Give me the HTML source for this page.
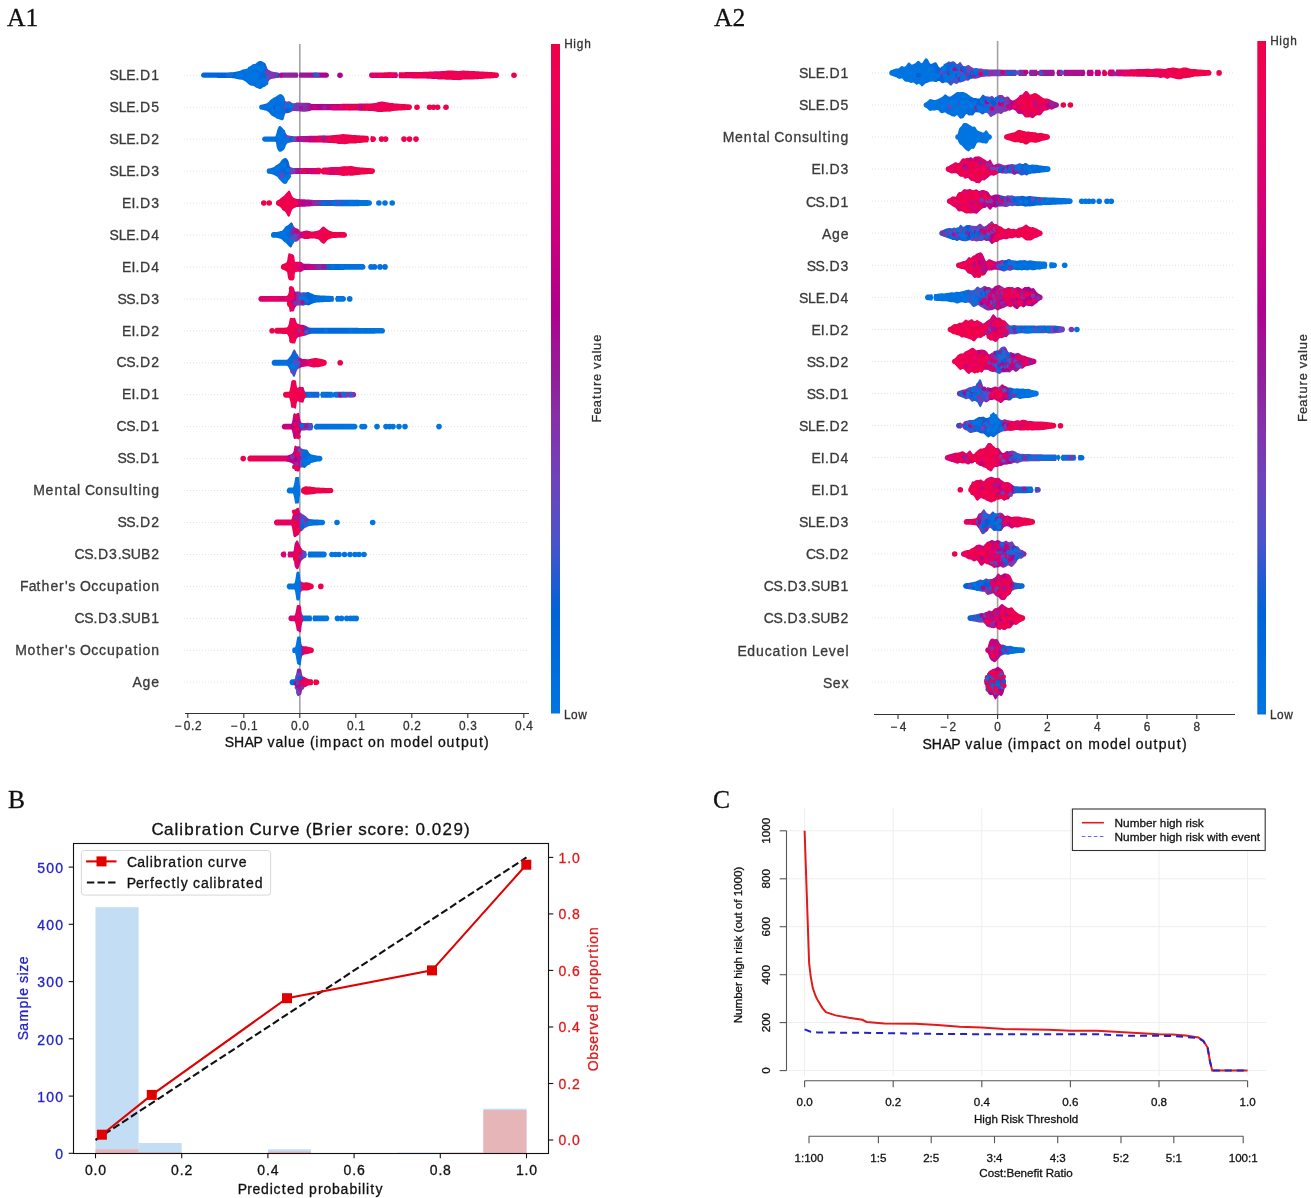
<!DOCTYPE html><html><head><meta charset="utf-8"><style>html,body{margin:0;padding:0;background:#fff;overflow:hidden}</style></head><body><svg width="1311" height="1198" viewBox="0 0 1311 1198" style="display:block;will-change:transform">
<rect width="1311" height="1198" fill="#fff"/>
<text x="7.0" y="26.0" font-size="25.50" text-anchor="start" fill="#111" font-family="Liberation Serif" stroke="#111" stroke-width="0.30">A1</text>
<text x="714.0" y="26.0" font-size="25.50" text-anchor="start" fill="#111" font-family="Liberation Serif" stroke="#111" stroke-width="0.30">A2</text>
<text x="8.0" y="808.0" font-size="25.50" text-anchor="start" fill="#111" font-family="Liberation Serif" stroke="#111" stroke-width="0.30">B</text>
<text x="713.0" y="808.0" font-size="25.50" text-anchor="start" fill="#111" font-family="Liberation Serif" stroke="#111" stroke-width="0.30">C</text>
<line x1="184.0" y1="75.2" x2="528.0" y2="75.2" stroke="#e2e2e2" stroke-width="1" stroke-dasharray="1 2"/>
<line x1="184.0" y1="107.2" x2="528.0" y2="107.2" stroke="#e2e2e2" stroke-width="1" stroke-dasharray="1 2"/>
<line x1="184.0" y1="139.1" x2="528.0" y2="139.1" stroke="#e2e2e2" stroke-width="1" stroke-dasharray="1 2"/>
<line x1="184.0" y1="171.1" x2="528.0" y2="171.1" stroke="#e2e2e2" stroke-width="1" stroke-dasharray="1 2"/>
<line x1="184.0" y1="203.0" x2="528.0" y2="203.0" stroke="#e2e2e2" stroke-width="1" stroke-dasharray="1 2"/>
<line x1="184.0" y1="234.9" x2="528.0" y2="234.9" stroke="#e2e2e2" stroke-width="1" stroke-dasharray="1 2"/>
<line x1="184.0" y1="266.9" x2="528.0" y2="266.9" stroke="#e2e2e2" stroke-width="1" stroke-dasharray="1 2"/>
<line x1="184.0" y1="298.9" x2="528.0" y2="298.9" stroke="#e2e2e2" stroke-width="1" stroke-dasharray="1 2"/>
<line x1="184.0" y1="330.8" x2="528.0" y2="330.8" stroke="#e2e2e2" stroke-width="1" stroke-dasharray="1 2"/>
<line x1="184.0" y1="362.8" x2="528.0" y2="362.8" stroke="#e2e2e2" stroke-width="1" stroke-dasharray="1 2"/>
<line x1="184.0" y1="394.7" x2="528.0" y2="394.7" stroke="#e2e2e2" stroke-width="1" stroke-dasharray="1 2"/>
<line x1="184.0" y1="426.6" x2="528.0" y2="426.6" stroke="#e2e2e2" stroke-width="1" stroke-dasharray="1 2"/>
<line x1="184.0" y1="458.6" x2="528.0" y2="458.6" stroke="#e2e2e2" stroke-width="1" stroke-dasharray="1 2"/>
<line x1="184.0" y1="490.5" x2="528.0" y2="490.5" stroke="#e2e2e2" stroke-width="1" stroke-dasharray="1 2"/>
<line x1="184.0" y1="522.5" x2="528.0" y2="522.5" stroke="#e2e2e2" stroke-width="1" stroke-dasharray="1 2"/>
<line x1="184.0" y1="554.5" x2="528.0" y2="554.5" stroke="#e2e2e2" stroke-width="1" stroke-dasharray="1 2"/>
<line x1="184.0" y1="586.4" x2="528.0" y2="586.4" stroke="#e2e2e2" stroke-width="1" stroke-dasharray="1 2"/>
<line x1="184.0" y1="618.4" x2="528.0" y2="618.4" stroke="#e2e2e2" stroke-width="1" stroke-dasharray="1 2"/>
<line x1="184.0" y1="650.3" x2="528.0" y2="650.3" stroke="#e2e2e2" stroke-width="1" stroke-dasharray="1 2"/>
<line x1="184.0" y1="682.2" x2="528.0" y2="682.2" stroke="#e2e2e2" stroke-width="1" stroke-dasharray="1 2"/>
<line x1="299.8" y1="44.0" x2="299.8" y2="713.5" stroke="#a3a3a3" stroke-width="1.6"/>
<linearGradient id="g1" gradientUnits="userSpaceOnUse" x1="201.0" y1="0" x2="329.0" y2="0"><stop offset="0.0000" stop-color="#0069dc"/><stop offset="0.2266" stop-color="#0063d8"/><stop offset="0.3047" stop-color="#006fdf"/><stop offset="0.3695" stop-color="#006fdf"/><stop offset="0.4156" stop-color="#006fdf"/><stop offset="0.4414" stop-color="#006cde"/><stop offset="0.5000" stop-color="#0069dc"/><stop offset="0.5195" stop-color="#5c4cc4"/><stop offset="0.5523" stop-color="#7c38b2"/><stop offset="0.6305" stop-color="#882da7"/><stop offset="0.7734" stop-color="#981a99"/><stop offset="1.0000" stop-color="#af008f"/></linearGradient>
<mask id="m1" maskUnits="userSpaceOnUse" x="188.6" y="60.2" width="152.8" height="30"><rect x="188.6" y="60.2" width="152.8" height="30" fill="#fff"/><path d="M278.1,70.2H281.0L279.7,75.2L281.0,80.2H278.1L279.4,75.2Z" fill="#000"/><path d="M297.0,70.2H300.0L298.7,75.2L300.0,80.2H297.0L298.3,75.2Z" fill="#000"/></mask>
<path d="M203.6,72.6 204.3,72.6 205.0,72.6 205.7,72.6 206.4,72.6 207.1,72.6 207.8,72.6 208.5,72.6 209.2,72.6 209.9,72.6 210.6,72.6 211.3,72.6 212.0,72.6 212.7,72.6 213.4,72.6 214.1,72.6 214.8,72.6 215.5,72.6 216.2,72.6 216.9,72.6 217.6,72.5 218.3,72.5 219.0,72.5 219.7,72.5 220.4,72.5 221.1,72.5 221.8,72.5 222.5,72.5 223.2,72.5 223.9,72.5 224.7,72.5 225.4,72.5 226.1,72.5 226.8,72.5 227.5,72.4 228.2,72.4 228.9,72.4 229.6,72.4 230.3,72.4 231.0,72.4 231.7,72.3 232.4,72.2 233.1,72.2 233.8,72.1 234.5,71.9 235.2,71.8 235.9,71.7 236.6,71.6 237.3,71.4 238.0,71.3 238.7,71.1 239.4,71.0 240.1,70.7 240.8,70.4 241.5,70.1 242.2,69.7 242.9,69.4 243.6,69.3 244.3,69.3 245.0,69.3 245.7,69.3 246.4,69.3 247.1,69.2 247.8,69.1 248.5,68.7 249.2,68.2 249.9,67.5 250.6,66.7 251.3,65.8 252.0,64.9 252.7,64.3 253.4,64.1 254.1,64.2 254.8,64.2 255.5,63.9 256.2,63.3 256.9,62.5 257.6,61.9 258.3,61.4 259.0,61.2 259.7,61.0 260.4,61.0 261.1,61.0 261.8,61.3 262.5,61.7 263.2,62.1 263.9,62.4 264.6,62.8 265.4,63.4 266.1,65.0 266.8,67.1 267.5,68.7 268.2,69.4 268.9,69.9 269.6,70.3 270.3,70.8 271.0,71.1 271.7,71.4 272.4,71.6 273.1,71.7 273.8,71.9 274.5,72.0 275.2,72.1 275.9,72.2 276.6,72.3 277.3,72.4 278.0,72.4 278.7,72.5 279.4,72.5 280.1,72.6 280.8,72.6 281.5,72.6 282.2,72.6 282.9,72.6 283.6,72.6 284.3,72.6 285.0,72.6 285.7,72.6 286.4,72.6 287.1,72.6 287.8,72.6 288.5,72.6 289.2,72.6 289.9,72.6 290.6,72.6 291.3,72.6 292.0,72.6 292.7,72.6 293.4,72.6 294.1,72.6 294.8,72.6 295.5,72.6 296.2,72.6 296.9,72.6 297.6,72.6 298.3,72.6 299.0,72.6 299.7,72.6 300.4,72.6 301.1,72.6 301.8,72.6 302.5,72.6 303.2,72.6 303.9,72.6 304.6,72.6 305.3,72.6 306.1,72.6 306.8,72.6 307.5,72.6 308.2,72.6 308.9,72.6 309.6,72.6 310.3,72.6 311.0,72.6 311.7,72.6 312.4,72.6 313.1,72.6 313.8,72.6 314.5,72.6 315.2,72.6 315.9,72.6 316.6,72.6 317.3,72.6 318.0,72.6 318.7,72.6 319.4,72.6 320.1,72.6 320.8,72.6 321.5,72.6 322.2,72.6 322.9,72.6 323.6,72.6 324.3,72.6 325.0,72.6 325.7,72.6 326.4,72.6 326.4,72.6 327.4,72.8 328.2,73.4 328.8,74.2 329.0,75.2 328.8,76.2 328.2,77.0 327.4,77.6 326.4,77.8 326.4,77.8 325.7,77.8 325.0,77.8 324.3,77.8 323.6,77.8 322.9,77.8 322.2,77.8 321.5,77.8 320.8,77.8 320.1,77.8 319.4,77.8 318.7,77.8 318.0,77.8 317.3,77.8 316.6,77.8 315.9,77.8 315.2,77.8 314.5,77.8 313.8,77.8 313.1,77.8 312.4,77.8 311.7,77.8 311.0,77.8 310.3,77.8 309.6,77.8 308.9,77.8 308.2,77.8 307.5,77.8 306.8,77.8 306.1,77.8 305.3,77.8 304.6,77.8 303.9,77.8 303.2,77.8 302.5,77.8 301.8,77.8 301.1,77.8 300.4,77.8 299.7,77.8 299.0,77.8 298.3,77.8 297.6,77.8 296.9,77.8 296.2,77.8 295.5,77.8 294.8,77.8 294.1,77.8 293.4,77.8 292.7,77.8 292.0,77.8 291.3,77.8 290.6,77.8 289.9,77.8 289.2,77.8 288.5,77.8 287.8,77.8 287.1,77.8 286.4,77.8 285.7,77.8 285.0,77.8 284.3,77.8 283.6,77.8 282.9,77.8 282.2,77.8 281.5,77.8 280.8,77.8 280.1,77.8 279.4,77.9 278.7,77.9 278.0,78.0 277.3,78.0 276.6,78.1 275.9,78.2 275.2,78.3 274.5,78.4 273.8,78.5 273.1,78.7 272.4,78.8 271.7,78.9 271.0,79.1 270.3,79.5 269.6,80.1 268.9,81.0 268.2,82.0 267.5,82.9 266.8,84.0 266.1,85.4 265.4,86.5 264.6,86.7 263.9,86.9 263.2,87.3 262.5,87.8 261.8,88.3 261.1,88.7 260.4,88.9 259.7,89.0 259.0,88.8 258.3,88.5 257.6,88.2 256.9,87.9 256.2,87.6 255.5,87.2 254.8,86.7 254.1,86.2 253.4,85.9 252.7,85.7 252.0,85.7 251.3,85.7 250.6,85.6 249.9,85.3 249.2,84.8 248.5,84.2 247.8,83.6 247.1,82.9 246.4,82.3 245.7,81.8 245.0,81.3 244.3,80.8 243.6,80.4 242.9,80.1 242.2,79.8 241.5,79.7 240.8,79.7 240.1,79.6 239.4,79.6 238.7,79.4 238.0,79.2 237.3,79.1 236.6,78.9 235.9,78.7 235.2,78.6 234.5,78.5 233.8,78.3 233.1,78.2 232.4,78.2 231.7,78.1 231.0,78.0 230.3,78.0 229.6,78.0 228.9,78.0 228.2,78.0 227.5,78.0 226.8,77.9 226.1,77.9 225.4,77.9 224.7,77.9 223.9,77.9 223.2,77.9 222.5,77.9 221.8,77.9 221.1,77.9 220.4,77.9 219.7,77.9 219.0,77.9 218.3,77.9 217.6,77.9 216.9,77.8 216.2,77.8 215.5,77.8 214.8,77.8 214.1,77.8 213.4,77.8 212.7,77.8 212.0,77.8 211.3,77.8 210.6,77.8 209.9,77.8 209.2,77.8 208.5,77.8 207.8,77.8 207.1,77.8 206.4,77.8 205.7,77.8 205.0,77.8 204.3,77.8 203.6,77.8 203.6,77.8 202.6,77.6 201.8,77.0 201.2,76.2 201.0,75.2 201.2,74.2 201.8,73.4 202.6,72.8 203.6,72.6Z" fill="url(#g1)" mask="url(#m1)"/>
<circle cx="228.2" cy="75.1" r="2.4" fill="#0075e1"/><circle cx="230.3" cy="75.0" r="2.4" fill="#733fb8"/><circle cx="231.0" cy="74.8" r="2.4" fill="#0075e1"/><circle cx="238.0" cy="75.9" r="2.4" fill="#0075e1"/><circle cx="242.2" cy="75.3" r="2.4" fill="#0075e1"/><circle cx="247.1" cy="70.9" r="2.4" fill="#0075e1"/><circle cx="247.8" cy="78.5" r="2.4" fill="#0075e1"/><circle cx="249.9" cy="68.8" r="2.4" fill="#0075e1"/><circle cx="250.6" cy="75.7" r="2.4" fill="#0075e1"/><circle cx="252.0" cy="68.0" r="2.4" fill="#0075e1"/><circle cx="252.7" cy="79.5" r="2.4" fill="#0075e1"/><circle cx="253.4" cy="74.8" r="2.4" fill="#0075e1"/><circle cx="254.1" cy="78.0" r="2.4" fill="#0075e1"/><circle cx="254.8" cy="80.1" r="2.4" fill="#0075e1"/><circle cx="255.5" cy="66.1" r="2.4" fill="#0075e1"/><circle cx="256.2" cy="78.9" r="2.4" fill="#0075e1"/><circle cx="256.9" cy="74.5" r="2.4" fill="#0075e1"/><circle cx="257.6" cy="85.4" r="2.4" fill="#0075e1"/><circle cx="258.3" cy="82.0" r="2.4" fill="#0075e1"/><circle cx="259.0" cy="69.0" r="2.4" fill="#0075e1"/><circle cx="259.7" cy="67.6" r="2.4" fill="#0075e1"/><circle cx="260.4" cy="81.9" r="2.4" fill="#0075e1"/><circle cx="261.1" cy="69.6" r="2.4" fill="#0075e1"/><circle cx="261.8" cy="65.0" r="2.4" fill="#0075e1"/><circle cx="262.5" cy="67.9" r="2.4" fill="#0075e1"/><circle cx="263.9" cy="80.1" r="2.4" fill="#0075e1"/><circle cx="265.4" cy="82.6" r="2.4" fill="#0075e1"/><circle cx="266.1" cy="83.1" r="2.4" fill="#0075e1"/><circle cx="266.8" cy="72.4" r="2.4" fill="#743eb8"/><circle cx="278.7" cy="75.3" r="2.4" fill="#0068db"/><circle cx="280.8" cy="75.4" r="2.4" fill="#c50082"/><circle cx="315.2" cy="75.0" r="2.4" fill="#195cd3"/><circle cx="317.3" cy="75.2" r="2.4" fill="#3358d0"/>
<linearGradient id="g2" gradientUnits="userSpaceOnUse" x1="369.0" y1="0" x2="499.0" y2="0"><stop offset="0.0000" stop-color="#db006f"/><stop offset="0.3923" stop-color="#e30066"/><stop offset="0.5846" stop-color="#e9005c"/><stop offset="0.6846" stop-color="#ef0053"/><stop offset="0.8538" stop-color="#ef0053"/><stop offset="1.0000" stop-color="#ef0048"/></linearGradient>
<mask id="m2" maskUnits="userSpaceOnUse" x="356.6" y="60.2" width="154.8" height="30"><rect x="356.6" y="60.2" width="154.8" height="30" fill="#fff"/><path d="M396.7,70.2H399.6L398.3,75.2L399.6,80.2H396.7L398.0,75.2Z" fill="#000"/></mask>
<path d="M371.6,72.4 372.3,72.4 373.0,72.4 373.7,72.4 374.4,72.4 375.1,72.4 375.8,72.4 376.5,72.4 377.2,72.4 377.9,72.4 378.6,72.4 379.3,72.4 380.0,72.4 380.7,72.4 381.4,72.4 382.1,72.4 382.8,72.4 383.5,72.4 384.2,72.4 384.9,72.4 385.6,72.4 386.3,72.3 387.0,72.3 387.7,72.3 388.4,72.3 389.1,72.3 389.8,72.3 390.5,72.3 391.2,72.3 391.9,72.3 392.6,72.3 393.3,72.3 394.0,72.3 394.7,72.3 395.4,72.3 396.1,72.3 396.8,72.3 397.5,72.2 398.2,72.2 398.9,72.2 399.6,72.2 400.3,72.2 401.0,72.2 401.7,72.2 402.4,72.2 403.2,72.2 403.9,72.2 404.6,72.2 405.3,72.1 406.0,72.1 406.7,72.1 407.4,72.1 408.1,72.1 408.8,72.1 409.5,72.1 410.2,72.1 410.9,72.1 411.6,72.1 412.3,72.0 413.0,72.0 413.7,72.0 414.4,72.0 415.1,72.0 415.8,72.0 416.5,72.0 417.2,72.0 417.9,72.0 418.6,71.9 419.3,71.9 420.0,71.9 420.7,71.9 421.4,71.9 422.1,71.9 422.8,71.9 423.5,71.8 424.2,71.8 424.9,71.8 425.6,71.8 426.3,71.8 427.0,71.7 427.7,71.7 428.4,71.7 429.1,71.6 429.8,71.6 430.5,71.6 431.2,71.5 431.9,71.5 432.6,71.4 433.3,71.4 434.0,71.3 434.7,71.3 435.4,71.3 436.1,71.3 436.8,71.3 437.5,71.3 438.2,71.3 438.9,71.3 439.6,71.2 440.3,71.2 441.0,71.1 441.7,71.0 442.4,71.0 443.1,70.9 443.8,70.9 444.5,70.9 445.2,70.9 445.9,70.8 446.6,70.7 447.3,70.6 448.0,70.5 448.7,70.5 449.4,70.4 450.1,70.5 450.8,70.5 451.5,70.5 452.2,70.5 452.9,70.5 453.6,70.6 454.3,70.7 455.0,70.7 455.7,70.7 456.4,70.8 457.1,70.9 457.8,71.0 458.5,71.1 459.2,71.0 459.9,70.9 460.6,70.8 461.3,70.7 462.0,70.7 462.7,70.6 463.4,70.6 464.1,70.6 464.8,70.7 465.6,70.7 466.3,70.7 467.0,70.7 467.7,70.7 468.4,70.8 469.1,71.0 469.8,71.0 470.5,71.1 471.2,71.1 471.9,71.0 472.6,71.0 473.3,71.0 474.0,71.0 474.7,71.1 475.4,71.2 476.1,71.2 476.8,71.3 477.5,71.3 478.2,71.3 478.9,71.3 479.6,71.4 480.3,71.4 481.0,71.5 481.7,71.5 482.4,71.6 483.1,71.6 483.8,71.6 484.5,71.7 485.2,71.7 485.9,71.8 486.6,71.8 487.3,71.8 488.0,71.9 488.7,71.9 489.4,72.0 490.1,72.0 490.8,72.0 491.5,72.1 492.2,72.1 492.9,72.2 493.6,72.2 494.3,72.3 495.0,72.3 495.7,72.4 496.4,72.4 496.4,72.4 497.4,72.6 498.2,73.2 498.8,74.1 499.0,75.2 498.8,76.3 498.2,77.2 497.4,77.8 496.4,78.0 496.4,78.0 495.7,78.0 495.0,78.1 494.3,78.1 493.6,78.2 492.9,78.2 492.2,78.3 491.5,78.3 490.8,78.4 490.1,78.4 489.4,78.4 488.7,78.5 488.0,78.5 487.3,78.6 486.6,78.6 485.9,78.6 485.2,78.7 484.5,78.7 483.8,78.8 483.1,78.8 482.4,78.9 481.7,78.9 481.0,78.9 480.3,79.0 479.6,79.1 478.9,79.1 478.2,79.2 477.5,79.2 476.8,79.2 476.1,79.2 475.4,79.2 474.7,79.3 474.0,79.4 473.3,79.4 472.6,79.5 471.9,79.5 471.2,79.6 470.5,79.6 469.8,79.6 469.1,79.6 468.4,79.6 467.7,79.5 467.0,79.5 466.3,79.5 465.6,79.5 464.8,79.5 464.1,79.6 463.4,79.6 462.7,79.7 462.0,79.7 461.3,79.8 460.6,79.9 459.9,80.0 459.2,80.2 458.5,80.2 457.8,80.1 457.1,80.0 456.4,79.9 455.7,79.9 455.0,80.0 454.3,80.0 453.6,80.0 452.9,79.9 452.2,79.9 451.5,79.8 450.8,79.7 450.1,79.7 449.4,79.7 448.7,79.7 448.0,79.7 447.3,79.7 446.6,79.7 445.9,79.7 445.2,79.5 444.5,79.4 443.8,79.4 443.1,79.3 442.4,79.4 441.7,79.4 441.0,79.5 440.3,79.5 439.6,79.5 438.9,79.4 438.2,79.4 437.5,79.2 436.8,79.1 436.1,79.1 435.4,79.0 434.7,79.0 434.0,79.0 433.3,78.9 432.6,78.9 431.9,78.9 431.2,78.8 430.5,78.8 429.8,78.8 429.1,78.7 428.4,78.7 427.7,78.7 427.0,78.7 426.3,78.6 425.6,78.6 424.9,78.6 424.2,78.6 423.5,78.6 422.8,78.5 422.1,78.5 421.4,78.5 420.7,78.5 420.0,78.5 419.3,78.5 418.6,78.5 417.9,78.4 417.2,78.4 416.5,78.4 415.8,78.4 415.1,78.4 414.4,78.4 413.7,78.4 413.0,78.4 412.3,78.4 411.6,78.3 410.9,78.3 410.2,78.3 409.5,78.3 408.8,78.3 408.1,78.3 407.4,78.3 406.7,78.3 406.0,78.3 405.3,78.3 404.6,78.2 403.9,78.2 403.2,78.2 402.4,78.2 401.7,78.2 401.0,78.2 400.3,78.2 399.6,78.2 398.9,78.2 398.2,78.2 397.5,78.2 396.8,78.1 396.1,78.1 395.4,78.1 394.7,78.1 394.0,78.1 393.3,78.1 392.6,78.1 391.9,78.1 391.2,78.1 390.5,78.1 389.8,78.1 389.1,78.1 388.4,78.1 387.7,78.1 387.0,78.1 386.3,78.1 385.6,78.0 384.9,78.0 384.2,78.0 383.5,78.0 382.8,78.0 382.1,78.0 381.4,78.0 380.7,78.0 380.0,78.0 379.3,78.0 378.6,78.0 377.9,78.0 377.2,78.0 376.5,78.0 375.8,78.0 375.1,78.0 374.4,78.0 373.7,78.0 373.0,78.0 372.3,78.0 371.6,78.0 371.6,78.0 370.6,77.8 369.8,77.2 369.2,76.3 369.0,75.2 369.2,74.1 369.8,73.2 370.6,72.6 371.6,72.4Z" fill="url(#g2)" mask="url(#m2)"/>
<circle cx="381.4" cy="75.5" r="2.4" fill="#ef0048"/><circle cx="384.9" cy="74.8" r="2.4" fill="#ef0048"/><circle cx="389.8" cy="74.7" r="2.4" fill="#ef0052"/><circle cx="402.4" cy="75.4" r="2.4" fill="#ef0048"/><circle cx="407.4" cy="75.2" r="2.4" fill="#ef0048"/><circle cx="408.1" cy="75.6" r="2.4" fill="#ef0048"/><circle cx="415.8" cy="75.8" r="2.4" fill="#ef0048"/><circle cx="416.5" cy="75.8" r="2.4" fill="#ef0048"/><circle cx="420.7" cy="74.9" r="2.4" fill="#ef0048"/><circle cx="429.8" cy="74.6" r="2.4" fill="#ef0048"/><circle cx="445.2" cy="76.7" r="2.4" fill="#ef0048"/><circle cx="448.7" cy="73.4" r="2.4" fill="#ef0048"/>
<circle cx="340.0" cy="75.2" r="2.8" fill="#af008f"/>
<circle cx="514.0" cy="75.2" r="2.8" fill="#ef0048"/>
<text x="109.6 118.7 126.3 135.6 140.1 151.2" y="79.9" font-size="14.00" fill="#3a3a3a" font-family="Liberation Sans" stroke="#3a3a3a" stroke-width="0.30">SLE.D1</text>
<linearGradient id="g3" gradientUnits="userSpaceOnUse" x1="259.2" y1="0" x2="412.0" y2="0"><stop offset="0.0000" stop-color="#006fdf"/><stop offset="0.0183" stop-color="#006fdf"/><stop offset="0.0543" stop-color="#006fdf"/><stop offset="0.0818" stop-color="#006fdf"/><stop offset="0.1034" stop-color="#006fdf"/><stop offset="0.1361" stop-color="#006fdf"/><stop offset="0.1584" stop-color="#006cde"/><stop offset="0.1721" stop-color="#5c4cc4"/><stop offset="0.1963" stop-color="#6e43bc"/><stop offset="0.2238" stop-color="#7c38b2"/><stop offset="0.2539" stop-color="#7c38b2"/><stop offset="0.2866" stop-color="#8134ae"/><stop offset="0.3259" stop-color="#911e9b"/><stop offset="0.3455" stop-color="#af008f"/><stop offset="0.5288" stop-color="#c80080"/><stop offset="0.7251" stop-color="#e30066"/><stop offset="0.8102" stop-color="#ef0053"/><stop offset="0.8887" stop-color="#ef0053"/><stop offset="1.0000" stop-color="#ef0048"/></linearGradient>
<path d="M260.6,104.8 261.3,104.7 262.0,104.5 262.7,104.4 263.4,104.3 264.1,104.1 264.8,103.9 265.5,103.7 266.2,103.5 266.9,103.2 267.6,102.8 268.3,102.2 269.0,101.5 269.7,100.8 270.4,100.1 271.1,99.5 271.8,99.0 272.5,98.5 273.2,98.1 273.9,97.6 274.6,97.2 275.3,96.9 276.0,96.5 276.7,96.1 277.4,95.8 278.1,95.4 278.8,95.0 279.6,94.5 280.3,94.2 281.0,94.1 281.7,94.4 282.4,94.9 283.1,95.5 283.8,96.5 284.5,98.8 285.2,100.8 285.9,101.3 286.6,101.4 287.3,101.4 288.0,101.4 288.7,101.2 289.4,101.3 290.1,101.5 290.8,102.0 291.5,102.5 292.2,103.0 292.9,103.3 293.6,103.3 294.3,103.3 295.0,103.1 295.7,102.9 296.4,102.6 297.1,102.4 297.8,102.4 298.5,102.5 299.2,102.6 299.9,102.7 300.6,102.8 301.3,102.8 302.0,102.8 302.7,102.8 303.4,102.8 304.1,102.8 304.8,102.8 305.5,102.8 306.2,102.7 306.9,102.7 307.6,102.7 308.3,102.8 309.0,102.9 309.7,103.1 310.4,103.5 311.1,103.8 311.8,104.1 312.5,104.1 313.2,104.1 313.9,104.1 314.6,104.1 315.3,104.1 316.0,104.1 316.8,104.1 317.5,104.1 318.2,104.0 318.9,104.0 319.6,104.0 320.3,104.0 321.0,104.0 321.7,104.0 322.4,104.0 323.1,104.0 323.8,104.0 324.5,104.0 325.2,104.0 325.9,104.0 326.6,104.0 327.3,104.0 328.0,104.0 328.7,104.0 329.4,104.0 330.1,104.0 330.8,104.0 331.5,104.0 332.2,103.9 332.9,103.9 333.6,103.9 334.3,103.9 335.0,103.9 335.7,103.9 336.4,103.9 337.1,103.9 337.8,103.9 338.5,103.9 339.2,103.9 339.9,103.9 340.6,103.9 341.3,103.9 342.0,103.8 342.7,103.8 343.4,103.8 344.1,103.8 344.8,103.8 345.5,103.8 346.2,103.8 346.9,103.8 347.6,103.8 348.3,103.8 349.0,103.8 349.7,103.8 350.4,103.8 351.1,103.8 351.8,103.7 352.5,103.7 353.2,103.7 354.0,103.7 354.7,103.7 355.4,103.7 356.1,103.7 356.8,103.7 357.5,103.7 358.2,103.7 358.9,103.6 359.6,103.6 360.3,103.6 361.0,103.6 361.7,103.6 362.4,103.6 363.1,103.6 363.8,103.6 364.5,103.6 365.2,103.5 365.9,103.5 366.6,103.5 367.3,103.5 368.0,103.5 368.7,103.5 369.4,103.5 370.1,103.5 370.8,103.4 371.5,103.4 372.2,103.3 372.9,103.2 373.6,103.2 374.3,103.1 375.0,103.0 375.7,102.9 376.4,102.7 377.1,102.5 377.8,102.2 378.5,102.0 379.2,101.8 379.9,101.8 380.6,101.7 381.3,101.6 382.0,101.6 382.7,101.6 383.4,101.7 384.1,101.8 384.8,102.0 385.5,102.1 386.2,102.2 386.9,102.3 387.6,102.4 388.3,102.6 389.0,102.8 389.7,102.9 390.4,103.0 391.2,103.0 391.9,103.0 392.6,103.1 393.3,103.2 394.0,103.3 394.7,103.4 395.4,103.4 396.1,103.5 396.8,103.5 397.5,103.6 398.2,103.7 398.9,103.7 399.6,103.8 400.3,103.8 401.0,103.9 401.7,103.9 402.4,104.0 403.1,104.0 403.8,104.1 404.5,104.1 405.2,104.1 405.9,104.2 406.6,104.2 407.3,104.3 408.0,104.3 408.7,104.3 409.4,104.4 409.4,104.4 410.4,104.6 411.2,105.2 411.8,106.1 412.0,107.2 411.8,108.2 411.2,109.1 410.4,109.7 409.4,110.0 409.4,110.0 408.7,110.0 408.0,110.0 407.3,110.0 406.6,110.1 405.9,110.1 405.2,110.2 404.5,110.2 403.8,110.2 403.1,110.3 402.4,110.3 401.7,110.4 401.0,110.4 400.3,110.5 399.6,110.5 398.9,110.6 398.2,110.6 397.5,110.7 396.8,110.8 396.1,110.8 395.4,110.8 394.7,110.8 394.0,110.9 393.3,110.9 392.6,111.0 391.9,111.2 391.2,111.4 390.4,111.6 389.7,111.7 389.0,111.7 388.3,111.7 387.6,111.6 386.9,111.7 386.2,111.8 385.5,111.8 384.8,111.8 384.1,111.8 383.4,111.8 382.7,111.9 382.0,111.9 381.3,111.9 380.6,111.9 379.9,111.9 379.2,111.9 378.5,111.9 377.8,111.9 377.1,111.8 376.4,111.7 375.7,111.6 375.0,111.4 374.3,111.3 373.6,111.2 372.9,111.1 372.2,111.0 371.5,111.0 370.8,110.9 370.1,110.9 369.4,110.9 368.7,110.9 368.0,110.9 367.3,110.8 366.6,110.8 365.9,110.8 365.2,110.8 364.5,110.8 363.8,110.7 363.1,110.7 362.4,110.7 361.7,110.7 361.0,110.7 360.3,110.7 359.6,110.7 358.9,110.7 358.2,110.6 357.5,110.6 356.8,110.6 356.1,110.6 355.4,110.6 354.7,110.6 354.0,110.6 353.2,110.6 352.5,110.6 351.8,110.6 351.1,110.5 350.4,110.5 349.7,110.5 349.0,110.5 348.3,110.5 347.6,110.5 346.9,110.5 346.2,110.5 345.5,110.5 344.8,110.5 344.1,110.5 343.4,110.5 342.7,110.5 342.0,110.5 341.3,110.4 340.6,110.4 339.9,110.4 339.2,110.4 338.5,110.4 337.8,110.4 337.1,110.4 336.4,110.4 335.7,110.4 335.0,110.4 334.3,110.4 333.6,110.4 332.9,110.4 332.2,110.4 331.5,110.3 330.8,110.3 330.1,110.3 329.4,110.3 328.7,110.3 328.0,110.3 327.3,110.3 326.6,110.3 325.9,110.3 325.2,110.3 324.5,110.3 323.8,110.3 323.1,110.3 322.4,110.3 321.7,110.3 321.0,110.3 320.3,110.3 319.6,110.3 318.9,110.3 318.2,110.3 317.5,110.2 316.8,110.2 316.0,110.2 315.3,110.2 314.6,110.2 313.9,110.2 313.2,110.2 312.5,110.2 311.8,110.2 311.1,110.5 310.4,110.8 309.7,111.1 309.0,111.2 308.3,111.3 307.6,111.4 306.9,111.5 306.2,111.6 305.5,111.7 304.8,111.8 304.1,111.8 303.4,111.8 302.7,111.7 302.0,111.7 301.3,111.6 300.6,111.5 299.9,111.4 299.2,111.3 298.5,111.3 297.8,111.3 297.1,111.3 296.4,111.2 295.7,111.1 295.0,111.0 294.3,110.9 293.6,110.9 292.9,110.9 292.2,111.2 291.5,111.7 290.8,112.1 290.1,112.5 289.4,112.8 288.7,113.0 288.0,113.1 287.3,113.2 286.6,113.2 285.9,113.3 285.2,113.7 284.5,116.1 283.8,118.7 283.1,119.9 282.4,120.3 281.7,120.3 281.0,120.0 280.3,119.7 279.6,119.5 278.8,119.2 278.1,118.9 277.4,118.6 276.7,118.4 276.0,118.0 275.3,117.6 274.6,117.2 273.9,116.8 273.2,116.4 272.5,116.1 271.8,115.7 271.1,115.1 270.4,114.3 269.7,113.4 269.0,112.6 268.3,111.9 267.6,111.4 266.9,111.1 266.2,110.8 265.5,110.6 264.8,110.4 264.1,110.2 263.4,110.0 262.7,109.9 262.0,109.8 261.3,109.6 260.6,109.6 260.6,109.6 260.1,109.4 259.6,108.8 259.3,108.1 259.2,107.2 259.3,106.2 259.6,105.5 260.1,104.9 260.6,104.8Z" fill="url(#g3)"/>
<circle cx="269.7" cy="105.2" r="2.4" fill="#0075e1"/><circle cx="273.2" cy="101.4" r="2.4" fill="#0075e1"/><circle cx="273.9" cy="109.0" r="2.4" fill="#0075e1"/><circle cx="275.3" cy="107.5" r="2.4" fill="#0061d7"/><circle cx="277.4" cy="108.5" r="2.4" fill="#0075e1"/><circle cx="278.1" cy="116.4" r="2.4" fill="#0075e1"/><circle cx="279.6" cy="97.0" r="2.4" fill="#0075e1"/><circle cx="280.3" cy="97.3" r="2.4" fill="#0075e1"/><circle cx="281.0" cy="116.9" r="2.4" fill="#0075e1"/><circle cx="282.4" cy="99.3" r="2.4" fill="#0075e1"/><circle cx="287.3" cy="110.7" r="2.4" fill="#0062d7"/><circle cx="288.0" cy="105.4" r="2.4" fill="#0075e1"/><circle cx="290.1" cy="108.9" r="2.4" fill="#006dde"/><circle cx="291.5" cy="105.7" r="2.4" fill="#0075e1"/><circle cx="301.3" cy="108.0" r="2.4" fill="#991999"/><circle cx="314.6" cy="107.4" r="2.4" fill="#d20078"/><circle cx="324.5" cy="107.7" r="2.4" fill="#8e24a0"/><circle cx="330.8" cy="106.8" r="2.4" fill="#a11296"/><circle cx="333.6" cy="107.7" r="2.4" fill="#de006c"/><circle cx="334.3" cy="107.7" r="2.4" fill="#e10069"/><circle cx="341.3" cy="106.4" r="2.4" fill="#ef0052"/><circle cx="346.9" cy="107.6" r="2.4" fill="#ef0048"/><circle cx="347.6" cy="107.7" r="2.4" fill="#ef0048"/><circle cx="349.7" cy="108.0" r="2.4" fill="#ef0048"/><circle cx="355.4" cy="107.2" r="2.4" fill="#ef0048"/><circle cx="361.7" cy="108.0" r="2.4" fill="#a40f95"/><circle cx="364.5" cy="108.3" r="2.4" fill="#ef004d"/><circle cx="367.3" cy="106.1" r="2.4" fill="#ef0049"/><circle cx="368.0" cy="107.4" r="2.4" fill="#ef0048"/><circle cx="371.5" cy="106.1" r="2.4" fill="#ef0048"/>
<circle cx="417.0" cy="107.2" r="2.8" fill="#ef0048"/>
<circle cx="429.6" cy="107.2" r="2.8" fill="#ef0048"/>
<circle cx="433.5" cy="107.2" r="2.8" fill="#ef0048"/>
<circle cx="437.6" cy="107.2" r="2.8" fill="#ef0048"/>
<circle cx="446.0" cy="107.2" r="2.8" fill="#ef0048"/>
<text x="109.6 118.7 126.3 135.6 140.1 151.2" y="111.9" font-size="14.00" fill="#3a3a3a" font-family="Liberation Sans" stroke="#3a3a3a" stroke-width="0.30">SLE.D5</text>
<linearGradient id="g4" gradientUnits="userSpaceOnUse" x1="262.1" y1="0" x2="376.0" y2="0"><stop offset="0.0000" stop-color="#006fdf"/><stop offset="0.1212" stop-color="#006fdf"/><stop offset="0.1282" stop-color="#006fdf"/><stop offset="0.1572" stop-color="#006fdf"/><stop offset="0.1940" stop-color="#006cde"/><stop offset="0.2239" stop-color="#5c4cc4"/><stop offset="0.2888" stop-color="#882da7"/><stop offset="0.4205" stop-color="#c80080"/><stop offset="0.5961" stop-color="#e9005c"/><stop offset="0.7103" stop-color="#ef0053"/><stop offset="0.8595" stop-color="#ef0048"/><stop offset="1.0000" stop-color="#ef0048"/></linearGradient>
<mask id="m4" maskUnits="userSpaceOnUse" x="249.7" y="124.1" width="138.7" height="30"><rect x="249.7" y="124.1" width="138.7" height="30" fill="#fff"/><path d="M367.8,134.1H371.5L370.2,139.1L371.5,144.1H367.8L369.1,139.1Z" fill="#000"/></mask>
<path d="M264.7,136.5 265.4,136.5 266.1,136.5 266.8,136.5 267.5,136.5 268.2,136.5 268.9,136.5 269.6,136.5 270.3,136.5 271.0,136.5 271.7,136.4 272.4,136.4 273.1,136.4 273.8,136.4 274.5,136.4 275.2,136.3 275.9,136.3 276.6,132.4 277.3,130.0 278.0,128.1 278.7,126.7 279.4,126.0 280.1,126.0 280.8,126.3 281.5,126.9 282.2,127.7 282.9,128.6 283.6,129.5 284.3,130.2 285.0,131.4 285.7,132.9 286.4,134.1 287.1,135.0 287.8,135.3 288.5,135.4 289.2,135.5 289.9,135.7 290.6,135.8 291.3,135.9 292.1,136.0 292.8,136.1 293.5,136.2 294.2,136.2 294.9,136.2 295.6,136.2 296.3,136.2 297.0,136.2 297.7,136.2 298.4,136.2 299.1,136.2 299.8,136.1 300.5,136.1 301.2,136.1 301.9,136.1 302.6,136.1 303.3,136.0 304.0,136.0 304.7,136.0 305.4,136.0 306.1,135.9 306.8,135.9 307.5,135.9 308.2,135.9 308.9,135.8 309.6,135.8 310.3,135.8 311.0,135.8 311.7,135.8 312.4,135.8 313.1,135.7 313.8,135.7 314.5,135.7 315.2,135.7 315.9,135.7 316.6,135.7 317.3,135.7 318.0,135.7 318.7,135.6 319.4,135.6 320.1,135.6 320.8,135.6 321.5,135.6 322.2,135.6 322.9,135.5 323.6,135.5 324.3,135.5 325.0,135.5 325.7,135.5 326.4,135.5 327.1,135.4 327.8,135.4 328.5,135.4 329.2,135.4 329.9,135.4 330.6,135.3 331.3,135.3 332.0,135.2 332.7,135.2 333.4,135.1 334.1,135.1 334.8,135.0 335.5,134.9 336.2,134.8 336.9,134.8 337.6,134.7 338.3,134.7 339.0,134.6 339.7,134.5 340.4,134.4 341.1,134.3 341.8,134.2 342.5,134.1 343.2,134.1 343.9,134.1 344.6,134.2 345.3,134.3 346.0,134.3 346.8,134.3 347.5,134.4 348.2,134.4 348.9,134.5 349.6,134.6 350.3,134.8 351.0,134.8 351.7,134.8 352.4,134.9 353.1,134.9 353.8,135.0 354.5,135.0 355.2,135.1 355.9,135.1 356.6,135.2 357.3,135.2 358.0,135.2 358.7,135.3 359.4,135.3 360.1,135.4 360.8,135.4 361.5,135.5 362.2,135.5 362.9,135.5 363.6,135.6 364.3,135.6 365.0,135.7 365.7,135.7 366.4,135.8 367.1,135.8 367.8,135.9 368.5,135.9 369.2,136.0 369.9,136.0 370.6,136.1 371.3,136.1 372.0,136.2 372.7,136.2 373.4,136.3 373.4,136.3 374.4,136.5 375.2,137.1 375.8,138.0 376.0,139.1 375.8,140.2 375.2,141.1 374.4,141.7 373.4,141.9 373.4,141.9 372.7,142.0 372.0,142.0 371.3,142.1 370.6,142.1 369.9,142.2 369.2,142.2 368.5,142.3 367.8,142.3 367.1,142.4 366.4,142.4 365.7,142.5 365.0,142.5 364.3,142.6 363.6,142.6 362.9,142.7 362.2,142.8 361.5,142.8 360.8,142.9 360.1,143.0 359.4,143.0 358.7,143.0 358.0,143.1 357.3,143.1 356.6,143.3 355.9,143.4 355.2,143.5 354.5,143.6 353.8,143.6 353.1,143.6 352.4,143.6 351.7,143.6 351.0,143.6 350.3,143.6 349.6,143.6 348.9,143.7 348.2,143.7 347.5,143.8 346.8,143.9 346.0,144.0 345.3,144.2 344.6,144.3 343.9,144.2 343.2,144.1 342.5,144.0 341.8,143.9 341.1,143.9 340.4,143.9 339.7,144.0 339.0,144.0 338.3,143.9 337.6,143.7 336.9,143.6 336.2,143.4 335.5,143.3 334.8,143.3 334.1,143.2 333.4,143.2 332.7,143.1 332.0,143.1 331.3,143.0 330.6,143.0 329.9,143.0 329.2,143.0 328.5,142.9 327.8,142.9 327.1,142.8 326.4,142.8 325.7,142.7 325.0,142.7 324.3,142.7 323.6,142.7 322.9,142.7 322.2,142.6 321.5,142.6 320.8,142.6 320.1,142.6 319.4,142.6 318.7,142.6 318.0,142.5 317.3,142.5 316.6,142.5 315.9,142.5 315.2,142.5 314.5,142.5 313.8,142.5 313.1,142.5 312.4,142.4 311.7,142.4 311.0,142.4 310.3,142.4 309.6,142.4 308.9,142.4 308.2,142.3 307.5,142.3 306.8,142.3 306.1,142.3 305.4,142.2 304.7,142.2 304.0,142.2 303.3,142.2 302.6,142.1 301.9,142.1 301.2,142.1 300.5,142.1 299.8,142.1 299.1,142.0 298.4,142.0 297.7,142.0 297.0,142.0 296.3,142.0 295.6,142.0 294.9,142.0 294.2,142.0 293.5,142.0 292.8,142.1 292.1,142.2 291.3,142.3 290.6,142.4 289.9,142.5 289.2,142.7 288.5,142.9 287.8,143.0 287.1,143.4 286.4,144.5 285.7,146.1 285.0,148.0 284.3,149.2 283.6,149.9 282.9,150.4 282.2,151.0 281.5,151.4 280.8,151.7 280.1,151.8 279.4,151.7 278.7,151.2 278.0,150.3 277.3,148.9 276.6,146.8 275.9,141.9 275.2,141.9 274.5,141.8 273.8,141.8 273.1,141.8 272.4,141.8 271.7,141.8 271.0,141.7 270.3,141.7 269.6,141.7 268.9,141.7 268.2,141.7 267.5,141.7 266.8,141.7 266.1,141.7 265.4,141.7 264.7,141.7 264.7,141.7 263.7,141.5 262.9,140.9 262.3,140.1 262.1,139.1 262.3,138.1 262.9,137.3 263.7,136.7 264.7,136.5Z" fill="url(#g4)" mask="url(#m4)"/>
<circle cx="278.0" cy="136.0" r="2.4" fill="#0075e1"/><circle cx="280.8" cy="137.8" r="2.4" fill="#0075e1"/><circle cx="281.5" cy="145.8" r="2.4" fill="#0075e1"/><circle cx="282.2" cy="145.9" r="2.4" fill="#0075e1"/><circle cx="282.9" cy="132.0" r="2.4" fill="#0075e1"/><circle cx="285.0" cy="141.7" r="2.4" fill="#0075e1"/><circle cx="287.1" cy="140.9" r="2.4" fill="#0075e1"/><circle cx="291.3" cy="139.4" r="2.4" fill="#0066da"/><circle cx="294.2" cy="139.3" r="2.4" fill="#4853cb"/><circle cx="298.4" cy="138.9" r="2.4" fill="#c00086"/><circle cx="318.7" cy="138.6" r="2.4" fill="#ef0048"/><circle cx="323.6" cy="138.0" r="2.4" fill="#951c9a"/><circle cx="330.6" cy="140.3" r="2.4" fill="#ef0048"/><circle cx="334.8" cy="140.1" r="2.4" fill="#ef0048"/>
<circle cx="381.5" cy="139.1" r="2.8" fill="#ef0048"/>
<circle cx="385.6" cy="139.1" r="2.8" fill="#ef0048"/>
<circle cx="404.0" cy="139.1" r="2.8" fill="#ef0048"/>
<circle cx="409.5" cy="139.1" r="2.8" fill="#ef0048"/>
<circle cx="416.0" cy="139.1" r="2.8" fill="#ef0048"/>
<text x="109.6 118.7 126.3 135.6 140.1 151.2" y="143.8" font-size="14.00" fill="#3a3a3a" font-family="Liberation Sans" stroke="#3a3a3a" stroke-width="0.30">SLE.D2</text>
<linearGradient id="g5" gradientUnits="userSpaceOnUse" x1="266.7" y1="0" x2="375.0" y2="0"><stop offset="0.0000" stop-color="#006fdf"/><stop offset="0.0305" stop-color="#006fdf"/><stop offset="0.0766" stop-color="#006fdf"/><stop offset="0.1228" stop-color="#006fdf"/><stop offset="0.1690" stop-color="#0069dc"/><stop offset="0.2004" stop-color="#0063d8"/><stop offset="0.2151" stop-color="#6e43bc"/><stop offset="0.2539" stop-color="#882da7"/><stop offset="0.3075" stop-color="#bc0088"/><stop offset="0.4922" stop-color="#e30066"/><stop offset="0.7415" stop-color="#ef0053"/><stop offset="0.9077" stop-color="#ef0048"/><stop offset="1.0000" stop-color="#ef0048"/></linearGradient>
<mask id="m5" maskUnits="userSpaceOnUse" x="253.4" y="156.1" width="134.0" height="30"><rect x="253.4" y="156.1" width="134.0" height="30" fill="#fff"/><path d="M319.5,166.1H322.8L321.5,171.1L322.8,176.1H319.5L320.8,171.1Z" fill="#000"/></mask>
<path d="M268.4,168.5 269.1,168.4 269.8,168.3 270.5,168.2 271.2,168.0 271.9,167.8 272.6,167.6 273.3,167.3 274.0,166.9 274.7,166.5 275.4,166.1 276.1,165.7 276.8,165.1 277.5,164.5 278.2,164.0 278.9,163.5 279.6,162.9 280.3,162.1 281.0,161.0 281.7,159.9 282.4,159.2 283.1,158.8 283.8,158.5 284.5,158.3 285.2,158.0 285.9,158.0 286.6,158.4 287.3,159.2 288.0,160.3 288.7,161.8 289.4,164.9 290.1,166.7 290.8,167.1 291.6,167.5 292.3,167.8 293.0,167.9 293.7,168.0 294.4,168.1 295.1,168.1 295.8,168.1 296.5,168.1 297.2,168.1 297.9,168.1 298.6,168.1 299.3,168.1 300.0,168.1 300.7,168.1 301.4,168.1 302.1,168.1 302.8,168.0 303.5,168.0 304.2,168.0 304.9,168.0 305.6,168.0 306.3,168.0 307.0,168.0 307.7,168.0 308.4,168.0 309.1,168.0 309.8,168.0 310.5,168.0 311.2,167.9 311.9,167.9 312.6,167.9 313.3,167.9 314.0,167.9 314.8,167.9 315.5,167.9 316.2,167.9 316.9,167.8 317.6,167.8 318.3,167.8 319.0,167.8 319.7,167.8 320.4,167.8 321.1,167.7 321.8,167.7 322.5,167.7 323.2,167.7 323.9,167.6 324.6,167.6 325.3,167.5 326.0,167.5 326.7,167.5 327.4,167.4 328.1,167.4 328.8,167.3 329.5,167.2 330.2,167.2 330.9,167.1 331.6,167.0 332.3,167.0 333.0,166.9 333.7,166.9 334.4,166.9 335.1,166.9 335.8,166.9 336.5,166.9 337.2,166.9 338.0,166.9 338.7,166.9 339.4,166.9 340.1,166.8 340.8,166.8 341.5,166.6 342.2,166.5 342.9,166.3 343.6,166.2 344.3,166.1 345.0,166.2 345.7,166.2 346.4,166.2 347.1,166.2 347.8,166.2 348.5,166.2 349.2,166.1 349.9,166.0 350.6,166.0 351.3,166.0 352.0,166.1 352.7,166.3 353.4,166.4 354.1,166.5 354.8,166.7 355.5,166.9 356.2,167.0 356.9,167.1 357.6,167.2 358.3,167.2 359.0,167.3 359.7,167.3 360.4,167.4 361.2,167.5 361.9,167.5 362.6,167.6 363.3,167.6 364.0,167.7 364.7,167.7 365.4,167.8 366.1,167.8 366.8,167.9 367.5,167.9 368.2,168.0 368.9,168.0 369.6,168.1 370.3,168.1 371.0,168.2 371.7,168.2 372.4,168.2 372.4,168.2 373.4,168.5 374.2,169.1 374.8,170.0 375.0,171.1 374.8,172.1 374.2,173.0 373.4,173.6 372.4,173.9 372.4,173.9 371.7,173.9 371.0,173.9 370.3,174.0 369.6,174.0 368.9,174.1 368.2,174.1 367.5,174.2 366.8,174.2 366.1,174.3 365.4,174.3 364.7,174.4 364.0,174.4 363.3,174.5 362.6,174.5 361.9,174.6 361.2,174.6 360.4,174.7 359.7,174.8 359.0,174.9 358.3,175.0 357.6,175.1 356.9,175.1 356.2,175.2 355.5,175.2 354.8,175.3 354.1,175.4 353.4,175.6 352.7,175.7 352.0,175.8 351.3,175.8 350.6,175.8 349.9,175.7 349.2,175.6 348.5,175.6 347.8,175.7 347.1,175.7 346.4,175.7 345.7,175.8 345.0,175.8 344.3,175.9 343.6,175.9 342.9,175.9 342.2,175.8 341.5,175.7 340.8,175.5 340.1,175.4 339.4,175.3 338.7,175.2 338.0,175.1 337.2,175.0 336.5,175.0 335.8,175.0 335.1,175.0 334.4,174.9 333.7,174.9 333.0,174.9 332.3,174.9 331.6,174.9 330.9,174.9 330.2,174.9 329.5,174.9 328.8,174.8 328.1,174.7 327.4,174.7 326.7,174.7 326.0,174.6 325.3,174.6 324.6,174.5 323.9,174.5 323.2,174.4 322.5,174.4 321.8,174.4 321.1,174.4 320.4,174.3 319.7,174.3 319.0,174.3 318.3,174.3 317.6,174.3 316.9,174.3 316.2,174.2 315.5,174.2 314.8,174.2 314.0,174.2 313.3,174.2 312.6,174.2 311.9,174.2 311.2,174.2 310.5,174.1 309.8,174.1 309.1,174.1 308.4,174.1 307.7,174.1 307.0,174.1 306.3,174.1 305.6,174.1 304.9,174.1 304.2,174.1 303.5,174.1 302.8,174.1 302.1,174.0 301.4,174.0 300.7,174.0 300.0,174.0 299.3,174.0 298.6,174.0 297.9,174.0 297.2,174.0 296.5,174.0 295.8,174.0 295.1,174.0 294.4,174.0 293.7,174.1 293.0,174.2 292.3,174.3 291.6,174.6 290.8,174.8 290.1,175.1 289.4,176.3 288.7,179.1 288.0,180.7 287.3,181.6 286.6,182.4 285.9,182.9 285.2,183.3 284.5,183.4 283.8,183.5 283.1,183.3 282.4,182.8 281.7,182.0 281.0,181.2 280.3,180.4 279.6,179.7 278.9,178.9 278.2,177.9 277.5,177.1 276.8,176.6 276.1,176.2 275.4,175.8 274.7,175.4 274.0,175.1 273.3,174.7 272.6,174.5 271.9,174.3 271.2,174.1 270.5,173.9 269.8,173.8 269.1,173.7 268.4,173.7 268.4,173.7 267.7,173.5 267.2,172.9 266.8,172.0 266.7,171.1 266.8,170.1 267.2,169.2 267.7,168.6 268.4,168.5Z" fill="url(#g5)" mask="url(#m5)"/>
<circle cx="276.8" cy="168.8" r="2.4" fill="#0075e1"/><circle cx="277.5" cy="167.1" r="2.4" fill="#0075e1"/><circle cx="280.3" cy="175.3" r="2.4" fill="#0075e1"/><circle cx="281.7" cy="175.0" r="2.4" fill="#7140ba"/><circle cx="282.4" cy="177.8" r="2.4" fill="#6c44bd"/><circle cx="283.1" cy="179.3" r="2.4" fill="#0075e1"/><circle cx="283.8" cy="165.9" r="2.4" fill="#0075e1"/><circle cx="284.5" cy="164.7" r="2.4" fill="#0075e1"/><circle cx="285.2" cy="181.6" r="2.4" fill="#0075e1"/><circle cx="285.9" cy="178.6" r="2.4" fill="#0075e1"/><circle cx="286.6" cy="177.4" r="2.4" fill="#0075e1"/><circle cx="287.3" cy="178.2" r="2.4" fill="#0075e1"/><circle cx="288.0" cy="170.3" r="2.4" fill="#0075e1"/><circle cx="288.7" cy="176.2" r="2.4" fill="#0075e1"/><circle cx="293.0" cy="170.5" r="2.4" fill="#6349c1"/><circle cx="302.1" cy="170.7" r="2.4" fill="#7240b9"/><circle cx="302.8" cy="171.1" r="2.4" fill="#ea005b"/><circle cx="304.2" cy="171.6" r="2.4" fill="#ef0048"/><circle cx="319.7" cy="170.3" r="2.4" fill="#ef0048"/><circle cx="321.8" cy="171.4" r="2.4" fill="#ef0048"/><circle cx="332.3" cy="171.4" r="2.4" fill="#cc007d"/><circle cx="343.6" cy="172.2" r="2.4" fill="#ef0048"/>
<text x="109.6 118.7 126.3 135.6 140.1 151.2" y="175.8" font-size="14.00" fill="#3a3a3a" font-family="Liberation Sans" stroke="#3a3a3a" stroke-width="0.30">SLE.D3</text>
<linearGradient id="g6" gradientUnits="userSpaceOnUse" x1="275.9" y1="0" x2="372.0" y2="0"><stop offset="0.0000" stop-color="#ef0048"/><stop offset="0.0427" stop-color="#ef0048"/><stop offset="0.0947" stop-color="#ef0053"/><stop offset="0.1384" stop-color="#ef0053"/><stop offset="0.1821" stop-color="#e9005c"/><stop offset="0.2164" stop-color="#d20078"/><stop offset="0.2820" stop-color="#bc0088"/><stop offset="0.3236" stop-color="#a11296"/><stop offset="0.4069" stop-color="#882da7"/><stop offset="0.5109" stop-color="#225bd3"/><stop offset="0.7711" stop-color="#006fdf"/><stop offset="1.0000" stop-color="#0075e1"/></linearGradient>
<path d="M277.9,200.2 278.7,199.8 279.4,199.4 280.1,198.8 280.8,198.1 281.5,197.4 282.2,196.9 282.9,196.4 283.6,196.0 284.3,195.4 285.0,194.6 285.7,193.8 286.4,192.9 287.1,192.2 287.8,191.4 288.5,190.8 289.2,190.5 289.9,191.0 290.6,192.4 291.3,194.1 292.0,195.9 292.7,197.0 293.4,197.6 294.1,197.9 294.8,198.2 295.5,198.5 296.2,198.8 296.9,198.9 297.6,198.9 298.4,199.0 299.1,199.1 299.8,199.1 300.5,199.2 301.2,199.2 301.9,199.2 302.6,199.3 303.3,199.3 304.0,199.3 304.7,199.3 305.4,199.4 306.1,199.4 306.8,199.4 307.5,199.5 308.2,199.5 308.9,199.6 309.6,199.6 310.3,199.7 311.0,199.7 311.7,199.8 312.4,199.8 313.1,199.9 313.8,199.9 314.5,199.9 315.2,199.9 315.9,199.9 316.6,199.9 317.3,199.9 318.0,199.9 318.8,199.9 319.5,199.9 320.2,199.9 320.9,199.9 321.6,199.9 322.3,199.9 323.0,199.9 323.7,199.9 324.4,199.9 325.1,199.9 325.8,199.9 326.5,199.9 327.2,199.9 327.9,199.9 328.6,199.9 329.3,199.9 330.0,199.9 330.7,199.9 331.4,199.9 332.1,199.9 332.8,199.9 333.5,199.9 334.2,199.9 334.9,199.8 335.6,199.8 336.3,199.8 337.0,199.8 337.7,199.8 338.4,199.8 339.2,199.8 339.9,199.8 340.6,199.8 341.3,199.8 342.0,199.8 342.7,199.8 343.4,199.8 344.1,199.7 344.8,199.7 345.5,199.7 346.2,199.7 346.9,199.7 347.6,199.7 348.3,199.7 349.0,199.7 349.7,199.7 350.4,199.7 351.1,199.7 351.8,199.7 352.5,199.7 353.2,199.7 353.9,199.7 354.6,199.8 355.3,199.8 356.0,199.8 356.7,199.8 357.4,199.8 358.1,199.8 358.8,199.8 359.6,199.9 360.3,199.9 361.0,199.9 361.7,199.9 362.4,199.9 363.1,200.0 363.8,200.0 364.5,200.0 365.2,200.0 365.9,200.1 366.6,200.1 367.3,200.1 368.0,200.1 368.7,200.2 369.4,200.2 369.4,200.2 370.4,200.4 371.2,201.0 371.8,201.9 372.0,203.0 371.8,204.1 371.2,205.0 370.4,205.6 369.4,205.8 369.4,205.8 368.7,205.8 368.0,205.9 367.3,205.9 366.6,205.9 365.9,205.9 365.2,206.0 364.5,206.0 363.8,206.0 363.1,206.0 362.4,206.1 361.7,206.1 361.0,206.1 360.3,206.1 359.6,206.1 358.8,206.2 358.1,206.2 357.4,206.2 356.7,206.2 356.0,206.2 355.3,206.2 354.6,206.2 353.9,206.3 353.2,206.3 352.5,206.3 351.8,206.3 351.1,206.3 350.4,206.3 349.7,206.3 349.0,206.3 348.3,206.3 347.6,206.3 346.9,206.3 346.2,206.3 345.5,206.3 344.8,206.3 344.1,206.3 343.4,206.2 342.7,206.2 342.0,206.2 341.3,206.2 340.6,206.2 339.9,206.2 339.2,206.2 338.4,206.2 337.7,206.2 337.0,206.2 336.3,206.2 335.6,206.2 334.9,206.2 334.2,206.1 333.5,206.1 332.8,206.1 332.1,206.1 331.4,206.1 330.7,206.1 330.0,206.1 329.3,206.1 328.6,206.1 327.9,206.1 327.2,206.1 326.5,206.1 325.8,206.1 325.1,206.1 324.4,206.1 323.7,206.1 323.0,206.1 322.3,206.1 321.6,206.1 320.9,206.1 320.2,206.1 319.5,206.1 318.8,206.1 318.0,206.1 317.3,206.1 316.6,206.1 315.9,206.1 315.2,206.1 314.5,206.1 313.8,206.1 313.1,206.1 312.4,206.2 311.7,206.2 311.0,206.3 310.3,206.3 309.6,206.4 308.9,206.4 308.2,206.5 307.5,206.5 306.8,206.6 306.1,206.6 305.4,206.7 304.7,206.7 304.0,206.7 303.3,206.7 302.6,206.7 301.9,206.7 301.2,206.8 300.5,206.8 299.8,206.9 299.1,206.9 298.4,206.9 297.6,207.0 296.9,207.0 296.2,207.1 295.5,207.4 294.8,207.8 294.1,208.2 293.4,208.5 292.7,209.0 292.0,210.0 291.3,211.8 290.6,213.8 289.9,215.7 289.2,216.8 288.5,216.8 287.8,216.2 287.1,215.1 286.4,213.7 285.7,212.5 285.0,211.7 284.3,211.1 283.6,210.5 282.9,210.0 282.2,209.2 281.5,208.4 280.8,207.7 280.1,207.1 279.4,206.6 278.7,206.2 277.9,205.8 277.9,205.8 277.2,205.6 276.5,205.0 276.1,204.1 275.9,203.0 276.1,201.9 276.5,201.0 277.2,200.4 277.9,200.2Z" fill="url(#g6)"/>
<circle cx="284.3" cy="208.4" r="2.4" fill="#ef0048"/><circle cx="286.4" cy="207.3" r="2.4" fill="#ef0048"/><circle cx="287.1" cy="201.0" r="2.4" fill="#ef0048"/><circle cx="288.5" cy="204.7" r="2.4" fill="#ef0048"/><circle cx="290.6" cy="198.3" r="2.4" fill="#ef0048"/><circle cx="291.3" cy="204.8" r="2.4" fill="#ef0048"/><circle cx="294.8" cy="205.0" r="2.4" fill="#ef0048"/><circle cx="295.5" cy="202.0" r="2.4" fill="#ef0048"/><circle cx="309.6" cy="203.4" r="2.4" fill="#c00086"/><circle cx="323.7" cy="203.6" r="2.4" fill="#006fdf"/><circle cx="335.6" cy="203.2" r="2.4" fill="#0075e1"/><circle cx="338.4" cy="203.0" r="2.4" fill="#4753cc"/><circle cx="351.8" cy="203.6" r="2.4" fill="#0075e1"/><circle cx="363.1" cy="202.6" r="2.4" fill="#0075e1"/>
<circle cx="263.8" cy="203.0" r="2.8" fill="#ef0048"/>
<circle cx="269.2" cy="203.0" r="2.8" fill="#ef0048"/>
<circle cx="378.9" cy="203.0" r="2.8" fill="#0075e1"/>
<circle cx="385.0" cy="203.0" r="2.8" fill="#0075e1"/>
<circle cx="392.2" cy="203.0" r="2.8" fill="#0075e1"/>
<text x="122.1 131.4 135.6 140.1 151.2" y="207.7" font-size="14.00" fill="#3a3a3a" font-family="Liberation Sans" stroke="#3a3a3a" stroke-width="0.30">EI.D3</text>
<linearGradient id="g7" gradientUnits="userSpaceOnUse" x1="270.9" y1="0" x2="347.0" y2="0"><stop offset="0.0000" stop-color="#006fdf"/><stop offset="0.0539" stop-color="#006fdf"/><stop offset="0.1419" stop-color="#006fdf"/><stop offset="0.1971" stop-color="#006fdf"/><stop offset="0.2628" stop-color="#0069dc"/><stop offset="0.3062" stop-color="#5c4cc4"/><stop offset="0.3509" stop-color="#8134ae"/><stop offset="0.3942" stop-color="#c80080"/><stop offset="0.4612" stop-color="#db006f"/><stop offset="0.5401" stop-color="#e30066"/><stop offset="0.6189" stop-color="#e9005c"/><stop offset="0.6912" stop-color="#ef0053"/><stop offset="0.7674" stop-color="#ef0048"/><stop offset="0.8292" stop-color="#ef0048"/><stop offset="1.0000" stop-color="#ef0048"/></linearGradient>
<path d="M272.9,232.1 273.7,232.1 274.4,232.1 275.1,232.1 275.8,232.1 276.5,232.1 277.2,232.0 277.9,231.8 278.6,231.6 279.3,231.4 280.0,231.3 280.7,231.1 281.4,230.9 282.1,230.7 282.8,230.1 283.5,229.3 284.2,228.2 284.9,227.2 285.6,226.5 286.3,226.1 287.0,225.7 287.7,225.3 288.4,224.8 289.1,224.2 289.8,223.6 290.5,222.8 291.2,222.2 291.9,222.4 292.6,223.4 293.3,224.9 294.0,226.4 294.7,227.3 295.4,227.9 296.1,228.2 296.8,228.3 297.5,228.5 298.2,229.1 298.9,229.8 299.6,230.7 300.3,231.4 301.0,231.7 301.7,231.6 302.4,231.4 303.1,231.3 303.8,231.1 304.5,230.9 305.2,230.8 305.9,230.6 306.6,230.6 307.3,230.6 308.0,230.8 308.7,230.9 309.4,231.1 310.1,231.2 310.8,231.4 311.5,231.5 312.2,231.5 312.9,231.5 313.6,231.4 314.3,231.3 315.0,231.2 315.7,231.1 316.4,230.9 317.1,230.8 317.8,230.6 318.5,230.4 319.2,230.0 319.9,229.4 320.6,228.7 321.3,228.0 322.0,227.2 322.7,226.7 323.4,226.5 324.1,226.7 324.8,227.2 325.5,227.9 326.2,228.5 326.9,229.0 327.6,229.6 328.3,230.1 329.0,230.5 329.7,230.8 330.4,231.1 331.1,231.3 331.8,231.6 332.5,231.7 333.2,231.9 333.9,232.0 334.6,232.0 335.3,232.0 336.0,232.0 336.7,232.0 337.4,232.1 338.1,232.1 338.8,232.1 339.5,232.1 340.2,232.1 340.9,232.1 341.6,232.1 342.3,232.1 343.0,232.1 343.7,232.1 344.4,232.1 344.4,232.1 345.4,232.4 346.2,233.0 346.8,233.9 347.0,234.9 346.8,236.0 346.2,236.9 345.4,237.5 344.4,237.8 344.4,237.8 343.7,237.8 343.0,237.8 342.3,237.8 341.6,237.8 340.9,237.8 340.2,237.8 339.5,237.8 338.8,237.8 338.1,237.8 337.4,237.8 336.7,237.9 336.0,237.9 335.3,237.9 334.6,237.9 333.9,237.9 333.2,238.0 332.5,238.2 331.8,238.3 331.1,238.6 330.4,238.8 329.7,239.0 329.0,239.2 328.3,239.6 327.6,240.1 326.9,240.7 326.2,241.5 325.5,242.4 324.8,243.3 324.1,243.8 323.4,243.8 322.7,243.5 322.0,243.1 321.3,242.5 320.6,241.8 319.9,241.0 319.2,240.1 318.5,239.5 317.8,239.3 317.1,239.1 316.4,238.9 315.7,238.8 315.0,238.6 314.3,238.5 313.6,238.5 312.9,238.4 312.2,238.4 311.5,238.4 310.8,238.5 310.1,238.6 309.4,238.8 308.7,238.9 308.0,239.0 307.3,239.0 306.6,239.0 305.9,239.0 305.2,239.0 304.5,239.0 303.8,238.8 303.1,238.6 302.4,238.5 301.7,238.3 301.0,238.2 300.3,238.5 299.6,239.1 298.9,239.9 298.2,240.8 297.5,241.3 296.8,241.6 296.1,241.7 295.4,241.8 294.7,241.8 294.0,242.1 293.3,243.1 292.6,244.8 291.9,246.5 291.2,247.6 290.5,247.6 289.8,247.1 289.1,246.5 288.4,245.8 287.7,245.0 287.0,244.2 286.3,243.4 285.6,242.7 284.9,242.2 284.2,241.9 283.5,241.3 282.8,240.4 282.1,239.7 281.4,239.2 280.7,238.9 280.0,238.6 279.3,238.5 278.6,238.3 277.9,238.1 277.2,237.9 276.5,237.8 275.8,237.8 275.1,237.8 274.4,237.8 273.7,237.8 272.9,237.8 272.9,237.8 272.2,237.5 271.5,236.9 271.1,236.0 270.9,234.9 271.1,233.9 271.5,233.0 272.2,232.4 272.9,232.1Z" fill="url(#g7)"/>
<circle cx="283.5" cy="234.2" r="2.4" fill="#0075e1"/><circle cx="286.3" cy="237.9" r="2.4" fill="#0075e1"/><circle cx="291.2" cy="239.4" r="2.4" fill="#534fc8"/><circle cx="291.9" cy="241.8" r="2.4" fill="#0075e1"/><circle cx="292.6" cy="232.6" r="2.4" fill="#90219e"/><circle cx="294.0" cy="230.0" r="2.4" fill="#90209d"/><circle cx="296.8" cy="231.5" r="2.4" fill="#cd007c"/><circle cx="305.9" cy="236.6" r="2.4" fill="#ef0048"/><circle cx="311.5" cy="234.3" r="2.4" fill="#ef0048"/><circle cx="312.2" cy="235.7" r="2.4" fill="#ef0048"/><circle cx="312.9" cy="235.8" r="2.4" fill="#ef004d"/><circle cx="319.9" cy="235.5" r="2.4" fill="#ef0048"/><circle cx="324.1" cy="237.3" r="2.4" fill="#ef0048"/>
<text x="109.6 118.7 126.3 135.6 140.1 151.2" y="239.6" font-size="14.00" fill="#3a3a3a" font-family="Liberation Sans" stroke="#3a3a3a" stroke-width="0.30">SLE.D4</text>
<linearGradient id="g8" gradientUnits="userSpaceOnUse" x1="280.9" y1="0" x2="365.5" y2="0"><stop offset="0.0000" stop-color="#ef0048"/><stop offset="0.0485" stop-color="#ef0048"/><stop offset="0.0721" stop-color="#ef0048"/><stop offset="0.0887" stop-color="#ef0053"/><stop offset="0.1277" stop-color="#ef0053"/><stop offset="0.1548" stop-color="#ef0053"/><stop offset="0.1678" stop-color="#e9005c"/><stop offset="0.2270" stop-color="#db006f"/><stop offset="0.2766" stop-color="#af008f"/><stop offset="0.4539" stop-color="#882da7"/><stop offset="0.5804" stop-color="#0069dc"/><stop offset="1.0000" stop-color="#0075e1"/></linearGradient>
<path d="M282.9,264.1 283.7,263.8 284.4,263.5 285.1,263.2 285.8,262.8 286.5,262.2 287.2,260.8 287.9,255.7 288.6,253.3 289.3,253.2 290.0,253.4 290.7,253.7 291.4,253.9 292.1,254.1 292.8,254.4 293.5,254.9 294.2,255.9 294.9,261.3 295.6,261.9 296.3,261.8 297.0,261.7 297.7,261.7 298.4,261.8 299.1,261.8 299.8,261.8 300.5,261.8 301.2,262.0 301.9,262.3 302.6,262.9 303.3,263.4 304.0,263.7 304.7,263.7 305.4,263.7 306.1,263.8 306.8,263.8 307.5,263.8 308.2,263.8 308.9,263.8 309.6,263.8 310.3,263.8 311.0,263.9 311.7,263.9 312.4,263.9 313.1,263.9 313.8,263.9 314.5,263.9 315.2,263.9 315.9,263.9 316.6,263.9 317.3,263.9 318.0,263.9 318.7,263.9 319.4,263.9 320.1,263.9 320.8,263.9 321.5,263.9 322.2,263.9 322.9,263.9 323.6,263.9 324.3,263.9 325.0,263.9 325.7,263.9 326.4,263.9 327.1,263.9 327.8,263.9 328.5,263.9 329.2,263.9 329.9,263.9 330.6,263.9 331.3,263.9 332.0,263.9 332.7,263.9 333.4,263.9 334.1,263.9 334.8,263.9 335.5,263.9 336.2,263.9 337.0,263.9 337.7,263.9 338.4,263.9 339.1,263.9 339.8,263.9 340.5,263.9 341.2,263.9 341.9,263.9 342.6,263.9 343.3,263.9 344.0,263.9 344.7,264.0 345.4,264.0 346.1,264.0 346.8,264.0 347.5,264.0 348.2,264.0 348.9,264.0 349.6,264.0 350.3,264.0 351.0,264.0 351.7,264.0 352.4,264.0 353.1,264.0 353.8,264.0 354.5,264.0 355.2,264.0 355.9,264.0 356.6,264.0 357.3,264.0 358.0,264.1 358.7,264.1 359.4,264.1 360.1,264.1 360.8,264.1 361.5,264.1 362.2,264.1 362.9,264.1 362.9,264.1 363.9,264.3 364.7,264.9 365.3,265.8 365.5,266.9 365.3,268.0 364.7,268.9 363.9,269.5 362.9,269.7 362.9,269.7 362.2,269.7 361.5,269.7 360.8,269.7 360.1,269.7 359.4,269.7 358.7,269.7 358.0,269.7 357.3,269.8 356.6,269.8 355.9,269.8 355.2,269.8 354.5,269.8 353.8,269.8 353.1,269.8 352.4,269.8 351.7,269.8 351.0,269.8 350.3,269.8 349.6,269.8 348.9,269.8 348.2,269.8 347.5,269.8 346.8,269.8 346.1,269.8 345.4,269.8 344.7,269.8 344.0,269.9 343.3,269.9 342.6,269.9 341.9,269.9 341.2,269.9 340.5,269.9 339.8,269.9 339.1,269.9 338.4,269.9 337.7,269.9 337.0,269.9 336.2,269.9 335.5,269.9 334.8,269.9 334.1,269.9 333.4,269.9 332.7,269.9 332.0,269.9 331.3,269.9 330.6,269.9 329.9,269.9 329.2,269.9 328.5,269.9 327.8,269.9 327.1,269.9 326.4,269.9 325.7,269.9 325.0,269.9 324.3,269.9 323.6,269.9 322.9,269.9 322.2,269.9 321.5,269.9 320.8,269.9 320.1,269.9 319.4,269.9 318.7,269.9 318.0,269.9 317.3,269.9 316.6,269.9 315.9,269.9 315.2,269.9 314.5,269.9 313.8,269.9 313.1,269.9 312.4,269.9 311.7,269.9 311.0,269.9 310.3,270.0 309.6,270.0 308.9,270.0 308.2,270.0 307.5,270.0 306.8,270.0 306.1,270.0 305.4,270.1 304.7,270.1 304.0,270.1 303.3,270.4 302.6,270.9 301.9,271.4 301.2,271.8 300.5,272.0 299.8,271.9 299.1,271.8 298.4,271.8 297.7,271.8 297.0,271.8 296.3,272.0 295.6,272.1 294.9,273.1 294.2,279.0 293.5,280.1 292.8,280.4 292.1,280.6 291.4,280.5 290.7,280.4 290.0,280.2 289.3,279.9 288.6,279.6 287.9,277.2 287.2,272.6 286.5,271.6 285.8,271.1 285.1,270.7 284.4,270.3 283.7,270.0 282.9,269.7 282.9,269.7 282.2,269.5 281.5,268.9 281.1,268.0 280.9,266.9 281.1,265.8 281.5,264.9 282.2,264.3 282.9,264.1Z" fill="url(#g8)"/>
<circle cx="290.0" cy="265.9" r="2.4" fill="#ef0048"/><circle cx="292.1" cy="277.2" r="2.4" fill="#ef0048"/><circle cx="292.8" cy="270.1" r="2.4" fill="#ef0048"/><circle cx="307.5" cy="266.8" r="2.4" fill="#cd007c"/><circle cx="311.7" cy="267.5" r="2.4" fill="#d60075"/><circle cx="323.6" cy="266.8" r="2.4" fill="#be0087"/><circle cx="324.3" cy="267.0" r="2.4" fill="#981999"/><circle cx="332.7" cy="266.6" r="2.4" fill="#0075e1"/><circle cx="341.9" cy="266.7" r="2.4" fill="#0075e1"/>
<circle cx="371.0" cy="266.9" r="2.8" fill="#006fdf"/>
<circle cx="374.5" cy="266.9" r="2.8" fill="#006fdf"/>
<circle cx="380.0" cy="266.9" r="2.8" fill="#006fdf"/>
<circle cx="385.0" cy="266.9" r="2.8" fill="#006fdf"/>
<text x="122.1 131.4 135.6 140.1 151.2" y="271.6" font-size="14.00" fill="#3a3a3a" font-family="Liberation Sans" stroke="#3a3a3a" stroke-width="0.30">EI.D4</text>
<linearGradient id="g9" gradientUnits="userSpaceOnUse" x1="258.3" y1="0" x2="346.0" y2="0"><stop offset="0.0000" stop-color="#db006f"/><stop offset="0.3238" stop-color="#e30066"/><stop offset="0.3444" stop-color="#e30066"/><stop offset="0.3592" stop-color="#e30066"/><stop offset="0.4025" stop-color="#db006f"/><stop offset="0.4185" stop-color="#af008f"/><stop offset="0.4379" stop-color="#882da7"/><stop offset="0.4960" stop-color="#5c4cc4"/><stop offset="0.5621" stop-color="#0063d8"/><stop offset="0.6579" stop-color="#006fdf"/><stop offset="1.0000" stop-color="#0075e1"/></linearGradient>
<mask id="m9" maskUnits="userSpaceOnUse" x="245.9" y="283.9" width="112.5" height="30"><rect x="245.9" y="283.9" width="112.5" height="30" fill="#fff"/><path d="M332.8,293.9H336.6L335.3,298.9L336.6,303.9H332.8L334.1,298.9Z" fill="#000"/></mask>
<path d="M260.9,296.1 261.6,296.0 262.3,296.0 263.0,296.0 263.7,296.0 264.4,296.0 265.1,296.0 265.8,296.0 266.5,296.0 267.2,296.0 268.0,296.0 268.7,296.0 269.4,296.0 270.1,296.0 270.8,296.0 271.5,296.0 272.2,296.0 272.9,296.0 273.6,296.0 274.3,296.0 275.0,296.0 275.7,296.0 276.4,296.0 277.1,296.0 277.8,296.0 278.5,296.0 279.2,296.0 279.9,296.0 280.6,296.0 281.3,295.9 282.1,295.9 282.8,295.9 283.5,295.9 284.2,295.9 284.9,295.9 285.6,295.9 286.3,295.9 287.0,295.8 287.7,295.1 288.4,294.0 289.1,290.3 289.8,286.3 290.5,286.3 291.2,286.4 291.9,286.7 292.6,287.1 293.3,287.5 294.0,288.4 294.7,290.9 295.5,291.7 296.2,291.8 296.9,291.5 297.6,291.3 298.3,291.4 299.0,291.6 299.7,292.0 300.4,292.3 301.1,292.4 301.8,292.4 302.5,292.3 303.2,292.2 303.9,292.2 304.6,292.3 305.3,292.4 306.0,292.3 306.7,292.2 307.4,292.0 308.1,292.1 308.8,292.3 309.6,292.6 310.3,292.9 311.0,293.2 311.7,293.4 312.4,293.7 313.1,294.1 313.8,294.4 314.5,294.7 315.2,294.9 315.9,295.0 316.6,295.1 317.3,295.2 318.0,295.2 318.7,295.3 319.4,295.3 320.1,295.4 320.8,295.4 321.5,295.4 322.2,295.5 323.0,295.5 323.7,295.6 324.4,295.6 325.1,295.6 325.8,295.7 326.5,295.7 327.2,295.7 327.9,295.8 328.6,295.8 329.3,295.8 330.0,295.8 330.7,295.9 331.4,295.9 332.1,295.9 332.8,295.9 333.5,295.9 334.2,295.9 334.9,296.0 335.6,296.0 336.3,296.0 337.1,296.0 337.8,296.0 338.5,296.0 339.2,296.0 339.9,296.0 340.6,296.0 341.3,296.0 342.0,296.0 342.7,296.0 343.4,296.1 343.4,296.1 344.4,296.3 345.2,296.9 345.8,297.8 346.0,298.9 345.8,299.9 345.2,300.8 344.4,301.4 343.4,301.7 343.4,301.7 342.7,301.7 342.0,301.7 341.3,301.7 340.6,301.7 339.9,301.7 339.2,301.7 338.5,301.7 337.8,301.7 337.1,301.7 336.3,301.7 335.6,301.7 334.9,301.7 334.2,301.8 333.5,301.8 332.8,301.8 332.1,301.8 331.4,301.8 330.7,301.8 330.0,301.9 329.3,301.9 328.6,301.9 327.9,301.9 327.2,302.0 326.5,302.0 325.8,302.0 325.1,302.1 324.4,302.1 323.7,302.1 323.0,302.2 322.2,302.2 321.5,302.3 320.8,302.3 320.1,302.3 319.4,302.4 318.7,302.4 318.0,302.5 317.3,302.6 316.6,302.6 315.9,302.7 315.2,302.8 314.5,302.9 313.8,303.1 313.1,303.4 312.4,303.7 311.7,303.9 311.0,304.3 310.3,304.7 309.6,305.0 308.8,305.3 308.1,305.4 307.4,305.3 306.7,305.1 306.0,305.0 305.3,305.0 304.6,305.2 303.9,305.5 303.2,305.7 302.5,305.7 301.8,305.5 301.1,305.4 300.4,305.4 299.7,305.4 299.0,305.5 298.3,305.5 297.6,305.6 296.9,305.8 296.2,306.2 295.5,307.2 294.7,308.5 294.0,311.0 293.3,311.6 292.6,311.4 291.9,311.4 291.2,311.6 290.5,311.8 289.8,312.0 289.1,308.2 288.4,303.9 287.7,302.6 287.0,301.9 286.3,301.8 285.6,301.8 284.9,301.8 284.2,301.8 283.5,301.8 282.8,301.8 282.1,301.8 281.3,301.8 280.6,301.7 279.9,301.7 279.2,301.7 278.5,301.7 277.8,301.7 277.1,301.7 276.4,301.7 275.7,301.7 275.0,301.7 274.3,301.7 273.6,301.7 272.9,301.7 272.2,301.7 271.5,301.7 270.8,301.7 270.1,301.7 269.4,301.7 268.7,301.7 268.0,301.7 267.2,301.7 266.5,301.7 265.8,301.7 265.1,301.7 264.4,301.7 263.7,301.7 263.0,301.7 262.3,301.7 261.6,301.7 260.9,301.7 260.9,301.7 259.9,301.4 259.1,300.8 258.5,299.9 258.3,298.9 258.5,297.8 259.1,296.9 259.9,296.3 260.9,296.1Z" fill="url(#g9)" mask="url(#m9)"/>
<circle cx="289.1" cy="303.8" r="2.4" fill="#ef0048"/><circle cx="289.8" cy="304.9" r="2.4" fill="#ef0048"/><circle cx="290.5" cy="295.4" r="2.4" fill="#ef004e"/><circle cx="291.2" cy="288.7" r="2.4" fill="#ef0049"/><circle cx="291.9" cy="289.6" r="2.4" fill="#ef004c"/><circle cx="292.6" cy="296.7" r="2.4" fill="#ef0048"/><circle cx="293.3" cy="301.7" r="2.4" fill="#a50e94"/><circle cx="295.5" cy="303.3" r="2.4" fill="#8332ac"/><circle cx="301.1" cy="297.6" r="2.4" fill="#0075e1"/><circle cx="302.5" cy="302.5" r="2.4" fill="#a40f95"/><circle cx="305.3" cy="299.0" r="2.4" fill="#0075e1"/><circle cx="306.7" cy="300.8" r="2.4" fill="#0075e1"/><circle cx="326.5" cy="298.9" r="2.4" fill="#0075e1"/><circle cx="337.8" cy="298.7" r="2.4" fill="#0075e1"/>
<circle cx="349.7" cy="298.9" r="2.8" fill="#0075e1"/>
<text x="117.4 126.2 135.6 140.1 151.2" y="303.6" font-size="14.00" fill="#3a3a3a" font-family="Liberation Sans" stroke="#3a3a3a" stroke-width="0.30">SS.D3</text>
<linearGradient id="g10" gradientUnits="userSpaceOnUse" x1="274.2" y1="0" x2="385.0" y2="0"><stop offset="0.0000" stop-color="#ef0048"/><stop offset="0.1128" stop-color="#ef0048"/><stop offset="0.1291" stop-color="#ef0048"/><stop offset="0.1444" stop-color="#ef0053"/><stop offset="0.1868" stop-color="#ef0053"/><stop offset="0.2013" stop-color="#e30066"/><stop offset="0.2112" stop-color="#db006f"/><stop offset="0.2491" stop-color="#af008f"/><stop offset="0.3394" stop-color="#0069dc"/><stop offset="0.5939" stop-color="#0069dc"/><stop offset="1.0000" stop-color="#0075e1"/></linearGradient>
<path d="M276.8,327.8 277.5,327.8 278.2,327.8 278.9,327.8 279.6,327.8 280.3,327.8 281.0,327.8 281.7,327.8 282.4,327.7 283.1,327.7 283.8,327.7 284.5,327.7 285.2,327.6 286.0,327.6 286.7,327.5 287.4,327.0 288.1,325.7 288.8,323.9 289.5,320.1 290.2,317.8 290.9,317.9 291.6,318.0 292.3,318.0 293.0,318.0 293.7,317.9 294.4,317.8 295.1,317.8 295.8,320.0 296.5,322.2 297.2,323.2 297.9,323.7 298.6,324.1 299.3,324.4 300.0,324.6 300.7,324.7 301.4,324.7 302.1,324.7 302.8,324.8 303.6,325.0 304.3,325.2 305.0,325.5 305.7,325.8 306.4,326.1 307.1,326.5 307.8,326.9 308.5,327.2 309.2,327.4 309.9,327.6 310.6,327.7 311.3,327.8 312.0,327.8 312.7,327.8 313.4,327.8 314.1,327.8 314.8,327.8 315.5,327.8 316.2,327.8 316.9,327.8 317.6,327.8 318.3,327.8 319.0,327.8 319.7,327.8 320.4,327.8 321.2,327.8 321.9,327.8 322.6,327.8 323.3,327.8 324.0,327.8 324.7,327.8 325.4,327.8 326.1,327.8 326.8,327.8 327.5,327.8 328.2,327.8 328.9,327.8 329.6,327.8 330.3,327.8 331.0,327.8 331.7,327.8 332.4,327.8 333.1,327.8 333.8,327.8 334.5,327.8 335.2,327.8 335.9,327.8 336.6,327.8 337.3,327.8 338.0,327.8 338.8,327.8 339.5,327.8 340.2,327.8 340.9,327.8 341.6,327.8 342.3,327.8 343.0,327.8 343.7,327.8 344.4,327.8 345.1,327.8 345.8,327.8 346.5,327.8 347.2,327.8 347.9,327.8 348.6,327.8 349.3,327.8 350.0,327.8 350.7,327.8 351.4,327.8 352.1,327.8 352.8,327.8 353.5,327.8 354.2,327.8 354.9,327.8 355.6,327.8 356.4,327.8 357.1,327.8 357.8,327.8 358.5,327.9 359.2,327.9 359.9,327.9 360.6,327.9 361.3,327.9 362.0,327.9 362.7,327.9 363.4,327.9 364.1,327.9 364.8,327.9 365.5,327.9 366.2,327.9 366.9,327.9 367.6,327.9 368.3,327.9 369.0,327.9 369.7,327.9 370.4,327.9 371.1,327.9 371.8,327.9 372.5,327.9 373.2,327.9 374.0,327.9 374.7,327.9 375.4,328.0 376.1,328.0 376.8,328.0 377.5,328.0 378.2,328.0 378.9,328.0 379.6,328.0 380.3,328.0 381.0,328.0 381.7,328.0 382.4,328.0 382.4,328.0 383.4,328.2 384.2,328.8 384.8,329.7 385.0,330.8 384.8,331.9 384.2,332.8 383.4,333.4 382.4,333.6 382.4,333.6 381.7,333.6 381.0,333.6 380.3,333.6 379.6,333.6 378.9,333.6 378.2,333.6 377.5,333.6 376.8,333.6 376.1,333.6 375.4,333.6 374.7,333.7 374.0,333.7 373.2,333.7 372.5,333.7 371.8,333.7 371.1,333.7 370.4,333.7 369.7,333.7 369.0,333.7 368.3,333.7 367.6,333.7 366.9,333.7 366.2,333.7 365.5,333.7 364.8,333.7 364.1,333.7 363.4,333.7 362.7,333.7 362.0,333.7 361.3,333.7 360.6,333.7 359.9,333.7 359.2,333.7 358.5,333.7 357.8,333.8 357.1,333.8 356.4,333.8 355.6,333.8 354.9,333.8 354.2,333.8 353.5,333.8 352.8,333.8 352.1,333.8 351.4,333.8 350.7,333.8 350.0,333.8 349.3,333.8 348.6,333.8 347.9,333.8 347.2,333.8 346.5,333.8 345.8,333.8 345.1,333.8 344.4,333.8 343.7,333.8 343.0,333.8 342.3,333.8 341.6,333.8 340.9,333.8 340.2,333.8 339.5,333.8 338.8,333.8 338.0,333.8 337.3,333.8 336.6,333.8 335.9,333.8 335.2,333.8 334.5,333.8 333.8,333.8 333.1,333.8 332.4,333.8 331.7,333.8 331.0,333.8 330.3,333.8 329.6,333.8 328.9,333.8 328.2,333.8 327.5,333.8 326.8,333.8 326.1,333.8 325.4,333.8 324.7,333.8 324.0,333.8 323.3,333.8 322.6,333.8 321.9,333.8 321.2,333.8 320.4,333.8 319.7,333.8 319.0,333.8 318.3,333.8 317.6,333.8 316.9,333.8 316.2,333.8 315.5,333.8 314.8,333.8 314.1,333.8 313.4,333.8 312.7,333.8 312.0,333.8 311.3,333.8 310.6,333.9 309.9,334.0 309.2,334.2 308.5,334.4 307.8,334.7 307.1,334.9 306.4,335.3 305.7,335.5 305.0,335.7 304.3,335.8 303.6,335.9 302.8,336.1 302.1,336.3 301.4,336.5 300.7,336.6 300.0,336.7 299.3,336.9 298.6,337.1 297.9,337.5 297.2,338.1 296.5,339.1 295.8,341.3 295.1,343.5 294.4,343.5 293.7,343.5 293.0,343.5 292.3,343.5 291.6,343.3 290.9,343.0 290.2,342.8 289.5,340.5 288.8,337.0 288.1,335.7 287.4,334.6 286.7,334.1 286.0,334.0 285.2,334.0 284.5,333.9 283.8,333.9 283.1,333.9 282.4,333.9 281.7,333.8 281.0,333.8 280.3,333.8 279.6,333.8 278.9,333.8 278.2,333.8 277.5,333.8 276.8,333.8 276.8,333.8 275.8,333.6 275.0,332.9 274.4,331.9 274.2,330.8 274.4,329.7 275.0,328.7 275.8,328.0 276.8,327.8Z" fill="url(#g10)"/>
<circle cx="291.6" cy="340.7" r="2.4" fill="#ef0048"/><circle cx="293.0" cy="331.0" r="2.4" fill="#ef0048"/><circle cx="297.9" cy="326.9" r="2.4" fill="#ef0048"/><circle cx="300.0" cy="330.1" r="2.4" fill="#7e37b0"/><circle cx="301.4" cy="328.6" r="2.4" fill="#ef004f"/><circle cx="302.1" cy="333.8" r="2.4" fill="#ee0053"/><circle cx="306.4" cy="332.1" r="2.4" fill="#4056ce"/><circle cx="326.1" cy="330.3" r="2.4" fill="#0075e1"/><circle cx="350.7" cy="330.4" r="2.4" fill="#0075e1"/><circle cx="362.0" cy="330.5" r="2.4" fill="#0075e1"/>
<circle cx="272.1" cy="330.8" r="2.8" fill="#ef0048"/>
<text x="122.1 131.4 135.6 140.1 151.2" y="335.5" font-size="14.00" fill="#3a3a3a" font-family="Liberation Sans" stroke="#3a3a3a" stroke-width="0.30">EI.D2</text>
<linearGradient id="g11" gradientUnits="userSpaceOnUse" x1="271.7" y1="0" x2="326.8" y2="0"><stop offset="0.0000" stop-color="#006fdf"/><stop offset="0.2722" stop-color="#006fdf"/><stop offset="0.3485" stop-color="#0069dc"/><stop offset="0.4083" stop-color="#225bd3"/><stop offset="0.4701" stop-color="#7c38b2"/><stop offset="0.5154" stop-color="#bc0088"/><stop offset="0.6588" stop-color="#e30066"/><stop offset="0.7731" stop-color="#ef0053"/><stop offset="1.0000" stop-color="#ef0048"/></linearGradient>
<path d="M274.3,359.8 275.0,359.8 275.7,359.8 276.4,359.8 277.1,359.8 277.8,359.8 278.5,359.8 279.2,359.8 279.9,359.8 280.6,359.8 281.3,359.8 282.0,359.8 282.7,359.8 283.4,359.8 284.1,359.8 284.8,359.8 285.5,359.8 286.2,359.8 287.0,359.7 287.7,359.3 288.4,358.5 289.1,357.5 289.8,356.7 290.5,355.8 291.2,354.7 291.9,353.2 292.6,351.6 293.3,350.2 294.0,349.4 294.7,349.5 295.4,350.5 296.1,351.9 296.8,353.5 297.5,354.8 298.2,355.9 298.9,356.9 299.6,357.5 300.3,358.0 301.0,358.3 301.7,358.6 302.4,358.9 303.1,359.0 303.8,359.0 304.5,359.1 305.2,359.1 305.9,359.1 306.6,359.2 307.3,359.2 308.0,359.2 308.7,359.2 309.4,359.1 310.1,358.9 310.8,358.8 311.5,358.6 312.3,358.5 313.0,358.3 313.7,358.2 314.4,358.1 315.1,358.0 315.8,358.0 316.5,358.0 317.2,358.2 317.9,358.3 318.6,358.5 319.3,358.6 320.0,358.7 320.7,358.8 321.4,358.9 322.1,359.1 322.8,359.3 323.5,359.5 324.2,359.8 324.2,359.8 325.2,360.0 326.0,360.6 326.6,361.6 326.8,362.8 326.6,363.9 326.0,364.9 325.2,365.5 324.2,365.7 324.2,365.7 323.5,366.0 322.8,366.2 322.1,366.4 321.4,366.5 320.7,366.7 320.0,366.9 319.3,367.1 318.6,367.2 317.9,367.3 317.2,367.3 316.5,367.3 315.8,367.3 315.1,367.3 314.4,367.4 313.7,367.4 313.0,367.4 312.3,367.3 311.5,367.1 310.8,366.9 310.1,366.7 309.4,366.5 308.7,366.4 308.0,366.3 307.3,366.3 306.6,366.4 305.9,366.5 305.2,366.6 304.5,366.7 303.8,366.8 303.1,366.9 302.4,367.0 301.7,367.2 301.0,367.4 300.3,367.7 299.6,368.0 298.9,368.4 298.2,369.0 297.5,369.5 296.8,370.8 296.1,372.7 295.4,374.8 294.7,376.5 294.0,377.1 293.3,376.5 292.6,375.3 291.9,373.7 291.2,372.2 290.5,371.1 289.8,369.9 289.1,368.6 288.4,367.3 287.7,366.2 287.0,365.8 286.2,365.7 285.5,365.7 284.8,365.7 284.1,365.7 283.4,365.7 282.7,365.7 282.0,365.7 281.3,365.7 280.6,365.7 279.9,365.7 279.2,365.7 278.5,365.7 277.8,365.7 277.1,365.7 276.4,365.7 275.7,365.7 275.0,365.7 274.3,365.7 274.3,365.7 273.3,365.5 272.5,364.9 271.9,363.9 271.7,362.8 271.9,361.6 272.5,360.6 273.3,360.0 274.3,359.8Z" fill="url(#g11)"/>
<circle cx="291.2" cy="366.5" r="2.4" fill="#0075e1"/><circle cx="292.6" cy="371.5" r="2.4" fill="#7240b9"/><circle cx="293.3" cy="365.3" r="2.4" fill="#0075e1"/><circle cx="294.0" cy="360.3" r="2.4" fill="#006edf"/><circle cx="294.7" cy="368.0" r="2.4" fill="#0075e1"/><circle cx="295.4" cy="362.0" r="2.4" fill="#743fb8"/><circle cx="296.1" cy="356.4" r="2.4" fill="#006cdd"/><circle cx="297.5" cy="364.8" r="2.4" fill="#0075e1"/><circle cx="298.2" cy="362.8" r="2.4" fill="#4554cc"/>
<circle cx="340.2" cy="362.8" r="2.8" fill="#ef0048"/>
<text x="116.5 126.2 135.6 140.1 151.2" y="367.4" font-size="14.00" fill="#3a3a3a" font-family="Liberation Sans" stroke="#3a3a3a" stroke-width="0.30">CS.D2</text>
<linearGradient id="g12" gradientUnits="userSpaceOnUse" x1="283.0" y1="0" x2="356.2" y2="0"><stop offset="0.0000" stop-color="#ef0048"/><stop offset="0.0820" stop-color="#ef0048"/><stop offset="0.0997" stop-color="#ef0048"/><stop offset="0.1161" stop-color="#ef0053"/><stop offset="0.1735" stop-color="#ef0053"/><stop offset="0.1954" stop-color="#ef0053"/><stop offset="0.2295" stop-color="#e9005c"/><stop offset="0.2760" stop-color="#e30066"/><stop offset="0.3019" stop-color="#225bd3"/><stop offset="0.6694" stop-color="#006fdf"/><stop offset="0.8060" stop-color="#5c4cc4"/><stop offset="1.0000" stop-color="#882da7"/></linearGradient>
<mask id="m12" maskUnits="userSpaceOnUse" x="270.6" y="379.7" width="98.0" height="30"><rect x="270.6" y="379.7" width="98.0" height="30" fill="#fff"/><path d="M318.5,389.7H321.6L320.3,394.7L321.6,399.7H318.5L319.8,394.7Z" fill="#000"/><path d="M331.8,389.7H335.6L334.3,394.7L335.6,399.7H331.8L333.1,394.7Z" fill="#000"/></mask>
<path d="M285.6,391.7 286.3,391.7 287.0,391.7 287.7,391.7 288.4,391.7 289.1,391.7 289.8,389.8 290.5,386.6 291.2,381.8 291.9,380.6 292.6,380.2 293.3,380.1 294.0,380.1 294.7,380.2 295.4,380.3 296.1,381.6 296.8,386.2 297.5,388.1 298.2,387.7 298.9,387.1 299.6,386.7 300.3,386.8 301.0,386.9 301.7,386.9 302.4,386.9 303.1,386.7 303.8,387.9 304.5,390.6 305.2,391.7 305.9,391.7 306.6,391.7 307.3,391.7 308.0,391.7 308.7,391.7 309.4,391.7 310.1,391.7 310.8,391.7 311.5,391.7 312.2,391.7 312.9,391.7 313.6,391.7 314.3,391.7 315.0,391.7 315.7,391.7 316.4,391.7 317.1,391.7 317.8,391.7 318.5,391.7 319.2,391.7 320.0,391.7 320.7,391.7 321.4,391.7 322.1,391.7 322.8,391.7 323.5,391.7 324.2,391.7 324.9,391.7 325.6,391.7 326.3,391.7 327.0,391.7 327.7,391.7 328.4,391.7 329.1,391.7 329.8,391.7 330.5,391.7 331.2,391.7 331.9,391.7 332.6,391.7 333.3,391.7 334.0,391.7 334.7,391.7 335.4,391.7 336.1,391.7 336.8,391.7 337.5,391.7 338.2,391.7 338.9,391.7 339.6,391.7 340.3,391.7 341.0,391.7 341.7,391.7 342.4,391.7 343.1,391.7 343.8,391.7 344.5,391.7 345.2,391.7 345.9,391.7 346.6,391.7 347.3,391.8 348.0,391.8 348.7,391.8 349.4,391.8 350.1,391.8 350.8,391.8 351.5,391.8 352.2,391.9 352.9,391.9 353.6,391.9 353.6,391.9 354.6,392.1 355.4,392.7 356.0,393.6 356.2,394.7 356.0,395.8 355.4,396.7 354.6,397.3 353.6,397.5 353.6,397.5 352.9,397.5 352.2,397.5 351.5,397.6 350.8,397.6 350.1,397.6 349.4,397.6 348.7,397.6 348.0,397.6 347.3,397.6 346.6,397.7 345.9,397.7 345.2,397.7 344.5,397.7 343.8,397.7 343.1,397.7 342.4,397.7 341.7,397.7 341.0,397.7 340.3,397.7 339.6,397.7 338.9,397.7 338.2,397.7 337.5,397.7 336.8,397.7 336.1,397.7 335.4,397.7 334.7,397.7 334.0,397.7 333.3,397.7 332.6,397.7 331.9,397.7 331.2,397.7 330.5,397.7 329.8,397.7 329.1,397.7 328.4,397.7 327.7,397.7 327.0,397.7 326.3,397.7 325.6,397.7 324.9,397.7 324.2,397.7 323.5,397.7 322.8,397.7 322.1,397.7 321.4,397.7 320.7,397.7 320.0,397.7 319.2,397.7 318.5,397.7 317.8,397.7 317.1,397.7 316.4,397.7 315.7,397.7 315.0,397.7 314.3,397.7 313.6,397.7 312.9,397.7 312.2,397.7 311.5,397.7 310.8,397.7 310.1,397.7 309.4,397.7 308.7,397.7 308.0,397.7 307.3,397.7 306.6,397.7 305.9,397.7 305.2,397.7 304.5,398.8 303.8,401.4 303.1,402.8 302.4,402.8 301.7,402.6 301.0,402.4 300.3,402.2 299.6,402.2 298.9,401.8 298.2,401.3 297.5,401.0 296.8,403.0 296.1,407.8 295.4,408.9 294.7,408.5 294.0,408.0 293.3,407.7 292.6,407.7 291.9,407.9 291.2,407.2 290.5,402.6 289.8,399.6 289.1,397.7 288.4,397.7 287.7,397.7 287.0,397.7 286.3,397.7 285.6,397.7 285.6,397.7 284.6,397.5 283.8,396.8 283.2,395.8 283.0,394.7 283.2,393.6 283.8,392.6 284.6,391.9 285.6,391.7Z" fill="url(#g12)" mask="url(#m12)"/>
<circle cx="294.7" cy="396.0" r="2.4" fill="#ef0048"/><circle cx="297.5" cy="395.7" r="2.4" fill="#ef0048"/><circle cx="298.9" cy="392.6" r="2.4" fill="#ef0048"/><circle cx="302.4" cy="394.0" r="2.4" fill="#ef0048"/><circle cx="303.8" cy="396.2" r="2.4" fill="#ef004e"/><circle cx="309.4" cy="395.0" r="2.4" fill="#0073e0"/><circle cx="322.8" cy="394.6" r="2.4" fill="#0075e1"/><circle cx="331.2" cy="394.6" r="2.4" fill="#0075e1"/><circle cx="333.3" cy="395.2" r="2.4" fill="#0075e1"/><circle cx="334.7" cy="394.6" r="2.4" fill="#0075e1"/><circle cx="335.4" cy="394.3" r="2.4" fill="#0074e1"/><circle cx="336.1" cy="394.3" r="2.4" fill="#0074e1"/><circle cx="340.3" cy="395.0" r="2.4" fill="#ba008a"/><circle cx="343.1" cy="394.2" r="2.4" fill="#0071e0"/><circle cx="350.8" cy="395.0" r="2.4" fill="#3758cf"/>
<text x="122.1 131.4 135.6 140.1 151.2" y="399.4" font-size="14.00" fill="#3a3a3a" font-family="Liberation Sans" stroke="#3a3a3a" stroke-width="0.30">EI.D1</text>
<linearGradient id="g13" gradientUnits="userSpaceOnUse" x1="281.7" y1="0" x2="357.5" y2="0"><stop offset="0.0000" stop-color="#c80080"/><stop offset="0.1293" stop-color="#c80080"/><stop offset="0.1464" stop-color="#c80080"/><stop offset="0.1623" stop-color="#c80080"/><stop offset="0.2256" stop-color="#c80080"/><stop offset="0.2454" stop-color="#a11296"/><stop offset="0.2652" stop-color="#882da7"/><stop offset="0.3734" stop-color="#5c4cc4"/><stop offset="0.4393" stop-color="#006fdf"/><stop offset="1.0000" stop-color="#0075e1"/></linearGradient>
<mask id="m13" maskUnits="userSpaceOnUse" x="269.3" y="411.6" width="100.6" height="30"><rect x="269.3" y="411.6" width="100.6" height="30" fill="#fff"/><path d="M312.0,421.6H316.0L314.7,426.6L316.0,431.6H312.0L313.3,426.6Z" fill="#000"/></mask>
<path d="M284.3,423.8 285.0,423.8 285.7,423.8 286.4,423.8 287.1,423.8 287.8,423.8 288.5,423.8 289.2,423.8 289.9,423.8 290.7,423.8 291.4,423.8 292.1,422.2 292.8,417.8 293.5,414.1 294.2,413.0 294.9,413.5 295.6,413.8 296.3,413.7 297.0,413.4 297.7,413.0 298.4,412.7 299.1,413.1 299.8,417.4 300.5,420.7 301.2,422.4 301.9,422.9 302.7,422.9 303.4,422.9 304.1,422.9 304.8,422.9 305.5,422.9 306.2,422.9 306.9,422.8 307.6,422.8 308.3,422.8 309.0,422.9 309.7,422.9 310.4,422.9 311.1,423.0 311.8,423.1 312.5,423.3 313.2,423.4 314.0,423.6 314.7,423.6 315.4,423.7 316.1,423.7 316.8,423.7 317.5,423.7 318.2,423.7 318.9,423.7 319.6,423.7 320.3,423.7 321.0,423.7 321.7,423.7 322.4,423.7 323.1,423.7 323.8,423.7 324.5,423.8 325.2,423.8 326.0,423.8 326.7,423.8 327.4,423.8 328.1,423.8 328.8,423.8 329.5,423.8 330.2,423.8 330.9,423.8 331.6,423.8 332.3,423.8 333.0,423.8 333.7,423.8 334.4,423.8 335.1,423.8 335.8,423.8 336.5,423.8 337.2,423.8 338.0,423.8 338.7,423.8 339.4,423.8 340.1,423.8 340.8,423.8 341.5,423.8 342.2,423.8 342.9,423.8 343.6,423.8 344.3,423.8 345.0,423.8 345.7,423.8 346.4,423.8 347.1,423.8 347.8,423.8 348.5,423.8 349.3,423.8 350.0,423.8 350.7,423.8 351.4,423.8 352.1,423.8 352.8,423.8 353.5,423.8 354.2,423.8 354.9,423.8 354.9,423.8 355.9,424.1 356.7,424.7 357.3,425.6 357.5,426.6 357.3,427.7 356.7,428.6 355.9,429.2 354.9,429.4 354.9,429.4 354.2,429.5 353.5,429.5 352.8,429.5 352.1,429.5 351.4,429.5 350.7,429.5 350.0,429.5 349.3,429.5 348.5,429.5 347.8,429.5 347.1,429.5 346.4,429.5 345.7,429.5 345.0,429.5 344.3,429.5 343.6,429.5 342.9,429.5 342.2,429.5 341.5,429.5 340.8,429.5 340.1,429.5 339.4,429.5 338.7,429.5 338.0,429.5 337.2,429.5 336.5,429.5 335.8,429.5 335.1,429.5 334.4,429.5 333.7,429.5 333.0,429.5 332.3,429.5 331.6,429.5 330.9,429.5 330.2,429.5 329.5,429.5 328.8,429.5 328.1,429.5 327.4,429.5 326.7,429.5 326.0,429.5 325.2,429.5 324.5,429.5 323.8,429.6 323.1,429.6 322.4,429.6 321.7,429.6 321.0,429.6 320.3,429.6 319.6,429.6 318.9,429.6 318.2,429.6 317.5,429.6 316.8,429.6 316.1,429.6 315.4,429.6 314.7,429.7 314.0,429.7 313.2,429.9 312.5,430.0 311.8,430.2 311.1,430.3 310.4,430.4 309.7,430.4 309.0,430.4 308.3,430.4 307.6,430.3 306.9,430.3 306.2,430.3 305.5,430.3 304.8,430.4 304.1,430.4 303.4,430.4 302.7,430.4 301.9,430.4 301.2,430.9 300.5,432.4 299.8,435.1 299.1,439.0 298.4,439.4 297.7,439.0 297.0,438.7 296.3,438.6 295.6,438.7 294.9,438.9 294.2,439.1 293.5,437.8 292.8,434.1 292.1,430.9 291.4,429.4 290.7,429.4 289.9,429.4 289.2,429.4 288.5,429.4 287.8,429.4 287.1,429.4 286.4,429.4 285.7,429.4 285.0,429.4 284.3,429.4 284.3,429.4 283.3,429.2 282.5,428.6 281.9,427.7 281.7,426.6 281.9,425.6 282.5,424.7 283.3,424.1 284.3,423.8Z" fill="url(#g13)" mask="url(#m13)"/>
<circle cx="294.9" cy="422.7" r="2.4" fill="#aa0692"/><circle cx="295.6" cy="416.3" r="2.4" fill="#ef0048"/><circle cx="296.3" cy="424.0" r="2.4" fill="#ef0048"/><circle cx="297.0" cy="429.0" r="2.4" fill="#ef004d"/><circle cx="298.4" cy="436.6" r="2.4" fill="#ef0052"/><circle cx="299.1" cy="423.5" r="2.4" fill="#961b9a"/><circle cx="301.9" cy="426.0" r="2.4" fill="#006dde"/><circle cx="306.2" cy="426.2" r="2.4" fill="#951c9a"/><circle cx="316.1" cy="427.1" r="2.4" fill="#0075e1"/>
<circle cx="362.0" cy="426.6" r="2.8" fill="#0075e1"/>
<circle cx="364.5" cy="426.6" r="2.8" fill="#0075e1"/>
<circle cx="377.0" cy="426.6" r="2.8" fill="#0075e1"/>
<circle cx="386.0" cy="426.6" r="2.8" fill="#0075e1"/>
<circle cx="389.5" cy="426.6" r="2.8" fill="#0075e1"/>
<circle cx="393.0" cy="426.6" r="2.8" fill="#0075e1"/>
<circle cx="399.0" cy="426.6" r="2.8" fill="#0075e1"/>
<circle cx="405.0" cy="426.6" r="2.8" fill="#0075e1"/>
<circle cx="439.0" cy="426.6" r="2.8" fill="#0075e1"/>
<text x="116.5 126.2 135.6 140.1 151.2" y="431.3" font-size="14.00" fill="#3a3a3a" font-family="Liberation Sans" stroke="#3a3a3a" stroke-width="0.30">CS.D1</text>
<linearGradient id="g14" gradientUnits="userSpaceOnUse" x1="247.3" y1="0" x2="322.4" y2="0"><stop offset="0.0000" stop-color="#ef0048"/><stop offset="0.5020" stop-color="#e30066"/><stop offset="0.5859" stop-color="#af008f"/><stop offset="0.6152" stop-color="#c80080"/><stop offset="0.6325" stop-color="#d20078"/><stop offset="0.6964" stop-color="#c80080"/><stop offset="0.7071" stop-color="#5c4cc4"/><stop offset="0.7550" stop-color="#0069dc"/><stop offset="0.8535" stop-color="#006fdf"/><stop offset="1.0000" stop-color="#0075e1"/></linearGradient>
<path d="M249.9,455.6 250.6,455.6 251.3,455.6 252.0,455.6 252.7,455.6 253.4,455.6 254.1,455.6 254.8,455.6 255.5,455.6 256.3,455.6 257.0,455.6 257.7,455.6 258.4,455.6 259.1,455.6 259.8,455.6 260.5,455.6 261.2,455.6 261.9,455.6 262.6,455.6 263.3,455.6 264.0,455.6 264.7,455.6 265.4,455.6 266.1,455.6 266.8,455.6 267.6,455.6 268.3,455.6 269.0,455.6 269.7,455.6 270.4,455.6 271.1,455.6 271.8,455.6 272.5,455.6 273.2,455.6 273.9,455.6 274.6,455.6 275.3,455.6 276.0,455.6 276.7,455.6 277.4,455.6 278.1,455.6 278.8,455.6 279.6,455.6 280.3,455.6 281.0,455.6 281.7,455.6 282.4,455.6 283.1,455.6 283.8,455.6 284.5,455.6 285.2,455.6 285.9,455.6 286.6,455.5 287.3,455.4 288.0,455.3 288.7,455.1 289.4,454.8 290.1,454.6 290.9,454.2 291.6,453.9 292.3,453.4 293.0,452.5 293.7,451.1 294.4,446.5 295.1,445.4 295.8,445.8 296.5,446.2 297.2,446.5 297.9,446.6 298.6,446.4 299.3,446.1 300.0,447.8 300.7,449.1 301.4,448.8 302.1,448.8 302.9,449.0 303.6,449.2 304.3,449.3 305.0,449.4 305.7,449.4 306.4,449.5 307.1,449.7 307.8,450.4 308.5,451.5 309.2,452.7 309.9,453.6 310.6,454.1 311.3,454.4 312.0,454.6 312.7,454.7 313.4,454.9 314.2,455.0 314.9,455.2 315.6,455.3 316.3,455.5 317.0,455.6 317.7,455.7 318.4,455.7 319.1,455.8 319.8,455.8 319.8,455.8 320.8,456.0 321.6,456.6 322.2,457.5 322.4,458.6 322.2,459.7 321.6,460.6 320.8,461.2 319.8,461.4 319.8,461.4 319.1,461.4 318.4,461.5 317.7,461.5 317.0,461.6 316.3,461.7 315.6,461.9 314.9,462.0 314.2,462.2 313.4,462.4 312.7,462.5 312.0,462.6 311.3,462.8 310.6,463.0 309.9,463.3 309.2,463.7 308.5,464.2 307.8,464.8 307.1,465.5 306.4,466.5 305.7,467.3 305.0,467.8 304.3,467.9 303.6,467.7 302.9,467.6 302.1,467.5 301.4,467.4 300.7,467.3 300.0,469.0 299.3,471.3 298.6,471.5 297.9,471.5 297.2,471.4 296.5,471.2 295.8,471.1 295.1,471.1 294.4,469.7 293.7,465.1 293.0,464.1 292.3,463.5 291.6,463.0 290.9,462.8 290.1,462.5 289.4,462.3 288.7,462.1 288.0,461.9 287.3,461.8 286.6,461.7 285.9,461.6 285.2,461.6 284.5,461.6 283.8,461.6 283.1,461.6 282.4,461.6 281.7,461.6 281.0,461.6 280.3,461.6 279.6,461.6 278.8,461.6 278.1,461.6 277.4,461.6 276.7,461.6 276.0,461.6 275.3,461.6 274.6,461.6 273.9,461.6 273.2,461.6 272.5,461.6 271.8,461.6 271.1,461.6 270.4,461.6 269.7,461.6 269.0,461.6 268.3,461.6 267.6,461.6 266.8,461.6 266.1,461.6 265.4,461.6 264.7,461.6 264.0,461.6 263.3,461.6 262.6,461.6 261.9,461.6 261.2,461.6 260.5,461.6 259.8,461.6 259.1,461.6 258.4,461.6 257.7,461.6 257.0,461.6 256.3,461.6 255.5,461.6 254.8,461.6 254.1,461.6 253.4,461.6 252.7,461.6 252.0,461.6 251.3,461.6 250.6,461.6 249.9,461.6 249.9,461.6 248.9,461.4 248.1,460.7 247.5,459.7 247.3,458.6 247.5,457.5 248.1,456.5 248.9,455.8 249.9,455.6Z" fill="url(#g14)"/>
<circle cx="292.3" cy="457.2" r="2.4" fill="#7d38b1"/><circle cx="294.4" cy="466.9" r="2.4" fill="#ef0048"/><circle cx="295.8" cy="459.6" r="2.4" fill="#b0008f"/><circle cx="296.5" cy="464.4" r="2.4" fill="#882ca7"/><circle cx="297.2" cy="468.3" r="2.4" fill="#ef0048"/><circle cx="297.9" cy="454.7" r="2.4" fill="#ee0054"/><circle cx="298.6" cy="448.9" r="2.4" fill="#911f9d"/><circle cx="299.3" cy="458.0" r="2.4" fill="#951b9a"/><circle cx="300.0" cy="450.5" r="2.4" fill="#7140b9"/><circle cx="305.0" cy="461.3" r="2.4" fill="#0075e1"/><circle cx="305.7" cy="463.9" r="2.4" fill="#0075e1"/><circle cx="307.8" cy="462.5" r="2.4" fill="#0075e1"/><circle cx="308.5" cy="462.5" r="2.4" fill="#0075e1"/><circle cx="309.2" cy="461.2" r="2.4" fill="#0075e1"/><circle cx="309.9" cy="458.1" r="2.4" fill="#0075e1"/><circle cx="311.3" cy="460.6" r="2.4" fill="#0075e1"/><circle cx="313.4" cy="459.1" r="2.4" fill="#0075e1"/>
<circle cx="243.2" cy="458.6" r="2.8" fill="#ef0048"/>
<text x="117.4 126.2 135.6 140.1 151.2" y="463.3" font-size="14.00" fill="#3a3a3a" font-family="Liberation Sans" stroke="#3a3a3a" stroke-width="0.30">SS.D1</text>
<linearGradient id="g15" gradientUnits="userSpaceOnUse" x1="286.7" y1="0" x2="300.3" y2="0"><stop offset="0.0000" stop-color="#0075e1"/><stop offset="0.4632" stop-color="#0075e1"/><stop offset="0.5662" stop-color="#0075e1"/><stop offset="0.6471" stop-color="#0075e1"/><stop offset="0.9044" stop-color="#0075e1"/><stop offset="1.0000" stop-color="#0075e1"/></linearGradient>
<path d="M289.3,487.6 290.0,487.6 290.8,487.6 291.5,487.6 292.3,487.6 293.0,487.6 293.7,485.6 294.5,481.9 295.2,477.6 296.0,476.9 296.7,477.0 297.4,477.0 298.2,476.9 298.9,476.8 299.6,484.0 299.6,484.4 299.9,484.9 300.1,486.2 300.3,488.2 300.3,490.5 300.3,492.9 300.1,494.9 299.9,496.2 299.6,496.7 299.6,496.0 298.9,503.2 298.2,503.6 297.4,503.6 296.7,503.5 296.0,503.8 295.2,503.6 294.5,499.7 293.7,495.7 293.0,493.5 292.3,493.5 291.5,493.5 290.8,493.5 290.0,493.5 289.3,493.5 289.3,493.5 288.3,493.3 287.5,492.7 286.9,491.7 286.7,490.5 286.9,489.4 287.5,488.4 288.3,487.8 289.3,487.6Z" fill="url(#g15)"/>

<linearGradient id="g16" gradientUnits="userSpaceOnUse" x1="300.9" y1="0" x2="333.4" y2="0"><stop offset="0.0000" stop-color="#ef0048"/><stop offset="0.1385" stop-color="#ef0048"/><stop offset="0.5200" stop-color="#ef0048"/><stop offset="1.0000" stop-color="#ef0048"/></linearGradient>
<path d="M303.1,487.3 303.9,486.9 304.6,486.5 305.3,486.2 306.0,486.3 306.7,486.3 307.4,486.4 308.1,486.5 308.8,486.5 309.5,486.6 310.2,486.6 310.9,486.7 311.7,486.8 312.4,486.9 313.1,487.0 313.8,487.1 314.5,487.2 315.2,487.3 315.9,487.4 316.6,487.5 317.3,487.5 318.0,487.6 318.7,487.6 319.5,487.6 320.2,487.7 320.9,487.7 321.6,487.7 322.3,487.8 323.0,487.8 323.7,487.8 324.4,487.8 325.1,487.9 325.8,487.9 326.5,487.9 327.3,487.9 328.0,487.9 328.7,487.9 329.4,487.9 330.1,487.9 330.8,487.9 330.8,487.9 331.8,488.1 332.6,488.7 333.2,489.6 333.4,490.5 333.2,491.5 332.6,492.4 331.8,493.0 330.8,493.1 330.8,493.1 330.1,493.2 329.4,493.2 328.7,493.2 328.0,493.2 327.3,493.2 326.5,493.2 325.8,493.2 325.1,493.2 324.4,493.3 323.7,493.3 323.0,493.3 322.3,493.3 321.6,493.4 320.9,493.4 320.2,493.4 319.5,493.5 318.7,493.5 318.0,493.5 317.3,493.6 316.6,493.6 315.9,493.7 315.2,493.8 314.5,493.9 313.8,494.0 313.1,494.1 312.4,494.2 311.7,494.3 310.9,494.4 310.2,494.4 309.5,494.5 308.8,494.6 308.1,494.7 307.4,494.8 306.7,494.8 306.0,494.8 305.3,494.7 304.6,494.4 303.9,494.2 303.1,493.8 303.1,493.8 302.3,493.6 301.6,492.9 301.1,491.8 300.9,490.5 301.1,489.3 301.6,488.2 302.3,487.5 303.1,487.3Z" fill="url(#g16)"/>

<text x="33.3 45.6 54.4 63.5 68.6 77.1 80.9 84.9 95.3 104.0 112.5 120.1 128.9 133.2 138.2 142.3 151.2" y="495.2" font-size="14.00" fill="#3a3a3a" font-family="Liberation Sans" stroke="#3a3a3a" stroke-width="0.30">Mental Consulting</text>
<linearGradient id="g17" gradientUnits="userSpaceOnUse" x1="273.9" y1="0" x2="325.1" y2="0"><stop offset="0.0000" stop-color="#e9005c"/><stop offset="0.3398" stop-color="#e9005c"/><stop offset="0.3633" stop-color="#e9005c"/><stop offset="0.3887" stop-color="#e30066"/><stop offset="0.4844" stop-color="#db006f"/><stop offset="0.5098" stop-color="#882da7"/><stop offset="0.5879" stop-color="#4654cc"/><stop offset="0.6973" stop-color="#006fdf"/><stop offset="1.0000" stop-color="#0075e1"/></linearGradient>
<path d="M276.5,519.5 277.2,519.5 277.9,519.5 278.6,519.5 279.3,519.5 280.0,519.5 280.7,519.5 281.5,519.5 282.2,519.5 282.9,519.5 283.6,519.5 284.3,519.5 285.0,519.5 285.7,519.5 286.4,519.5 287.1,519.5 287.8,519.5 288.5,519.5 289.2,519.5 289.9,519.5 290.7,519.5 291.4,519.5 292.1,517.3 292.8,514.4 293.5,510.6 294.2,510.1 294.9,509.8 295.6,509.3 296.3,508.6 297.0,508.1 297.7,507.8 298.4,507.6 299.1,508.8 299.9,512.2 300.6,512.8 301.3,513.2 302.0,513.7 302.7,514.2 303.4,514.6 304.1,515.0 304.8,515.4 305.5,515.9 306.2,516.5 306.9,517.2 307.6,518.0 308.3,518.6 309.1,518.9 309.8,519.0 310.5,519.1 311.2,519.2 311.9,519.2 312.6,519.3 313.3,519.4 314.0,519.4 314.7,519.5 315.4,519.5 316.1,519.5 316.8,519.6 317.5,519.6 318.3,519.6 319.0,519.7 319.7,519.7 320.4,519.7 321.1,519.7 321.8,519.7 322.5,519.7 322.5,519.7 323.5,519.9 324.3,520.5 324.9,521.4 325.1,522.5 324.9,523.6 324.3,524.5 323.5,525.1 322.5,525.3 322.5,525.3 321.8,525.3 321.1,525.3 320.4,525.3 319.7,525.3 319.0,525.3 318.3,525.4 317.5,525.4 316.8,525.4 316.1,525.5 315.4,525.5 314.7,525.5 314.0,525.6 313.3,525.6 312.6,525.7 311.9,525.8 311.2,525.8 310.5,525.9 309.8,526.0 309.1,526.1 308.3,526.4 307.6,526.8 306.9,527.1 306.2,527.4 305.5,527.7 304.8,528.1 304.1,528.7 303.4,529.5 302.7,530.3 302.0,530.9 301.3,531.2 300.6,531.2 299.9,531.2 299.1,534.2 298.4,535.3 297.7,535.5 297.0,536.0 296.3,536.6 295.6,536.9 294.9,537.0 294.2,537.0 293.5,536.2 292.8,532.0 292.1,528.1 291.4,525.5 290.7,525.5 289.9,525.5 289.2,525.5 288.5,525.5 287.8,525.5 287.1,525.5 286.4,525.5 285.7,525.5 285.0,525.5 284.3,525.5 283.6,525.5 282.9,525.5 282.2,525.5 281.5,525.5 280.7,525.5 280.0,525.5 279.3,525.5 278.6,525.5 277.9,525.5 277.2,525.5 276.5,525.5 276.5,525.5 275.5,525.3 274.7,524.6 274.1,523.6 273.9,522.5 274.1,521.4 274.7,520.4 275.5,519.7 276.5,519.5Z" fill="url(#g17)"/>
<circle cx="294.2" cy="511.8" r="2.4" fill="#ef0048"/><circle cx="294.9" cy="523.2" r="2.4" fill="#ef004b"/><circle cx="295.6" cy="531.2" r="2.4" fill="#ef0048"/><circle cx="296.3" cy="517.7" r="2.4" fill="#90219e"/><circle cx="297.7" cy="527.6" r="2.4" fill="#ef0048"/><circle cx="298.4" cy="530.8" r="2.4" fill="#ef0048"/><circle cx="302.0" cy="526.4" r="2.4" fill="#0069dc"/><circle cx="303.4" cy="521.0" r="2.4" fill="#0075e1"/><circle cx="306.2" cy="520.3" r="2.4" fill="#862fa9"/><circle cx="309.1" cy="523.5" r="2.4" fill="#0075e1"/>
<circle cx="337.0" cy="522.5" r="2.8" fill="#0075e1"/>
<circle cx="372.7" cy="522.5" r="2.8" fill="#0075e1"/>
<text x="117.4 126.2 135.6 140.1 151.2" y="527.2" font-size="14.00" fill="#3a3a3a" font-family="Liberation Sans" stroke="#3a3a3a" stroke-width="0.30">SS.D2</text>
<linearGradient id="g18" gradientUnits="userSpaceOnUse" x1="280.7" y1="0" x2="326.8" y2="0"><stop offset="0.0000" stop-color="#db006f"/><stop offset="0.2755" stop-color="#db006f"/><stop offset="0.3037" stop-color="#db006f"/><stop offset="0.3688" stop-color="#db006f"/><stop offset="0.4187" stop-color="#c80080"/><stop offset="0.4924" stop-color="#6e43bc"/><stop offset="0.5640" stop-color="#006fdf"/><stop offset="1.0000" stop-color="#0075e1"/></linearGradient>
<mask id="m18" maskUnits="userSpaceOnUse" x="268.3" y="539.5" width="70.9" height="30"><rect x="268.3" y="539.5" width="70.9" height="30" fill="#fff"/><path d="M285.0,549.5H288.8L287.5,554.5L288.8,559.5H285.0L286.3,554.5Z" fill="#000"/><path d="M305.6,549.5H308.9L307.6,554.5L308.9,559.5H305.6L306.9,554.5Z" fill="#000"/></mask>
<path d="M283.3,551.5 284.0,551.5 284.7,551.5 285.4,551.5 286.1,551.5 286.8,551.5 287.5,551.5 288.2,551.5 288.9,551.5 289.6,551.5 290.4,551.5 291.1,551.5 291.8,551.5 292.5,551.5 293.2,551.5 293.9,549.4 294.6,544.0 295.3,542.4 296.0,541.1 296.7,540.4 297.4,540.4 298.1,541.0 298.8,542.7 299.5,544.6 300.2,546.1 300.9,547.4 301.6,548.6 302.3,549.4 303.0,550.0 303.8,550.3 304.5,550.7 305.2,551.0 305.9,551.3 306.6,551.5 307.3,551.5 308.0,551.5 308.7,551.5 309.4,551.5 310.1,551.5 310.8,551.5 311.5,551.5 312.2,551.5 312.9,551.5 313.6,551.5 314.3,551.5 315.0,551.5 315.7,551.5 316.4,551.5 317.1,551.5 317.9,551.5 318.6,551.5 319.3,551.5 320.0,551.5 320.7,551.5 321.4,551.5 322.1,551.5 322.8,551.5 323.5,551.5 324.2,551.5 324.2,551.5 325.2,551.7 326.0,552.3 326.6,553.3 326.8,554.5 326.6,555.6 326.0,556.6 325.2,557.2 324.2,557.4 324.2,557.4 323.5,557.4 322.8,557.4 322.1,557.4 321.4,557.4 320.7,557.4 320.0,557.4 319.3,557.4 318.6,557.4 317.9,557.4 317.1,557.4 316.4,557.4 315.7,557.4 315.0,557.4 314.3,557.4 313.6,557.4 312.9,557.4 312.2,557.4 311.5,557.4 310.8,557.4 310.1,557.4 309.4,557.4 308.7,557.4 308.0,557.4 307.3,557.4 306.6,557.4 305.9,557.6 305.2,557.9 304.5,558.3 303.8,558.8 303.0,559.3 302.3,559.9 301.6,560.6 300.9,561.8 300.2,563.4 299.5,565.4 298.8,567.7 298.1,569.2 297.4,569.4 296.7,569.0 296.0,568.4 295.3,567.5 294.6,566.1 293.9,560.0 293.2,557.4 292.5,557.4 291.8,557.4 291.1,557.4 290.4,557.4 289.6,557.4 288.9,557.4 288.2,557.4 287.5,557.4 286.8,557.4 286.1,557.4 285.4,557.4 284.7,557.4 284.0,557.4 283.3,557.4 283.3,557.4 282.3,557.2 281.5,556.6 280.9,555.6 280.7,554.5 280.9,553.3 281.5,552.3 282.3,551.7 283.3,551.5Z" fill="url(#g18)" mask="url(#m18)"/>
<circle cx="295.3" cy="559.0" r="2.4" fill="#ef0048"/><circle cx="296.0" cy="556.7" r="2.4" fill="#ef0048"/><circle cx="296.7" cy="558.4" r="2.4" fill="#ef0048"/><circle cx="297.4" cy="553.7" r="2.4" fill="#ef0048"/><circle cx="299.5" cy="550.2" r="2.4" fill="#ef0048"/><circle cx="300.2" cy="556.9" r="2.4" fill="#8a2aa5"/>
<circle cx="332.0" cy="554.5" r="2.8" fill="#0075e1"/>
<circle cx="335.5" cy="554.5" r="2.8" fill="#0075e1"/>
<circle cx="339.0" cy="554.5" r="2.8" fill="#0075e1"/>
<circle cx="344.5" cy="554.5" r="2.8" fill="#0075e1"/>
<circle cx="350.0" cy="554.5" r="2.8" fill="#0075e1"/>
<circle cx="355.0" cy="554.5" r="2.8" fill="#0075e1"/>
<circle cx="359.0" cy="554.5" r="2.8" fill="#0075e1"/>
<circle cx="364.0" cy="554.5" r="2.8" fill="#0075e1"/>
<text x="74.4 84.2 93.5 98.1 109.1 117.7 121.6 130.8 141.1 151.2" y="559.2" font-size="14.00" fill="#3a3a3a" font-family="Liberation Sans" stroke="#3a3a3a" stroke-width="0.30">CS.D3.SUB2</text>
<linearGradient id="g19" gradientUnits="userSpaceOnUse" x1="286.7" y1="0" x2="313.8" y2="0"><stop offset="0.0000" stop-color="#0075e1"/><stop offset="0.2841" stop-color="#0075e1"/><stop offset="0.3284" stop-color="#0075e1"/><stop offset="0.3653" stop-color="#0075e1"/><stop offset="0.4723" stop-color="#0075e1"/><stop offset="0.5166" stop-color="#7c38b2"/><stop offset="0.6015" stop-color="#e9005c"/><stop offset="0.7159" stop-color="#ef0048"/><stop offset="1.0000" stop-color="#ef0048"/></linearGradient>
<path d="M289.3,583.4 290.0,583.4 290.7,583.4 291.4,583.4 292.1,583.4 292.8,583.4 293.5,583.4 294.2,583.4 295.0,581.6 295.7,577.3 296.4,572.7 297.1,571.7 297.8,571.4 298.5,571.4 299.2,571.9 299.9,574.3 300.6,580.7 301.3,581.6 302.0,582.0 302.7,582.3 303.4,582.4 304.1,582.4 304.8,582.4 305.5,582.3 306.3,582.2 307.0,582.3 307.7,582.4 308.4,582.6 309.1,582.8 309.8,583.1 310.5,583.3 311.2,583.6 311.2,583.6 312.2,583.8 313.0,584.4 313.6,585.3 313.8,586.4 313.6,587.5 313.0,588.4 312.2,589.0 311.2,589.2 311.2,589.2 310.5,589.5 309.8,589.7 309.1,590.0 308.4,590.2 307.7,590.4 307.0,590.5 306.3,590.5 305.5,590.5 304.8,590.5 304.1,590.5 303.4,590.5 302.7,590.6 302.0,590.9 301.3,591.5 300.6,592.6 299.9,598.9 299.2,600.6 298.5,600.4 297.8,600.4 297.1,600.5 296.4,599.8 295.7,595.2 295.0,591.0 294.2,589.4 293.5,589.4 292.8,589.4 292.1,589.4 291.4,589.4 290.7,589.4 290.0,589.4 289.3,589.4 289.3,589.4 288.3,589.2 287.5,588.5 286.9,587.5 286.7,586.4 286.9,585.3 287.5,584.3 288.3,583.6 289.3,583.4Z" fill="url(#g19)"/>

<circle cx="320.8" cy="586.4" r="2.8" fill="#ef0048"/>
<text x="20.0 28.7 36.4 41.6 50.4 59.1 64.9 68.3 75.8 80.0 91.3 99.0 106.9 115.8 124.5 133.5 138.6 142.5 151.2" y="591.1" font-size="14.00" fill="#3a3a3a" font-family="Liberation Sans" stroke="#3a3a3a" stroke-width="0.30">Father&#39;s Occupation</text>
<linearGradient id="g20" gradientUnits="userSpaceOnUse" x1="288.4" y1="0" x2="329.3" y2="0"><stop offset="0.0000" stop-color="#db006f"/><stop offset="0.1540" stop-color="#db006f"/><stop offset="0.1834" stop-color="#e30066"/><stop offset="0.2103" stop-color="#e30066"/><stop offset="0.3007" stop-color="#e30066"/><stop offset="0.3276" stop-color="#7c38b2"/><stop offset="0.3570" stop-color="#006fdf"/><stop offset="1.0000" stop-color="#0075e1"/></linearGradient>
<mask id="m20" maskUnits="userSpaceOnUse" x="276.0" y="603.4" width="65.7" height="30"><rect x="276.0" y="603.4" width="65.7" height="30" fill="#fff"/><path d="M310.9,613.4H313.7L312.4,618.4L313.7,623.4H310.9L312.2,618.4Z" fill="#000"/></mask>
<path d="M291.0,615.4 291.7,615.4 292.4,615.4 293.1,615.4 293.9,615.4 294.6,615.4 295.3,613.6 296.0,610.2 296.7,605.9 297.4,605.0 298.1,604.9 298.9,604.9 299.6,605.1 300.3,605.4 301.0,606.8 301.7,612.8 302.4,614.6 303.1,615.4 303.9,615.4 304.6,615.4 305.3,615.4 306.0,615.4 306.7,615.4 307.4,615.4 308.1,615.4 308.9,615.4 309.6,615.4 310.3,615.4 311.0,615.4 311.7,615.4 312.4,615.4 313.1,615.4 313.8,615.4 314.6,615.4 315.3,615.4 316.0,615.4 316.7,615.4 317.4,615.4 318.1,615.4 318.8,615.4 319.6,615.4 320.3,615.4 321.0,615.4 321.7,615.4 322.4,615.4 323.1,615.4 323.8,615.4 324.6,615.4 325.3,615.4 326.0,615.4 326.7,615.4 326.7,615.4 327.7,615.6 328.5,616.2 329.1,617.2 329.3,618.4 329.1,619.5 328.5,620.5 327.7,621.1 326.7,621.3 326.7,621.3 326.0,621.3 325.3,621.3 324.6,621.3 323.8,621.3 323.1,621.3 322.4,621.3 321.7,621.3 321.0,621.3 320.3,621.3 319.6,621.3 318.8,621.3 318.1,621.3 317.4,621.3 316.7,621.3 316.0,621.3 315.3,621.3 314.6,621.3 313.8,621.3 313.1,621.3 312.4,621.3 311.7,621.3 311.0,621.3 310.3,621.3 309.6,621.3 308.9,621.3 308.1,621.3 307.4,621.3 306.7,621.3 306.0,621.3 305.3,621.3 304.6,621.3 303.9,621.3 303.1,621.3 302.4,622.4 301.7,625.7 301.0,631.8 300.3,632.7 299.6,632.3 298.9,631.7 298.1,631.2 297.4,630.9 296.7,630.3 296.0,626.2 295.3,623.0 294.6,621.3 293.9,621.3 293.1,621.3 292.4,621.3 291.7,621.3 291.0,621.3 291.0,621.3 290.0,621.1 289.2,620.5 288.6,619.5 288.4,618.4 288.6,617.2 289.2,616.2 290.0,615.6 291.0,615.4Z" fill="url(#g20)" mask="url(#m20)"/>
<circle cx="298.9" cy="623.2" r="2.4" fill="#ef0048"/><circle cx="301.0" cy="619.7" r="2.4" fill="#e9005d"/>
<circle cx="337.5" cy="618.4" r="2.8" fill="#0075e1"/>
<circle cx="341.5" cy="618.4" r="2.8" fill="#0075e1"/>
<circle cx="346.8" cy="618.4" r="2.8" fill="#0075e1"/>
<circle cx="350.5" cy="618.4" r="2.8" fill="#0075e1"/>
<circle cx="353.5" cy="618.4" r="2.8" fill="#0075e1"/>
<circle cx="356.2" cy="618.4" r="2.8" fill="#0075e1"/>
<text x="74.4 84.2 93.5 98.1 109.1 117.7 121.6 130.8 141.1 151.2" y="623.1" font-size="14.00" fill="#3a3a3a" font-family="Liberation Sans" stroke="#3a3a3a" stroke-width="0.30">CS.D3.SUB1</text>
<linearGradient id="g21" gradientUnits="userSpaceOnUse" x1="292.2" y1="0" x2="313.9" y2="0"><stop offset="0.0000" stop-color="#0075e1"/><stop offset="0.1382" stop-color="#0075e1"/><stop offset="0.1889" stop-color="#0075e1"/><stop offset="0.2396" stop-color="#0075e1"/><stop offset="0.3917" stop-color="#006fdf"/><stop offset="0.4424" stop-color="#911e9b"/><stop offset="0.5438" stop-color="#db006f"/><stop offset="0.6820" stop-color="#ef0053"/><stop offset="1.0000" stop-color="#ef0048"/></linearGradient>
<path d="M293.7,647.5 294.4,647.5 295.1,647.3 295.8,645.0 296.5,640.9 297.2,636.9 297.9,636.5 298.6,636.4 299.3,636.5 300.0,636.7 300.7,637.2 301.4,643.8 302.1,645.8 302.9,646.1 303.6,646.2 304.3,646.2 305.0,646.2 305.7,646.2 306.4,646.3 307.1,646.5 307.8,646.7 308.5,646.9 309.2,647.0 309.9,647.2 310.6,647.3 311.3,647.5 311.3,647.5 312.3,647.7 313.1,648.3 313.7,649.2 313.9,650.3 313.7,651.4 313.1,652.3 312.3,652.9 311.3,653.1 311.3,653.1 310.6,653.3 309.9,653.4 309.2,653.6 308.5,653.7 307.8,653.9 307.1,654.0 306.4,654.2 305.7,654.3 305.0,654.4 304.3,654.6 303.6,654.9 302.9,655.3 302.1,655.9 301.4,659.4 300.7,665.4 300.0,665.2 299.3,664.9 298.6,664.7 297.9,664.5 297.2,664.1 296.5,660.3 295.8,656.0 295.1,653.3 294.4,653.1 293.7,653.1 293.7,653.1 293.1,652.9 292.6,652.3 292.3,651.4 292.2,650.3 292.3,649.2 292.6,648.3 293.1,647.7 293.7,647.5Z" fill="url(#g21)"/>

<text x="15.2 27.4 36.4 41.6 50.4 59.1 64.9 68.3 75.8 80.0 91.3 99.0 106.9 115.8 124.5 133.5 138.6 142.5 151.2" y="655.0" font-size="14.00" fill="#3a3a3a" font-family="Liberation Sans" stroke="#3a3a3a" stroke-width="0.30">Mother&#39;s Occupation</text>
<linearGradient id="g22" gradientUnits="userSpaceOnUse" x1="289.6" y1="0" x2="319.3" y2="0"><stop offset="0.0000" stop-color="#006fdf"/><stop offset="0.1650" stop-color="#0069dc"/><stop offset="0.2121" stop-color="#5c4cc4"/><stop offset="0.2660" stop-color="#911e9b"/><stop offset="0.3805" stop-color="#911e9b"/><stop offset="0.4377" stop-color="#c80080"/><stop offset="0.5185" stop-color="#e9005c"/><stop offset="0.6869" stop-color="#ef0048"/><stop offset="1.0000" stop-color="#ef0048"/></linearGradient>
<mask id="m22" maskUnits="userSpaceOnUse" x="277.1" y="667.2" width="54.6" height="30"><rect x="277.1" y="667.2" width="54.6" height="30" fill="#fff"/><path d="M312.0,677.2H314.6L313.3,682.2L314.6,687.2H312.0L313.3,682.2Z" fill="#000"/></mask>
<path d="M292.1,679.3 292.8,679.3 293.5,679.3 294.2,679.3 294.9,678.8 295.6,676.4 296.3,673.6 297.0,669.8 297.7,668.5 298.4,668.5 299.1,668.6 299.8,668.8 300.5,669.0 301.2,669.8 301.9,673.7 302.6,676.2 303.3,676.5 304.0,676.7 304.7,677.0 305.4,677.5 306.1,677.9 306.8,678.3 307.5,678.6 308.2,678.9 309.0,679.1 309.7,679.2 310.4,679.3 311.1,679.3 311.8,679.3 312.5,679.4 313.2,679.4 313.9,679.4 314.6,679.4 315.3,679.4 316.0,679.4 316.7,679.5 316.7,679.5 317.7,679.7 318.5,680.3 319.1,681.2 319.3,682.2 319.1,683.3 318.5,684.2 317.7,684.8 316.7,685.0 316.7,685.0 316.0,685.1 315.3,685.1 314.6,685.1 313.9,685.1 313.2,685.1 312.5,685.1 311.8,685.2 311.1,685.2 310.4,685.2 309.7,685.3 309.0,685.4 308.2,685.6 307.5,685.9 306.8,686.3 306.1,686.7 305.4,687.0 304.7,687.3 304.0,687.6 303.3,687.9 302.6,688.4 301.9,691.0 301.2,694.6 300.5,695.1 299.8,695.3 299.1,695.6 298.4,696.0 297.7,696.3 297.0,695.0 296.3,691.2 295.6,688.0 294.9,685.7 294.2,685.2 293.5,685.2 292.8,685.2 292.1,685.2 292.1,685.2 291.1,685.0 290.3,684.4 289.8,683.4 289.6,682.2 289.8,681.1 290.3,680.1 291.1,679.5 292.1,679.3Z" fill="url(#g22)" mask="url(#m22)"/>
<circle cx="296.3" cy="683.6" r="2.4" fill="#b7008b"/><circle cx="297.0" cy="687.5" r="2.4" fill="#5d4bc4"/><circle cx="297.7" cy="685.6" r="2.4" fill="#b8008b"/><circle cx="297.7" cy="676.8" r="2.4" fill="#3e56ce"/><circle cx="298.4" cy="692.5" r="2.4" fill="#6747bf"/><circle cx="298.4" cy="683.7" r="2.4" fill="#584dc6"/><circle cx="299.1" cy="684.0" r="2.4" fill="#2a5ad1"/><circle cx="299.1" cy="675.2" r="2.4" fill="#5e4bc4"/><circle cx="299.8" cy="686.9" r="2.4" fill="#d20078"/><circle cx="299.8" cy="678.2" r="2.4" fill="#0062d8"/><circle cx="300.5" cy="685.1" r="2.4" fill="#c20084"/><circle cx="300.5" cy="682.5" r="2.4" fill="#6846bf"/><circle cx="301.2" cy="682.2" r="2.4" fill="#ca007e"/><circle cx="301.9" cy="687.6" r="2.4" fill="#862ea8"/><circle cx="302.6" cy="683.2" r="2.4" fill="#ef0048"/>
<text x="132.5 142.6 151.3" y="687.0" font-size="14.00" fill="#3a3a3a" font-family="Liberation Sans" stroke="#3a3a3a" stroke-width="0.30">Age</text>
<line x1="185.0" y1="713.5" x2="529.0" y2="713.5" stroke="#333" stroke-width="1.2"/>
<line x1="187.8" y1="713.5" x2="187.8" y2="718.0" stroke="#333" stroke-width="1.1"/>
<text x="174.9 183.8 191.1 195.1" y="730.3" font-size="11.85" fill="#333" font-family="Liberation Sans" stroke="#333" stroke-width="0.30">−0.2</text>
<line x1="243.8" y1="713.5" x2="243.8" y2="718.0" stroke="#333" stroke-width="1.1"/>
<text x="230.9 239.8 247.1 251.1" y="730.3" font-size="11.85" fill="#333" font-family="Liberation Sans" stroke="#333" stroke-width="0.30">−0.1</text>
<line x1="299.8" y1="713.5" x2="299.8" y2="718.0" stroke="#333" stroke-width="1.1"/>
<text x="290.9 298.2 302.2" y="730.3" font-size="11.85" fill="#333" font-family="Liberation Sans" stroke="#333" stroke-width="0.30">0.0</text>
<line x1="355.8" y1="713.5" x2="355.8" y2="718.0" stroke="#333" stroke-width="1.1"/>
<text x="346.9 354.2 358.2" y="730.3" font-size="11.85" fill="#333" font-family="Liberation Sans" stroke="#333" stroke-width="0.30">0.1</text>
<line x1="411.8" y1="713.5" x2="411.8" y2="718.0" stroke="#333" stroke-width="1.1"/>
<text x="402.9 410.2 414.2" y="730.3" font-size="11.85" fill="#333" font-family="Liberation Sans" stroke="#333" stroke-width="0.30">0.2</text>
<line x1="467.8" y1="713.5" x2="467.8" y2="718.0" stroke="#333" stroke-width="1.1"/>
<text x="458.9 466.2 470.2" y="730.3" font-size="11.85" fill="#333" font-family="Liberation Sans" stroke="#333" stroke-width="0.30">0.3</text>
<line x1="523.8" y1="713.5" x2="523.8" y2="718.0" stroke="#333" stroke-width="1.1"/>
<text x="514.9 522.2 526.2" y="730.3" font-size="11.85" fill="#333" font-family="Liberation Sans" stroke="#333" stroke-width="0.30">0.4</text>
<text x="224.7 234.0 244.4 253.4 262.6 267.4 275.4 284.0 288.1 296.8 305.3 309.9 315.3 319.8 333.0 341.7 350.3 358.4 363.4 367.9 376.7 385.3 390.4 403.5 412.2 420.9 429.5 433.3 437.9 446.6 455.7 461.0 469.8 479.0 484.1" y="747.3" font-size="14.00" fill="#111" font-family="Liberation Sans" stroke="#111" stroke-width="0.30">SHAP value (impact on model output)</text>
<linearGradient id="cb23" x1="0" y1="0" x2="0" y2="1"><stop offset="0.000" stop-color="#ef0048"/><stop offset="0.050" stop-color="#ef0053"/><stop offset="0.100" stop-color="#e9005c"/><stop offset="0.150" stop-color="#e30066"/><stop offset="0.200" stop-color="#db006f"/><stop offset="0.250" stop-color="#d20078"/><stop offset="0.300" stop-color="#c80080"/><stop offset="0.350" stop-color="#bc0088"/><stop offset="0.400" stop-color="#af008f"/><stop offset="0.450" stop-color="#a11296"/><stop offset="0.500" stop-color="#911e9b"/><stop offset="0.550" stop-color="#882da7"/><stop offset="0.600" stop-color="#7c38b2"/><stop offset="0.650" stop-color="#6e43bc"/><stop offset="0.700" stop-color="#5c4cc4"/><stop offset="0.750" stop-color="#4654cc"/><stop offset="0.800" stop-color="#225bd3"/><stop offset="0.850" stop-color="#0063d8"/><stop offset="0.900" stop-color="#0069dc"/><stop offset="0.950" stop-color="#006fdf"/><stop offset="1.000" stop-color="#0075e1"/></linearGradient>
<rect x="551.0" y="44.0" width="9.0" height="669.5" fill="url(#cb23)"/>
<text x="564.2 573.2 576.7 584.2" y="48.0" font-size="11.85" fill="#333" font-family="Liberation Sans" stroke="#333" stroke-width="0.30">High</text>
<text x="564.0 570.9 578.2" y="719.0" font-size="11.85" fill="#333" font-family="Liberation Sans" stroke="#333" stroke-width="0.30">Low</text>
<text x="556.3 564.4 571.6 579.9 584.7 592.9 598.0 605.6 610.0 617.4 625.3 629.0 637.1" y="378.3" font-size="12.90" fill="#333" font-family="Liberation Sans" transform="rotate(-90 600.6 378.3)" stroke="#333" stroke-width="0.30">Feature value</text>
<line x1="872.0" y1="72.9" x2="1235.0" y2="72.9" stroke="#e2e2e2" stroke-width="1" stroke-dasharray="1 2"/>
<line x1="872.0" y1="105.0" x2="1235.0" y2="105.0" stroke="#e2e2e2" stroke-width="1" stroke-dasharray="1 2"/>
<line x1="872.0" y1="137.0" x2="1235.0" y2="137.0" stroke="#e2e2e2" stroke-width="1" stroke-dasharray="1 2"/>
<line x1="872.0" y1="169.1" x2="1235.0" y2="169.1" stroke="#e2e2e2" stroke-width="1" stroke-dasharray="1 2"/>
<line x1="872.0" y1="201.2" x2="1235.0" y2="201.2" stroke="#e2e2e2" stroke-width="1" stroke-dasharray="1 2"/>
<line x1="872.0" y1="233.2" x2="1235.0" y2="233.2" stroke="#e2e2e2" stroke-width="1" stroke-dasharray="1 2"/>
<line x1="872.0" y1="265.3" x2="1235.0" y2="265.3" stroke="#e2e2e2" stroke-width="1" stroke-dasharray="1 2"/>
<line x1="872.0" y1="297.4" x2="1235.0" y2="297.4" stroke="#e2e2e2" stroke-width="1" stroke-dasharray="1 2"/>
<line x1="872.0" y1="329.5" x2="1235.0" y2="329.5" stroke="#e2e2e2" stroke-width="1" stroke-dasharray="1 2"/>
<line x1="872.0" y1="361.5" x2="1235.0" y2="361.5" stroke="#e2e2e2" stroke-width="1" stroke-dasharray="1 2"/>
<line x1="872.0" y1="393.6" x2="1235.0" y2="393.6" stroke="#e2e2e2" stroke-width="1" stroke-dasharray="1 2"/>
<line x1="872.0" y1="425.7" x2="1235.0" y2="425.7" stroke="#e2e2e2" stroke-width="1" stroke-dasharray="1 2"/>
<line x1="872.0" y1="457.7" x2="1235.0" y2="457.7" stroke="#e2e2e2" stroke-width="1" stroke-dasharray="1 2"/>
<line x1="872.0" y1="489.8" x2="1235.0" y2="489.8" stroke="#e2e2e2" stroke-width="1" stroke-dasharray="1 2"/>
<line x1="872.0" y1="521.9" x2="1235.0" y2="521.9" stroke="#e2e2e2" stroke-width="1" stroke-dasharray="1 2"/>
<line x1="872.0" y1="554.0" x2="1235.0" y2="554.0" stroke="#e2e2e2" stroke-width="1" stroke-dasharray="1 2"/>
<line x1="872.0" y1="586.0" x2="1235.0" y2="586.0" stroke="#e2e2e2" stroke-width="1" stroke-dasharray="1 2"/>
<line x1="872.0" y1="618.1" x2="1235.0" y2="618.1" stroke="#e2e2e2" stroke-width="1" stroke-dasharray="1 2"/>
<line x1="872.0" y1="650.2" x2="1235.0" y2="650.2" stroke="#e2e2e2" stroke-width="1" stroke-dasharray="1 2"/>
<line x1="872.0" y1="682.2" x2="1235.0" y2="682.2" stroke="#e2e2e2" stroke-width="1" stroke-dasharray="1 2"/>
<line x1="997.6" y1="41.0" x2="997.6" y2="714.5" stroke="#a3a3a3" stroke-width="1.6"/>
<linearGradient id="g24" gradientUnits="userSpaceOnUse" x1="889.2" y1="0" x2="1211.5" y2="0"><stop offset="0.0000" stop-color="#0075e1"/><stop offset="0.0304" stop-color="#0075e1"/><stop offset="0.0732" stop-color="#0073e1"/><stop offset="0.1049" stop-color="#0072e0"/><stop offset="0.1371" stop-color="#006cde"/><stop offset="0.1545" stop-color="#0063d8"/><stop offset="0.1868" stop-color="#3358d0"/><stop offset="0.2153" stop-color="#544fc7"/><stop offset="0.2436" stop-color="#6746bf"/><stop offset="0.3003" stop-color="#8134ae"/><stop offset="0.3360" stop-color="#7c38b2"/><stop offset="0.4679" stop-color="#911e9b"/><stop offset="0.6540" stop-color="#c80080"/><stop offset="0.7316" stop-color="#d70073"/><stop offset="0.8092" stop-color="#e40064"/><stop offset="0.8557" stop-color="#ed0057"/><stop offset="0.9038" stop-color="#ef004d"/><stop offset="0.9488" stop-color="#ef0048"/><stop offset="1.0000" stop-color="#ef0048"/></linearGradient>
<mask id="m24" maskUnits="userSpaceOnUse" x="876.8" y="57.9" width="347.1" height="30"><rect x="876.8" y="57.9" width="347.1" height="30" fill="#fff"/><path d="M1015.7,67.9H1019.1L1017.8,72.9L1019.1,77.9H1015.7L1017.0,72.9Z" fill="#000"/><path d="M1026.0,67.9H1030.1L1028.8,72.9L1030.1,77.9H1026.0L1027.3,72.9Z" fill="#000"/><path d="M1036.5,67.9H1040.0L1038.7,72.9L1040.0,77.9H1036.5L1037.8,72.9Z" fill="#000"/><path d="M1053.7,67.9H1057.8L1056.5,72.9L1057.8,77.9H1053.7L1055.0,72.9Z" fill="#000"/><path d="M1061.6,67.9H1064.3L1063.0,72.9L1064.3,77.9H1061.6L1062.9,72.9Z" fill="#000"/><path d="M1084.0,67.9H1087.9L1086.6,72.9L1087.9,77.9H1084.0L1085.3,72.9Z" fill="#000"/><path d="M1092.5,67.9H1095.8L1094.5,72.9L1095.8,77.9H1092.5L1093.8,72.9Z" fill="#000"/><path d="M1099.8,67.9H1103.2L1101.9,72.9L1103.2,77.9H1099.8L1101.1,72.9Z" fill="#000"/><path d="M1105.0,67.9H1109.0L1107.7,72.9L1109.0,77.9H1105.0L1106.3,72.9Z" fill="#000"/><path d="M1113.8,67.9H1116.7L1115.4,72.9L1116.7,77.9H1113.8L1115.1,72.9Z" fill="#000"/></mask>
<path d="M891.8,70.1 892.5,69.8 893.2,69.5 893.9,69.2 894.6,69.0 895.3,68.7 896.0,68.5 896.7,68.4 897.4,68.4 898.1,68.5 898.8,68.3 899.5,67.8 900.2,67.0 900.9,66.4 901.6,66.0 902.3,66.1 903.0,66.4 903.7,66.7 904.4,66.7 905.1,66.5 905.8,65.9 906.5,65.1 907.2,64.1 907.9,63.1 908.6,62.5 909.3,62.5 910.0,63.1 910.7,63.9 911.4,64.4 912.1,64.6 912.8,64.4 913.5,64.0 914.2,63.7 914.9,63.5 915.6,63.0 916.3,62.3 917.0,61.6 917.7,61.0 918.4,60.8 919.1,61.1 919.8,61.7 920.5,62.4 921.2,63.0 921.9,63.2 922.6,62.6 923.3,61.6 924.0,60.3 924.7,59.2 925.4,58.6 926.1,58.3 926.8,58.4 927.5,59.0 928.2,60.0 928.9,61.4 929.6,62.8 930.3,63.7 931.0,63.9 931.7,63.7 932.4,63.4 933.1,63.1 933.8,62.8 934.5,62.5 935.2,62.2 935.9,62.2 936.6,62.9 937.3,64.1 938.0,65.6 938.7,66.7 939.4,67.4 940.1,67.7 940.8,67.8 941.5,67.6 942.2,67.1 942.9,66.3 943.6,65.5 944.3,64.6 945.0,64.0 945.7,63.6 946.4,63.1 947.1,62.6 947.8,62.0 948.5,61.6 949.2,61.6 949.9,61.7 950.6,61.9 951.3,61.8 952.0,61.5 952.7,61.3 953.4,61.3 954.1,61.6 954.8,62.1 955.5,62.8 956.2,63.5 956.9,64.1 957.6,64.0 958.3,63.5 959.0,62.7 959.7,62.1 960.4,62.0 961.1,62.7 961.8,63.9 962.5,65.1 963.2,66.0 963.9,66.5 964.6,66.5 965.3,66.3 966.0,66.0 966.7,65.6 967.4,65.2 968.1,65.0 968.8,65.1 969.5,65.5 970.2,66.1 970.9,66.7 971.6,67.1 972.3,67.6 973.0,68.0 973.7,68.3 974.4,68.4 975.1,68.4 975.8,68.2 976.5,68.2 977.2,68.3 977.9,68.4 978.6,68.5 979.3,68.5 980.0,68.5 980.7,68.5 981.4,68.6 982.1,68.8 982.8,69.0 983.5,69.2 984.2,69.2 984.9,69.3 985.6,69.3 986.3,69.3 987.0,69.3 987.7,69.3 988.4,69.4 989.1,69.4 989.8,69.4 990.5,69.4 991.2,69.5 991.9,69.5 992.6,69.5 993.3,69.5 994.0,69.6 994.7,69.6 995.4,69.6 996.1,69.6 996.8,69.6 997.5,69.6 998.2,69.6 998.9,69.6 999.6,69.6 1000.3,69.6 1001.0,69.6 1001.7,69.7 1002.4,69.7 1003.1,69.7 1003.8,69.7 1004.5,69.7 1005.2,69.7 1005.9,69.7 1006.6,69.7 1007.3,69.7 1008.0,69.7 1008.7,69.7 1009.4,69.7 1010.1,69.7 1010.8,69.7 1011.5,69.7 1012.2,69.7 1012.9,69.7 1013.6,69.7 1014.3,69.7 1015.0,69.7 1015.7,69.7 1016.4,69.8 1017.1,69.8 1017.8,69.8 1018.5,69.8 1019.2,69.8 1019.9,69.8 1020.6,69.8 1021.3,69.8 1022.0,69.8 1022.7,69.8 1023.4,69.8 1024.1,69.8 1024.8,69.8 1025.5,69.8 1026.2,69.8 1026.9,69.8 1027.6,69.8 1028.3,69.8 1029.0,69.8 1029.7,69.8 1030.4,69.8 1031.1,69.8 1031.8,69.8 1032.5,69.8 1033.2,69.8 1033.9,69.8 1034.6,69.8 1035.3,69.8 1036.0,69.8 1036.7,69.8 1037.4,69.8 1038.1,69.8 1038.8,69.8 1039.5,69.8 1040.2,69.8 1040.9,69.8 1041.6,69.8 1042.3,69.8 1043.0,69.8 1043.7,69.8 1044.4,69.8 1045.1,69.8 1045.8,69.8 1046.5,69.8 1047.2,69.8 1047.9,69.8 1048.6,69.8 1049.3,69.8 1050.0,69.8 1050.7,69.8 1051.4,69.8 1052.1,69.8 1052.8,69.8 1053.5,69.8 1054.2,69.8 1054.9,69.8 1055.6,69.8 1056.3,69.8 1057.0,69.8 1057.7,69.8 1058.4,69.8 1059.1,69.8 1059.8,69.8 1060.5,69.8 1061.2,69.8 1061.9,69.8 1062.6,69.8 1063.3,69.8 1064.0,69.8 1064.7,69.8 1065.4,69.8 1066.1,69.8 1066.8,69.8 1067.5,69.8 1068.2,69.8 1068.9,69.8 1069.6,69.8 1070.3,69.8 1071.0,69.8 1071.7,69.8 1072.4,69.8 1073.1,69.8 1073.8,69.8 1074.5,69.8 1075.2,69.8 1075.9,69.8 1076.6,69.8 1077.3,69.8 1078.0,69.8 1078.7,69.8 1079.4,69.8 1080.1,69.8 1080.8,69.8 1081.5,69.8 1082.2,69.8 1082.9,69.8 1083.6,69.8 1084.3,69.8 1085.0,69.8 1085.7,69.8 1086.4,69.8 1087.1,69.8 1087.8,69.7 1088.5,69.7 1089.2,69.7 1089.9,69.7 1090.6,69.7 1091.3,69.7 1092.0,69.7 1092.7,69.7 1093.4,69.7 1094.1,69.7 1094.8,69.7 1095.5,69.7 1096.2,69.7 1096.9,69.7 1097.6,69.7 1098.3,69.7 1099.0,69.7 1099.7,69.7 1100.4,69.7 1101.1,69.7 1101.8,69.7 1102.5,69.7 1103.2,69.7 1103.9,69.7 1104.6,69.7 1105.3,69.7 1106.0,69.7 1106.7,69.7 1107.4,69.7 1108.1,69.7 1108.8,69.7 1109.5,69.6 1110.2,69.6 1110.9,69.6 1111.6,69.6 1112.3,69.6 1113.0,69.6 1113.7,69.6 1114.4,69.6 1115.1,69.6 1115.8,69.6 1116.5,69.6 1117.2,69.5 1117.9,69.5 1118.6,69.5 1119.3,69.5 1120.0,69.5 1120.7,69.5 1121.4,69.5 1122.1,69.5 1122.8,69.5 1123.5,69.4 1124.2,69.4 1124.9,69.4 1125.6,69.4 1126.3,69.4 1127.0,69.4 1127.7,69.4 1128.4,69.4 1129.1,69.4 1129.8,69.3 1130.5,69.3 1131.2,69.3 1131.9,69.3 1132.6,69.3 1133.3,69.3 1134.0,69.3 1134.7,69.3 1135.4,69.2 1136.1,69.2 1136.8,69.1 1137.5,69.1 1138.2,69.1 1138.9,69.1 1139.6,69.1 1140.3,69.1 1141.0,69.1 1141.7,69.1 1142.4,69.1 1143.1,69.0 1143.8,69.0 1144.5,68.9 1145.2,68.8 1145.9,68.8 1146.6,68.7 1147.3,68.7 1148.0,68.7 1148.7,68.8 1149.4,68.8 1150.1,69.0 1150.8,69.1 1151.5,69.2 1152.2,69.1 1152.9,68.9 1153.6,68.8 1154.3,68.7 1155.0,68.6 1155.7,68.5 1156.4,68.4 1157.1,68.4 1157.8,68.5 1158.5,68.5 1159.2,68.6 1159.9,68.6 1160.6,68.6 1161.3,68.7 1162.0,68.7 1162.7,68.8 1163.4,69.0 1164.1,69.1 1164.8,69.1 1165.5,69.0 1166.2,68.7 1166.9,68.4 1167.6,68.2 1168.3,68.0 1169.0,68.0 1169.7,68.1 1170.4,68.0 1171.1,67.8 1171.8,67.6 1172.5,67.5 1173.2,67.5 1173.9,67.6 1174.6,67.7 1175.3,67.8 1176.0,68.0 1176.7,68.1 1177.4,68.2 1178.1,68.2 1178.8,68.3 1179.5,68.5 1180.2,68.5 1180.9,68.3 1181.6,68.1 1182.3,67.8 1183.0,67.6 1183.7,67.6 1184.4,67.5 1185.1,67.5 1185.8,67.5 1186.5,67.5 1187.2,67.7 1187.9,67.9 1188.6,68.3 1189.3,68.6 1190.0,68.7 1190.7,68.8 1191.4,68.9 1192.1,69.0 1192.8,69.0 1193.5,69.1 1194.2,69.1 1194.9,69.1 1195.6,69.1 1196.3,69.2 1197.0,69.3 1197.7,69.4 1198.4,69.4 1199.1,69.5 1199.8,69.5 1200.5,69.6 1201.2,69.6 1201.9,69.7 1202.6,69.7 1203.3,69.8 1204.0,69.8 1204.7,69.9 1205.4,69.9 1206.1,70.0 1206.8,70.0 1207.5,70.0 1208.2,70.1 1208.9,70.1 1208.9,70.1 1209.9,70.3 1210.7,70.9 1211.3,71.8 1211.5,72.9 1211.3,74.0 1210.7,74.9 1209.9,75.5 1208.9,75.7 1208.9,75.7 1208.2,75.7 1207.5,75.8 1206.8,75.8 1206.1,75.8 1205.4,75.9 1204.7,75.9 1204.0,76.0 1203.3,76.0 1202.6,76.1 1201.9,76.1 1201.2,76.2 1200.5,76.2 1199.8,76.3 1199.1,76.3 1198.4,76.4 1197.7,76.4 1197.0,76.5 1196.3,76.5 1195.6,76.5 1194.9,76.6 1194.2,76.7 1193.5,76.7 1192.8,76.9 1192.1,77.0 1191.4,77.3 1190.7,77.5 1190.0,77.7 1189.3,77.8 1188.6,77.8 1187.9,77.8 1187.2,77.9 1186.5,78.1 1185.8,78.3 1185.1,78.3 1184.4,78.2 1183.7,78.2 1183.0,78.4 1182.3,78.7 1181.6,79.0 1180.9,79.2 1180.2,79.2 1179.5,79.2 1178.8,79.3 1178.1,79.3 1177.4,79.2 1176.7,79.1 1176.0,79.0 1175.3,78.8 1174.6,78.6 1173.9,78.4 1173.2,78.2 1172.5,78.0 1171.8,77.8 1171.1,77.7 1170.4,77.6 1169.7,77.8 1169.0,78.2 1168.3,78.5 1167.6,78.8 1166.9,78.7 1166.2,78.4 1165.5,78.0 1164.8,77.7 1164.1,77.5 1163.4,77.5 1162.7,77.6 1162.0,77.8 1161.3,78.0 1160.6,78.0 1159.9,77.9 1159.2,77.7 1158.5,77.4 1157.8,77.3 1157.1,77.2 1156.4,77.3 1155.7,77.3 1155.0,77.3 1154.3,77.2 1153.6,77.1 1152.9,77.0 1152.2,76.9 1151.5,76.9 1150.8,76.9 1150.1,76.9 1149.4,77.0 1148.7,77.0 1148.0,77.0 1147.3,77.0 1146.6,76.9 1145.9,76.8 1145.2,76.8 1144.5,76.7 1143.8,76.7 1143.1,76.7 1142.4,76.7 1141.7,76.7 1141.0,76.7 1140.3,76.7 1139.6,76.7 1138.9,76.7 1138.2,76.7 1137.5,76.7 1136.8,76.7 1136.1,76.6 1135.4,76.6 1134.7,76.5 1134.0,76.5 1133.3,76.5 1132.6,76.5 1131.9,76.5 1131.2,76.5 1130.5,76.5 1129.8,76.5 1129.1,76.4 1128.4,76.4 1127.7,76.4 1127.0,76.4 1126.3,76.4 1125.6,76.4 1124.9,76.4 1124.2,76.4 1123.5,76.4 1122.8,76.3 1122.1,76.3 1121.4,76.3 1120.7,76.3 1120.0,76.3 1119.3,76.3 1118.6,76.3 1117.9,76.3 1117.2,76.3 1116.5,76.2 1115.8,76.2 1115.1,76.2 1114.4,76.2 1113.7,76.2 1113.0,76.2 1112.3,76.2 1111.6,76.2 1110.9,76.2 1110.2,76.2 1109.5,76.2 1108.8,76.1 1108.1,76.1 1107.4,76.1 1106.7,76.1 1106.0,76.1 1105.3,76.1 1104.6,76.1 1103.9,76.1 1103.2,76.1 1102.5,76.1 1101.8,76.1 1101.1,76.1 1100.4,76.1 1099.7,76.1 1099.0,76.1 1098.3,76.1 1097.6,76.1 1096.9,76.1 1096.2,76.1 1095.5,76.1 1094.8,76.1 1094.1,76.1 1093.4,76.1 1092.7,76.1 1092.0,76.1 1091.3,76.1 1090.6,76.1 1089.9,76.1 1089.2,76.1 1088.5,76.1 1087.8,76.1 1087.1,76.0 1086.4,76.0 1085.7,76.0 1085.0,76.0 1084.3,76.0 1083.6,76.0 1082.9,76.0 1082.2,76.0 1081.5,76.0 1080.8,76.0 1080.1,76.0 1079.4,76.0 1078.7,76.0 1078.0,76.0 1077.3,76.0 1076.6,76.0 1075.9,76.0 1075.2,76.0 1074.5,76.0 1073.8,76.0 1073.1,76.0 1072.4,76.0 1071.7,76.0 1071.0,76.0 1070.3,76.0 1069.6,76.0 1068.9,76.0 1068.2,76.0 1067.5,76.0 1066.8,76.0 1066.1,76.0 1065.4,76.0 1064.7,76.0 1064.0,76.0 1063.3,76.0 1062.6,76.0 1061.9,76.0 1061.2,76.0 1060.5,76.0 1059.8,76.0 1059.1,76.0 1058.4,76.0 1057.7,76.0 1057.0,76.0 1056.3,76.0 1055.6,76.0 1054.9,76.0 1054.2,76.0 1053.5,76.0 1052.8,76.0 1052.1,76.0 1051.4,76.0 1050.7,76.0 1050.0,76.0 1049.3,76.0 1048.6,76.0 1047.9,76.0 1047.2,76.0 1046.5,76.0 1045.8,76.0 1045.1,76.0 1044.4,76.0 1043.7,76.0 1043.0,76.0 1042.3,76.0 1041.6,76.0 1040.9,76.0 1040.2,76.0 1039.5,76.0 1038.8,76.0 1038.1,76.0 1037.4,76.0 1036.7,76.0 1036.0,76.0 1035.3,76.0 1034.6,76.0 1033.9,76.0 1033.2,76.0 1032.5,76.0 1031.8,76.0 1031.1,76.0 1030.4,76.0 1029.7,76.0 1029.0,76.0 1028.3,76.0 1027.6,76.0 1026.9,76.0 1026.2,76.0 1025.5,76.0 1024.8,76.0 1024.1,76.0 1023.4,76.0 1022.7,76.0 1022.0,76.0 1021.3,76.0 1020.6,76.0 1019.9,76.0 1019.2,76.0 1018.5,76.0 1017.8,76.0 1017.1,76.0 1016.4,76.0 1015.7,76.1 1015.0,76.1 1014.3,76.1 1013.6,76.1 1012.9,76.1 1012.2,76.1 1011.5,76.1 1010.8,76.1 1010.1,76.1 1009.4,76.1 1008.7,76.1 1008.0,76.1 1007.3,76.1 1006.6,76.1 1005.9,76.1 1005.2,76.1 1004.5,76.1 1003.8,76.1 1003.1,76.1 1002.4,76.1 1001.7,76.1 1001.0,76.2 1000.3,76.2 999.6,76.2 998.9,76.2 998.2,76.2 997.5,76.2 996.8,76.2 996.1,76.2 995.4,76.2 994.7,76.2 994.0,76.2 993.3,76.3 992.6,76.3 991.9,76.3 991.2,76.3 990.5,76.4 989.8,76.4 989.1,76.4 988.4,76.5 987.7,76.5 987.0,76.5 986.3,76.6 985.6,76.6 984.9,76.7 984.2,76.8 983.5,76.8 982.8,76.9 982.1,77.0 981.4,77.1 980.7,77.3 980.0,77.5 979.3,77.8 978.6,78.0 977.9,78.2 977.2,78.4 976.5,78.6 975.8,78.7 975.1,78.8 974.4,78.8 973.7,78.7 973.0,78.6 972.3,78.4 971.6,78.4 970.9,78.6 970.2,79.0 969.5,79.7 968.8,80.4 968.1,80.8 967.4,80.7 966.7,80.5 966.0,80.5 965.3,80.7 964.6,81.1 963.9,81.5 963.2,81.7 962.5,81.9 961.8,82.1 961.1,82.4 960.4,82.6 959.7,82.6 959.0,82.6 958.3,83.0 957.6,83.5 956.9,83.9 956.2,84.0 955.5,83.8 954.8,83.4 954.1,83.1 953.4,83.3 952.7,84.0 952.0,84.9 951.3,85.5 950.6,85.6 949.9,85.2 949.2,84.5 948.5,83.8 947.8,83.1 947.1,82.6 946.4,82.3 945.7,82.2 945.0,82.3 944.3,82.7 943.6,83.0 942.9,83.2 942.2,83.2 941.5,82.9 940.8,82.3 940.1,81.6 939.4,81.1 938.7,80.9 938.0,81.1 937.3,81.5 936.6,82.0 935.9,82.1 935.2,81.9 934.5,81.7 933.8,81.6 933.1,81.5 932.4,81.5 931.7,81.4 931.0,81.4 930.3,81.5 929.6,81.8 928.9,82.2 928.2,82.5 927.5,82.7 926.8,82.9 926.1,83.2 925.4,83.6 924.7,84.2 924.0,84.9 923.3,85.6 922.6,86.2 921.9,86.4 921.2,86.0 920.5,85.1 919.8,84.2 919.1,83.7 918.4,83.8 917.7,84.3 917.0,84.7 916.3,84.8 915.6,84.3 914.9,83.6 914.2,82.9 913.5,82.5 912.8,82.5 912.1,82.8 911.4,83.0 910.7,82.9 910.0,82.6 909.3,82.2 908.6,81.9 907.9,81.8 907.2,81.8 906.5,81.8 905.8,81.7 905.1,81.6 904.4,81.1 903.7,80.3 903.0,79.4 902.3,78.6 901.6,78.4 900.9,78.5 900.2,78.8 899.5,78.9 898.8,78.8 898.1,78.4 897.4,77.9 896.7,77.5 896.0,77.2 895.3,77.0 894.6,76.8 893.9,76.6 893.2,76.3 892.5,76.0 891.8,75.7 891.8,75.7 890.8,75.5 890.0,74.9 889.4,74.0 889.2,72.9 889.4,71.8 890.0,70.9 890.8,70.3 891.8,70.1Z" fill="url(#g24)" mask="url(#m24)"/>
<circle cx="905.8" cy="69.2" r="2.4" fill="#0075e1"/><circle cx="907.9" cy="73.4" r="2.4" fill="#0075e1"/><circle cx="913.5" cy="71.6" r="2.4" fill="#0075e1"/><circle cx="918.4" cy="75.2" r="2.4" fill="#025ed4"/><circle cx="919.1" cy="70.0" r="2.4" fill="#0075e1"/><circle cx="920.5" cy="82.1" r="2.4" fill="#0075e1"/><circle cx="922.6" cy="80.4" r="2.4" fill="#0075e1"/><circle cx="924.7" cy="64.3" r="2.4" fill="#0075e1"/><circle cx="926.1" cy="74.3" r="2.4" fill="#0075e1"/><circle cx="928.9" cy="71.5" r="2.4" fill="#0075e1"/><circle cx="929.6" cy="69.1" r="2.4" fill="#0075e1"/><circle cx="930.3" cy="79.1" r="2.4" fill="#0075e1"/><circle cx="932.4" cy="69.2" r="2.4" fill="#0075e1"/><circle cx="933.8" cy="74.7" r="2.4" fill="#0075e1"/><circle cx="934.5" cy="79.0" r="2.4" fill="#0075e1"/><circle cx="938.0" cy="75.7" r="2.4" fill="#0075e1"/><circle cx="941.5" cy="72.5" r="2.4" fill="#6448c1"/><circle cx="942.9" cy="68.7" r="2.4" fill="#006edf"/><circle cx="943.6" cy="69.6" r="2.4" fill="#0075e1"/><circle cx="945.0" cy="75.8" r="2.4" fill="#0075e1"/><circle cx="945.7" cy="66.0" r="2.4" fill="#0075e1"/><circle cx="946.4" cy="80.2" r="2.4" fill="#0075e1"/><circle cx="947.1" cy="77.4" r="2.4" fill="#0075e1"/><circle cx="947.8" cy="66.9" r="2.4" fill="#0069dc"/><circle cx="948.5" cy="72.2" r="2.4" fill="#0075e1"/><circle cx="949.2" cy="72.8" r="2.4" fill="#9f1496"/><circle cx="949.9" cy="67.5" r="2.4" fill="#0068db"/><circle cx="950.6" cy="72.5" r="2.4" fill="#006bdd"/><circle cx="951.3" cy="77.6" r="2.4" fill="#0075e1"/><circle cx="952.0" cy="68.7" r="2.4" fill="#0075e1"/><circle cx="952.7" cy="75.7" r="2.4" fill="#0075e1"/><circle cx="953.4" cy="65.8" r="2.4" fill="#006cdd"/><circle cx="954.1" cy="68.9" r="2.4" fill="#0075e1"/><circle cx="954.8" cy="69.6" r="2.4" fill="#b8008b"/><circle cx="955.5" cy="72.5" r="2.4" fill="#0075e1"/><circle cx="956.2" cy="69.2" r="2.4" fill="#a21195"/><circle cx="956.9" cy="73.2" r="2.4" fill="#0074e1"/><circle cx="957.6" cy="75.4" r="2.4" fill="#0061d7"/><circle cx="958.3" cy="67.6" r="2.4" fill="#0070df"/><circle cx="959.0" cy="75.4" r="2.4" fill="#0074e1"/><circle cx="959.7" cy="79.7" r="2.4" fill="#006bdd"/><circle cx="960.4" cy="78.8" r="2.4" fill="#c00086"/><circle cx="961.8" cy="78.8" r="2.4" fill="#0075e1"/><circle cx="962.5" cy="69.4" r="2.4" fill="#b6008c"/><circle cx="963.2" cy="68.3" r="2.4" fill="#0066da"/><circle cx="963.9" cy="77.3" r="2.4" fill="#0075e1"/><circle cx="965.3" cy="72.4" r="2.4" fill="#0068db"/><circle cx="967.4" cy="74.9" r="2.4" fill="#8331ab"/><circle cx="969.5" cy="77.1" r="2.4" fill="#0064d9"/><circle cx="971.6" cy="76.0" r="2.4" fill="#0060d6"/><circle cx="972.3" cy="73.1" r="2.4" fill="#0061d6"/><circle cx="973.0" cy="73.8" r="2.4" fill="#0070df"/><circle cx="973.7" cy="75.2" r="2.4" fill="#911e9c"/><circle cx="974.4" cy="73.2" r="2.4" fill="#1b5cd3"/><circle cx="975.8" cy="70.3" r="2.4" fill="#0075e1"/><circle cx="976.5" cy="73.7" r="2.4" fill="#0068db"/><circle cx="980.7" cy="74.1" r="2.4" fill="#d60074"/><circle cx="985.6" cy="73.0" r="2.4" fill="#0069dc"/><circle cx="999.6" cy="72.7" r="2.4" fill="#534fc8"/><circle cx="1002.4" cy="72.5" r="2.4" fill="#c9007f"/><circle cx="1008.7" cy="73.1" r="2.4" fill="#0069dc"/><circle cx="1012.9" cy="73.4" r="2.4" fill="#215bd3"/><circle cx="1017.1" cy="72.6" r="2.4" fill="#4c52ca"/><circle cx="1026.2" cy="72.2" r="2.4" fill="#bf0087"/><circle cx="1038.8" cy="73.1" r="2.4" fill="#de006c"/><circle cx="1040.9" cy="73.2" r="2.4" fill="#3159d0"/><circle cx="1059.1" cy="72.9" r="2.4" fill="#bf0086"/><circle cx="1061.9" cy="72.7" r="2.4" fill="#5050c9"/><circle cx="1080.1" cy="73.0" r="2.4" fill="#961b9a"/><circle cx="1105.3" cy="73.5" r="2.4" fill="#ef0048"/><circle cx="1115.1" cy="73.8" r="2.4" fill="#8e24a0"/><circle cx="1124.9" cy="72.6" r="2.4" fill="#ed0056"/><circle cx="1131.2" cy="73.7" r="2.4" fill="#ef0048"/><circle cx="1134.0" cy="74.1" r="2.4" fill="#ef0048"/><circle cx="1136.8" cy="73.2" r="2.4" fill="#ef0048"/><circle cx="1141.0" cy="71.8" r="2.4" fill="#ef0048"/><circle cx="1147.3" cy="73.2" r="2.4" fill="#ef004a"/><circle cx="1148.0" cy="73.4" r="2.4" fill="#ef0048"/><circle cx="1150.8" cy="71.5" r="2.4" fill="#ef0048"/><circle cx="1180.2" cy="72.2" r="2.4" fill="#ef0048"/><circle cx="1182.3" cy="74.1" r="2.4" fill="#ef0048"/><circle cx="1186.5" cy="75.2" r="2.4" fill="#ef0048"/>
<circle cx="1219.1" cy="72.9" r="2.8" fill="#ef0048"/>
<text x="799.0 808.1 815.7 825.0 829.5 840.6" y="78.2" font-size="14.00" fill="#3a3a3a" font-family="Liberation Sans" stroke="#3a3a3a" stroke-width="0.30">SLE.D1</text>
<linearGradient id="g25" gradientUnits="userSpaceOnUse" x1="923.6" y1="0" x2="1059.0" y2="0"><stop offset="0.0000" stop-color="#0075e1"/><stop offset="0.0473" stop-color="#0075e1"/><stop offset="0.1211" stop-color="#0073e1"/><stop offset="0.1802" stop-color="#006fdf"/><stop offset="0.2710" stop-color="#006fdf"/><stop offset="0.3575" stop-color="#0069dc"/><stop offset="0.4165" stop-color="#0063d8"/><stop offset="0.4793" stop-color="#5c4cc4"/><stop offset="0.5643" stop-color="#7c38b2"/><stop offset="0.6233" stop-color="#8332ab"/><stop offset="0.6529" stop-color="#af008f"/><stop offset="0.7120" stop-color="#e30066"/><stop offset="0.7925" stop-color="#e9005c"/><stop offset="0.8966" stop-color="#db006f"/><stop offset="1.0000" stop-color="#911e9b"/></linearGradient>
<path d="M926.2,102.2 926.9,101.6 927.6,101.1 928.3,100.4 929.0,99.6 929.7,99.2 930.4,99.1 931.1,99.2 931.8,99.4 932.5,99.6 933.2,99.8 933.9,99.9 934.6,99.9 935.3,99.9 936.0,99.7 936.7,99.5 937.4,99.2 938.1,98.9 938.8,98.6 939.5,98.3 940.2,98.0 940.9,97.6 941.6,97.2 942.3,96.8 943.0,96.2 943.7,95.5 944.4,94.7 945.1,94.3 945.8,94.4 946.5,94.9 947.2,95.5 947.9,96.1 948.6,96.5 949.3,96.6 950.0,96.6 950.7,96.4 951.4,96.0 952.1,95.5 952.8,95.0 953.5,94.4 954.2,93.9 954.9,93.4 955.6,93.0 956.3,92.5 957.0,92.1 957.7,91.9 958.4,92.0 959.1,92.1 959.8,92.2 960.5,92.1 961.2,92.1 961.9,92.1 962.6,92.1 963.3,92.1 964.0,92.3 964.7,92.6 965.4,93.0 966.1,93.3 966.8,93.6 967.5,94.0 968.2,94.5 968.9,95.1 969.6,95.7 970.3,96.2 971.0,96.5 971.7,96.9 972.4,97.3 973.1,97.7 973.8,98.0 974.5,98.0 975.2,98.0 975.9,98.1 976.6,98.3 977.3,98.5 978.0,98.6 978.7,98.6 979.4,98.4 980.1,97.9 980.8,97.0 981.5,96.0 982.2,95.1 982.9,94.7 983.6,94.8 984.3,95.3 985.0,95.9 985.7,96.2 986.4,96.3 987.1,96.3 987.8,96.4 988.5,96.6 989.2,96.8 989.9,96.8 990.6,96.4 991.3,96.0 992.0,95.8 992.7,96.2 993.4,96.8 994.1,97.6 994.8,98.1 995.5,98.3 996.2,97.8 996.9,96.9 997.6,95.9 998.3,95.2 999.0,95.0 999.7,95.0 1000.4,95.0 1001.1,94.9 1001.8,94.9 1002.5,95.1 1003.2,95.7 1003.9,96.5 1004.6,97.1 1005.3,97.2 1006.0,96.9 1006.7,96.5 1007.4,96.4 1008.1,96.5 1008.8,97.1 1009.5,98.1 1010.2,99.1 1010.9,99.8 1011.6,100.3 1012.3,100.4 1013.0,100.4 1013.7,100.3 1014.4,100.2 1015.1,99.9 1015.8,99.3 1016.5,98.7 1017.2,98.1 1017.9,97.5 1018.6,96.7 1019.3,95.8 1020.0,95.1 1020.7,94.8 1021.4,94.7 1022.1,94.5 1022.8,93.9 1023.5,93.1 1024.2,92.2 1024.9,91.4 1025.6,91.0 1026.3,90.9 1027.0,91.2 1027.7,91.6 1028.4,92.5 1029.1,93.5 1029.8,94.4 1030.5,94.6 1031.2,94.4 1031.9,94.1 1032.6,93.9 1033.3,93.9 1034.0,94.0 1034.7,93.9 1035.4,93.7 1036.1,93.6 1036.8,93.7 1037.5,94.0 1038.2,94.5 1038.9,95.0 1039.6,95.5 1040.3,96.0 1041.0,96.4 1041.7,96.9 1042.4,97.4 1043.1,97.9 1043.8,98.3 1044.5,98.4 1045.2,98.4 1045.9,98.4 1046.6,98.5 1047.3,98.6 1048.0,98.7 1048.7,98.9 1049.4,99.3 1050.1,99.6 1050.8,100.0 1051.5,100.3 1052.2,100.6 1052.9,100.9 1053.6,101.2 1054.3,101.4 1055.0,101.7 1055.7,101.9 1056.4,102.2 1056.4,102.2 1057.4,102.4 1058.2,103.0 1058.8,103.9 1059.0,105.0 1058.8,106.0 1058.2,106.9 1057.4,107.6 1056.4,107.8 1056.4,107.8 1055.7,108.0 1055.0,108.3 1054.3,108.6 1053.6,108.9 1052.9,109.3 1052.2,109.6 1051.5,109.7 1050.8,109.6 1050.1,109.3 1049.4,109.2 1048.7,109.4 1048.0,109.9 1047.3,110.2 1046.6,110.3 1045.9,110.4 1045.2,110.6 1044.5,110.9 1043.8,111.3 1043.1,112.0 1042.4,113.0 1041.7,113.9 1041.0,114.7 1040.3,115.3 1039.6,115.5 1038.9,115.5 1038.2,115.3 1037.5,115.0 1036.8,114.9 1036.1,115.2 1035.4,115.9 1034.7,116.7 1034.0,117.5 1033.3,118.0 1032.6,118.2 1031.9,118.1 1031.2,117.8 1030.5,117.4 1029.8,117.2 1029.1,117.3 1028.4,117.4 1027.7,117.4 1027.0,117.5 1026.3,117.5 1025.6,117.4 1024.9,117.1 1024.2,116.4 1023.5,115.5 1022.8,114.7 1022.1,114.1 1021.4,113.8 1020.7,113.7 1020.0,113.8 1019.3,114.0 1018.6,114.0 1017.9,113.6 1017.2,112.9 1016.5,112.0 1015.8,111.1 1015.1,110.5 1014.4,110.1 1013.7,109.8 1013.0,109.6 1012.3,109.6 1011.6,109.8 1010.9,110.2 1010.2,110.6 1009.5,110.7 1008.8,110.6 1008.1,110.7 1007.4,111.0 1006.7,111.5 1006.0,111.8 1005.3,111.8 1004.6,111.8 1003.9,111.9 1003.2,112.5 1002.5,113.1 1001.8,113.7 1001.1,113.9 1000.4,113.9 999.7,113.6 999.0,113.4 998.3,113.3 997.6,113.3 996.9,113.5 996.2,113.9 995.5,114.5 994.8,115.1 994.1,115.4 993.4,115.6 992.7,116.0 992.0,116.4 991.3,116.9 990.6,117.0 989.9,116.5 989.2,115.5 988.5,114.5 987.8,113.5 987.1,112.9 986.4,112.5 985.7,112.5 985.0,112.8 984.3,113.4 983.6,114.1 982.9,114.6 982.2,114.6 981.5,114.1 980.8,113.4 980.1,112.9 979.4,112.6 978.7,112.5 978.0,112.4 977.3,112.3 976.6,112.2 975.9,112.2 975.2,112.5 974.5,113.3 973.8,114.4 973.1,115.2 972.4,115.6 971.7,115.6 971.0,115.4 970.3,115.3 969.6,115.4 968.9,115.4 968.2,115.2 967.5,114.6 966.8,114.1 966.1,114.2 965.4,115.0 964.7,116.1 964.0,117.2 963.3,117.9 962.6,118.2 961.9,118.4 961.2,118.6 960.5,118.7 959.8,118.4 959.1,117.6 958.4,116.5 957.7,115.5 957.0,115.2 956.3,115.5 955.6,116.1 954.9,116.6 954.2,116.7 953.5,116.6 952.8,116.5 952.1,116.3 951.4,116.0 950.7,115.6 950.0,115.1 949.3,114.7 948.6,114.5 947.9,114.3 947.2,113.9 946.5,113.3 945.8,112.7 945.1,112.4 944.4,112.4 943.7,112.8 943.0,113.1 942.3,113.2 941.6,113.2 940.9,112.9 940.2,112.4 939.5,111.6 938.8,110.8 938.1,110.2 937.4,109.9 936.7,110.0 936.0,110.2 935.3,110.4 934.6,110.5 933.9,110.5 933.2,110.4 932.5,110.4 931.8,110.5 931.1,110.7 930.4,110.9 929.7,110.8 929.0,110.4 928.3,109.7 927.6,109.0 926.9,108.3 926.2,107.8 926.2,107.8 925.2,107.6 924.4,106.9 923.8,106.0 923.6,105.0 923.8,103.9 924.4,103.0 925.2,102.4 926.2,102.2Z" fill="url(#g25)"/>
<circle cx="928.3" cy="106.2" r="2.4" fill="#0075e1"/><circle cx="930.4" cy="103.4" r="2.4" fill="#0075e1"/><circle cx="933.9" cy="104.4" r="2.4" fill="#0075e1"/><circle cx="941.6" cy="108.4" r="2.4" fill="#0075e1"/><circle cx="945.1" cy="105.8" r="2.4" fill="#0075e1"/><circle cx="949.3" cy="102.9" r="2.4" fill="#0075e1"/><circle cx="950.0" cy="107.0" r="2.4" fill="#6c44bd"/><circle cx="951.4" cy="103.7" r="2.4" fill="#0075e1"/><circle cx="952.1" cy="102.4" r="2.4" fill="#0075e1"/><circle cx="952.8" cy="112.2" r="2.4" fill="#0075e1"/><circle cx="953.5" cy="104.4" r="2.4" fill="#0075e1"/><circle cx="954.2" cy="108.2" r="2.4" fill="#0075e1"/><circle cx="954.9" cy="112.6" r="2.4" fill="#0075e1"/><circle cx="955.6" cy="102.0" r="2.4" fill="#0075e1"/><circle cx="956.3" cy="111.3" r="2.4" fill="#0075e1"/><circle cx="957.0" cy="111.5" r="2.4" fill="#0075e1"/><circle cx="957.7" cy="110.2" r="2.4" fill="#0075e1"/><circle cx="959.1" cy="108.6" r="2.4" fill="#0075e1"/><circle cx="959.8" cy="114.3" r="2.4" fill="#0075e1"/><circle cx="960.5" cy="105.0" r="2.4" fill="#8035ae"/><circle cx="961.2" cy="106.9" r="2.4" fill="#0075e1"/><circle cx="961.9" cy="102.9" r="2.4" fill="#0075e1"/><circle cx="962.6" cy="107.1" r="2.4" fill="#0075e1"/><circle cx="963.3" cy="95.4" r="2.4" fill="#0075e1"/><circle cx="964.0" cy="96.0" r="2.4" fill="#0075e1"/><circle cx="965.4" cy="101.7" r="2.4" fill="#0075e1"/><circle cx="966.1" cy="107.5" r="2.4" fill="#0075e1"/><circle cx="966.8" cy="101.5" r="2.4" fill="#0075e1"/><circle cx="967.5" cy="97.3" r="2.4" fill="#0075e1"/><circle cx="970.3" cy="106.2" r="2.4" fill="#0075e1"/><circle cx="971.0" cy="103.9" r="2.4" fill="#0075e1"/><circle cx="971.7" cy="104.9" r="2.4" fill="#0075e1"/><circle cx="974.5" cy="103.8" r="2.4" fill="#0075e1"/><circle cx="975.2" cy="107.2" r="2.4" fill="#0075e1"/><circle cx="975.9" cy="107.4" r="2.4" fill="#0075e1"/><circle cx="976.6" cy="107.6" r="2.4" fill="#981999"/><circle cx="978.7" cy="107.5" r="2.4" fill="#0075e1"/><circle cx="980.1" cy="110.1" r="2.4" fill="#0075e1"/><circle cx="981.5" cy="109.5" r="2.4" fill="#0075e1"/><circle cx="982.2" cy="100.6" r="2.4" fill="#0073e1"/><circle cx="982.9" cy="101.4" r="2.4" fill="#0075e1"/><circle cx="984.3" cy="99.4" r="2.4" fill="#0069dc"/><circle cx="985.7" cy="110.5" r="2.4" fill="#0075e1"/><circle cx="987.1" cy="102.2" r="2.4" fill="#ab0491"/><circle cx="987.8" cy="106.7" r="2.4" fill="#006fdf"/><circle cx="989.2" cy="100.2" r="2.4" fill="#0075e1"/><circle cx="991.3" cy="100.4" r="2.4" fill="#006cde"/><circle cx="992.0" cy="108.7" r="2.4" fill="#cc007d"/><circle cx="992.7" cy="102.1" r="2.4" fill="#0060d6"/><circle cx="994.1" cy="103.8" r="2.4" fill="#005fd5"/><circle cx="996.9" cy="99.0" r="2.4" fill="#006fdf"/><circle cx="1000.4" cy="103.8" r="2.4" fill="#b4008d"/><circle cx="1001.8" cy="101.1" r="2.4" fill="#0071e0"/><circle cx="1003.2" cy="104.1" r="2.4" fill="#d30077"/><circle cx="1006.0" cy="104.4" r="2.4" fill="#3b57cf"/><circle cx="1008.1" cy="106.4" r="2.4" fill="#d80072"/><circle cx="1014.4" cy="106.6" r="2.4" fill="#eb0059"/><circle cx="1015.8" cy="102.0" r="2.4" fill="#e00069"/><circle cx="1019.3" cy="103.0" r="2.4" fill="#ef0048"/><circle cx="1020.0" cy="107.9" r="2.4" fill="#9a1899"/><circle cx="1020.7" cy="108.3" r="2.4" fill="#ef0048"/><circle cx="1021.4" cy="111.3" r="2.4" fill="#ab0491"/><circle cx="1022.1" cy="98.9" r="2.4" fill="#ef0048"/><circle cx="1022.8" cy="109.4" r="2.4" fill="#ef0048"/><circle cx="1023.5" cy="106.6" r="2.4" fill="#ef004d"/><circle cx="1024.9" cy="100.3" r="2.4" fill="#ef0048"/><circle cx="1025.6" cy="98.9" r="2.4" fill="#ef0048"/><circle cx="1026.3" cy="103.1" r="2.4" fill="#ef0048"/><circle cx="1027.0" cy="106.7" r="2.4" fill="#ef0048"/><circle cx="1027.7" cy="99.6" r="2.4" fill="#ef0048"/><circle cx="1029.1" cy="113.8" r="2.4" fill="#ef0048"/><circle cx="1029.8" cy="107.4" r="2.4" fill="#ef0048"/><circle cx="1030.5" cy="108.8" r="2.4" fill="#ef0048"/><circle cx="1031.9" cy="114.1" r="2.4" fill="#c50082"/><circle cx="1032.6" cy="99.6" r="2.4" fill="#ef0048"/><circle cx="1033.3" cy="109.8" r="2.4" fill="#ef0048"/><circle cx="1034.0" cy="109.2" r="2.4" fill="#ef0048"/><circle cx="1034.7" cy="95.4" r="2.4" fill="#ef0048"/><circle cx="1035.4" cy="113.4" r="2.4" fill="#ef0048"/><circle cx="1036.1" cy="103.3" r="2.4" fill="#971b9a"/><circle cx="1038.2" cy="97.6" r="2.4" fill="#ef0048"/><circle cx="1038.9" cy="102.9" r="2.4" fill="#ef0048"/><circle cx="1040.3" cy="99.8" r="2.4" fill="#ef004b"/><circle cx="1043.8" cy="101.2" r="2.4" fill="#ef0048"/><circle cx="1045.9" cy="102.0" r="2.4" fill="#ef0048"/><circle cx="1046.6" cy="108.0" r="2.4" fill="#ed0056"/><circle cx="1047.3" cy="105.4" r="2.4" fill="#ba008a"/><circle cx="1051.5" cy="103.9" r="2.4" fill="#8d26a1"/>
<circle cx="1063.3" cy="105.0" r="2.8" fill="#ef0048"/>
<circle cx="1070.4" cy="105.0" r="2.8" fill="#ef0048"/>
<text x="799.0 808.1 815.7 825.0 829.5 840.6" y="110.3" font-size="14.00" fill="#3a3a3a" font-family="Liberation Sans" stroke="#3a3a3a" stroke-width="0.30">SLE.D5</text>
<linearGradient id="g26" gradientUnits="userSpaceOnUse" x1="955.2" y1="0" x2="991.9" y2="0"><stop offset="0.0000" stop-color="#0075e1"/><stop offset="0.1308" stop-color="#0075e1"/><stop offset="0.3542" stop-color="#0075e1"/><stop offset="0.5395" stop-color="#0075e1"/><stop offset="0.6757" stop-color="#0075e1"/><stop offset="0.8120" stop-color="#0075e1"/><stop offset="1.0000" stop-color="#0075e1"/></linearGradient>
<path d="M957.6,134.2 958.3,131.6 959.0,129.1 959.7,127.7 960.4,127.1 961.1,126.4 961.8,125.4 962.5,124.3 963.2,123.5 963.9,123.1 964.6,123.0 965.3,123.0 966.1,123.1 966.8,123.2 967.5,123.5 968.2,124.0 968.9,124.5 969.6,124.9 970.3,125.3 971.0,125.8 971.7,126.3 972.4,126.7 973.1,126.7 973.8,126.6 974.5,126.6 975.2,127.1 975.9,128.1 976.6,129.2 977.3,130.1 978.0,130.7 978.7,131.0 979.4,131.2 980.1,131.4 980.8,131.7 981.6,132.0 982.3,132.4 983.0,132.6 983.7,132.4 984.4,131.9 985.1,131.0 985.8,130.2 986.5,130.3 987.2,131.1 987.9,132.2 988.6,133.3 989.3,134.2 989.3,134.2 990.3,134.5 991.1,135.1 991.7,136.0 991.9,137.0 991.7,138.1 991.1,139.0 990.3,139.6 989.3,139.8 989.3,139.8 988.6,140.9 987.9,142.2 987.2,143.2 986.5,143.6 985.8,143.7 985.1,143.4 984.4,143.2 983.7,143.2 983.0,143.3 982.3,143.2 981.6,143.0 980.8,142.8 980.1,142.6 979.4,142.5 978.7,142.5 978.0,142.4 977.3,142.8 976.6,143.8 975.9,145.3 975.2,146.8 974.5,148.1 973.8,148.8 973.1,148.9 972.4,148.7 971.7,148.7 971.0,149.1 970.3,150.0 969.6,150.8 968.9,151.3 968.2,151.4 967.5,151.1 966.8,150.6 966.1,150.0 965.3,149.4 964.6,148.8 963.9,148.0 963.2,147.2 962.5,146.2 961.8,145.4 961.1,144.9 960.4,144.7 959.7,144.3 959.0,143.1 958.3,141.7 957.6,139.8 957.6,139.8 956.7,139.6 955.9,139.0 955.4,138.1 955.2,137.0 955.4,136.0 955.9,135.1 956.7,134.5 957.6,134.2Z" fill="url(#g26)"/>

<linearGradient id="g27" gradientUnits="userSpaceOnUse" x1="1004.0" y1="0" x2="1050.0" y2="0"><stop offset="0.0000" stop-color="#ef0048"/><stop offset="0.1739" stop-color="#ef0048"/><stop offset="0.4500" stop-color="#ef0048"/><stop offset="0.7826" stop-color="#ef0048"/><stop offset="1.0000" stop-color="#ef0048"/></linearGradient>
<path d="M1006.6,134.2 1007.3,134.0 1008.0,133.8 1008.7,133.6 1009.4,133.4 1010.1,133.3 1010.8,133.1 1011.5,132.9 1012.2,132.7 1012.9,132.5 1013.6,132.4 1014.3,132.2 1015.0,131.9 1015.7,131.5 1016.4,131.0 1017.2,130.5 1017.9,130.1 1018.6,129.9 1019.3,129.8 1020.0,129.9 1020.7,130.1 1021.4,130.4 1022.1,130.6 1022.8,130.7 1023.5,130.9 1024.2,131.1 1024.9,131.3 1025.6,131.6 1026.3,131.7 1027.0,131.6 1027.7,131.4 1028.4,131.4 1029.1,131.5 1029.8,131.8 1030.5,132.1 1031.2,132.1 1031.9,132.1 1032.6,132.1 1033.3,132.2 1034.0,132.2 1034.7,132.2 1035.4,132.3 1036.1,132.6 1036.8,132.9 1037.6,133.1 1038.3,133.2 1039.0,133.1 1039.7,133.0 1040.4,132.9 1041.1,132.9 1041.8,133.1 1042.5,133.3 1043.2,133.4 1043.9,133.5 1044.6,133.7 1045.3,133.8 1046.0,134.0 1046.7,134.1 1047.4,134.2 1047.4,134.2 1048.4,134.5 1049.2,135.1 1049.8,136.0 1050.0,137.0 1049.8,138.1 1049.2,139.0 1048.4,139.6 1047.4,139.8 1047.4,139.8 1046.7,140.0 1046.0,140.1 1045.3,140.3 1044.6,140.4 1043.9,140.6 1043.2,140.7 1042.5,140.8 1041.8,141.0 1041.1,141.2 1040.4,141.4 1039.7,141.7 1039.0,142.0 1038.3,142.3 1037.6,142.5 1036.8,142.6 1036.1,142.7 1035.4,142.7 1034.7,142.8 1034.0,142.7 1033.3,142.5 1032.6,142.3 1031.9,142.2 1031.2,142.2 1030.5,142.3 1029.8,142.6 1029.1,143.0 1028.4,143.5 1027.7,143.9 1027.0,144.4 1026.3,144.6 1025.6,144.6 1024.9,144.4 1024.2,144.0 1023.5,143.5 1022.8,143.1 1022.1,143.0 1021.4,143.0 1020.7,142.9 1020.0,142.7 1019.3,142.5 1018.6,142.3 1017.9,142.3 1017.2,142.3 1016.4,142.3 1015.7,142.4 1015.0,142.3 1014.3,142.3 1013.6,142.1 1012.9,141.8 1012.2,141.5 1011.5,141.2 1010.8,141.0 1010.1,140.7 1009.4,140.6 1008.7,140.4 1008.0,140.2 1007.3,140.0 1006.6,139.8 1006.6,139.8 1005.6,139.6 1004.8,139.0 1004.2,138.1 1004.0,137.0 1004.2,136.0 1004.8,135.1 1005.6,134.5 1006.6,134.2Z" fill="url(#g27)"/>

<text x="722.7 735.0 743.8 752.9 758.0 766.5 770.3 774.3 784.7 793.4 801.9 809.5 818.3 822.6 827.6 831.7 840.6" y="142.3" font-size="14.00" fill="#3a3a3a" font-family="Liberation Sans" stroke="#3a3a3a" stroke-width="0.30">Mental Consulting</text>
<linearGradient id="g28" gradientUnits="userSpaceOnUse" x1="945.6" y1="0" x2="1050.6" y2="0"><stop offset="0.0000" stop-color="#e9005c"/><stop offset="0.0895" stop-color="#e9005c"/><stop offset="0.1848" stop-color="#e30066"/><stop offset="0.2962" stop-color="#e30066"/><stop offset="0.4038" stop-color="#db006f"/><stop offset="0.4629" stop-color="#c80080"/><stop offset="0.5657" stop-color="#7c38b2"/><stop offset="0.7181" stop-color="#225bd3"/><stop offset="0.8514" stop-color="#0069dc"/><stop offset="1.0000" stop-color="#0075e1"/></linearGradient>
<path d="M948.2,166.3 948.9,165.9 949.6,165.5 950.3,165.1 951.0,164.6 951.7,164.3 952.4,163.9 953.1,163.4 953.8,162.9 954.5,162.5 955.2,162.3 955.9,162.3 956.6,162.4 957.3,162.7 958.0,163.0 958.7,163.0 959.4,162.5 960.1,161.5 960.9,160.2 961.6,159.2 962.3,158.4 963.0,158.2 963.7,158.2 964.4,158.4 965.1,158.4 965.8,158.2 966.5,158.0 967.2,157.8 967.9,157.8 968.6,158.1 969.3,158.6 970.0,159.2 970.7,159.7 971.4,159.8 972.1,159.4 972.8,158.7 973.5,157.8 974.2,157.1 974.9,156.7 975.6,156.6 976.3,156.6 977.0,156.5 977.7,156.3 978.4,156.2 979.1,156.4 979.8,156.6 980.5,156.9 981.2,157.2 981.9,157.7 982.6,158.2 983.3,158.7 984.0,159.1 984.7,159.4 985.4,159.8 986.2,160.4 986.9,161.0 987.6,161.3 988.3,161.0 989.0,160.3 989.7,159.6 990.4,159.6 991.1,160.5 991.8,161.9 992.5,163.3 993.2,164.4 993.9,164.8 994.6,164.7 995.3,164.4 996.0,164.0 996.7,163.9 997.4,163.7 998.1,163.6 998.8,163.6 999.5,163.6 1000.2,163.7 1000.9,164.0 1001.6,164.2 1002.3,164.6 1003.0,164.9 1003.7,165.1 1004.4,165.2 1005.1,165.2 1005.8,165.1 1006.5,164.9 1007.2,164.8 1007.9,164.6 1008.6,164.5 1009.3,164.4 1010.0,164.3 1010.8,164.2 1011.5,164.0 1012.2,163.9 1012.9,164.0 1013.6,164.3 1014.3,164.6 1015.0,164.7 1015.7,164.6 1016.4,164.4 1017.1,164.2 1017.8,164.0 1018.5,163.7 1019.2,163.5 1019.9,163.3 1020.6,163.4 1021.3,163.8 1022.0,164.1 1022.7,164.1 1023.4,163.9 1024.1,163.5 1024.8,163.1 1025.5,162.9 1026.2,163.0 1026.9,163.5 1027.6,164.1 1028.3,164.6 1029.0,164.9 1029.7,165.0 1030.4,164.9 1031.1,164.7 1031.8,164.5 1032.5,164.5 1033.2,164.6 1033.9,164.7 1034.6,164.7 1035.3,164.7 1036.1,164.7 1036.8,164.8 1037.5,164.9 1038.2,165.1 1038.9,165.2 1039.6,165.4 1040.3,165.5 1041.0,165.6 1041.7,165.6 1042.4,165.7 1043.1,165.8 1043.8,165.9 1044.5,166.0 1045.2,166.0 1045.9,166.1 1046.6,166.2 1047.3,166.2 1048.0,166.3 1048.0,166.3 1049.0,166.5 1049.8,167.1 1050.4,168.0 1050.6,169.1 1050.4,170.2 1049.8,171.1 1049.0,171.7 1048.0,171.9 1048.0,171.9 1047.3,172.0 1046.6,172.1 1045.9,172.1 1045.2,172.2 1044.5,172.3 1043.8,172.3 1043.1,172.4 1042.4,172.5 1041.7,172.6 1041.0,172.7 1040.3,172.8 1039.6,172.9 1038.9,172.9 1038.2,172.9 1037.5,173.0 1036.8,173.1 1036.1,173.2 1035.3,173.3 1034.6,173.4 1033.9,173.4 1033.2,173.4 1032.5,173.4 1031.8,173.5 1031.1,173.7 1030.4,173.9 1029.7,174.0 1029.0,174.2 1028.3,174.5 1027.6,175.0 1026.9,175.4 1026.2,175.4 1025.5,175.1 1024.8,174.8 1024.1,174.7 1023.4,174.9 1022.7,175.3 1022.0,175.6 1021.3,175.6 1020.6,175.3 1019.9,174.7 1019.2,174.2 1018.5,173.9 1017.8,173.7 1017.1,173.8 1016.4,174.1 1015.7,174.4 1015.0,174.8 1014.3,174.9 1013.6,174.7 1012.9,174.3 1012.2,173.9 1011.5,173.6 1010.8,173.5 1010.0,173.5 1009.3,173.4 1008.6,173.3 1007.9,173.4 1007.2,173.5 1006.5,173.7 1005.8,173.7 1005.1,173.7 1004.4,173.5 1003.7,173.4 1003.0,173.4 1002.3,173.4 1001.6,173.4 1000.9,173.3 1000.2,173.1 999.5,173.1 998.8,173.2 998.1,173.4 997.4,173.7 996.7,174.1 996.0,174.5 995.3,175.1 994.6,175.6 993.9,175.8 993.2,175.7 992.5,175.5 991.8,175.3 991.1,175.4 990.4,175.6 989.7,176.1 989.0,176.7 988.3,177.4 987.6,177.9 986.9,178.4 986.2,179.0 985.4,179.7 984.7,180.2 984.0,180.4 983.3,180.3 982.6,180.2 981.9,180.5 981.2,181.3 980.5,182.3 979.8,183.1 979.1,183.4 978.4,183.3 977.7,183.1 977.0,183.0 976.3,183.0 975.6,182.7 974.9,182.1 974.2,181.5 973.5,181.2 972.8,181.1 972.1,181.0 971.4,180.9 970.7,180.5 970.0,179.9 969.3,179.2 968.6,178.5 967.9,178.0 967.2,177.9 966.5,178.3 965.8,178.7 965.1,178.8 964.4,178.4 963.7,177.6 963.0,176.8 962.3,176.4 961.6,176.3 960.9,176.4 960.1,176.4 959.4,176.1 958.7,175.5 958.0,174.6 957.3,173.9 956.6,173.5 955.9,173.3 955.2,173.3 954.5,173.3 953.8,173.2 953.1,173.3 952.4,173.5 951.7,173.5 951.0,173.4 950.3,173.0 949.6,172.7 948.9,172.3 948.2,171.9 948.2,171.9 947.2,171.7 946.4,171.1 945.8,170.2 945.6,169.1 945.8,168.0 946.4,167.1 947.2,166.5 948.2,166.3Z" fill="url(#g28)"/>
<circle cx="958.0" cy="167.9" r="2.4" fill="#ef0048"/><circle cx="961.6" cy="174.4" r="2.4" fill="#ef0048"/><circle cx="962.3" cy="169.1" r="2.4" fill="#ef004b"/><circle cx="964.4" cy="165.3" r="2.4" fill="#ef0048"/><circle cx="965.1" cy="166.2" r="2.4" fill="#c00086"/><circle cx="965.8" cy="168.3" r="2.4" fill="#941c9b"/><circle cx="966.5" cy="171.8" r="2.4" fill="#ef004f"/><circle cx="967.2" cy="171.3" r="2.4" fill="#ef0050"/><circle cx="968.6" cy="161.3" r="2.4" fill="#ef004e"/><circle cx="969.3" cy="170.5" r="2.4" fill="#ef0048"/><circle cx="970.0" cy="166.0" r="2.4" fill="#ef004c"/><circle cx="970.7" cy="159.6" r="2.4" fill="#c50082"/><circle cx="971.4" cy="163.1" r="2.4" fill="#ef0048"/><circle cx="972.1" cy="174.6" r="2.4" fill="#ef0048"/><circle cx="972.8" cy="170.1" r="2.4" fill="#ef0048"/><circle cx="973.5" cy="178.8" r="2.4" fill="#ef0048"/><circle cx="974.2" cy="171.1" r="2.4" fill="#ef0048"/><circle cx="974.9" cy="165.1" r="2.4" fill="#ef0052"/><circle cx="975.6" cy="177.7" r="2.4" fill="#ef0048"/><circle cx="976.3" cy="159.3" r="2.4" fill="#c50082"/><circle cx="977.7" cy="170.9" r="2.4" fill="#ef004e"/><circle cx="978.4" cy="174.3" r="2.4" fill="#ef0048"/><circle cx="979.1" cy="161.5" r="2.4" fill="#ef0048"/><circle cx="979.8" cy="174.4" r="2.4" fill="#ef0048"/><circle cx="980.5" cy="162.6" r="2.4" fill="#a01396"/><circle cx="981.2" cy="171.1" r="2.4" fill="#ef0048"/><circle cx="981.9" cy="167.0" r="2.4" fill="#ef0048"/><circle cx="982.6" cy="176.3" r="2.4" fill="#ef0048"/><circle cx="984.7" cy="167.3" r="2.4" fill="#ef0051"/><circle cx="986.2" cy="173.1" r="2.4" fill="#ef0048"/><circle cx="987.6" cy="165.1" r="2.4" fill="#892ba6"/><circle cx="988.3" cy="172.5" r="2.4" fill="#ef004f"/><circle cx="989.7" cy="165.5" r="2.4" fill="#892ba5"/><circle cx="990.4" cy="168.4" r="2.4" fill="#ef004e"/><circle cx="991.1" cy="169.4" r="2.4" fill="#b5008c"/><circle cx="991.8" cy="169.0" r="2.4" fill="#6b44bd"/><circle cx="992.5" cy="170.3" r="2.4" fill="#e8005e"/><circle cx="993.2" cy="169.1" r="2.4" fill="#6647c0"/><circle cx="993.9" cy="172.2" r="2.4" fill="#df006a"/><circle cx="995.3" cy="172.5" r="2.4" fill="#ef0048"/><circle cx="997.4" cy="169.0" r="2.4" fill="#6c44bd"/><circle cx="1000.2" cy="170.2" r="2.4" fill="#0060d6"/><circle cx="1003.0" cy="168.6" r="2.4" fill="#0061d7"/><circle cx="1004.4" cy="170.1" r="2.4" fill="#ac0391"/><circle cx="1005.8" cy="170.4" r="2.4" fill="#0075e1"/><circle cx="1007.2" cy="168.8" r="2.4" fill="#5150c9"/><circle cx="1008.6" cy="167.7" r="2.4" fill="#ba008a"/><circle cx="1009.3" cy="170.7" r="2.4" fill="#1a5cd3"/><circle cx="1010.0" cy="169.2" r="2.4" fill="#006bdd"/><circle cx="1010.8" cy="168.4" r="2.4" fill="#255bd2"/><circle cx="1013.6" cy="169.9" r="2.4" fill="#8530aa"/><circle cx="1014.3" cy="169.3" r="2.4" fill="#8b28a3"/><circle cx="1015.0" cy="171.6" r="2.4" fill="#a90892"/><circle cx="1016.4" cy="169.7" r="2.4" fill="#0075e1"/><circle cx="1017.8" cy="170.6" r="2.4" fill="#8f239f"/><circle cx="1018.5" cy="169.0" r="2.4" fill="#0075e1"/><circle cx="1019.2" cy="165.8" r="2.4" fill="#0075e1"/><circle cx="1025.5" cy="167.5" r="2.4" fill="#0075e1"/><circle cx="1027.6" cy="167.1" r="2.4" fill="#0073e1"/><circle cx="1029.0" cy="168.5" r="2.4" fill="#0075e1"/><circle cx="1030.4" cy="171.1" r="2.4" fill="#0075e1"/><circle cx="1034.6" cy="167.3" r="2.4" fill="#0075e1"/><circle cx="1046.6" cy="169.0" r="2.4" fill="#0075e1"/>
<text x="811.5 820.8 825.0 829.5 840.6" y="174.4" font-size="14.00" fill="#3a3a3a" font-family="Liberation Sans" stroke="#3a3a3a" stroke-width="0.30">EI.D3</text>
<linearGradient id="g29" gradientUnits="userSpaceOnUse" x1="946.8" y1="0" x2="1072.7" y2="0"><stop offset="0.0000" stop-color="#e9005c"/><stop offset="0.0890" stop-color="#e30066"/><stop offset="0.1859" stop-color="#db006f"/><stop offset="0.3034" stop-color="#d20078"/><stop offset="0.3749" stop-color="#af008f"/><stop offset="0.5020" stop-color="#5c4cc4"/><stop offset="0.6211" stop-color="#0063d8"/><stop offset="0.8197" stop-color="#006fdf"/><stop offset="1.0000" stop-color="#0075e1"/></linearGradient>
<path d="M949.4,198.4 950.1,197.9 950.8,197.4 951.5,196.9 952.2,196.5 952.9,196.3 953.6,196.4 954.3,196.6 955.0,196.8 955.7,196.7 956.4,196.1 957.1,195.0 957.8,193.6 958.5,192.6 959.2,192.1 959.9,192.1 960.6,192.0 961.3,191.7 962.0,191.0 962.7,190.2 963.4,189.6 964.1,189.2 964.8,189.1 965.5,189.2 966.2,189.4 966.9,189.5 967.6,189.6 968.3,189.4 969.0,189.1 969.8,188.9 970.5,189.0 971.2,189.4 971.9,189.9 972.6,190.3 973.3,190.4 974.0,190.2 974.7,189.8 975.4,189.4 976.1,189.3 976.8,189.4 977.5,189.9 978.2,190.4 978.9,190.9 979.6,191.0 980.3,190.7 981.0,190.3 981.7,190.0 982.4,189.9 983.1,190.0 983.8,190.1 984.5,190.3 985.2,190.6 985.9,190.8 986.6,191.0 987.3,191.2 988.0,191.7 988.7,192.5 989.4,193.7 990.1,194.8 990.8,195.5 991.5,195.7 992.2,195.6 992.9,195.3 993.6,194.9 994.3,194.7 995.0,194.5 995.7,194.5 996.4,194.6 997.1,194.5 997.8,194.5 998.5,194.6 999.2,194.7 999.9,195.0 1000.6,195.2 1001.3,195.4 1002.0,195.6 1002.7,195.7 1003.4,195.9 1004.1,196.1 1004.8,196.3 1005.5,196.2 1006.2,195.9 1006.9,195.5 1007.6,195.3 1008.3,195.3 1009.0,195.4 1009.8,195.5 1010.5,195.4 1011.2,195.4 1011.9,195.3 1012.6,195.5 1013.3,195.7 1014.0,195.9 1014.7,196.2 1015.4,196.3 1016.1,196.4 1016.8,196.3 1017.5,196.2 1018.2,196.2 1018.9,196.2 1019.6,196.2 1020.3,196.1 1021.0,195.9 1021.7,195.8 1022.4,195.7 1023.1,195.9 1023.8,196.1 1024.5,196.3 1025.2,196.4 1025.9,196.5 1026.6,196.5 1027.3,196.3 1028.0,196.2 1028.7,196.1 1029.4,196.1 1030.1,196.1 1030.8,196.1 1031.5,196.2 1032.2,196.3 1032.9,196.4 1033.6,196.5 1034.3,196.6 1035.0,196.6 1035.7,196.7 1036.4,196.7 1037.1,196.8 1037.8,196.9 1038.5,196.9 1039.2,197.0 1039.9,197.1 1040.6,197.2 1041.3,197.2 1042.0,197.3 1042.7,197.3 1043.4,197.3 1044.1,197.2 1044.8,197.2 1045.5,197.2 1046.2,197.3 1046.9,197.3 1047.6,197.4 1048.3,197.4 1049.0,197.5 1049.7,197.5 1050.5,197.5 1051.2,197.5 1051.9,197.5 1052.6,197.5 1053.3,197.6 1054.0,197.6 1054.7,197.6 1055.4,197.7 1056.1,197.7 1056.8,197.7 1057.5,197.8 1058.2,197.8 1058.9,197.8 1059.6,197.9 1060.3,197.9 1061.0,197.9 1061.7,198.0 1062.4,198.0 1063.1,198.0 1063.8,198.1 1064.5,198.1 1065.2,198.1 1065.9,198.2 1066.6,198.2 1067.3,198.2 1068.0,198.3 1068.7,198.3 1069.4,198.3 1070.1,198.4 1070.1,198.4 1071.1,198.6 1071.9,199.2 1072.5,200.1 1072.7,201.2 1072.5,202.3 1071.9,203.2 1071.1,203.8 1070.1,204.0 1070.1,204.0 1069.4,204.0 1068.7,204.1 1068.0,204.1 1067.3,204.1 1066.6,204.2 1065.9,204.2 1065.2,204.2 1064.5,204.3 1063.8,204.3 1063.1,204.3 1062.4,204.4 1061.7,204.4 1061.0,204.4 1060.3,204.5 1059.6,204.5 1058.9,204.5 1058.2,204.6 1057.5,204.6 1056.8,204.6 1056.1,204.7 1055.4,204.7 1054.7,204.7 1054.0,204.8 1053.3,204.8 1052.6,204.8 1051.9,204.8 1051.2,204.9 1050.5,205.0 1049.7,205.0 1049.0,205.1 1048.3,205.1 1047.6,205.1 1046.9,205.1 1046.2,205.2 1045.5,205.1 1044.8,205.1 1044.1,205.0 1043.4,205.1 1042.7,205.2 1042.0,205.3 1041.3,205.4 1040.6,205.5 1039.9,205.5 1039.2,205.5 1038.5,205.5 1037.8,205.5 1037.1,205.6 1036.4,205.6 1035.7,205.7 1035.0,205.8 1034.3,205.9 1033.6,206.0 1032.9,206.1 1032.2,206.2 1031.5,206.3 1030.8,206.3 1030.1,206.4 1029.4,206.4 1028.7,206.3 1028.0,206.3 1027.3,206.4 1026.6,206.5 1025.9,206.6 1025.2,206.7 1024.5,206.5 1023.8,206.3 1023.1,206.1 1022.4,205.9 1021.7,205.8 1021.0,205.8 1020.3,205.9 1019.6,206.1 1018.9,206.1 1018.2,206.2 1017.5,206.1 1016.8,206.0 1016.1,205.9 1015.4,205.7 1014.7,205.7 1014.0,205.8 1013.3,206.1 1012.6,206.2 1011.9,206.2 1011.2,206.0 1010.5,205.8 1009.8,205.9 1009.0,206.1 1008.3,206.4 1007.6,206.7 1006.9,206.9 1006.2,207.0 1005.5,207.0 1004.8,206.9 1004.1,206.7 1003.4,206.6 1002.7,206.5 1002.0,206.4 1001.3,206.4 1000.6,206.4 999.9,206.4 999.2,206.4 998.5,206.5 997.8,206.7 997.1,207.1 996.4,207.5 995.7,207.7 995.0,207.6 994.3,207.3 993.6,207.0 992.9,207.1 992.2,207.7 991.5,208.7 990.8,209.4 990.1,209.7 989.4,209.5 988.7,208.8 988.0,207.9 987.3,207.0 986.6,206.5 985.9,206.6 985.2,207.0 984.5,207.5 983.8,208.0 983.1,208.2 982.4,208.5 981.7,208.9 981.0,209.6 980.3,210.4 979.6,211.0 978.9,211.7 978.2,212.5 977.5,213.3 976.8,213.7 976.1,213.7 975.4,213.6 974.7,213.4 974.0,213.3 973.3,213.3 972.6,213.2 971.9,213.3 971.2,213.4 970.5,213.5 969.8,213.4 969.0,213.3 968.3,213.3 967.6,213.5 966.9,213.5 966.2,213.4 965.5,213.1 964.8,212.8 964.1,212.4 963.4,212.0 962.7,211.7 962.0,211.5 961.3,211.3 960.6,211.2 959.9,211.4 959.2,211.5 958.5,211.3 957.8,210.8 957.1,210.0 956.4,209.1 955.7,208.3 955.0,207.6 954.3,207.2 953.6,206.9 952.9,206.5 952.2,206.0 951.5,205.4 950.8,204.9 950.1,204.5 949.4,204.0 949.4,204.0 948.4,203.8 947.6,203.2 947.0,202.3 946.8,201.2 947.0,200.1 947.6,199.2 948.4,198.6 949.4,198.4Z" fill="url(#g29)"/>
<circle cx="954.3" cy="200.0" r="2.4" fill="#ef004c"/><circle cx="959.2" cy="195.6" r="2.4" fill="#ef0048"/><circle cx="959.9" cy="196.2" r="2.4" fill="#ef0048"/><circle cx="961.3" cy="202.0" r="2.4" fill="#ef0048"/><circle cx="962.7" cy="206.7" r="2.4" fill="#ef0048"/><circle cx="963.4" cy="206.6" r="2.4" fill="#ee0053"/><circle cx="964.1" cy="194.7" r="2.4" fill="#ee0055"/><circle cx="964.8" cy="200.2" r="2.4" fill="#ef0050"/><circle cx="966.2" cy="210.9" r="2.4" fill="#ef0048"/><circle cx="966.9" cy="198.8" r="2.4" fill="#ef0051"/><circle cx="967.6" cy="204.6" r="2.4" fill="#ef0051"/><circle cx="968.3" cy="210.5" r="2.4" fill="#ef0048"/><circle cx="969.0" cy="194.8" r="2.4" fill="#ef0048"/><circle cx="970.5" cy="195.4" r="2.4" fill="#ef0050"/><circle cx="971.2" cy="199.4" r="2.4" fill="#ef0048"/><circle cx="971.9" cy="196.1" r="2.4" fill="#ee0054"/><circle cx="972.6" cy="192.4" r="2.4" fill="#ef0048"/><circle cx="973.3" cy="200.7" r="2.4" fill="#931d9b"/><circle cx="974.0" cy="199.2" r="2.4" fill="#ef004c"/><circle cx="974.7" cy="194.2" r="2.4" fill="#ee0053"/><circle cx="975.4" cy="193.4" r="2.4" fill="#ee0054"/><circle cx="976.1" cy="204.9" r="2.4" fill="#ef0048"/><circle cx="977.5" cy="196.1" r="2.4" fill="#ef0048"/><circle cx="978.2" cy="197.6" r="2.4" fill="#ec0057"/><circle cx="979.6" cy="206.7" r="2.4" fill="#ae0090"/><circle cx="980.3" cy="207.0" r="2.4" fill="#ef0048"/><circle cx="981.7" cy="200.1" r="2.4" fill="#7d38b1"/><circle cx="983.8" cy="195.7" r="2.4" fill="#ef0048"/><circle cx="984.5" cy="205.7" r="2.4" fill="#aa0792"/><circle cx="985.9" cy="197.7" r="2.4" fill="#ef0048"/><circle cx="987.3" cy="201.0" r="2.4" fill="#743fb8"/><circle cx="988.7" cy="198.6" r="2.4" fill="#ef0048"/><circle cx="990.8" cy="201.2" r="2.4" fill="#773cb5"/><circle cx="998.5" cy="202.4" r="2.4" fill="#0061d7"/><circle cx="999.2" cy="201.0" r="2.4" fill="#e20067"/><circle cx="1000.6" cy="198.6" r="2.4" fill="#d30077"/><circle cx="1002.0" cy="198.5" r="2.4" fill="#0060d6"/><circle cx="1003.4" cy="200.2" r="2.4" fill="#d50075"/><circle cx="1006.2" cy="199.9" r="2.4" fill="#0074e1"/><circle cx="1007.6" cy="199.8" r="2.4" fill="#921d9b"/><circle cx="1011.2" cy="200.5" r="2.4" fill="#8c27a2"/><circle cx="1013.3" cy="200.0" r="2.4" fill="#0075e1"/><circle cx="1014.7" cy="200.1" r="2.4" fill="#0063d8"/><circle cx="1017.5" cy="198.8" r="2.4" fill="#006dde"/><circle cx="1020.3" cy="202.1" r="2.4" fill="#0075e1"/><circle cx="1025.9" cy="202.0" r="2.4" fill="#0074e1"/><circle cx="1032.9" cy="199.2" r="2.4" fill="#6348c1"/><circle cx="1038.5" cy="201.0" r="2.4" fill="#0075e1"/><circle cx="1039.9" cy="201.0" r="2.4" fill="#0075e1"/><circle cx="1040.6" cy="200.2" r="2.4" fill="#7e36b0"/><circle cx="1042.7" cy="201.9" r="2.4" fill="#0075e1"/><circle cx="1043.4" cy="202.7" r="2.4" fill="#0075e1"/><circle cx="1047.6" cy="201.1" r="2.4" fill="#0075e1"/><circle cx="1048.3" cy="200.8" r="2.4" fill="#0075e1"/><circle cx="1063.8" cy="201.1" r="2.4" fill="#0075e1"/>
<circle cx="1081.7" cy="201.2" r="2.8" fill="#0075e1"/>
<circle cx="1085.5" cy="201.2" r="2.8" fill="#0075e1"/>
<circle cx="1089.0" cy="201.2" r="2.8" fill="#0075e1"/>
<circle cx="1093.0" cy="201.2" r="2.8" fill="#0075e1"/>
<circle cx="1099.2" cy="201.2" r="2.8" fill="#0075e1"/>
<circle cx="1107.0" cy="201.2" r="2.8" fill="#0075e1"/>
<circle cx="1111.3" cy="201.2" r="2.8" fill="#0075e1"/>
<text x="805.9 815.6 825.0 829.5 840.6" y="206.5" font-size="14.00" fill="#3a3a3a" font-family="Liberation Sans" stroke="#3a3a3a" stroke-width="0.30">CS.D1</text>
<linearGradient id="g30" gradientUnits="userSpaceOnUse" x1="939.2" y1="0" x2="1042.7" y2="0"><stop offset="0.0000" stop-color="#006fdf"/><stop offset="0.0657" stop-color="#0069dc"/><stop offset="0.1681" stop-color="#0063d8"/><stop offset="0.2860" stop-color="#5c4cc4"/><stop offset="0.4280" stop-color="#882da7"/><stop offset="0.4812" stop-color="#911e9b"/><stop offset="0.5101" stop-color="#af008f"/><stop offset="0.5391" stop-color="#c80080"/><stop offset="0.5778" stop-color="#e30066"/><stop offset="0.7111" stop-color="#e9005c"/><stop offset="0.8174" stop-color="#ef0053"/><stop offset="0.9256" stop-color="#ef0053"/><stop offset="1.0000" stop-color="#e9005c"/></linearGradient>
<path d="M941.8,230.4 942.5,230.2 943.2,229.9 943.9,229.6 944.6,229.3 945.3,228.9 946.0,228.6 946.7,228.4 947.4,228.2 948.1,228.2 948.8,228.1 949.5,228.0 950.2,228.1 950.9,228.2 951.6,228.3 952.3,228.2 953.0,227.9 953.7,227.6 954.4,227.5 955.1,227.7 955.8,228.2 956.5,228.6 957.2,228.6 957.9,228.1 958.7,227.2 959.4,225.9 960.1,224.9 960.8,224.7 961.5,225.2 962.2,226.1 962.9,226.7 963.6,226.8 964.3,226.4 965.0,226.0 965.7,225.6 966.4,225.4 967.1,225.2 967.8,225.2 968.5,225.2 969.2,225.1 969.9,225.1 970.6,225.2 971.3,225.5 972.0,225.7 972.7,225.7 973.4,225.7 974.1,225.7 974.8,225.9 975.5,226.1 976.2,226.1 976.9,225.8 977.6,225.3 978.3,224.7 979.0,224.1 979.7,223.7 980.4,223.7 981.1,224.1 981.8,224.7 982.5,225.6 983.2,226.3 983.9,226.6 984.6,226.4 985.3,226.1 986.0,225.7 986.7,225.3 987.4,224.7 988.1,224.0 988.8,223.5 989.5,223.2 990.2,222.5 991.0,221.7 991.7,221.3 992.4,221.6 993.1,222.7 993.8,223.8 994.5,224.3 995.2,224.2 995.9,224.0 996.6,224.1 997.3,224.6 998.0,225.3 998.7,225.8 999.4,226.1 1000.1,226.2 1000.8,226.4 1001.5,226.8 1002.2,227.3 1002.9,227.9 1003.6,228.4 1004.3,228.8 1005.0,229.1 1005.7,229.2 1006.4,229.0 1007.1,228.6 1007.8,228.1 1008.5,227.8 1009.2,227.9 1009.9,228.4 1010.6,228.8 1011.3,229.0 1012.0,229.0 1012.7,228.8 1013.4,228.7 1014.1,228.8 1014.8,229.1 1015.5,229.3 1016.2,229.3 1016.9,228.9 1017.6,228.4 1018.3,227.8 1019.0,227.5 1019.7,227.4 1020.4,227.4 1021.1,227.3 1021.8,227.1 1022.5,226.7 1023.2,226.2 1024.0,225.8 1024.7,225.3 1025.4,224.7 1026.1,224.5 1026.8,224.7 1027.5,225.3 1028.2,226.0 1028.9,226.5 1029.6,226.8 1030.3,227.0 1031.0,227.2 1031.7,227.2 1032.4,227.1 1033.1,227.1 1033.8,227.4 1034.5,227.8 1035.2,228.1 1035.9,228.3 1036.6,228.5 1037.3,228.8 1038.0,229.2 1038.7,229.7 1039.4,230.1 1040.1,230.4 1040.1,230.4 1041.1,230.7 1041.9,231.3 1042.5,232.2 1042.7,233.2 1042.5,234.3 1041.9,235.2 1041.1,235.8 1040.1,236.1 1040.1,236.1 1039.4,236.4 1038.7,236.8 1038.0,237.1 1037.3,237.4 1036.6,237.7 1035.9,237.9 1035.2,238.1 1034.5,238.3 1033.8,238.7 1033.1,239.2 1032.4,239.7 1031.7,240.1 1031.0,240.4 1030.3,240.5 1029.6,240.6 1028.9,240.5 1028.2,240.6 1027.5,240.5 1026.8,240.4 1026.1,240.2 1025.4,239.9 1024.7,239.5 1024.0,239.0 1023.2,238.3 1022.5,237.7 1021.8,237.2 1021.1,237.1 1020.4,237.2 1019.7,237.4 1019.0,237.7 1018.3,237.8 1017.6,237.9 1016.9,237.8 1016.2,237.6 1015.5,237.5 1014.8,237.5 1014.1,237.7 1013.4,237.9 1012.7,238.2 1012.0,238.3 1011.3,238.4 1010.6,238.3 1009.9,238.3 1009.2,238.3 1008.5,238.5 1007.8,238.9 1007.1,239.2 1006.4,239.3 1005.7,239.3 1005.0,239.2 1004.3,239.1 1003.6,239.1 1002.9,239.2 1002.2,239.4 1001.5,239.7 1000.8,239.8 1000.1,240.0 999.4,240.3 998.7,240.9 998.0,241.5 997.3,241.9 996.6,242.1 995.9,242.1 995.2,242.1 994.5,242.3 993.8,242.8 993.1,243.5 992.4,244.1 991.7,244.1 991.0,243.4 990.2,242.4 989.5,241.4 988.8,240.9 988.1,240.8 987.4,241.0 986.7,241.1 986.0,241.0 985.3,240.7 984.6,240.3 983.9,240.3 983.2,240.5 982.5,240.8 981.8,241.1 981.1,241.2 980.4,241.0 979.7,240.9 979.0,240.9 978.3,241.1 977.6,241.3 976.9,241.4 976.2,241.4 975.5,241.3 974.8,241.1 974.1,240.9 973.4,240.8 972.7,240.9 972.0,240.9 971.3,240.8 970.6,240.5 969.9,240.2 969.2,240.2 968.5,240.4 967.8,240.7 967.1,241.1 966.4,241.3 965.7,241.3 965.0,241.3 964.3,241.3 963.6,241.3 962.9,241.1 962.2,240.9 961.5,240.7 960.8,240.5 960.1,240.3 959.4,240.1 958.7,240.3 957.9,240.7 957.2,241.0 956.5,240.9 955.8,240.6 955.1,240.2 954.4,240.0 953.7,240.1 953.0,240.1 952.3,239.9 951.6,239.6 950.9,239.3 950.2,239.0 949.5,238.7 948.8,238.5 948.1,238.3 947.4,238.1 946.7,237.8 946.0,237.6 945.3,237.3 944.6,237.1 943.9,236.8 943.2,236.6 942.5,236.3 941.8,236.1 941.8,236.1 940.8,235.8 940.0,235.2 939.4,234.3 939.2,233.2 939.4,232.2 940.0,231.3 940.8,230.7 941.8,230.4Z" fill="url(#g30)"/>
<circle cx="942.5" cy="232.9" r="2.4" fill="#8a2aa5"/><circle cx="945.3" cy="234.6" r="2.4" fill="#7d37b1"/><circle cx="949.5" cy="231.5" r="2.4" fill="#763db6"/><circle cx="950.9" cy="233.4" r="2.4" fill="#6249c2"/><circle cx="952.3" cy="233.4" r="2.4" fill="#0075e1"/><circle cx="953.0" cy="236.1" r="2.4" fill="#0075e1"/><circle cx="953.7" cy="234.5" r="2.4" fill="#9a1898"/><circle cx="955.1" cy="230.6" r="2.4" fill="#6d43bc"/><circle cx="957.2" cy="235.7" r="2.4" fill="#8134ad"/><circle cx="957.9" cy="229.7" r="2.4" fill="#0075e1"/><circle cx="960.1" cy="229.8" r="2.4" fill="#0075e1"/><circle cx="960.8" cy="234.6" r="2.4" fill="#0075e1"/><circle cx="961.5" cy="230.5" r="2.4" fill="#6a45be"/><circle cx="962.2" cy="235.8" r="2.4" fill="#0075e1"/><circle cx="963.6" cy="237.0" r="2.4" fill="#0075e1"/><circle cx="964.3" cy="231.1" r="2.4" fill="#006cde"/><circle cx="965.0" cy="235.8" r="2.4" fill="#0075e1"/><circle cx="965.7" cy="231.6" r="2.4" fill="#0075e1"/><circle cx="966.4" cy="238.0" r="2.4" fill="#0075e1"/><circle cx="967.1" cy="232.6" r="2.4" fill="#8d25a1"/><circle cx="967.8" cy="227.5" r="2.4" fill="#0062d8"/><circle cx="968.5" cy="237.8" r="2.4" fill="#0061d7"/><circle cx="969.2" cy="233.1" r="2.4" fill="#90209d"/><circle cx="969.9" cy="232.4" r="2.4" fill="#165dd4"/><circle cx="970.6" cy="234.6" r="2.4" fill="#ac0391"/><circle cx="972.0" cy="234.6" r="2.4" fill="#0074e1"/><circle cx="972.7" cy="235.6" r="2.4" fill="#006dde"/><circle cx="973.4" cy="234.2" r="2.4" fill="#0065da"/><circle cx="974.1" cy="235.0" r="2.4" fill="#0066da"/><circle cx="974.8" cy="231.0" r="2.4" fill="#0075e1"/><circle cx="975.5" cy="234.9" r="2.4" fill="#006cde"/><circle cx="976.2" cy="232.2" r="2.4" fill="#ab0591"/><circle cx="976.9" cy="234.6" r="2.4" fill="#006bdd"/><circle cx="977.6" cy="231.7" r="2.4" fill="#4754cc"/><circle cx="979.0" cy="232.8" r="2.4" fill="#0064d9"/><circle cx="980.4" cy="229.0" r="2.4" fill="#4654cc"/><circle cx="981.1" cy="238.0" r="2.4" fill="#3f56ce"/><circle cx="981.8" cy="230.6" r="2.4" fill="#a80a93"/><circle cx="983.2" cy="231.9" r="2.4" fill="#e10068"/><circle cx="984.6" cy="236.8" r="2.4" fill="#006ede"/><circle cx="985.3" cy="232.6" r="2.4" fill="#d0007a"/><circle cx="986.0" cy="237.2" r="2.4" fill="#e10068"/><circle cx="986.7" cy="236.6" r="2.4" fill="#0069dc"/><circle cx="987.4" cy="231.6" r="2.4" fill="#be0087"/><circle cx="988.1" cy="230.8" r="2.4" fill="#e10068"/><circle cx="988.8" cy="233.3" r="2.4" fill="#6e42bb"/><circle cx="989.5" cy="229.1" r="2.4" fill="#733fb8"/><circle cx="990.2" cy="230.2" r="2.4" fill="#c50083"/><circle cx="991.0" cy="226.4" r="2.4" fill="#ef0051"/><circle cx="991.0" cy="230.9" r="2.4" fill="#e8005e"/><circle cx="991.7" cy="225.0" r="2.4" fill="#793ab4"/><circle cx="991.7" cy="226.7" r="2.4" fill="#eb005a"/><circle cx="992.4" cy="231.2" r="2.4" fill="#753eb7"/><circle cx="993.1" cy="229.8" r="2.4" fill="#dd006d"/><circle cx="993.8" cy="226.5" r="2.4" fill="#ef004d"/><circle cx="994.5" cy="239.9" r="2.4" fill="#ef004d"/><circle cx="995.2" cy="229.4" r="2.4" fill="#6249c2"/><circle cx="995.9" cy="237.1" r="2.4" fill="#e40065"/><circle cx="996.6" cy="228.8" r="2.4" fill="#7d37b1"/><circle cx="997.3" cy="229.6" r="2.4" fill="#ef0048"/><circle cx="998.0" cy="235.2" r="2.4" fill="#ef0048"/><circle cx="998.7" cy="229.5" r="2.4" fill="#ef0048"/><circle cx="1002.9" cy="233.0" r="2.4" fill="#ef0048"/><circle cx="1007.8" cy="231.6" r="2.4" fill="#ef0048"/><circle cx="1011.3" cy="233.2" r="2.4" fill="#ef0048"/><circle cx="1019.0" cy="235.4" r="2.4" fill="#ef0048"/><circle cx="1019.7" cy="233.9" r="2.4" fill="#ef0048"/><circle cx="1024.7" cy="231.1" r="2.4" fill="#ef0048"/><circle cx="1027.5" cy="232.6" r="2.4" fill="#ef0048"/><circle cx="1028.2" cy="234.6" r="2.4" fill="#ef0048"/>
<text x="821.9 832.0 840.7" y="238.6" font-size="14.00" fill="#3a3a3a" font-family="Liberation Sans" stroke="#3a3a3a" stroke-width="0.30">Age</text>
<linearGradient id="g31" gradientUnits="userSpaceOnUse" x1="956.0" y1="0" x2="1057.0" y2="0"><stop offset="0.0000" stop-color="#e9005c"/><stop offset="0.0792" stop-color="#e9005c"/><stop offset="0.1515" stop-color="#e30066"/><stop offset="0.1980" stop-color="#db006f"/><stop offset="0.2376" stop-color="#db006f"/><stop offset="0.2970" stop-color="#db006f"/><stop offset="0.3812" stop-color="#c80080"/><stop offset="0.4901" stop-color="#5c4cc4"/><stop offset="0.5842" stop-color="#0069dc"/><stop offset="0.7327" stop-color="#006fdf"/><stop offset="0.8812" stop-color="#0075e1"/><stop offset="1.0000" stop-color="#0075e1"/></linearGradient>
<mask id="m31" maskUnits="userSpaceOnUse" x="943.6" y="250.3" width="125.8" height="30"><rect x="943.6" y="250.3" width="125.8" height="30" fill="#fff"/><path d="M1046.1,260.3H1050.3L1049.0,265.3L1050.3,270.3H1046.1L1047.4,265.3Z" fill="#000"/></mask>
<path d="M958.6,262.5 959.3,262.4 960.0,262.2 960.7,262.0 961.4,261.7 962.1,261.5 962.8,261.3 963.5,261.1 964.2,261.0 964.9,260.9 965.6,260.5 966.3,259.9 967.1,258.9 967.8,258.0 968.5,257.3 969.2,257.1 969.9,257.4 970.6,257.7 971.3,257.4 972.0,256.7 972.7,255.9 973.4,255.5 974.1,255.4 974.8,255.1 975.5,254.4 976.2,253.8 976.9,253.4 977.6,253.3 978.3,253.1 979.0,252.8 979.7,252.4 980.4,252.2 981.1,252.4 981.8,253.1 982.6,254.0 983.3,255.3 984.0,256.8 984.7,258.6 985.4,260.3 986.1,261.3 986.8,261.1 987.5,260.3 988.2,259.5 988.9,259.2 989.6,259.3 990.3,259.5 991.0,259.7 991.7,260.0 992.4,260.3 993.1,260.7 993.8,261.0 994.5,261.2 995.2,261.4 995.9,261.4 996.6,261.4 997.3,261.2 998.0,261.1 998.8,261.0 999.5,260.8 1000.2,260.5 1000.9,260.2 1001.6,259.9 1002.3,259.8 1003.0,259.9 1003.7,260.2 1004.4,260.6 1005.1,260.7 1005.8,260.4 1006.5,260.0 1007.2,259.5 1007.9,259.1 1008.6,258.9 1009.3,258.9 1010.0,259.2 1010.7,259.7 1011.4,260.1 1012.1,260.3 1012.8,260.3 1013.5,260.3 1014.2,260.4 1015.0,260.5 1015.7,260.6 1016.4,260.7 1017.1,260.8 1017.8,260.7 1018.5,260.5 1019.2,260.3 1019.9,260.2 1020.6,260.2 1021.3,260.3 1022.0,260.3 1022.7,260.3 1023.4,260.2 1024.1,260.1 1024.8,260.1 1025.5,260.3 1026.2,260.5 1026.9,260.7 1027.6,260.8 1028.3,260.7 1029.0,260.5 1029.7,260.3 1030.5,260.3 1031.2,260.5 1031.9,260.6 1032.6,260.7 1033.3,260.8 1034.0,260.9 1034.7,260.9 1035.4,261.0 1036.1,261.2 1036.8,261.3 1037.5,261.3 1038.2,261.3 1038.9,261.2 1039.6,261.2 1040.3,261.3 1041.0,261.4 1041.7,261.5 1042.4,261.5 1043.1,261.5 1043.8,261.6 1044.5,261.6 1045.2,261.7 1045.9,261.8 1046.7,261.9 1047.4,261.9 1048.1,262.0 1048.8,262.1 1049.5,262.1 1050.2,262.2 1050.9,262.2 1051.6,262.3 1052.3,262.3 1053.0,262.4 1053.7,262.5 1054.4,262.5 1054.4,262.5 1055.4,262.7 1056.2,263.3 1056.8,264.2 1057.0,265.3 1056.8,266.4 1056.2,267.3 1055.4,267.9 1054.4,268.1 1054.4,268.1 1053.7,268.2 1053.0,268.2 1052.3,268.3 1051.6,268.3 1050.9,268.4 1050.2,268.5 1049.5,268.5 1048.8,268.6 1048.1,268.6 1047.4,268.7 1046.7,268.8 1045.9,268.8 1045.2,268.8 1044.5,268.8 1043.8,268.8 1043.1,268.9 1042.4,268.9 1041.7,269.1 1041.0,269.4 1040.3,269.6 1039.6,269.7 1038.9,269.7 1038.2,269.6 1037.5,269.6 1036.8,269.6 1036.1,269.7 1035.4,269.9 1034.7,270.0 1034.0,270.2 1033.3,270.3 1032.6,270.3 1031.9,270.2 1031.2,270.0 1030.5,269.8 1029.7,269.8 1029.0,270.0 1028.3,270.2 1027.6,270.3 1026.9,270.4 1026.2,270.3 1025.5,270.1 1024.8,269.9 1024.1,269.9 1023.4,270.0 1022.7,270.2 1022.0,270.4 1021.3,270.3 1020.6,270.2 1019.9,270.1 1019.2,270.1 1018.5,270.2 1017.8,270.2 1017.1,270.2 1016.4,270.1 1015.7,269.9 1015.0,269.8 1014.2,269.7 1013.5,269.8 1012.8,269.9 1012.1,270.1 1011.4,270.5 1010.7,270.7 1010.0,270.8 1009.3,270.7 1008.6,270.5 1007.9,270.3 1007.2,270.4 1006.5,270.6 1005.8,271.0 1005.1,271.3 1004.4,271.5 1003.7,271.5 1003.0,271.4 1002.3,271.0 1001.6,270.7 1000.9,270.5 1000.2,270.4 999.5,270.3 998.8,270.2 998.0,270.0 997.3,269.8 996.6,269.7 995.9,269.7 995.2,269.7 994.5,269.7 993.8,269.8 993.1,269.9 992.4,270.2 991.7,270.4 991.0,270.6 990.3,270.6 989.6,270.4 988.9,270.3 988.2,270.4 987.5,271.0 986.8,272.0 986.1,273.2 985.4,274.3 984.7,275.0 984.0,275.4 983.3,275.6 982.6,275.7 981.8,275.6 981.1,275.6 980.4,275.7 979.7,276.0 979.0,276.5 978.3,277.0 977.6,277.3 976.9,277.5 976.2,277.6 975.5,277.8 974.8,277.9 974.1,277.8 973.4,277.2 972.7,276.3 972.0,275.2 971.3,274.4 970.6,274.0 969.9,273.9 969.2,273.8 968.5,273.6 967.8,273.2 967.1,272.5 966.3,271.6 965.6,270.6 964.9,269.9 964.2,269.4 963.5,269.2 962.8,269.1 962.1,269.0 961.4,268.9 960.7,268.7 960.0,268.5 959.3,268.3 958.6,268.1 958.6,268.1 957.6,267.9 956.8,267.3 956.2,266.4 956.0,265.3 956.2,264.2 956.8,263.3 957.6,262.7 958.6,262.5Z" fill="url(#g31)" mask="url(#m31)"/>
<circle cx="960.0" cy="265.9" r="2.4" fill="#ef0048"/><circle cx="969.2" cy="267.5" r="2.4" fill="#ef0049"/><circle cx="969.9" cy="266.1" r="2.4" fill="#ef0048"/><circle cx="971.3" cy="261.8" r="2.4" fill="#ef0048"/><circle cx="972.0" cy="270.9" r="2.4" fill="#ef0048"/><circle cx="972.7" cy="265.2" r="2.4" fill="#ef004a"/><circle cx="973.4" cy="263.4" r="2.4" fill="#ef0048"/><circle cx="974.1" cy="261.7" r="2.4" fill="#ef0048"/><circle cx="974.8" cy="266.2" r="2.4" fill="#9a1898"/><circle cx="975.5" cy="263.8" r="2.4" fill="#a70b93"/><circle cx="976.2" cy="259.5" r="2.4" fill="#eb0059"/><circle cx="976.9" cy="268.0" r="2.4" fill="#ef0048"/><circle cx="977.6" cy="263.6" r="2.4" fill="#eb005a"/><circle cx="978.3" cy="275.4" r="2.4" fill="#ef0048"/><circle cx="979.0" cy="275.4" r="2.4" fill="#ef0048"/><circle cx="979.7" cy="272.8" r="2.4" fill="#ef0048"/><circle cx="980.4" cy="262.2" r="2.4" fill="#ad0191"/><circle cx="981.8" cy="272.3" r="2.4" fill="#ef0048"/><circle cx="982.6" cy="271.6" r="2.4" fill="#a21195"/><circle cx="983.3" cy="272.8" r="2.4" fill="#ef004a"/><circle cx="984.0" cy="271.2" r="2.4" fill="#9f1497"/><circle cx="986.8" cy="266.7" r="2.4" fill="#a01396"/><circle cx="988.9" cy="263.4" r="2.4" fill="#ef0048"/><circle cx="989.6" cy="266.4" r="2.4" fill="#e50062"/><circle cx="990.3" cy="264.2" r="2.4" fill="#e8005e"/><circle cx="998.8" cy="266.1" r="2.4" fill="#4155cd"/><circle cx="1000.9" cy="265.7" r="2.4" fill="#005fd6"/><circle cx="1001.6" cy="265.4" r="2.4" fill="#554fc7"/><circle cx="1002.3" cy="268.2" r="2.4" fill="#0062d7"/><circle cx="1004.4" cy="267.9" r="2.4" fill="#0067db"/><circle cx="1005.8" cy="262.4" r="2.4" fill="#005ed5"/><circle cx="1006.5" cy="267.6" r="2.4" fill="#0067db"/><circle cx="1007.2" cy="264.4" r="2.4" fill="#0066da"/><circle cx="1008.6" cy="265.6" r="2.4" fill="#0075e1"/><circle cx="1009.3" cy="265.3" r="2.4" fill="#0067db"/><circle cx="1010.0" cy="262.9" r="2.4" fill="#0075e1"/><circle cx="1010.7" cy="267.5" r="2.4" fill="#8530aa"/><circle cx="1012.8" cy="263.1" r="2.4" fill="#0075e1"/><circle cx="1015.0" cy="265.9" r="2.4" fill="#0075e1"/><circle cx="1020.6" cy="266.2" r="2.4" fill="#0075e1"/><circle cx="1024.8" cy="264.0" r="2.4" fill="#0075e1"/><circle cx="1037.5" cy="266.2" r="2.4" fill="#0075e1"/><circle cx="1038.9" cy="266.0" r="2.4" fill="#0075e1"/>
<circle cx="1064.7" cy="265.3" r="2.8" fill="#0075e1"/>
<text x="806.8 815.6 825.0 829.5 840.6" y="270.6" font-size="14.00" fill="#3a3a3a" font-family="Liberation Sans" stroke="#3a3a3a" stroke-width="0.30">SS.D3</text>
<linearGradient id="g32" gradientUnits="userSpaceOnUse" x1="925.0" y1="0" x2="1042.7" y2="0"><stop offset="0.0000" stop-color="#0075e1"/><stop offset="0.1274" stop-color="#0075e1"/><stop offset="0.2974" stop-color="#006fdf"/><stop offset="0.4673" stop-color="#4654cc"/><stop offset="0.5760" stop-color="#a11296"/><stop offset="0.7222" stop-color="#c80080"/><stop offset="0.8921" stop-color="#af008f"/><stop offset="1.0000" stop-color="#a11296"/></linearGradient>
<mask id="m32" maskUnits="userSpaceOnUse" x="912.6" y="282.4" width="142.5" height="30"><rect x="912.6" y="282.4" width="142.5" height="30" fill="#fff"/><path d="M931.9,292.4H934.7L933.4,297.4L934.7,302.4H931.9L933.2,297.4Z" fill="#000"/></mask>
<path d="M927.6,294.6 928.3,294.5 929.0,294.5 929.7,294.4 930.4,294.4 931.1,294.3 931.8,294.3 932.5,294.2 933.2,294.2 933.9,294.1 934.6,294.0 935.3,294.0 936.0,293.9 936.7,293.9 937.4,293.8 938.1,293.7 938.9,293.6 939.6,293.5 940.3,293.4 941.0,293.3 941.7,293.3 942.4,293.3 943.1,293.3 943.8,293.4 944.5,293.4 945.2,293.3 945.9,293.1 946.6,293.0 947.3,292.9 948.0,292.8 948.7,292.8 949.4,292.7 950.1,292.5 950.8,292.3 951.5,292.2 952.2,292.2 952.9,292.3 953.6,292.4 954.3,292.4 955.0,292.2 955.7,292.0 956.4,291.8 957.1,291.8 957.8,291.8 958.5,291.9 959.2,291.9 959.9,291.8 960.6,291.6 961.4,291.4 962.1,291.2 962.8,291.1 963.5,291.0 964.2,290.7 964.9,290.5 965.6,290.3 966.3,290.1 967.0,289.9 967.7,289.7 968.4,289.6 969.1,289.7 969.8,290.0 970.5,290.2 971.2,290.3 971.9,290.3 972.6,290.3 973.3,290.1 974.0,289.8 974.7,289.2 975.4,288.5 976.1,287.6 976.8,286.9 977.5,286.5 978.2,286.7 978.9,287.2 979.6,287.7 980.3,287.9 981.0,287.8 981.7,287.4 982.4,287.0 983.1,286.5 983.9,286.0 984.6,285.8 985.3,286.0 986.0,286.5 986.7,286.8 987.4,286.9 988.1,286.9 988.8,286.9 989.5,287.1 990.2,287.5 990.9,288.1 991.6,288.5 992.3,288.6 993.0,288.1 993.7,287.3 994.4,286.5 995.1,286.0 995.8,285.7 996.5,285.6 997.2,285.4 997.9,285.2 998.6,285.1 999.3,285.1 1000.0,285.5 1000.7,285.8 1001.4,286.2 1002.1,286.5 1002.8,287.0 1003.5,287.6 1004.2,288.1 1004.9,288.3 1005.6,288.1 1006.4,287.7 1007.1,287.3 1007.8,287.1 1008.5,287.0 1009.2,287.0 1009.9,287.1 1010.6,287.2 1011.3,287.1 1012.0,287.0 1012.7,287.2 1013.4,287.6 1014.1,288.1 1014.8,288.1 1015.5,287.8 1016.2,287.4 1016.9,287.1 1017.6,287.0 1018.3,287.1 1019.0,287.3 1019.7,287.7 1020.4,288.1 1021.1,288.4 1021.8,288.7 1022.5,288.7 1023.2,288.1 1023.9,287.4 1024.6,287.0 1025.3,286.9 1026.0,287.1 1026.7,287.1 1027.4,286.9 1028.1,286.7 1028.9,286.8 1029.6,287.1 1030.3,287.7 1031.0,288.3 1031.7,288.5 1032.4,288.2 1033.1,288.1 1033.8,288.3 1034.5,289.0 1035.2,290.0 1035.9,291.0 1036.6,291.9 1037.3,292.6 1038.0,293.2 1038.7,293.7 1039.4,294.1 1040.1,294.6 1040.1,294.6 1041.1,294.8 1041.9,295.4 1042.5,296.3 1042.7,297.4 1042.5,298.5 1041.9,299.4 1041.1,300.0 1040.1,300.2 1040.1,300.2 1039.4,300.7 1038.7,301.3 1038.0,302.1 1037.3,302.8 1036.6,303.3 1035.9,303.7 1035.2,304.2 1034.5,304.7 1033.8,305.3 1033.1,305.9 1032.4,306.3 1031.7,306.4 1031.0,306.2 1030.3,306.0 1029.6,305.9 1028.9,305.9 1028.1,305.9 1027.4,305.7 1026.7,305.6 1026.0,305.8 1025.3,306.3 1024.6,306.9 1023.9,307.4 1023.2,307.5 1022.5,307.1 1021.8,306.5 1021.1,306.0 1020.4,306.1 1019.7,306.7 1019.0,307.6 1018.3,308.4 1017.6,308.9 1016.9,309.0 1016.2,308.9 1015.5,308.5 1014.8,308.1 1014.1,307.5 1013.4,306.7 1012.7,306.0 1012.0,305.6 1011.3,305.8 1010.6,306.3 1009.9,306.7 1009.2,306.7 1008.5,306.4 1007.8,306.2 1007.1,306.2 1006.4,306.5 1005.6,306.9 1004.9,307.3 1004.2,307.7 1003.5,308.0 1002.8,308.2 1002.1,308.4 1001.4,308.7 1000.7,308.9 1000.0,309.3 999.3,309.7 998.6,310.1 997.9,310.4 997.2,310.2 996.5,309.8 995.8,309.4 995.1,309.1 994.4,309.2 993.7,309.4 993.0,309.7 992.3,310.0 991.6,310.2 990.9,310.3 990.2,310.3 989.5,310.4 988.8,310.6 988.1,310.6 987.4,310.6 986.7,310.3 986.0,310.0 985.3,309.6 984.6,309.2 983.9,308.7 983.1,308.3 982.4,307.8 981.7,307.5 981.0,307.1 980.3,306.7 979.6,306.1 978.9,305.5 978.2,305.2 977.5,305.3 976.8,305.7 976.1,306.2 975.4,306.5 974.7,306.8 974.0,307.0 973.3,306.9 972.6,306.5 971.9,305.7 971.2,304.9 970.5,304.0 969.8,303.3 969.1,302.7 968.4,302.5 967.7,302.5 967.0,302.7 966.3,302.9 965.6,303.0 964.9,302.9 964.2,302.7 963.5,302.5 962.8,302.4 962.1,302.3 961.4,302.2 960.6,302.4 959.9,302.6 959.2,303.0 958.5,303.3 957.8,303.5 957.1,303.5 956.4,303.4 955.7,303.1 955.0,302.8 954.3,302.5 953.6,302.3 952.9,302.2 952.2,302.2 951.5,302.3 950.8,302.2 950.1,302.1 949.4,301.9 948.7,301.7 948.0,301.5 947.3,301.4 946.6,301.3 945.9,301.2 945.2,301.2 944.5,301.2 943.8,301.2 943.1,301.2 942.4,301.2 941.7,301.2 941.0,301.2 940.3,301.1 939.6,301.1 938.9,301.1 938.1,301.0 937.4,301.0 936.7,300.9 936.0,300.8 935.3,300.8 934.6,300.7 933.9,300.7 933.2,300.6 932.5,300.6 931.8,300.5 931.1,300.5 930.4,300.4 929.7,300.4 929.0,300.3 928.3,300.2 927.6,300.2 927.6,300.2 926.6,300.0 925.8,299.4 925.2,298.5 925.0,297.4 925.2,296.3 925.8,295.4 926.6,294.8 927.6,294.6Z" fill="url(#g32)" mask="url(#m32)"/>
<circle cx="954.3" cy="295.4" r="2.4" fill="#0075e1"/><circle cx="958.5" cy="300.2" r="2.4" fill="#0075e1"/><circle cx="962.1" cy="295.1" r="2.4" fill="#0075e1"/><circle cx="963.5" cy="297.1" r="2.4" fill="#0075e1"/><circle cx="964.2" cy="299.0" r="2.4" fill="#0075e1"/><circle cx="966.3" cy="300.1" r="2.4" fill="#0075e1"/><circle cx="967.7" cy="297.9" r="2.4" fill="#0075e1"/><circle cx="971.2" cy="299.0" r="2.4" fill="#733fb8"/><circle cx="973.3" cy="297.3" r="2.4" fill="#0075e1"/><circle cx="974.7" cy="301.6" r="2.4" fill="#0075e1"/><circle cx="976.8" cy="298.5" r="2.4" fill="#006fdf"/><circle cx="977.5" cy="301.2" r="2.4" fill="#0075e1"/><circle cx="978.9" cy="302.3" r="2.4" fill="#0075e1"/><circle cx="979.6" cy="302.2" r="2.4" fill="#7b39b3"/><circle cx="980.3" cy="299.6" r="2.4" fill="#0064d9"/><circle cx="981.7" cy="302.9" r="2.4" fill="#b0008f"/><circle cx="982.4" cy="293.6" r="2.4" fill="#0065d9"/><circle cx="983.1" cy="294.1" r="2.4" fill="#0064d9"/><circle cx="983.9" cy="300.4" r="2.4" fill="#cd007c"/><circle cx="984.6" cy="293.6" r="2.4" fill="#0075e1"/><circle cx="985.3" cy="301.2" r="2.4" fill="#d60074"/><circle cx="986.0" cy="289.7" r="2.4" fill="#bd0088"/><circle cx="986.7" cy="293.7" r="2.4" fill="#035ed4"/><circle cx="987.4" cy="292.0" r="2.4" fill="#0066da"/><circle cx="988.1" cy="304.2" r="2.4" fill="#c30083"/><circle cx="988.1" cy="292.4" r="2.4" fill="#3159d0"/><circle cx="988.8" cy="295.7" r="2.4" fill="#6746bf"/><circle cx="989.5" cy="296.0" r="2.4" fill="#df006a"/><circle cx="990.2" cy="302.8" r="2.4" fill="#b5008c"/><circle cx="990.2" cy="298.8" r="2.4" fill="#bc0088"/><circle cx="990.9" cy="305.7" r="2.4" fill="#e20066"/><circle cx="991.6" cy="293.6" r="2.4" fill="#da0070"/><circle cx="992.3" cy="302.3" r="2.4" fill="#743eb7"/><circle cx="992.3" cy="302.7" r="2.4" fill="#5a4dc5"/><circle cx="993.0" cy="296.4" r="2.4" fill="#d90071"/><circle cx="993.7" cy="305.4" r="2.4" fill="#ee0053"/><circle cx="993.7" cy="290.9" r="2.4" fill="#bf0086"/><circle cx="994.4" cy="301.4" r="2.4" fill="#ce007b"/><circle cx="994.4" cy="296.1" r="2.4" fill="#7a3ab3"/><circle cx="995.1" cy="301.2" r="2.4" fill="#8332ac"/><circle cx="995.1" cy="305.5" r="2.4" fill="#125dd4"/><circle cx="995.8" cy="298.3" r="2.4" fill="#852fa9"/><circle cx="996.5" cy="294.6" r="2.4" fill="#d70073"/><circle cx="997.2" cy="303.2" r="2.4" fill="#8f229f"/><circle cx="997.2" cy="297.6" r="2.4" fill="#e30066"/><circle cx="997.9" cy="306.0" r="2.4" fill="#e30066"/><circle cx="997.9" cy="293.0" r="2.4" fill="#90209d"/><circle cx="998.6" cy="292.3" r="2.4" fill="#793bb4"/><circle cx="998.6" cy="304.1" r="2.4" fill="#d0007a"/><circle cx="999.3" cy="289.8" r="2.4" fill="#e50063"/><circle cx="1000.0" cy="292.2" r="2.4" fill="#e50062"/><circle cx="1000.7" cy="297.1" r="2.4" fill="#8d25a1"/><circle cx="1001.4" cy="289.7" r="2.4" fill="#6249c2"/><circle cx="1001.4" cy="291.3" r="2.4" fill="#de006c"/><circle cx="1002.1" cy="295.9" r="2.4" fill="#931d9b"/><circle cx="1002.8" cy="292.6" r="2.4" fill="#7d38b1"/><circle cx="1002.8" cy="303.8" r="2.4" fill="#6a45be"/><circle cx="1003.5" cy="305.2" r="2.4" fill="#971a9a"/><circle cx="1004.2" cy="291.4" r="2.4" fill="#e9005c"/><circle cx="1004.9" cy="290.4" r="2.4" fill="#ee0054"/><circle cx="1004.9" cy="295.8" r="2.4" fill="#ee0053"/><circle cx="1005.6" cy="300.8" r="2.4" fill="#dd006d"/><circle cx="1006.4" cy="290.0" r="2.4" fill="#df006b"/><circle cx="1007.1" cy="299.3" r="2.4" fill="#ec0057"/><circle cx="1007.8" cy="300.3" r="2.4" fill="#ef0049"/><circle cx="1008.5" cy="295.6" r="2.4" fill="#ef0048"/><circle cx="1009.2" cy="302.2" r="2.4" fill="#df006a"/><circle cx="1009.9" cy="291.0" r="2.4" fill="#ef0048"/><circle cx="1010.6" cy="295.7" r="2.4" fill="#ef0048"/><circle cx="1010.6" cy="304.8" r="2.4" fill="#ea005b"/><circle cx="1011.3" cy="293.7" r="2.4" fill="#ef0048"/><circle cx="1012.0" cy="295.7" r="2.4" fill="#ef0048"/><circle cx="1012.7" cy="290.1" r="2.4" fill="#ef004a"/><circle cx="1013.4" cy="296.5" r="2.4" fill="#e9005d"/><circle cx="1014.1" cy="290.5" r="2.4" fill="#5a4dc5"/><circle cx="1014.8" cy="290.3" r="2.4" fill="#de006c"/><circle cx="1015.5" cy="302.7" r="2.4" fill="#ef0048"/><circle cx="1016.2" cy="293.1" r="2.4" fill="#ea005c"/><circle cx="1016.9" cy="303.3" r="2.4" fill="#8e25a0"/><circle cx="1017.6" cy="294.4" r="2.4" fill="#ef0051"/><circle cx="1018.3" cy="303.6" r="2.4" fill="#de006c"/><circle cx="1019.0" cy="303.6" r="2.4" fill="#ef004e"/><circle cx="1019.7" cy="296.9" r="2.4" fill="#ef004c"/><circle cx="1020.4" cy="304.1" r="2.4" fill="#ef0048"/><circle cx="1021.1" cy="302.4" r="2.4" fill="#eb005a"/><circle cx="1021.8" cy="291.8" r="2.4" fill="#e8005f"/><circle cx="1022.5" cy="293.2" r="2.4" fill="#951c9a"/><circle cx="1023.2" cy="296.9" r="2.4" fill="#763db6"/><circle cx="1024.6" cy="295.9" r="2.4" fill="#e20067"/><circle cx="1026.0" cy="293.4" r="2.4" fill="#da0070"/><circle cx="1027.4" cy="294.3" r="2.4" fill="#ef004c"/><circle cx="1028.9" cy="302.6" r="2.4" fill="#ef0048"/><circle cx="1029.6" cy="302.6" r="2.4" fill="#ea005b"/><circle cx="1031.7" cy="293.8" r="2.4" fill="#ef004d"/><circle cx="1033.1" cy="295.9" r="2.4" fill="#7b39b2"/><circle cx="1033.8" cy="300.6" r="2.4" fill="#e60061"/><circle cx="1038.0" cy="298.5" r="2.4" fill="#8b28a3"/>
<text x="799.0 808.1 815.7 825.0 829.5 840.6" y="302.7" font-size="14.00" fill="#3a3a3a" font-family="Liberation Sans" stroke="#3a3a3a" stroke-width="0.30">SLE.D4</text>
<linearGradient id="g33" gradientUnits="userSpaceOnUse" x1="947.6" y1="0" x2="1065.0" y2="0"><stop offset="0.0000" stop-color="#ef0053"/><stop offset="0.0767" stop-color="#ef0053"/><stop offset="0.2121" stop-color="#ef0053"/><stop offset="0.3160" stop-color="#e30066"/><stop offset="0.3893" stop-color="#d20078"/><stop offset="0.4463" stop-color="#db006f"/><stop offset="0.4932" stop-color="#e30066"/><stop offset="0.5315" stop-color="#5c4cc4"/><stop offset="0.7019" stop-color="#0069dc"/><stop offset="0.8722" stop-color="#5c4cc4"/><stop offset="1.0000" stop-color="#6e43bc"/></linearGradient>
<path d="M950.2,326.7 950.9,326.2 951.6,325.8 952.3,325.3 953.0,324.8 953.7,324.3 954.4,324.1 955.1,324.1 955.8,324.1 956.5,324.1 957.2,323.9 957.9,323.6 958.6,323.1 959.3,322.7 960.0,322.6 960.7,322.7 961.4,322.7 962.1,322.5 962.8,322.1 963.5,321.4 964.2,320.7 964.9,320.0 965.6,319.6 966.3,319.7 967.0,320.1 967.7,320.5 968.4,320.6 969.1,320.5 969.8,320.1 970.5,319.6 971.2,319.2 971.9,319.2 972.6,319.5 973.3,320.2 974.0,320.9 974.7,321.1 975.4,320.9 976.1,320.4 976.8,320.0 977.5,320.1 978.2,320.5 979.0,321.0 979.7,321.4 980.4,321.7 981.1,322.1 981.8,322.7 982.5,323.3 983.2,323.5 983.9,323.3 984.6,322.8 985.3,322.2 986.0,321.6 986.7,321.0 987.4,320.5 988.1,320.0 988.8,319.6 989.5,319.2 990.2,318.4 990.9,317.3 991.6,316.0 992.3,314.9 993.0,314.3 993.7,314.3 994.4,314.9 995.1,315.8 995.8,316.7 996.5,317.4 997.2,317.8 997.9,317.8 998.6,317.6 999.3,317.4 1000.0,317.7 1000.7,318.3 1001.4,319.1 1002.1,319.8 1002.8,320.1 1003.5,320.2 1004.2,320.3 1004.9,320.6 1005.6,321.2 1006.3,321.9 1007.0,322.7 1007.7,323.5 1008.4,324.2 1009.1,324.8 1009.8,325.2 1010.5,325.4 1011.2,325.4 1011.9,325.4 1012.6,325.3 1013.3,325.1 1014.0,325.1 1014.7,325.1 1015.4,325.2 1016.1,325.3 1016.8,325.4 1017.5,325.4 1018.2,325.5 1018.9,325.5 1019.6,325.6 1020.3,325.6 1021.0,325.6 1021.7,325.7 1022.4,325.7 1023.1,325.7 1023.8,325.7 1024.5,325.6 1025.2,325.5 1025.9,325.4 1026.6,325.4 1027.3,325.4 1028.0,325.5 1028.7,325.5 1029.4,325.6 1030.1,325.6 1030.8,325.6 1031.5,325.6 1032.2,325.6 1032.9,325.5 1033.6,325.5 1034.4,325.5 1035.1,325.6 1035.8,325.7 1036.5,325.7 1037.2,325.7 1037.9,325.6 1038.6,325.6 1039.3,325.5 1040.0,325.5 1040.7,325.5 1041.4,325.5 1042.1,325.6 1042.8,325.6 1043.5,325.6 1044.2,325.6 1044.9,325.7 1045.6,325.7 1046.3,325.7 1047.0,325.7 1047.7,325.6 1048.4,325.5 1049.1,325.4 1049.8,325.4 1050.5,325.4 1051.2,325.4 1051.9,325.4 1052.6,325.4 1053.3,325.4 1054.0,325.4 1054.7,325.5 1055.4,325.6 1056.1,325.7 1056.8,325.8 1057.5,325.9 1058.2,326.0 1058.9,326.0 1059.6,326.1 1060.3,326.2 1061.0,326.2 1061.7,326.3 1062.4,326.4 1062.4,326.4 1063.4,326.6 1064.2,327.3 1064.8,328.3 1065.0,329.5 1064.8,330.6 1064.2,331.6 1063.4,332.3 1062.4,332.5 1062.4,332.5 1061.7,332.6 1061.0,332.7 1060.3,332.8 1059.6,332.8 1058.9,332.9 1058.2,333.0 1057.5,333.0 1056.8,333.1 1056.1,333.2 1055.4,333.2 1054.7,333.3 1054.0,333.4 1053.3,333.4 1052.6,333.4 1051.9,333.5 1051.2,333.5 1050.5,333.5 1049.8,333.5 1049.1,333.5 1048.4,333.4 1047.7,333.3 1047.0,333.2 1046.3,333.1 1045.6,333.1 1044.9,333.1 1044.2,333.2 1043.5,333.2 1042.8,333.3 1042.1,333.3 1041.4,333.3 1040.7,333.3 1040.0,333.3 1039.3,333.3 1038.6,333.3 1037.9,333.3 1037.2,333.3 1036.5,333.3 1035.8,333.2 1035.1,333.2 1034.4,333.2 1033.6,333.2 1032.9,333.3 1032.2,333.3 1031.5,333.3 1030.8,333.4 1030.1,333.5 1029.4,333.6 1028.7,333.7 1028.0,333.8 1027.3,333.8 1026.6,333.7 1025.9,333.6 1025.2,333.5 1024.5,333.3 1023.8,333.2 1023.1,333.2 1022.4,333.2 1021.7,333.2 1021.0,333.2 1020.3,333.2 1019.6,333.4 1018.9,333.5 1018.2,333.6 1017.5,333.7 1016.8,333.9 1016.1,334.0 1015.4,334.2 1014.7,334.3 1014.0,334.4 1013.3,334.3 1012.6,334.3 1011.9,334.2 1011.2,334.2 1010.5,334.2 1009.8,334.3 1009.1,334.7 1008.4,335.3 1007.7,336.1 1007.0,336.9 1006.3,337.3 1005.6,337.1 1004.9,336.9 1004.2,337.0 1003.5,337.5 1002.8,338.0 1002.1,338.3 1001.4,338.2 1000.7,338.0 1000.0,338.0 999.3,338.4 998.6,339.3 997.9,340.3 997.2,341.3 996.5,341.8 995.8,342.0 995.1,341.8 994.4,341.4 993.7,341.0 993.0,340.6 992.3,340.4 991.6,340.5 990.9,340.6 990.2,340.5 989.5,340.1 988.8,339.2 988.1,338.0 987.4,336.8 986.7,335.7 986.0,334.9 985.3,334.7 984.6,334.8 983.9,335.3 983.2,336.0 982.5,336.9 981.8,337.6 981.1,338.0 980.4,338.1 979.7,338.0 979.0,337.8 978.2,337.8 977.5,338.0 976.8,338.7 976.1,339.6 975.4,340.5 974.7,341.2 974.0,341.4 973.3,341.3 972.6,340.9 971.9,340.3 971.2,339.8 970.5,339.5 969.8,339.3 969.1,339.0 968.4,338.8 967.7,338.5 967.0,338.3 966.3,338.0 965.6,337.8 964.9,337.6 964.2,337.4 963.5,337.3 962.8,337.4 962.1,337.5 961.4,337.5 960.7,337.0 960.0,336.3 959.3,335.7 958.6,335.4 957.9,335.4 957.2,335.3 956.5,335.1 955.8,334.7 955.1,334.4 954.4,334.3 953.7,334.3 953.0,334.1 952.3,333.7 951.6,333.2 950.9,332.7 950.2,332.3 950.2,332.3 949.2,332.0 948.4,331.4 947.8,330.5 947.6,329.5 947.8,328.4 948.4,327.5 949.2,326.9 950.2,326.7Z" fill="url(#g33)"/>
<circle cx="953.7" cy="331.3" r="2.4" fill="#ef0048"/><circle cx="955.8" cy="329.0" r="2.4" fill="#ef0048"/><circle cx="957.2" cy="331.9" r="2.4" fill="#ef0048"/><circle cx="967.7" cy="330.9" r="2.4" fill="#ef0048"/><circle cx="969.8" cy="329.1" r="2.4" fill="#ef0048"/><circle cx="971.2" cy="333.9" r="2.4" fill="#ef0048"/><circle cx="971.9" cy="333.7" r="2.4" fill="#ef0048"/><circle cx="972.6" cy="328.0" r="2.4" fill="#ef0048"/><circle cx="974.7" cy="332.8" r="2.4" fill="#ef0048"/><circle cx="975.4" cy="333.5" r="2.4" fill="#ef0048"/><circle cx="977.5" cy="334.2" r="2.4" fill="#ef0048"/><circle cx="979.0" cy="329.1" r="2.4" fill="#ef0048"/><circle cx="979.7" cy="329.9" r="2.4" fill="#ef0048"/><circle cx="981.1" cy="331.7" r="2.4" fill="#ef0048"/><circle cx="982.5" cy="329.1" r="2.4" fill="#ef0048"/><circle cx="983.2" cy="334.0" r="2.4" fill="#ef0048"/><circle cx="985.3" cy="332.6" r="2.4" fill="#ef004f"/><circle cx="986.0" cy="330.6" r="2.4" fill="#ef0048"/><circle cx="986.7" cy="332.8" r="2.4" fill="#8e24a0"/><circle cx="987.4" cy="328.5" r="2.4" fill="#ef0048"/><circle cx="988.1" cy="330.6" r="2.4" fill="#ef0050"/><circle cx="988.8" cy="336.7" r="2.4" fill="#ef0048"/><circle cx="989.5" cy="331.8" r="2.4" fill="#981a99"/><circle cx="990.2" cy="329.0" r="2.4" fill="#8233ad"/><circle cx="990.9" cy="337.7" r="2.4" fill="#ef0048"/><circle cx="991.6" cy="334.6" r="2.4" fill="#eb005a"/><circle cx="992.3" cy="324.2" r="2.4" fill="#a01396"/><circle cx="993.0" cy="328.3" r="2.4" fill="#a01396"/><circle cx="993.7" cy="323.7" r="2.4" fill="#e8005f"/><circle cx="994.4" cy="324.8" r="2.4" fill="#e9005c"/><circle cx="995.1" cy="339.0" r="2.4" fill="#e8005e"/><circle cx="995.8" cy="334.5" r="2.4" fill="#ef0048"/><circle cx="996.5" cy="322.9" r="2.4" fill="#e9005c"/><circle cx="997.2" cy="330.4" r="2.4" fill="#be0087"/><circle cx="997.9" cy="323.0" r="2.4" fill="#ef0048"/><circle cx="999.3" cy="330.7" r="2.4" fill="#ef0050"/><circle cx="1000.0" cy="326.1" r="2.4" fill="#ef004f"/><circle cx="1000.7" cy="330.6" r="2.4" fill="#ef0048"/><circle cx="1001.4" cy="323.5" r="2.4" fill="#ef0048"/><circle cx="1002.1" cy="328.3" r="2.4" fill="#9e1597"/><circle cx="1003.5" cy="330.0" r="2.4" fill="#ef0048"/><circle cx="1004.9" cy="334.8" r="2.4" fill="#ef0048"/><circle cx="1005.6" cy="334.0" r="2.4" fill="#961b9a"/><circle cx="1006.3" cy="330.9" r="2.4" fill="#ef004d"/><circle cx="1007.0" cy="327.7" r="2.4" fill="#ec0057"/><circle cx="1007.7" cy="327.6" r="2.4" fill="#7a3ab3"/><circle cx="1011.9" cy="328.1" r="2.4" fill="#0075e1"/><circle cx="1014.0" cy="328.4" r="2.4" fill="#0065da"/><circle cx="1015.4" cy="330.5" r="2.4" fill="#911f9c"/><circle cx="1018.2" cy="330.2" r="2.4" fill="#0075e1"/><circle cx="1018.9" cy="330.5" r="2.4" fill="#0072e0"/><circle cx="1022.4" cy="327.9" r="2.4" fill="#006ede"/><circle cx="1023.8" cy="330.3" r="2.4" fill="#8c28a3"/><circle cx="1024.5" cy="331.1" r="2.4" fill="#0075e1"/><circle cx="1028.0" cy="328.8" r="2.4" fill="#0075e1"/><circle cx="1028.7" cy="330.7" r="2.4" fill="#0075e1"/><circle cx="1030.1" cy="330.0" r="2.4" fill="#0075e1"/><circle cx="1031.5" cy="330.8" r="2.4" fill="#0075e1"/><circle cx="1032.2" cy="329.8" r="2.4" fill="#0075e1"/><circle cx="1033.6" cy="329.9" r="2.4" fill="#0075e1"/><circle cx="1035.8" cy="329.7" r="2.4" fill="#6548c0"/><circle cx="1038.6" cy="330.5" r="2.4" fill="#0075e1"/><circle cx="1044.9" cy="327.9" r="2.4" fill="#0074e1"/><circle cx="1047.0" cy="328.5" r="2.4" fill="#0061d7"/><circle cx="1047.7" cy="328.1" r="2.4" fill="#0070e0"/><circle cx="1048.4" cy="330.0" r="2.4" fill="#0075e1"/><circle cx="1055.4" cy="329.7" r="2.4" fill="#a11296"/><circle cx="1056.1" cy="328.5" r="2.4" fill="#0066da"/>
<circle cx="1071.4" cy="329.5" r="2.8" fill="#7c38b2"/>
<circle cx="1076.9" cy="329.5" r="2.8" fill="#006fdf"/>
<text x="811.5 820.8 825.0 829.5 840.6" y="334.8" font-size="14.00" fill="#3a3a3a" font-family="Liberation Sans" stroke="#3a3a3a" stroke-width="0.30">EI.D2</text>
<linearGradient id="g34" gradientUnits="userSpaceOnUse" x1="951.9" y1="0" x2="1036.5" y2="0"><stop offset="0.0000" stop-color="#ef0053"/><stop offset="0.1194" stop-color="#ef0053"/><stop offset="0.2825" stop-color="#e9005c"/><stop offset="0.4267" stop-color="#c80080"/><stop offset="0.5662" stop-color="#5c4cc4"/><stop offset="0.7459" stop-color="#911e9b"/><stop offset="0.8641" stop-color="#c80080"/><stop offset="1.0000" stop-color="#c80080"/></linearGradient>
<path d="M954.5,358.7 955.2,358.1 955.9,357.3 956.6,356.4 957.3,355.6 958.0,355.0 958.7,354.6 959.4,354.1 960.1,353.6 960.8,353.4 961.5,353.5 962.2,353.6 962.9,353.5 963.6,353.0 964.3,352.2 965.0,351.6 965.7,351.2 966.4,350.9 967.1,350.7 967.9,350.3 968.6,349.9 969.3,349.4 970.0,348.9 970.7,348.4 971.4,348.0 972.1,347.8 972.8,347.7 973.5,347.9 974.2,348.4 974.9,349.1 975.6,349.8 976.3,350.2 977.0,350.3 977.7,350.1 978.4,349.9 979.1,349.8 979.8,349.7 980.5,349.7 981.2,349.6 981.9,349.5 982.6,349.6 983.3,349.8 984.0,349.9 984.7,350.1 985.4,350.4 986.1,350.9 986.8,351.6 987.5,352.5 988.2,353.4 988.9,354.2 989.6,354.3 990.3,353.9 991.0,353.2 991.7,352.7 992.4,352.5 993.1,352.4 993.8,352.2 994.6,352.0 995.3,351.8 996.0,351.8 996.7,351.7 997.4,351.4 998.1,350.9 998.8,350.0 999.5,349.1 1000.2,348.3 1000.9,347.6 1001.6,347.1 1002.3,346.8 1003.0,346.7 1003.7,346.6 1004.4,346.5 1005.1,346.7 1005.8,347.2 1006.5,348.3 1007.2,349.8 1007.9,351.3 1008.6,352.3 1009.3,352.5 1010.0,352.3 1010.7,352.1 1011.4,352.2 1012.1,352.5 1012.8,353.0 1013.5,353.4 1014.2,353.7 1014.9,353.8 1015.6,353.5 1016.3,353.2 1017.0,352.9 1017.7,352.8 1018.4,352.9 1019.1,353.2 1019.8,353.7 1020.5,354.2 1021.3,354.7 1022.0,355.2 1022.7,355.4 1023.4,355.6 1024.1,355.7 1024.8,355.8 1025.5,356.0 1026.2,356.4 1026.9,356.7 1027.6,357.0 1028.3,357.2 1029.0,357.4 1029.7,357.5 1030.4,357.8 1031.1,358.0 1031.8,358.2 1032.5,358.4 1033.2,358.5 1033.9,358.7 1033.9,358.7 1034.9,358.9 1035.7,359.6 1036.3,360.5 1036.5,361.5 1036.3,362.6 1035.7,363.5 1034.9,364.1 1033.9,364.3 1033.9,364.3 1033.2,364.5 1032.5,364.7 1031.8,364.9 1031.1,365.1 1030.4,365.3 1029.7,365.5 1029.0,365.6 1028.3,365.7 1027.6,365.9 1026.9,366.1 1026.2,366.3 1025.5,366.6 1024.8,367.1 1024.1,367.6 1023.4,368.2 1022.7,368.7 1022.0,368.7 1021.3,368.6 1020.5,368.5 1019.8,368.8 1019.1,369.5 1018.4,370.2 1017.7,370.9 1017.0,371.5 1016.3,371.8 1015.6,371.9 1014.9,371.5 1014.2,370.9 1013.5,370.3 1012.8,370.0 1012.1,370.2 1011.4,370.9 1010.7,371.8 1010.0,372.4 1009.3,372.5 1008.6,372.3 1007.9,372.2 1007.2,372.2 1006.5,372.2 1005.8,372.2 1005.1,372.2 1004.4,372.2 1003.7,372.2 1003.0,372.1 1002.3,372.2 1001.6,372.6 1000.9,373.3 1000.2,373.8 999.5,374.0 998.8,373.9 998.1,373.5 997.4,373.1 996.7,372.8 996.0,372.4 995.3,372.2 994.6,372.1 993.8,372.1 993.1,372.0 992.4,371.9 991.7,371.7 991.0,371.6 990.3,371.4 989.6,371.0 988.9,370.4 988.2,369.9 987.5,369.8 986.8,369.8 986.1,369.9 985.4,369.8 984.7,369.8 984.0,370.1 983.3,370.9 982.6,371.9 981.9,372.6 981.2,372.7 980.5,372.3 979.8,371.6 979.1,371.2 978.4,371.0 977.7,371.2 977.0,371.7 976.3,372.5 975.6,373.2 974.9,373.6 974.2,373.5 973.5,373.0 972.8,372.5 972.1,372.2 971.4,372.2 970.7,372.6 970.0,373.3 969.3,373.9 968.6,374.0 967.9,373.5 967.1,372.8 966.4,372.2 965.7,371.5 965.0,370.7 964.3,369.8 963.6,369.2 962.9,368.9 962.2,369.1 961.5,369.6 960.8,370.0 960.1,370.0 959.4,369.5 958.7,368.8 958.0,368.1 957.3,367.3 956.6,366.4 955.9,365.6 955.2,364.9 954.5,364.3 954.5,364.3 953.5,364.1 952.7,363.5 952.1,362.6 951.9,361.5 952.1,360.5 952.7,359.6 953.5,358.9 954.5,358.7Z" fill="url(#g34)"/>
<circle cx="955.9" cy="361.0" r="2.4" fill="#ef0048"/><circle cx="965.7" cy="359.6" r="2.4" fill="#ef0048"/><circle cx="966.4" cy="366.5" r="2.4" fill="#ce007b"/><circle cx="969.3" cy="352.6" r="2.4" fill="#ef0048"/><circle cx="976.3" cy="370.2" r="2.4" fill="#ef0048"/><circle cx="977.7" cy="370.6" r="2.4" fill="#ef004b"/><circle cx="978.4" cy="369.0" r="2.4" fill="#ef0048"/><circle cx="979.1" cy="352.7" r="2.4" fill="#bf0087"/><circle cx="979.8" cy="361.3" r="2.4" fill="#ef0048"/><circle cx="980.5" cy="356.0" r="2.4" fill="#ef0048"/><circle cx="981.2" cy="368.2" r="2.4" fill="#ef0048"/><circle cx="982.6" cy="359.2" r="2.4" fill="#ef0048"/><circle cx="983.3" cy="364.4" r="2.4" fill="#ef0048"/><circle cx="985.4" cy="361.1" r="2.4" fill="#ea005b"/><circle cx="986.1" cy="358.1" r="2.4" fill="#ef0048"/><circle cx="988.9" cy="362.9" r="2.4" fill="#eb005a"/><circle cx="989.6" cy="359.3" r="2.4" fill="#e9005d"/><circle cx="990.3" cy="362.1" r="2.4" fill="#3758cf"/><circle cx="991.0" cy="367.9" r="2.4" fill="#e70060"/><circle cx="991.7" cy="360.9" r="2.4" fill="#d10079"/><circle cx="993.1" cy="366.2" r="2.4" fill="#ce007c"/><circle cx="993.8" cy="368.6" r="2.4" fill="#d70074"/><circle cx="994.6" cy="364.2" r="2.4" fill="#3259d0"/><circle cx="995.3" cy="353.2" r="2.4" fill="#6f42bb"/><circle cx="995.3" cy="361.9" r="2.4" fill="#d70073"/><circle cx="996.0" cy="353.3" r="2.4" fill="#b7008b"/><circle cx="996.7" cy="365.4" r="2.4" fill="#0073e1"/><circle cx="997.4" cy="352.6" r="2.4" fill="#005fd5"/><circle cx="998.1" cy="355.0" r="2.4" fill="#095ed4"/><circle cx="998.8" cy="370.7" r="2.4" fill="#006bdd"/><circle cx="999.5" cy="367.0" r="2.4" fill="#0065da"/><circle cx="999.5" cy="364.7" r="2.4" fill="#a40f95"/><circle cx="1000.2" cy="362.7" r="2.4" fill="#0069dc"/><circle cx="1000.2" cy="355.7" r="2.4" fill="#0075e1"/><circle cx="1000.9" cy="352.5" r="2.4" fill="#8f239f"/><circle cx="1001.6" cy="365.4" r="2.4" fill="#bf0087"/><circle cx="1002.3" cy="367.9" r="2.4" fill="#0075e1"/><circle cx="1003.0" cy="370.1" r="2.4" fill="#a40f95"/><circle cx="1003.0" cy="357.6" r="2.4" fill="#0074e1"/><circle cx="1003.7" cy="362.3" r="2.4" fill="#b6008c"/><circle cx="1003.7" cy="352.7" r="2.4" fill="#0075e1"/><circle cx="1004.4" cy="360.8" r="2.4" fill="#0063d8"/><circle cx="1004.4" cy="369.7" r="2.4" fill="#b1008e"/><circle cx="1005.1" cy="366.1" r="2.4" fill="#931c9b"/><circle cx="1005.8" cy="354.7" r="2.4" fill="#5150c9"/><circle cx="1006.5" cy="367.1" r="2.4" fill="#0073e0"/><circle cx="1007.2" cy="364.5" r="2.4" fill="#991999"/><circle cx="1007.9" cy="354.8" r="2.4" fill="#006adc"/><circle cx="1007.9" cy="369.0" r="2.4" fill="#b3008d"/><circle cx="1008.6" cy="366.2" r="2.4" fill="#6149c2"/><circle cx="1009.3" cy="360.2" r="2.4" fill="#4c52ca"/><circle cx="1010.0" cy="365.3" r="2.4" fill="#0066da"/><circle cx="1010.7" cy="367.5" r="2.4" fill="#d90071"/><circle cx="1010.7" cy="362.5" r="2.4" fill="#534fc8"/><circle cx="1011.4" cy="365.1" r="2.4" fill="#e00069"/><circle cx="1012.1" cy="366.3" r="2.4" fill="#c20085"/><circle cx="1012.8" cy="355.5" r="2.4" fill="#b4008d"/><circle cx="1013.5" cy="361.3" r="2.4" fill="#e40065"/><circle cx="1014.2" cy="361.7" r="2.4" fill="#cb007e"/><circle cx="1015.6" cy="361.6" r="2.4" fill="#5a4dc5"/><circle cx="1017.0" cy="363.7" r="2.4" fill="#cc007d"/><circle cx="1017.7" cy="365.3" r="2.4" fill="#3159d0"/><circle cx="1018.4" cy="357.9" r="2.4" fill="#ed0055"/><circle cx="1019.8" cy="365.7" r="2.4" fill="#6448c1"/><circle cx="1020.5" cy="363.3" r="2.4" fill="#951c9a"/><circle cx="1021.3" cy="357.8" r="2.4" fill="#ec0057"/><circle cx="1022.7" cy="359.1" r="2.4" fill="#de006b"/><circle cx="1024.1" cy="364.1" r="2.4" fill="#e30066"/><circle cx="1026.2" cy="361.0" r="2.4" fill="#ef0048"/><circle cx="1026.9" cy="362.2" r="2.4" fill="#ec0057"/><circle cx="1027.6" cy="361.7" r="2.4" fill="#e60062"/><circle cx="1029.0" cy="363.1" r="2.4" fill="#dd006d"/><circle cx="1029.7" cy="362.6" r="2.4" fill="#971a99"/>
<text x="806.8 815.6 825.0 829.5 840.6" y="366.8" font-size="14.00" fill="#3a3a3a" font-family="Liberation Sans" stroke="#3a3a3a" stroke-width="0.30">SS.D2</text>
<linearGradient id="g35" gradientUnits="userSpaceOnUse" x1="956.9" y1="0" x2="1038.8" y2="0"><stop offset="0.0000" stop-color="#911e9b"/><stop offset="0.0623" stop-color="#7c38b2"/><stop offset="0.1355" stop-color="#5c4cc4"/><stop offset="0.2210" stop-color="#4654cc"/><stop offset="0.2821" stop-color="#225bd3"/><stop offset="0.3309" stop-color="#6e43bc"/><stop offset="0.4042" stop-color="#af008f"/><stop offset="0.5263" stop-color="#e30066"/><stop offset="0.5873" stop-color="#af008f"/><stop offset="0.6728" stop-color="#0069dc"/><stop offset="0.8315" stop-color="#0073e1"/><stop offset="1.0000" stop-color="#0075e1"/></linearGradient>
<path d="M959.5,390.8 960.2,390.5 960.9,390.3 961.6,390.0 962.3,389.7 963.0,389.6 963.7,389.5 964.4,389.4 965.1,389.2 965.8,389.0 966.5,388.6 967.2,388.3 967.9,387.9 968.6,387.5 969.3,387.3 970.0,387.1 970.7,387.1 971.4,387.0 972.1,386.7 972.8,386.3 973.5,386.0 974.2,386.0 974.9,386.0 975.6,385.6 976.3,384.7 977.1,383.5 977.8,382.2 978.5,381.0 979.2,379.8 979.9,379.1 980.6,379.4 981.3,380.7 982.0,382.8 982.7,385.0 983.4,386.8 984.1,387.8 984.8,388.2 985.5,388.1 986.2,387.9 986.9,387.5 987.6,387.3 988.3,387.3 989.0,387.5 989.7,387.7 990.4,387.9 991.1,387.9 991.8,387.7 992.5,387.5 993.2,387.2 994.0,386.9 994.7,386.6 995.4,386.5 996.1,386.6 996.8,386.9 997.5,387.3 998.2,387.4 998.9,387.2 999.6,386.6 1000.3,385.8 1001.0,385.0 1001.7,384.5 1002.4,384.3 1003.1,384.6 1003.8,385.2 1004.5,385.7 1005.2,386.0 1005.9,386.2 1006.6,386.6 1007.3,387.0 1008.0,387.4 1008.7,387.6 1009.4,387.5 1010.1,387.5 1010.9,387.5 1011.6,387.7 1012.3,388.0 1013.0,388.3 1013.7,388.5 1014.4,388.5 1015.1,388.5 1015.8,388.4 1016.5,388.3 1017.2,388.3 1017.9,388.4 1018.6,388.5 1019.3,388.6 1020.0,388.7 1020.7,388.7 1021.4,388.6 1022.1,388.5 1022.8,388.5 1023.5,388.5 1024.2,388.7 1024.9,388.9 1025.6,389.0 1026.3,389.0 1027.0,388.9 1027.8,388.8 1028.5,388.8 1029.2,388.9 1029.9,389.2 1030.6,389.5 1031.3,389.8 1032.0,390.0 1032.7,390.1 1033.4,390.2 1034.1,390.4 1034.8,390.5 1035.5,390.6 1036.2,390.8 1036.2,390.8 1037.2,391.0 1038.0,391.6 1038.6,392.5 1038.8,393.6 1038.6,394.7 1038.0,395.6 1037.2,396.2 1036.2,396.4 1036.2,396.4 1035.5,396.6 1034.8,396.7 1034.1,396.8 1033.4,397.0 1032.7,397.1 1032.0,397.3 1031.3,397.5 1030.6,397.7 1029.9,397.8 1029.2,397.9 1028.5,398.0 1027.8,398.0 1027.0,398.0 1026.3,398.1 1025.6,398.1 1024.9,398.2 1024.2,398.2 1023.5,398.3 1022.8,398.4 1022.1,398.6 1021.4,398.8 1020.7,399.0 1020.0,399.0 1019.3,398.9 1018.6,398.6 1017.9,398.3 1017.2,398.0 1016.5,397.8 1015.8,397.8 1015.1,397.8 1014.4,397.9 1013.7,398.0 1013.0,398.2 1012.3,398.6 1011.6,399.2 1010.9,399.9 1010.1,400.4 1009.4,400.6 1008.7,400.6 1008.0,400.4 1007.3,400.2 1006.6,400.0 1005.9,399.9 1005.2,400.0 1004.5,400.3 1003.8,400.8 1003.1,401.5 1002.4,402.2 1001.7,402.8 1001.0,403.1 1000.3,403.0 999.6,402.5 998.9,402.0 998.2,401.5 997.5,401.1 996.8,400.7 996.1,400.4 995.4,400.0 994.7,399.6 994.0,399.5 993.2,399.7 992.5,400.0 991.8,400.2 991.1,400.1 990.4,400.1 989.7,400.3 989.0,400.7 988.3,401.3 987.6,401.9 986.9,402.3 986.2,402.5 985.5,402.2 984.8,401.8 984.1,401.4 983.4,401.7 982.7,403.0 982.0,404.7 981.3,406.3 980.6,407.2 979.9,407.1 979.2,406.0 978.5,404.7 977.8,403.2 977.1,401.9 976.3,401.0 975.6,400.4 974.9,400.3 974.2,400.7 973.5,401.3 972.8,401.8 972.1,401.8 971.4,401.4 970.7,400.6 970.0,399.7 969.3,399.0 968.6,398.7 967.9,398.7 967.2,399.0 966.5,399.2 965.8,399.2 965.1,398.9 964.4,398.4 963.7,398.0 963.0,397.6 962.3,397.3 961.6,397.2 960.9,396.9 960.2,396.7 959.5,396.4 959.5,396.4 958.5,396.2 957.6,395.6 957.1,394.7 956.9,393.6 957.1,392.5 957.6,391.6 958.5,391.0 959.5,390.8Z" fill="url(#g35)"/>
<circle cx="960.9" cy="393.7" r="2.4" fill="#006dde"/><circle cx="963.7" cy="395.5" r="2.4" fill="#006cde"/><circle cx="965.1" cy="393.3" r="2.4" fill="#ac0291"/><circle cx="967.2" cy="392.5" r="2.4" fill="#9f1497"/><circle cx="967.9" cy="393.5" r="2.4" fill="#006cde"/><circle cx="969.3" cy="393.6" r="2.4" fill="#0075e1"/><circle cx="970.7" cy="395.7" r="2.4" fill="#0065da"/><circle cx="971.4" cy="390.5" r="2.4" fill="#0075e1"/><circle cx="972.1" cy="391.1" r="2.4" fill="#b0008f"/><circle cx="972.8" cy="390.2" r="2.4" fill="#0075e1"/><circle cx="974.9" cy="398.5" r="2.4" fill="#0069dc"/><circle cx="975.6" cy="394.1" r="2.4" fill="#0069dc"/><circle cx="976.3" cy="397.4" r="2.4" fill="#0075e1"/><circle cx="977.1" cy="399.5" r="2.4" fill="#006dde"/><circle cx="977.8" cy="396.5" r="2.4" fill="#0075e1"/><circle cx="978.5" cy="397.0" r="2.4" fill="#7e37b0"/><circle cx="978.5" cy="385.0" r="2.4" fill="#006cde"/><circle cx="979.2" cy="391.7" r="2.4" fill="#0074e1"/><circle cx="979.9" cy="385.6" r="2.4" fill="#882ca7"/><circle cx="980.6" cy="400.7" r="2.4" fill="#753db7"/><circle cx="981.3" cy="392.4" r="2.4" fill="#0075e1"/><circle cx="982.0" cy="391.7" r="2.4" fill="#0074e1"/><circle cx="982.7" cy="391.6" r="2.4" fill="#9d1697"/><circle cx="983.4" cy="391.2" r="2.4" fill="#0075e1"/><circle cx="984.1" cy="388.9" r="2.4" fill="#aa0692"/><circle cx="984.8" cy="398.3" r="2.4" fill="#245bd2"/><circle cx="985.5" cy="394.1" r="2.4" fill="#4355cd"/><circle cx="986.9" cy="398.2" r="2.4" fill="#6448c1"/><circle cx="989.0" cy="393.8" r="2.4" fill="#6249c2"/><circle cx="991.1" cy="396.1" r="2.4" fill="#ef0049"/><circle cx="991.8" cy="394.2" r="2.4" fill="#ef0052"/><circle cx="995.4" cy="390.9" r="2.4" fill="#ef0048"/><circle cx="996.1" cy="390.7" r="2.4" fill="#ee0053"/><circle cx="996.8" cy="396.7" r="2.4" fill="#ef0048"/><circle cx="997.5" cy="392.0" r="2.4" fill="#ef0048"/><circle cx="998.2" cy="394.7" r="2.4" fill="#ef0048"/><circle cx="998.9" cy="395.7" r="2.4" fill="#ef0048"/><circle cx="999.6" cy="393.7" r="2.4" fill="#ef0048"/><circle cx="1000.3" cy="388.9" r="2.4" fill="#862fa9"/><circle cx="1001.7" cy="390.7" r="2.4" fill="#e60061"/><circle cx="1002.4" cy="391.6" r="2.4" fill="#ef0048"/><circle cx="1004.5" cy="390.3" r="2.4" fill="#5f4bc3"/><circle cx="1005.9" cy="395.9" r="2.4" fill="#e30066"/><circle cx="1014.4" cy="394.9" r="2.4" fill="#872da7"/><circle cx="1015.1" cy="391.6" r="2.4" fill="#0075e1"/>
<text x="806.8 815.6 825.0 829.5 840.6" y="398.9" font-size="14.00" fill="#3a3a3a" font-family="Liberation Sans" stroke="#3a3a3a" stroke-width="0.30">SS.D1</text>
<linearGradient id="g36" gradientUnits="userSpaceOnUse" x1="956.0" y1="0" x2="1056.3" y2="0"><stop offset="0.0000" stop-color="#0069dc"/><stop offset="0.0598" stop-color="#af008f"/><stop offset="0.1097" stop-color="#5c4cc4"/><stop offset="0.1894" stop-color="#225bd3"/><stop offset="0.2991" stop-color="#0063d8"/><stop offset="0.3689" stop-color="#006fdf"/><stop offset="0.4088" stop-color="#0069dc"/><stop offset="0.4586" stop-color="#7c38b2"/><stop offset="0.5384" stop-color="#e30066"/><stop offset="0.8375" stop-color="#ef0053"/><stop offset="1.0000" stop-color="#ef0048"/></linearGradient>
<mask id="m36" maskUnits="userSpaceOnUse" x="943.6" y="410.7" width="125.1" height="30"><rect x="943.6" y="410.7" width="125.1" height="30" fill="#fff"/><path d="M960.3,420.7H963.9L962.6,425.7L963.9,430.7H960.3L961.6,425.7Z" fill="#000"/></mask>
<path d="M958.6,422.9 959.3,422.8 960.0,422.7 960.7,422.6 961.4,422.5 962.1,422.4 962.8,422.2 963.5,421.8 964.2,421.4 964.9,421.2 965.6,421.0 966.3,420.8 967.1,420.7 967.8,420.5 968.5,420.3 969.2,420.1 969.9,419.9 970.6,419.8 971.3,420.0 972.0,420.2 972.7,420.4 973.4,420.2 974.1,419.8 974.8,419.3 975.5,418.8 976.2,418.4 976.9,418.0 977.6,417.6 978.3,417.2 979.0,416.9 979.7,416.8 980.4,416.9 981.1,416.9 981.8,416.8 982.6,416.7 983.3,416.6 984.0,416.9 984.7,417.3 985.4,417.8 986.1,418.1 986.8,418.1 987.5,418.0 988.2,417.6 988.9,417.2 989.6,416.7 990.3,416.1 991.0,415.2 991.7,414.1 992.4,413.0 993.1,412.3 993.8,412.3 994.5,413.0 995.2,414.2 995.9,415.4 996.6,416.4 997.3,417.0 998.0,417.6 998.8,418.1 999.5,418.7 1000.2,419.3 1000.9,419.7 1001.6,419.9 1002.3,419.9 1003.0,419.8 1003.7,419.5 1004.4,419.3 1005.1,419.3 1005.8,419.5 1006.5,419.8 1007.2,420.0 1007.9,420.2 1008.6,420.3 1009.3,420.4 1010.0,420.5 1010.7,420.7 1011.4,420.8 1012.1,421.0 1012.8,421.1 1013.5,421.2 1014.3,421.1 1015.0,420.9 1015.7,420.6 1016.4,420.3 1017.1,420.2 1017.8,420.2 1018.5,420.3 1019.2,420.5 1019.9,420.5 1020.6,420.4 1021.3,420.1 1022.0,419.9 1022.7,419.8 1023.4,419.8 1024.1,419.8 1024.8,419.9 1025.5,420.1 1026.2,420.3 1026.9,420.6 1027.6,420.9 1028.3,421.0 1029.0,421.1 1029.7,421.1 1030.5,421.0 1031.2,421.0 1031.9,421.0 1032.6,421.2 1033.3,421.3 1034.0,421.5 1034.7,421.5 1035.4,421.6 1036.1,421.6 1036.8,421.5 1037.5,421.5 1038.2,421.4 1038.9,421.4 1039.6,421.4 1040.3,421.4 1041.0,421.5 1041.7,421.5 1042.4,421.6 1043.1,421.7 1043.8,421.7 1044.5,421.7 1045.2,421.8 1046.0,421.9 1046.7,422.0 1047.4,422.1 1048.1,422.2 1048.8,422.2 1049.5,422.3 1050.2,422.4 1050.9,422.5 1051.6,422.6 1052.3,422.7 1053.0,422.8 1053.7,422.9 1053.7,422.9 1054.7,423.1 1055.5,423.7 1056.1,424.6 1056.3,425.7 1056.1,426.7 1055.5,427.6 1054.7,428.3 1053.7,428.5 1053.7,428.5 1053.0,428.6 1052.3,428.7 1051.6,428.7 1050.9,428.8 1050.2,428.9 1049.5,429.0 1048.8,429.1 1048.1,429.2 1047.4,429.2 1046.7,429.4 1046.0,429.5 1045.2,429.7 1044.5,429.8 1043.8,429.9 1043.1,430.0 1042.4,430.1 1041.7,430.1 1041.0,430.1 1040.3,430.2 1039.6,430.2 1038.9,430.3 1038.2,430.3 1037.5,430.2 1036.8,430.2 1036.1,430.3 1035.4,430.3 1034.7,430.3 1034.0,430.4 1033.3,430.5 1032.6,430.5 1031.9,430.5 1031.2,430.4 1030.5,430.3 1029.7,430.2 1029.0,430.3 1028.3,430.5 1027.6,430.5 1026.9,430.4 1026.2,430.3 1025.5,430.2 1024.8,430.3 1024.1,430.4 1023.4,430.4 1022.7,430.4 1022.0,430.4 1021.3,430.4 1020.6,430.5 1019.9,430.5 1019.2,430.4 1018.5,430.3 1017.8,430.1 1017.1,430.0 1016.4,430.0 1015.7,430.0 1015.0,430.2 1014.3,430.4 1013.5,430.6 1012.8,430.7 1012.1,430.8 1011.4,430.8 1010.7,430.9 1010.0,430.9 1009.3,430.8 1008.6,430.7 1007.9,430.7 1007.2,430.8 1006.5,431.1 1005.8,431.2 1005.1,431.3 1004.4,431.3 1003.7,431.2 1003.0,431.3 1002.3,431.4 1001.6,431.7 1000.9,432.1 1000.2,432.7 999.5,433.0 998.8,433.3 998.0,433.7 997.3,434.2 996.6,434.7 995.9,435.4 995.2,436.0 994.5,436.7 993.8,437.1 993.1,437.3 992.4,436.9 991.7,436.5 991.0,436.1 990.3,436.3 989.6,436.8 988.9,437.3 988.2,437.4 987.5,437.1 986.8,436.4 986.1,435.8 985.4,435.2 984.7,434.5 984.0,433.8 983.3,433.4 982.6,433.4 981.8,433.5 981.1,433.5 980.4,433.3 979.7,433.0 979.0,432.6 978.3,432.2 977.6,431.9 976.9,431.7 976.2,431.8 975.5,431.9 974.8,432.1 974.1,432.2 973.4,432.4 972.7,432.6 972.0,432.7 971.3,432.9 970.6,432.9 969.9,432.9 969.2,432.6 968.5,432.1 967.8,431.4 967.1,430.8 966.3,430.4 965.6,430.2 964.9,429.9 964.2,429.6 963.5,429.3 962.8,429.2 962.1,429.0 961.4,428.8 960.7,428.7 960.0,428.6 959.3,428.5 958.6,428.5 958.6,428.5 957.6,428.3 956.8,427.6 956.2,426.7 956.0,425.7 956.2,424.6 956.8,423.7 957.6,423.1 958.6,422.9Z" fill="url(#g36)" mask="url(#m36)"/>
<circle cx="961.4" cy="425.6" r="2.4" fill="#7a3ab3"/><circle cx="965.6" cy="426.3" r="2.4" fill="#0069dc"/><circle cx="969.2" cy="428.0" r="2.4" fill="#0070df"/><circle cx="970.6" cy="425.6" r="2.4" fill="#b7008b"/><circle cx="972.0" cy="423.4" r="2.4" fill="#0075e1"/><circle cx="972.7" cy="424.9" r="2.4" fill="#882ca7"/><circle cx="973.4" cy="422.1" r="2.4" fill="#0068db"/><circle cx="974.1" cy="423.1" r="2.4" fill="#0075e1"/><circle cx="976.9" cy="428.1" r="2.4" fill="#006bdd"/><circle cx="977.6" cy="422.2" r="2.4" fill="#0075e1"/><circle cx="978.3" cy="422.4" r="2.4" fill="#0075e1"/><circle cx="979.0" cy="424.4" r="2.4" fill="#0072e0"/><circle cx="980.4" cy="420.9" r="2.4" fill="#0071e0"/><circle cx="982.6" cy="428.4" r="2.4" fill="#6647c0"/><circle cx="984.7" cy="423.1" r="2.4" fill="#90209d"/><circle cx="985.4" cy="424.0" r="2.4" fill="#0075e1"/><circle cx="986.1" cy="426.1" r="2.4" fill="#8b29a4"/><circle cx="987.5" cy="424.8" r="2.4" fill="#0075e1"/><circle cx="988.9" cy="429.6" r="2.4" fill="#0075e1"/><circle cx="989.6" cy="426.9" r="2.4" fill="#0075e1"/><circle cx="990.3" cy="422.8" r="2.4" fill="#8133ad"/><circle cx="991.0" cy="419.1" r="2.4" fill="#0075e1"/><circle cx="991.7" cy="422.1" r="2.4" fill="#0075e1"/><circle cx="992.4" cy="415.8" r="2.4" fill="#0075e1"/><circle cx="993.1" cy="430.0" r="2.4" fill="#0075e1"/><circle cx="993.8" cy="429.8" r="2.4" fill="#0075e1"/><circle cx="994.5" cy="420.2" r="2.4" fill="#0075e1"/><circle cx="995.2" cy="416.4" r="2.4" fill="#0075e1"/><circle cx="995.9" cy="426.9" r="2.4" fill="#0075e1"/><circle cx="997.3" cy="420.9" r="2.4" fill="#0075e1"/><circle cx="998.0" cy="423.0" r="2.4" fill="#0075e1"/><circle cx="1000.9" cy="425.9" r="2.4" fill="#0065da"/><circle cx="1001.6" cy="429.3" r="2.4" fill="#0075e1"/><circle cx="1003.0" cy="423.4" r="2.4" fill="#0066da"/><circle cx="1004.4" cy="424.3" r="2.4" fill="#bf0086"/><circle cx="1006.5" cy="425.8" r="2.4" fill="#594dc6"/><circle cx="1008.6" cy="425.5" r="2.4" fill="#b1008e"/><circle cx="1009.3" cy="427.7" r="2.4" fill="#ef0048"/><circle cx="1011.4" cy="424.6" r="2.4" fill="#ef0048"/><circle cx="1012.1" cy="425.5" r="2.4" fill="#ef0048"/><circle cx="1012.8" cy="424.7" r="2.4" fill="#ef0048"/><circle cx="1015.0" cy="425.5" r="2.4" fill="#ef004c"/><circle cx="1021.3" cy="427.0" r="2.4" fill="#991999"/><circle cx="1022.7" cy="427.4" r="2.4" fill="#ef0048"/><circle cx="1024.8" cy="427.7" r="2.4" fill="#ef0048"/><circle cx="1029.0" cy="425.1" r="2.4" fill="#ef0048"/>
<circle cx="1060.5" cy="425.7" r="2.8" fill="#ef0048"/>
<text x="799.0 808.1 815.7 825.0 829.5 840.6" y="431.0" font-size="14.00" fill="#3a3a3a" font-family="Liberation Sans" stroke="#3a3a3a" stroke-width="0.30">SLE.D2</text>
<linearGradient id="g37" gradientUnits="userSpaceOnUse" x1="944.8" y1="0" x2="1084.5" y2="0"><stop offset="0.0000" stop-color="#db006f"/><stop offset="0.0730" stop-color="#db006f"/><stop offset="0.1446" stop-color="#de006c"/><stop offset="0.2162" stop-color="#e30066"/><stop offset="0.2734" stop-color="#e9005c"/><stop offset="0.3128" stop-color="#ec0058"/><stop offset="0.3665" stop-color="#e30066"/><stop offset="0.4166" stop-color="#af008f"/><stop offset="0.5025" stop-color="#6e43bc"/><stop offset="0.5741" stop-color="#5c4cc4"/><stop offset="0.7530" stop-color="#4654cc"/><stop offset="1.0000" stop-color="#006fdf"/></linearGradient>
<mask id="m37" maskUnits="userSpaceOnUse" x="932.4" y="442.7" width="164.5" height="30"><rect x="932.4" y="442.7" width="164.5" height="30" fill="#fff"/><path d="M1055.7,452.7H1058.6L1057.3,457.7L1058.6,462.7H1055.7L1057.0,457.7Z" fill="#000"/><path d="M1058.4,452.7H1062.4L1061.1,457.7L1062.4,462.7H1058.4L1059.7,457.7Z" fill="#000"/><path d="M1074.9,452.7H1079.1L1077.8,457.7L1079.1,462.7H1074.9L1076.2,457.7Z" fill="#000"/></mask>
<path d="M947.4,454.9 948.1,454.7 948.8,454.5 949.5,454.3 950.2,454.1 950.9,453.9 951.6,453.8 952.3,453.6 953.0,453.4 953.7,453.1 954.4,452.9 955.1,452.8 955.8,452.8 956.5,452.7 957.2,452.7 957.9,452.6 958.6,452.5 959.3,452.3 960.0,452.0 960.7,451.7 961.4,451.4 962.1,451.2 962.8,451.2 963.5,451.4 964.2,451.9 964.9,452.5 965.6,453.0 966.3,453.2 967.0,452.9 967.7,452.2 968.4,451.4 969.1,450.7 969.8,450.5 970.5,450.8 971.2,451.7 971.9,452.7 972.6,453.7 973.3,454.3 974.0,454.1 974.7,453.4 975.4,452.6 976.1,451.8 976.8,451.2 977.5,450.6 978.2,450.1 978.9,449.5 979.6,448.9 980.3,448.5 981.0,448.5 981.7,448.6 982.4,448.7 983.1,448.5 983.8,448.3 984.5,447.9 985.2,447.2 985.9,446.2 986.6,445.0 987.3,443.9 988.0,443.2 988.7,442.8 989.4,442.7 990.1,442.8 990.8,443.2 991.5,443.8 992.2,444.6 992.9,445.4 993.6,446.2 994.3,446.9 995.0,447.6 995.7,448.1 996.4,448.1 997.1,447.9 997.8,447.7 998.5,448.0 999.2,448.7 999.9,449.7 1000.6,450.8 1001.3,451.7 1002.0,452.5 1002.7,452.9 1003.4,453.0 1004.1,452.7 1004.8,452.2 1005.5,451.7 1006.2,451.3 1006.9,451.1 1007.6,451.1 1008.3,451.2 1009.0,451.2 1009.7,451.1 1010.4,450.9 1011.1,450.7 1011.8,450.6 1012.5,450.7 1013.2,450.8 1013.9,451.0 1014.7,451.2 1015.4,451.5 1016.1,451.9 1016.8,452.4 1017.5,452.9 1018.2,453.3 1018.9,453.5 1019.6,453.6 1020.3,453.8 1021.0,453.9 1021.7,453.8 1022.4,453.8 1023.1,453.8 1023.8,453.9 1024.5,454.0 1025.2,454.0 1025.9,454.0 1026.6,454.0 1027.3,454.1 1028.0,454.1 1028.7,454.1 1029.4,454.1 1030.1,454.1 1030.8,454.2 1031.5,454.2 1032.2,454.2 1032.9,454.2 1033.6,454.2 1034.3,454.2 1035.0,454.3 1035.7,454.3 1036.4,454.3 1037.1,454.3 1037.8,454.3 1038.5,454.3 1039.2,454.3 1039.9,454.3 1040.6,454.3 1041.3,454.3 1042.0,454.3 1042.7,454.4 1043.4,454.4 1044.1,454.4 1044.8,454.4 1045.5,454.4 1046.2,454.4 1046.9,454.4 1047.6,454.4 1048.3,454.4 1049.0,454.4 1049.7,454.5 1050.4,454.5 1051.1,454.5 1051.8,454.5 1052.5,454.5 1053.2,454.5 1053.9,454.5 1054.6,454.5 1055.3,454.5 1056.0,454.6 1056.7,454.6 1057.4,454.6 1058.1,454.6 1058.8,454.6 1059.5,454.6 1060.2,454.6 1060.9,454.6 1061.6,454.6 1062.3,454.7 1063.0,454.7 1063.7,454.7 1064.4,454.7 1065.1,454.7 1065.8,454.7 1066.5,454.7 1067.2,454.7 1067.9,454.7 1068.6,454.8 1069.3,454.8 1070.0,454.8 1070.7,454.8 1071.4,454.8 1072.1,454.8 1072.8,454.8 1073.5,454.8 1074.2,454.8 1074.9,454.8 1075.6,454.9 1076.3,454.9 1077.0,454.9 1077.7,454.9 1078.4,454.9 1079.1,454.9 1079.8,454.9 1080.5,454.9 1081.2,454.9 1081.9,454.9 1081.9,454.9 1082.9,455.2 1083.7,455.8 1084.3,456.7 1084.5,457.7 1084.3,458.8 1083.7,459.7 1082.9,460.3 1081.9,460.5 1081.9,460.5 1081.2,460.5 1080.5,460.6 1079.8,460.6 1079.1,460.6 1078.4,460.6 1077.7,460.6 1077.0,460.6 1076.3,460.6 1075.6,460.6 1074.9,460.6 1074.2,460.6 1073.5,460.7 1072.8,460.7 1072.1,460.7 1071.4,460.7 1070.7,460.7 1070.0,460.7 1069.3,460.7 1068.6,460.7 1067.9,460.7 1067.2,460.7 1066.5,460.8 1065.8,460.8 1065.1,460.8 1064.4,460.8 1063.7,460.8 1063.0,460.8 1062.3,460.8 1061.6,460.8 1060.9,460.8 1060.2,460.9 1059.5,460.9 1058.8,460.9 1058.1,460.9 1057.4,460.9 1056.7,460.9 1056.0,460.9 1055.3,460.9 1054.6,460.9 1053.9,461.0 1053.2,461.0 1052.5,461.0 1051.8,461.0 1051.1,461.0 1050.4,461.0 1049.7,461.0 1049.0,461.0 1048.3,461.0 1047.6,461.1 1046.9,461.1 1046.2,461.1 1045.5,461.1 1044.8,461.1 1044.1,461.1 1043.4,461.1 1042.7,461.1 1042.0,461.1 1041.3,461.1 1040.6,461.1 1039.9,461.2 1039.2,461.2 1038.5,461.2 1037.8,461.2 1037.1,461.2 1036.4,461.2 1035.7,461.2 1035.0,461.2 1034.3,461.2 1033.6,461.3 1032.9,461.3 1032.2,461.3 1031.5,461.3 1030.8,461.3 1030.1,461.3 1029.4,461.3 1028.7,461.4 1028.0,461.4 1027.3,461.4 1026.6,461.5 1025.9,461.5 1025.2,461.6 1024.5,461.6 1023.8,461.6 1023.1,461.6 1022.4,461.7 1021.7,461.8 1021.0,462.0 1020.3,462.2 1019.6,462.5 1018.9,462.8 1018.2,463.3 1017.5,463.5 1016.8,463.4 1016.1,463.1 1015.4,462.8 1014.7,462.7 1013.9,462.8 1013.2,463.1 1012.5,463.5 1011.8,463.8 1011.1,463.9 1010.4,463.9 1009.7,463.9 1009.0,464.0 1008.3,464.2 1007.6,464.5 1006.9,464.6 1006.2,464.7 1005.5,464.7 1004.8,464.6 1004.1,464.7 1003.4,464.9 1002.7,465.3 1002.0,465.7 1001.3,465.9 1000.6,466.0 999.9,466.0 999.2,466.2 998.5,466.6 997.8,466.9 997.1,467.1 996.4,467.1 995.7,467.0 995.0,467.0 994.3,467.4 993.6,468.1 992.9,469.2 992.2,470.4 991.5,471.2 990.8,471.5 990.1,471.2 989.4,470.8 988.7,470.3 988.0,470.0 987.3,469.4 986.6,468.8 985.9,468.1 985.2,467.7 984.5,467.5 983.8,467.5 983.1,467.2 982.4,466.8 981.7,466.3 981.0,465.9 980.3,465.7 979.6,465.6 978.9,465.4 978.2,464.8 977.5,463.8 976.8,462.8 976.1,462.1 975.4,461.9 974.7,462.0 974.0,462.1 973.3,462.1 972.6,462.2 971.9,462.3 971.2,462.7 970.5,463.2 969.8,463.8 969.1,464.2 968.4,464.4 967.7,464.4 967.0,464.1 966.3,463.8 965.6,463.4 964.9,463.3 964.2,463.3 963.5,463.5 962.8,463.6 962.1,463.5 961.4,463.2 960.7,463.0 960.0,462.9 959.3,463.1 958.6,463.4 957.9,463.7 957.2,463.7 956.5,463.5 955.8,463.3 955.1,463.0 954.4,462.7 953.7,462.4 953.0,462.2 952.3,462.0 951.6,461.9 950.9,461.7 950.2,461.4 949.5,461.2 948.8,461.0 948.1,460.8 947.4,460.5 947.4,460.5 946.4,460.3 945.6,459.7 945.0,458.8 944.8,457.7 945.0,456.7 945.6,455.8 946.4,455.2 947.4,454.9Z" fill="url(#g37)" mask="url(#m37)"/>
<circle cx="955.8" cy="456.7" r="2.4" fill="#ea005a"/><circle cx="957.9" cy="455.9" r="2.4" fill="#ef0048"/><circle cx="962.1" cy="460.7" r="2.4" fill="#ef0048"/><circle cx="963.5" cy="455.0" r="2.4" fill="#ef004f"/><circle cx="964.2" cy="457.1" r="2.4" fill="#9e1597"/><circle cx="967.7" cy="459.0" r="2.4" fill="#8e24a0"/><circle cx="969.1" cy="454.8" r="2.4" fill="#ef0051"/><circle cx="969.8" cy="459.8" r="2.4" fill="#ef0048"/><circle cx="971.2" cy="460.9" r="2.4" fill="#ef0049"/><circle cx="971.9" cy="461.2" r="2.4" fill="#c30084"/><circle cx="973.3" cy="459.3" r="2.4" fill="#ef0048"/><circle cx="974.7" cy="458.0" r="2.4" fill="#ef0048"/><circle cx="976.8" cy="455.0" r="2.4" fill="#ef0048"/><circle cx="977.5" cy="455.8" r="2.4" fill="#ef0048"/><circle cx="978.2" cy="462.2" r="2.4" fill="#ef0048"/><circle cx="979.6" cy="452.6" r="2.4" fill="#ef0048"/><circle cx="980.3" cy="454.5" r="2.4" fill="#ef0048"/><circle cx="981.0" cy="463.5" r="2.4" fill="#ef0048"/><circle cx="981.7" cy="463.7" r="2.4" fill="#b9008a"/><circle cx="984.5" cy="450.4" r="2.4" fill="#ef0048"/><circle cx="985.9" cy="465.3" r="2.4" fill="#ef0048"/><circle cx="986.6" cy="463.5" r="2.4" fill="#ef0048"/><circle cx="987.3" cy="454.1" r="2.4" fill="#ef0048"/><circle cx="988.0" cy="455.6" r="2.4" fill="#ef0048"/><circle cx="988.7" cy="461.4" r="2.4" fill="#ef0048"/><circle cx="989.4" cy="456.9" r="2.4" fill="#ef0048"/><circle cx="990.8" cy="451.7" r="2.4" fill="#ef0048"/><circle cx="992.2" cy="455.6" r="2.4" fill="#ef0048"/><circle cx="992.9" cy="448.7" r="2.4" fill="#ef004b"/><circle cx="994.3" cy="463.1" r="2.4" fill="#ef0049"/><circle cx="995.0" cy="462.5" r="2.4" fill="#ef0048"/><circle cx="995.7" cy="452.6" r="2.4" fill="#ef0048"/><circle cx="998.5" cy="458.1" r="2.4" fill="#e60061"/><circle cx="999.2" cy="458.2" r="2.4" fill="#ef0048"/><circle cx="999.9" cy="456.1" r="2.4" fill="#ef0048"/><circle cx="1001.3" cy="456.7" r="2.4" fill="#6a45be"/><circle cx="1002.7" cy="459.6" r="2.4" fill="#ef004d"/><circle cx="1003.4" cy="460.6" r="2.4" fill="#604ac3"/><circle cx="1004.1" cy="456.5" r="2.4" fill="#ee0054"/><circle cx="1004.8" cy="457.0" r="2.4" fill="#de006b"/><circle cx="1006.2" cy="455.6" r="2.4" fill="#d80073"/><circle cx="1009.0" cy="461.7" r="2.4" fill="#b8008b"/><circle cx="1011.1" cy="459.2" r="2.4" fill="#3e56ce"/><circle cx="1011.8" cy="457.2" r="2.4" fill="#ce007b"/><circle cx="1012.5" cy="458.4" r="2.4" fill="#006fdf"/><circle cx="1013.9" cy="460.1" r="2.4" fill="#9e1597"/><circle cx="1014.7" cy="459.1" r="2.4" fill="#195cd3"/><circle cx="1015.4" cy="456.1" r="2.4" fill="#4355cd"/><circle cx="1016.8" cy="455.5" r="2.4" fill="#0073e0"/><circle cx="1021.7" cy="458.2" r="2.4" fill="#0075e1"/><circle cx="1023.8" cy="457.9" r="2.4" fill="#185dd3"/><circle cx="1025.2" cy="458.3" r="2.4" fill="#882ca6"/><circle cx="1029.4" cy="457.1" r="2.4" fill="#006cde"/><circle cx="1031.5" cy="458.2" r="2.4" fill="#0075e1"/><circle cx="1038.5" cy="457.5" r="2.4" fill="#0075e1"/><circle cx="1041.3" cy="457.1" r="2.4" fill="#0075e1"/><circle cx="1045.5" cy="457.9" r="2.4" fill="#0075e1"/><circle cx="1046.9" cy="458.3" r="2.4" fill="#0075e1"/><circle cx="1048.3" cy="458.2" r="2.4" fill="#0075e1"/><circle cx="1049.0" cy="457.5" r="2.4" fill="#0075e1"/><circle cx="1049.7" cy="457.6" r="2.4" fill="#0075e1"/><circle cx="1053.2" cy="457.4" r="2.4" fill="#0070df"/><circle cx="1058.1" cy="457.4" r="2.4" fill="#0075e1"/><circle cx="1063.0" cy="458.0" r="2.4" fill="#0075e1"/><circle cx="1071.4" cy="457.4" r="2.4" fill="#8431ab"/>
<text x="811.5 820.8 825.0 829.5 840.6" y="463.0" font-size="14.00" fill="#3a3a3a" font-family="Liberation Sans" stroke="#3a3a3a" stroke-width="0.30">EI.D4</text>
<linearGradient id="g38" gradientUnits="userSpaceOnUse" x1="968.2" y1="0" x2="1040.8" y2="0"><stop offset="0.0000" stop-color="#ef0053"/><stop offset="0.0592" stop-color="#ec0058"/><stop offset="0.2094" stop-color="#e9005c"/><stop offset="0.3416" stop-color="#e30066"/><stop offset="0.4477" stop-color="#db006f"/><stop offset="0.5523" stop-color="#d20078"/><stop offset="0.6033" stop-color="#af008f"/><stop offset="0.6419" stop-color="#225bd3"/><stop offset="0.8512" stop-color="#0069dc"/><stop offset="1.0000" stop-color="#7c38b2"/></linearGradient>
<mask id="m38" maskUnits="userSpaceOnUse" x="955.4" y="474.8" width="97.9" height="30"><rect x="955.4" y="474.8" width="97.9" height="30" fill="#fff"/><path d="M1031.9,484.8H1035.9L1034.6,489.8L1035.9,494.8H1031.9L1033.2,489.8Z" fill="#000"/></mask>
<path d="M970.4,487.0 971.1,484.2 971.8,481.9 972.5,481.3 973.2,481.5 973.9,481.4 974.6,481.0 975.3,480.6 976.0,480.3 976.7,480.1 977.4,480.1 978.1,480.1 978.8,480.1 979.5,479.8 980.2,479.5 981.0,479.4 981.7,479.8 982.4,480.5 983.1,481.1 983.8,481.2 984.5,480.6 985.2,479.7 985.9,479.0 986.6,478.5 987.3,478.1 988.0,477.8 988.7,477.5 989.4,477.3 990.1,477.0 990.8,476.7 991.6,476.7 992.3,476.9 993.0,477.2 993.7,477.5 994.4,477.7 995.1,477.9 995.8,478.1 996.5,478.1 997.2,477.9 997.9,477.7 998.6,477.7 999.3,478.1 1000.0,478.7 1000.7,479.4 1001.4,480.0 1002.2,480.5 1002.9,481.1 1003.6,481.6 1004.3,482.0 1005.0,482.2 1005.7,482.2 1006.4,482.1 1007.1,482.2 1007.8,482.3 1008.5,482.4 1009.2,482.6 1009.9,482.9 1010.6,483.5 1011.3,484.0 1012.0,484.4 1012.8,484.9 1013.5,485.5 1014.2,486.1 1014.9,486.3 1015.6,486.3 1016.3,486.3 1017.0,486.3 1017.7,486.3 1018.4,486.4 1019.1,486.4 1019.8,486.4 1020.5,486.4 1021.2,486.4 1021.9,486.4 1022.7,486.4 1023.4,486.4 1024.1,486.4 1024.8,486.4 1025.5,486.4 1026.2,486.5 1026.9,486.5 1027.6,486.5 1028.3,486.5 1029.0,486.5 1029.7,486.5 1030.4,486.5 1031.1,486.6 1031.8,486.6 1032.5,486.6 1033.3,486.7 1034.0,486.7 1034.7,486.8 1035.4,486.8 1036.1,486.9 1036.8,486.9 1037.5,487.0 1038.2,487.0 1038.2,487.0 1039.2,487.2 1040.0,487.8 1040.6,488.7 1040.8,489.8 1040.6,490.9 1040.0,491.8 1039.2,492.4 1038.2,492.6 1038.2,492.6 1037.5,492.7 1036.8,492.7 1036.1,492.8 1035.4,492.8 1034.7,492.9 1034.0,492.9 1033.3,492.9 1032.5,493.0 1031.8,493.0 1031.1,493.1 1030.4,493.1 1029.7,493.1 1029.0,493.1 1028.3,493.1 1027.6,493.1 1026.9,493.2 1026.2,493.2 1025.5,493.2 1024.8,493.2 1024.1,493.2 1023.4,493.2 1022.7,493.2 1021.9,493.2 1021.2,493.2 1020.5,493.2 1019.8,493.2 1019.1,493.2 1018.4,493.3 1017.7,493.3 1017.0,493.3 1016.3,493.3 1015.6,493.4 1014.9,493.4 1014.2,493.7 1013.5,494.1 1012.8,494.3 1012.0,494.4 1011.3,494.9 1010.6,496.0 1009.9,497.5 1009.2,498.7 1008.5,499.4 1007.8,499.5 1007.1,499.6 1006.4,499.7 1005.7,500.0 1005.0,500.4 1004.3,500.7 1003.6,500.5 1002.9,500.0 1002.2,499.4 1001.4,498.8 1000.7,498.3 1000.0,497.7 999.3,497.3 998.6,497.3 997.9,497.9 997.2,498.9 996.5,500.0 995.8,500.8 995.1,501.2 994.4,501.4 993.7,501.5 993.0,501.8 992.3,502.2 991.6,502.6 990.8,502.6 990.1,502.3 989.4,501.8 988.7,501.4 988.0,501.2 987.3,501.0 986.6,500.7 985.9,500.3 985.2,499.8 984.5,499.5 983.8,499.3 983.1,499.0 982.4,498.6 981.7,498.2 981.0,498.1 980.2,498.4 979.5,499.0 978.8,499.8 978.1,500.5 977.4,500.8 976.7,500.6 976.0,499.8 975.3,498.6 974.6,497.3 973.9,496.2 973.2,495.5 972.5,495.1 971.8,494.4 971.1,493.8 970.4,492.6 970.4,492.6 969.5,492.4 968.8,491.8 968.4,490.9 968.2,489.8 968.4,488.7 968.8,487.8 969.5,487.2 970.4,487.0Z" fill="url(#g38)" mask="url(#m38)"/>
<circle cx="971.8" cy="486.9" r="2.4" fill="#ef0048"/><circle cx="972.5" cy="492.8" r="2.4" fill="#ef0048"/><circle cx="976.0" cy="484.1" r="2.4" fill="#ef0048"/><circle cx="977.4" cy="484.2" r="2.4" fill="#ef0048"/><circle cx="978.1" cy="486.9" r="2.4" fill="#ef0048"/><circle cx="979.5" cy="488.0" r="2.4" fill="#ef0048"/><circle cx="981.7" cy="487.7" r="2.4" fill="#cd007c"/><circle cx="983.8" cy="493.7" r="2.4" fill="#ef0048"/><circle cx="984.5" cy="485.2" r="2.4" fill="#ef0048"/><circle cx="985.2" cy="495.0" r="2.4" fill="#ef0048"/><circle cx="985.9" cy="485.8" r="2.4" fill="#ef0048"/><circle cx="986.6" cy="492.2" r="2.4" fill="#ef0048"/><circle cx="988.0" cy="494.7" r="2.4" fill="#ef0048"/><circle cx="989.4" cy="488.2" r="2.4" fill="#ef0048"/><circle cx="990.1" cy="497.8" r="2.4" fill="#ef0048"/><circle cx="990.8" cy="481.9" r="2.4" fill="#ef0048"/><circle cx="991.6" cy="496.3" r="2.4" fill="#ef0048"/><circle cx="992.3" cy="484.8" r="2.4" fill="#ef0048"/><circle cx="993.0" cy="492.0" r="2.4" fill="#ef0048"/><circle cx="993.7" cy="497.7" r="2.4" fill="#ef0048"/><circle cx="994.4" cy="481.1" r="2.4" fill="#ef0048"/><circle cx="995.1" cy="484.9" r="2.4" fill="#941c9b"/><circle cx="995.8" cy="495.0" r="2.4" fill="#ef0048"/><circle cx="996.5" cy="495.1" r="2.4" fill="#ef0048"/><circle cx="997.2" cy="489.8" r="2.4" fill="#ef004f"/><circle cx="997.9" cy="497.6" r="2.4" fill="#ef0048"/><circle cx="998.6" cy="494.7" r="2.4" fill="#9e1597"/><circle cx="999.3" cy="497.1" r="2.4" fill="#ef0048"/><circle cx="1000.0" cy="487.2" r="2.4" fill="#bf0086"/><circle cx="1001.4" cy="485.0" r="2.4" fill="#c40083"/><circle cx="1002.2" cy="496.5" r="2.4" fill="#ef0048"/><circle cx="1002.9" cy="493.1" r="2.4" fill="#7e37b0"/><circle cx="1003.6" cy="485.1" r="2.4" fill="#eb005a"/><circle cx="1005.0" cy="496.6" r="2.4" fill="#ef0048"/><circle cx="1005.7" cy="488.0" r="2.4" fill="#ee0053"/><circle cx="1006.4" cy="495.3" r="2.4" fill="#ef0051"/><circle cx="1007.1" cy="484.3" r="2.4" fill="#ef0048"/><circle cx="1008.5" cy="489.3" r="2.4" fill="#ef0048"/><circle cx="1009.2" cy="485.8" r="2.4" fill="#e30065"/><circle cx="1009.9" cy="491.7" r="2.4" fill="#e10068"/><circle cx="1010.6" cy="494.7" r="2.4" fill="#7240b9"/><circle cx="1024.1" cy="488.9" r="2.4" fill="#921d9b"/><circle cx="1030.4" cy="490.6" r="2.4" fill="#0075e1"/><circle cx="1031.1" cy="490.2" r="2.4" fill="#0075e1"/>
<circle cx="960.3" cy="489.8" r="2.8" fill="#ef0048"/>
<text x="811.5 820.8 825.0 829.5 840.6" y="495.1" font-size="14.00" fill="#3a3a3a" font-family="Liberation Sans" stroke="#3a3a3a" stroke-width="0.30">EI.D1</text>
<linearGradient id="g39" gradientUnits="userSpaceOnUse" x1="963.7" y1="0" x2="1035.1" y2="0"><stop offset="0.0000" stop-color="#e9005c"/><stop offset="0.1695" stop-color="#e30066"/><stop offset="0.2143" stop-color="#911e9b"/><stop offset="0.2759" stop-color="#5c4cc4"/><stop offset="0.3263" stop-color="#5c4cc4"/><stop offset="0.3683" stop-color="#5c4cc4"/><stop offset="0.4244" stop-color="#0063d8"/><stop offset="0.4888" stop-color="#0069dc"/><stop offset="0.5784" stop-color="#af008f"/><stop offset="0.7185" stop-color="#e9005c"/><stop offset="0.8585" stop-color="#ef0053"/><stop offset="1.0000" stop-color="#ef0048"/></linearGradient>
<path d="M966.3,519.1 967.0,519.1 967.7,519.1 968.4,519.1 969.1,519.0 969.8,519.0 970.5,519.0 971.2,518.9 971.9,518.9 972.6,518.8 973.3,518.7 974.0,518.6 974.8,518.6 975.5,518.5 976.2,518.2 976.9,517.3 977.6,515.7 978.3,514.1 979.0,513.4 979.7,513.3 980.4,513.1 981.1,512.5 981.8,511.5 982.5,510.4 983.2,509.5 983.9,509.3 984.6,509.8 985.3,510.8 986.0,511.9 986.7,512.8 987.4,513.3 988.1,513.7 988.8,514.0 989.5,514.2 990.2,514.0 990.9,513.2 991.7,512.2 992.4,511.6 993.1,511.6 993.8,512.1 994.5,512.8 995.2,513.4 995.9,513.7 996.6,513.6 997.3,513.4 998.0,513.2 998.7,513.2 999.4,513.4 1000.1,513.5 1000.8,513.3 1001.5,513.1 1002.2,513.1 1002.9,513.7 1003.6,514.7 1004.3,515.6 1005.0,516.0 1005.7,515.9 1006.4,515.7 1007.1,515.5 1007.9,515.5 1008.6,515.7 1009.3,516.0 1010.0,516.4 1010.7,516.7 1011.4,516.9 1012.1,516.9 1012.8,516.8 1013.5,516.7 1014.2,516.6 1014.9,516.5 1015.6,516.5 1016.3,516.5 1017.0,516.5 1017.7,516.5 1018.4,516.6 1019.1,516.6 1019.8,516.8 1020.5,516.9 1021.2,517.1 1021.9,517.3 1022.6,517.4 1023.3,517.4 1024.0,517.4 1024.8,517.5 1025.5,517.6 1026.2,517.8 1026.9,517.9 1027.6,518.0 1028.3,518.1 1029.0,518.3 1029.7,518.5 1030.4,518.6 1031.1,518.8 1031.8,518.9 1032.5,519.1 1032.5,519.1 1033.5,519.3 1034.3,519.9 1034.9,520.8 1035.1,521.9 1034.9,523.0 1034.3,523.9 1033.5,524.5 1032.5,524.7 1032.5,524.7 1031.8,524.8 1031.1,525.0 1030.4,525.2 1029.7,525.3 1029.0,525.4 1028.3,525.5 1027.6,525.6 1026.9,525.7 1026.2,525.7 1025.5,525.8 1024.8,525.8 1024.0,525.8 1023.3,525.9 1022.6,526.1 1021.9,526.4 1021.2,526.6 1020.5,526.8 1019.8,527.0 1019.1,527.2 1018.4,527.5 1017.7,527.6 1017.0,527.7 1016.3,527.5 1015.6,527.3 1014.9,527.2 1014.2,527.3 1013.5,527.8 1012.8,528.3 1012.1,528.6 1011.4,528.5 1010.7,528.0 1010.0,527.5 1009.3,527.0 1008.6,526.6 1007.9,526.4 1007.1,526.3 1006.4,526.3 1005.7,526.5 1005.0,526.7 1004.3,527.0 1003.6,527.7 1002.9,528.8 1002.2,529.9 1001.5,530.7 1000.8,531.0 1000.1,531.1 999.4,531.2 998.7,531.2 998.0,531.0 997.3,530.8 996.6,530.7 995.9,530.8 995.2,531.0 994.5,531.1 993.8,530.9 993.1,530.4 992.4,529.7 991.7,528.9 990.9,528.3 990.2,528.1 989.5,528.3 988.8,528.7 988.1,529.4 987.4,530.1 986.7,530.9 986.0,531.8 985.3,532.8 984.6,533.6 983.9,534.1 983.2,534.3 982.5,534.2 981.8,533.7 981.1,532.8 980.4,531.5 979.7,530.0 979.0,528.8 978.3,527.9 977.6,527.0 976.9,526.1 976.2,525.5 975.5,525.3 974.8,525.2 974.0,525.1 973.3,525.0 972.6,525.0 971.9,524.9 971.2,524.8 970.5,524.8 969.8,524.8 969.1,524.7 968.4,524.7 967.7,524.7 967.0,524.7 966.3,524.7 966.3,524.7 965.3,524.5 964.5,523.9 963.9,523.0 963.7,521.9 963.9,520.8 964.5,519.9 965.3,519.3 966.3,519.1Z" fill="url(#g39)"/>
<circle cx="976.2" cy="520.9" r="2.4" fill="#ef0048"/><circle cx="976.9" cy="522.0" r="2.4" fill="#ef0048"/><circle cx="978.3" cy="522.1" r="2.4" fill="#3458d0"/><circle cx="979.0" cy="523.9" r="2.4" fill="#135dd4"/><circle cx="979.7" cy="524.9" r="2.4" fill="#d0007a"/><circle cx="980.4" cy="521.9" r="2.4" fill="#b5008c"/><circle cx="981.1" cy="526.8" r="2.4" fill="#0074e1"/><circle cx="981.8" cy="527.4" r="2.4" fill="#3f56ce"/><circle cx="982.5" cy="525.3" r="2.4" fill="#295ad2"/><circle cx="983.2" cy="525.6" r="2.4" fill="#006cde"/><circle cx="983.2" cy="522.3" r="2.4" fill="#0075e1"/><circle cx="983.9" cy="522.7" r="2.4" fill="#0069dc"/><circle cx="984.6" cy="527.7" r="2.4" fill="#0060d6"/><circle cx="984.6" cy="530.2" r="2.4" fill="#006edf"/><circle cx="985.3" cy="515.8" r="2.4" fill="#0075e1"/><circle cx="985.3" cy="523.1" r="2.4" fill="#006add"/><circle cx="986.0" cy="529.3" r="2.4" fill="#8e24a0"/><circle cx="986.7" cy="524.5" r="2.4" fill="#0061d7"/><circle cx="987.4" cy="521.5" r="2.4" fill="#a70b93"/><circle cx="988.1" cy="521.9" r="2.4" fill="#005fd6"/><circle cx="990.2" cy="518.4" r="2.4" fill="#006edf"/><circle cx="991.7" cy="523.0" r="2.4" fill="#006add"/><circle cx="992.4" cy="518.7" r="2.4" fill="#0071e0"/><circle cx="995.2" cy="515.6" r="2.4" fill="#0075e1"/><circle cx="996.6" cy="523.6" r="2.4" fill="#0075e1"/><circle cx="997.3" cy="518.3" r="2.4" fill="#921d9b"/><circle cx="998.0" cy="526.8" r="2.4" fill="#8d25a1"/><circle cx="998.7" cy="526.9" r="2.4" fill="#0075e1"/><circle cx="999.4" cy="520.5" r="2.4" fill="#0074e1"/><circle cx="1000.1" cy="514.9" r="2.4" fill="#763db6"/><circle cx="1002.2" cy="516.6" r="2.4" fill="#d50075"/><circle cx="1004.3" cy="523.4" r="2.4" fill="#e10068"/><circle cx="1006.4" cy="519.5" r="2.4" fill="#e9005d"/><circle cx="1007.1" cy="520.8" r="2.4" fill="#ed0056"/><circle cx="1012.1" cy="520.9" r="2.4" fill="#ef0048"/><circle cx="1021.9" cy="523.3" r="2.4" fill="#ef0048"/><circle cx="1030.4" cy="521.5" r="2.4" fill="#ef0048"/>
<text x="799.0 808.1 815.7 825.0 829.5 840.6" y="527.2" font-size="14.00" fill="#3a3a3a" font-family="Liberation Sans" stroke="#3a3a3a" stroke-width="0.30">SLE.D3</text>
<linearGradient id="g40" gradientUnits="userSpaceOnUse" x1="960.9" y1="0" x2="1026.6" y2="0"><stop offset="0.0000" stop-color="#e30066"/><stop offset="0.1385" stop-color="#e30066"/><stop offset="0.3668" stop-color="#d20078"/><stop offset="0.5495" stop-color="#af008f"/><stop offset="0.7473" stop-color="#7c38b2"/><stop offset="0.8995" stop-color="#5c4cc4"/><stop offset="1.0000" stop-color="#911e9b"/></linearGradient>
<path d="M963.5,551.2 964.2,550.9 964.9,550.6 965.6,550.4 966.3,550.2 967.0,550.1 967.7,550.0 968.4,550.0 969.1,549.9 969.8,549.6 970.5,549.1 971.2,548.6 971.9,548.2 972.6,547.9 973.3,547.6 974.1,547.1 974.8,546.4 975.5,545.8 976.2,545.3 976.9,545.0 977.6,544.8 978.3,544.7 979.0,544.6 979.7,544.6 980.4,544.7 981.1,545.0 981.8,545.4 982.5,545.6 983.2,545.7 983.9,545.4 984.6,544.8 985.3,544.0 986.0,543.0 986.7,542.3 987.4,541.8 988.1,541.6 988.8,541.4 989.5,541.1 990.2,540.7 990.9,540.3 991.6,540.1 992.3,540.1 993.0,540.3 993.8,540.7 994.5,541.1 995.2,541.1 995.9,540.8 996.6,540.3 997.3,539.9 998.0,539.9 998.7,540.2 999.4,540.6 1000.1,541.1 1000.8,541.6 1001.5,541.9 1002.2,542.0 1002.9,541.9 1003.6,541.7 1004.3,541.4 1005.0,541.0 1005.7,540.8 1006.4,540.8 1007.1,541.2 1007.8,541.7 1008.5,542.0 1009.2,542.2 1009.9,542.0 1010.6,541.7 1011.3,541.4 1012.0,541.3 1012.7,541.7 1013.4,542.8 1014.2,544.2 1014.9,545.5 1015.6,546.2 1016.3,546.3 1017.0,546.2 1017.7,546.2 1018.4,546.8 1019.1,547.7 1019.8,548.7 1020.5,549.4 1021.2,549.8 1021.9,549.9 1022.6,550.1 1023.3,550.5 1024.0,551.2 1024.0,551.2 1025.0,551.4 1025.8,552.0 1026.4,552.9 1026.6,554.0 1026.4,555.0 1025.8,555.9 1025.0,556.5 1024.0,556.8 1024.0,556.8 1023.3,557.4 1022.6,558.0 1021.9,558.6 1021.2,558.8 1020.5,558.8 1019.8,558.7 1019.1,558.7 1018.4,559.1 1017.7,560.0 1017.0,561.3 1016.3,562.4 1015.6,563.3 1014.9,564.1 1014.2,564.9 1013.4,565.7 1012.7,566.4 1012.0,566.8 1011.3,566.9 1010.6,566.7 1009.9,566.3 1009.2,565.8 1008.5,565.5 1007.8,565.6 1007.1,566.1 1006.4,566.6 1005.7,567.0 1005.0,567.3 1004.3,567.5 1003.6,567.7 1002.9,567.7 1002.2,567.4 1001.5,566.9 1000.8,566.5 1000.1,566.5 999.4,566.8 998.7,567.2 998.0,567.4 997.3,567.4 996.6,567.5 995.9,567.6 995.2,567.8 994.5,567.9 993.8,567.7 993.0,567.2 992.3,566.6 991.6,566.1 990.9,565.7 990.2,565.5 989.5,565.2 988.8,564.8 988.1,564.3 987.4,563.8 986.7,563.2 986.0,562.8 985.3,562.8 984.6,563.2 983.9,563.9 983.2,564.7 982.5,565.4 981.8,565.7 981.1,565.7 980.4,565.2 979.7,564.4 979.0,563.3 978.3,562.1 977.6,561.1 976.9,560.5 976.2,560.5 975.5,560.9 974.8,561.3 974.1,561.4 973.3,561.3 972.6,560.8 971.9,560.2 971.2,559.8 970.5,559.5 969.8,559.5 969.1,559.4 968.4,559.3 967.7,559.0 967.0,558.5 966.3,558.0 965.6,557.6 964.9,557.3 964.2,557.0 963.5,556.8 963.5,556.8 962.5,556.5 961.7,555.9 961.1,555.0 960.9,554.0 961.1,552.9 961.7,552.0 962.5,551.4 963.5,551.2Z" fill="url(#g40)"/>
<circle cx="965.6" cy="554.4" r="2.4" fill="#ef004c"/><circle cx="971.2" cy="552.0" r="2.4" fill="#ef004f"/><circle cx="971.9" cy="554.3" r="2.4" fill="#ef0048"/><circle cx="973.3" cy="550.6" r="2.4" fill="#ef0048"/><circle cx="975.5" cy="550.9" r="2.4" fill="#ee0055"/><circle cx="976.2" cy="552.6" r="2.4" fill="#ec0058"/><circle cx="976.9" cy="554.7" r="2.4" fill="#ef0048"/><circle cx="979.0" cy="551.7" r="2.4" fill="#ed0056"/><circle cx="979.7" cy="554.0" r="2.4" fill="#ef004e"/><circle cx="981.1" cy="559.4" r="2.4" fill="#ef0048"/><circle cx="981.8" cy="559.6" r="2.4" fill="#ef0048"/><circle cx="982.5" cy="557.7" r="2.4" fill="#aa0792"/><circle cx="983.2" cy="553.3" r="2.4" fill="#ef004d"/><circle cx="983.9" cy="551.6" r="2.4" fill="#ef0048"/><circle cx="984.6" cy="555.6" r="2.4" fill="#ef0048"/><circle cx="985.3" cy="555.1" r="2.4" fill="#ef0048"/><circle cx="986.0" cy="547.8" r="2.4" fill="#ee0054"/><circle cx="986.7" cy="546.4" r="2.4" fill="#763db6"/><circle cx="986.7" cy="545.9" r="2.4" fill="#e8005e"/><circle cx="987.4" cy="562.2" r="2.4" fill="#ed0055"/><circle cx="988.1" cy="548.8" r="2.4" fill="#ef0048"/><circle cx="988.8" cy="559.2" r="2.4" fill="#ea005c"/><circle cx="989.5" cy="545.2" r="2.4" fill="#ef0048"/><circle cx="989.5" cy="557.6" r="2.4" fill="#eb0059"/><circle cx="990.2" cy="553.0" r="2.4" fill="#e60062"/><circle cx="990.2" cy="558.9" r="2.4" fill="#ef0048"/><circle cx="990.9" cy="558.2" r="2.4" fill="#9b1798"/><circle cx="991.6" cy="556.5" r="2.4" fill="#dc006f"/><circle cx="992.3" cy="562.0" r="2.4" fill="#544fc8"/><circle cx="992.3" cy="559.5" r="2.4" fill="#e70061"/><circle cx="993.0" cy="558.4" r="2.4" fill="#e8005f"/><circle cx="993.8" cy="551.2" r="2.4" fill="#e70060"/><circle cx="993.8" cy="555.8" r="2.4" fill="#d90071"/><circle cx="994.5" cy="555.5" r="2.4" fill="#e8005f"/><circle cx="995.2" cy="564.4" r="2.4" fill="#e70060"/><circle cx="995.2" cy="549.7" r="2.4" fill="#dd006d"/><circle cx="995.9" cy="544.4" r="2.4" fill="#e30066"/><circle cx="995.9" cy="556.4" r="2.4" fill="#911e9c"/><circle cx="996.6" cy="548.5" r="2.4" fill="#ef004d"/><circle cx="996.6" cy="563.1" r="2.4" fill="#3758cf"/><circle cx="997.3" cy="556.4" r="2.4" fill="#eb005a"/><circle cx="997.3" cy="549.0" r="2.4" fill="#d50075"/><circle cx="998.0" cy="551.7" r="2.4" fill="#6747bf"/><circle cx="998.0" cy="559.6" r="2.4" fill="#e10068"/><circle cx="998.7" cy="550.0" r="2.4" fill="#c30084"/><circle cx="998.7" cy="546.6" r="2.4" fill="#e70061"/><circle cx="999.4" cy="558.4" r="2.4" fill="#ce007c"/><circle cx="999.4" cy="562.9" r="2.4" fill="#cb007e"/><circle cx="1000.1" cy="553.1" r="2.4" fill="#1c5cd3"/><circle cx="1000.1" cy="555.7" r="2.4" fill="#d90072"/><circle cx="1000.8" cy="545.9" r="2.4" fill="#e60062"/><circle cx="1001.5" cy="545.6" r="2.4" fill="#0062d8"/><circle cx="1001.5" cy="559.0" r="2.4" fill="#e9005c"/><circle cx="1002.2" cy="544.1" r="2.4" fill="#2e5ad1"/><circle cx="1002.2" cy="559.7" r="2.4" fill="#7c39b2"/><circle cx="1002.9" cy="556.9" r="2.4" fill="#5f4bc3"/><circle cx="1002.9" cy="559.3" r="2.4" fill="#d10079"/><circle cx="1003.6" cy="557.7" r="2.4" fill="#7041ba"/><circle cx="1004.3" cy="559.5" r="2.4" fill="#205cd3"/><circle cx="1005.0" cy="549.0" r="2.4" fill="#006bdd"/><circle cx="1005.0" cy="549.3" r="2.4" fill="#0062d8"/><circle cx="1005.7" cy="549.9" r="2.4" fill="#b3008e"/><circle cx="1005.7" cy="559.7" r="2.4" fill="#006dde"/><circle cx="1006.4" cy="563.0" r="2.4" fill="#145dd4"/><circle cx="1006.4" cy="546.5" r="2.4" fill="#c90080"/><circle cx="1007.1" cy="556.4" r="2.4" fill="#de006b"/><circle cx="1007.1" cy="556.7" r="2.4" fill="#db006f"/><circle cx="1007.8" cy="548.8" r="2.4" fill="#cf007a"/><circle cx="1008.5" cy="552.1" r="2.4" fill="#0071e0"/><circle cx="1009.2" cy="556.0" r="2.4" fill="#584dc6"/><circle cx="1009.9" cy="560.0" r="2.4" fill="#d30077"/><circle cx="1010.6" cy="559.6" r="2.4" fill="#be0087"/><circle cx="1010.6" cy="556.0" r="2.4" fill="#971a99"/><circle cx="1011.3" cy="552.8" r="2.4" fill="#0075e1"/><circle cx="1012.0" cy="548.0" r="2.4" fill="#4355cd"/><circle cx="1012.7" cy="547.8" r="2.4" fill="#006edf"/><circle cx="1012.7" cy="554.3" r="2.4" fill="#006bdd"/><circle cx="1013.4" cy="553.6" r="2.4" fill="#4953cb"/><circle cx="1013.4" cy="557.1" r="2.4" fill="#b6008c"/><circle cx="1014.2" cy="547.9" r="2.4" fill="#ac0491"/><circle cx="1014.9" cy="549.2" r="2.4" fill="#0061d7"/><circle cx="1015.6" cy="550.4" r="2.4" fill="#0075e1"/><circle cx="1016.3" cy="557.9" r="2.4" fill="#0069dc"/><circle cx="1017.0" cy="554.5" r="2.4" fill="#2f59d1"/><circle cx="1020.5" cy="554.7" r="2.4" fill="#185dd3"/>
<circle cx="954.7" cy="554.0" r="2.8" fill="#ef0048"/>
<text x="805.9 815.6 825.0 829.5 840.6" y="559.2" font-size="14.00" fill="#3a3a3a" font-family="Liberation Sans" stroke="#3a3a3a" stroke-width="0.30">CS.D2</text>
<linearGradient id="g41" gradientUnits="userSpaceOnUse" x1="963.1" y1="0" x2="1024.7" y2="0"><stop offset="0.0000" stop-color="#0069dc"/><stop offset="0.1526" stop-color="#0063d8"/><stop offset="0.3295" stop-color="#5c4cc4"/><stop offset="0.4692" stop-color="#911e9b"/><stop offset="0.6282" stop-color="#db006f"/><stop offset="0.7695" stop-color="#e30066"/><stop offset="0.8393" stop-color="#225bd3"/><stop offset="1.0000" stop-color="#006fdf"/></linearGradient>
<path d="M965.7,583.2 966.4,583.1 967.1,583.1 967.8,583.0 968.5,582.9 969.2,582.8 969.9,582.7 970.6,582.6 971.3,582.4 972.0,582.3 972.8,582.2 973.5,582.0 974.2,581.8 974.9,581.7 975.6,581.5 976.3,581.2 977.0,580.9 977.7,580.6 978.4,580.3 979.1,579.9 979.8,579.6 980.5,579.5 981.2,579.6 981.9,580.0 982.6,580.3 983.3,580.3 984.0,579.8 984.7,579.1 985.4,578.6 986.1,578.4 986.9,578.6 987.6,578.9 988.3,579.2 989.0,579.3 989.7,579.3 990.4,579.1 991.1,579.0 991.8,578.9 992.5,578.7 993.2,578.3 993.9,578.0 994.6,577.6 995.3,577.0 996.0,576.2 996.7,575.0 997.4,574.0 998.1,573.4 998.8,573.5 999.5,574.2 1000.2,575.0 1001.0,575.4 1001.7,575.4 1002.4,574.8 1003.1,574.1 1003.8,573.6 1004.5,573.3 1005.2,573.3 1005.9,573.5 1006.6,573.6 1007.3,573.7 1008.0,573.9 1008.7,574.2 1009.4,574.7 1010.1,575.5 1010.8,576.5 1011.5,578.1 1012.2,579.6 1012.9,580.9 1013.6,581.8 1014.3,582.3 1015.1,582.5 1015.8,582.6 1016.5,582.8 1017.2,582.9 1017.9,583.0 1018.6,583.0 1019.3,583.1 1020.0,583.2 1020.7,583.2 1021.4,583.2 1022.1,583.2 1022.1,583.2 1023.1,583.4 1023.9,584.0 1024.5,584.9 1024.7,586.0 1024.5,587.1 1023.9,588.0 1023.1,588.6 1022.1,588.8 1022.1,588.8 1021.4,588.8 1020.7,588.9 1020.0,588.9 1019.3,588.9 1018.6,589.0 1017.9,589.1 1017.2,589.2 1016.5,589.3 1015.8,589.4 1015.1,589.5 1014.3,589.8 1013.6,590.2 1012.9,590.6 1012.2,591.1 1011.5,592.0 1010.8,593.2 1010.1,594.3 1009.4,595.1 1008.7,595.6 1008.0,596.0 1007.3,596.6 1006.6,597.6 1005.9,598.7 1005.2,599.6 1004.5,600.0 1003.8,600.0 1003.1,599.9 1002.4,599.9 1001.7,600.0 1001.0,599.8 1000.2,599.3 999.5,598.4 998.8,597.5 998.1,596.9 997.4,596.7 996.7,596.6 996.0,596.3 995.3,595.6 994.6,594.7 993.9,593.8 993.2,593.4 992.5,593.4 991.8,593.8 991.1,594.0 990.4,594.2 989.7,594.4 989.0,594.7 988.3,594.9 987.6,595.0 986.9,594.6 986.1,593.8 985.4,592.8 984.7,592.1 984.0,591.8 983.3,591.8 982.6,591.9 981.9,591.8 981.2,591.6 980.5,591.3 979.8,591.2 979.1,591.2 978.4,591.1 977.7,591.1 977.0,590.9 976.3,590.8 975.6,590.6 974.9,590.3 974.2,590.1 973.5,589.9 972.8,589.8 972.0,589.7 971.3,589.6 970.6,589.5 969.9,589.4 969.2,589.3 968.5,589.2 967.8,589.1 967.1,589.0 966.4,588.9 965.7,588.8 965.7,588.8 964.7,588.6 963.9,588.0 963.3,587.1 963.1,586.0 963.3,584.9 963.9,584.0 964.7,583.4 965.7,583.2Z" fill="url(#g41)"/>
<circle cx="969.9" cy="586.5" r="2.4" fill="#4055cd"/><circle cx="974.2" cy="584.8" r="2.4" fill="#0075e1"/><circle cx="977.0" cy="588.1" r="2.4" fill="#0072e0"/><circle cx="978.4" cy="583.5" r="2.4" fill="#006add"/><circle cx="980.5" cy="588.9" r="2.4" fill="#0075e1"/><circle cx="981.2" cy="588.6" r="2.4" fill="#006bdd"/><circle cx="981.9" cy="584.6" r="2.4" fill="#0075e1"/><circle cx="982.6" cy="586.9" r="2.4" fill="#0060d6"/><circle cx="983.3" cy="588.1" r="2.4" fill="#c30084"/><circle cx="984.0" cy="582.2" r="2.4" fill="#006add"/><circle cx="986.1" cy="584.1" r="2.4" fill="#005fd5"/><circle cx="986.9" cy="584.8" r="2.4" fill="#0062d7"/><circle cx="988.3" cy="584.9" r="2.4" fill="#005ed5"/><circle cx="989.7" cy="581.9" r="2.4" fill="#006cde"/><circle cx="990.4" cy="584.4" r="2.4" fill="#0063d8"/><circle cx="991.1" cy="588.0" r="2.4" fill="#275bd2"/><circle cx="991.8" cy="582.7" r="2.4" fill="#e10068"/><circle cx="992.5" cy="584.4" r="2.4" fill="#ea005b"/><circle cx="993.2" cy="584.6" r="2.4" fill="#e20067"/><circle cx="993.9" cy="588.4" r="2.4" fill="#cc007d"/><circle cx="994.6" cy="589.7" r="2.4" fill="#e60061"/><circle cx="995.3" cy="581.0" r="2.4" fill="#cd007c"/><circle cx="995.3" cy="590.5" r="2.4" fill="#ef0053"/><circle cx="996.0" cy="586.9" r="2.4" fill="#ef0048"/><circle cx="996.7" cy="588.3" r="2.4" fill="#8133ad"/><circle cx="997.4" cy="590.5" r="2.4" fill="#5a4dc5"/><circle cx="998.1" cy="583.1" r="2.4" fill="#ef004f"/><circle cx="998.8" cy="592.2" r="2.4" fill="#e7005f"/><circle cx="999.5" cy="591.3" r="2.4" fill="#af008f"/><circle cx="1000.2" cy="593.0" r="2.4" fill="#e9005c"/><circle cx="1001.0" cy="590.1" r="2.4" fill="#ef004d"/><circle cx="1001.0" cy="585.2" r="2.4" fill="#ef0048"/><circle cx="1001.7" cy="577.4" r="2.4" fill="#ef0048"/><circle cx="1002.4" cy="587.3" r="2.4" fill="#ef0048"/><circle cx="1003.1" cy="585.7" r="2.4" fill="#ef0048"/><circle cx="1003.8" cy="587.4" r="2.4" fill="#971a9a"/><circle cx="1003.8" cy="576.4" r="2.4" fill="#bd0088"/><circle cx="1004.5" cy="581.8" r="2.4" fill="#eb0059"/><circle cx="1004.5" cy="595.3" r="2.4" fill="#eb0059"/><circle cx="1005.2" cy="594.7" r="2.4" fill="#ef004f"/><circle cx="1005.9" cy="583.7" r="2.4" fill="#ed0056"/><circle cx="1007.3" cy="582.7" r="2.4" fill="#ef0048"/><circle cx="1008.7" cy="592.1" r="2.4" fill="#ef0048"/><circle cx="1009.4" cy="587.9" r="2.4" fill="#ef0048"/><circle cx="1010.1" cy="582.6" r="2.4" fill="#ef0048"/><circle cx="1011.5" cy="585.0" r="2.4" fill="#a90993"/>
<text x="763.8 773.6 782.9 787.5 798.5 807.1 811.0 820.2 830.5 840.6" y="591.3" font-size="14.00" fill="#3a3a3a" font-family="Liberation Sans" stroke="#3a3a3a" stroke-width="0.30">CS.D3.SUB1</text>
<linearGradient id="g42" gradientUnits="userSpaceOnUse" x1="967.4" y1="0" x2="1025.2" y2="0"><stop offset="0.0000" stop-color="#0069dc"/><stop offset="0.2180" stop-color="#5c4cc4"/><stop offset="0.3910" stop-color="#c80080"/><stop offset="0.5709" stop-color="#d20078"/><stop offset="0.7716" stop-color="#e9005c"/><stop offset="1.0000" stop-color="#ef0048"/></linearGradient>
<path d="M970.0,615.3 970.7,615.2 971.4,615.1 972.1,615.0 972.8,614.9 973.5,614.8 974.2,614.6 974.9,614.5 975.6,614.4 976.3,614.2 977.0,614.1 977.7,613.9 978.4,613.7 979.1,613.5 979.8,613.4 980.5,613.5 981.2,613.7 981.9,613.8 982.6,613.8 983.3,613.5 984.0,613.0 984.7,612.4 985.4,612.1 986.1,611.9 986.8,611.7 987.5,611.4 988.2,610.9 988.9,610.6 989.6,610.6 990.3,610.8 991.0,611.2 991.7,611.2 992.4,610.7 993.1,609.8 993.8,609.0 994.5,608.4 995.2,608.2 995.9,608.1 996.7,608.0 997.4,607.7 998.1,607.3 998.8,606.8 999.5,606.1 1000.2,605.2 1000.9,604.5 1001.6,604.0 1002.3,604.0 1003.0,604.4 1003.7,605.1 1004.4,605.8 1005.1,606.3 1005.8,606.6 1006.5,607.0 1007.2,607.4 1007.9,607.8 1008.6,608.0 1009.3,608.0 1010.0,607.7 1010.7,607.3 1011.4,607.2 1012.1,607.4 1012.8,608.0 1013.5,608.9 1014.2,609.9 1014.9,610.7 1015.6,611.3 1016.3,611.9 1017.0,612.5 1017.7,613.0 1018.4,613.5 1019.1,613.9 1019.8,614.2 1020.5,614.4 1021.2,614.6 1021.9,614.9 1022.6,615.3 1022.6,615.3 1023.6,615.5 1024.4,616.1 1025.0,617.0 1025.2,618.1 1025.0,619.2 1024.4,620.1 1023.6,620.7 1022.6,620.9 1022.6,620.9 1021.9,621.3 1021.2,621.7 1020.5,622.1 1019.8,622.6 1019.1,623.1 1018.4,623.6 1017.7,624.1 1017.0,624.6 1016.3,625.0 1015.6,625.0 1014.9,624.8 1014.2,624.5 1013.5,624.6 1012.8,625.3 1012.1,626.3 1011.4,627.3 1010.7,628.0 1010.0,628.3 1009.3,628.5 1008.6,628.4 1007.9,628.4 1007.2,628.5 1006.5,629.0 1005.8,629.5 1005.1,629.7 1004.4,629.4 1003.7,628.7 1003.0,628.2 1002.3,628.2 1001.6,628.7 1000.9,629.4 1000.2,629.9 999.5,629.8 998.8,629.3 998.1,628.5 997.4,627.7 996.7,627.2 995.9,627.4 995.2,627.8 994.5,628.2 993.8,628.3 993.1,628.2 992.4,628.1 991.7,628.0 991.0,627.8 990.3,627.6 989.6,627.4 988.9,627.2 988.2,627.0 987.5,626.8 986.8,626.4 986.1,625.7 985.4,624.7 984.7,623.7 984.0,623.0 983.3,622.7 982.6,622.6 981.9,622.6 981.2,622.7 980.5,622.7 979.8,622.6 979.1,622.6 978.4,622.5 977.7,622.3 977.0,622.1 976.3,621.9 975.6,621.8 974.9,621.7 974.2,621.5 973.5,621.4 972.8,621.3 972.1,621.2 971.4,621.1 970.7,621.0 970.0,620.9 970.0,620.9 969.0,620.7 968.2,620.1 967.6,619.2 967.4,618.1 967.6,617.0 968.2,616.1 969.0,615.5 970.0,615.3Z" fill="url(#g42)"/>
<circle cx="979.1" cy="616.7" r="2.4" fill="#0062d8"/><circle cx="980.5" cy="616.2" r="2.4" fill="#0075e1"/><circle cx="981.2" cy="616.6" r="2.4" fill="#0073e0"/><circle cx="981.9" cy="615.5" r="2.4" fill="#ba008a"/><circle cx="982.6" cy="619.7" r="2.4" fill="#4055cd"/><circle cx="984.0" cy="619.6" r="2.4" fill="#594dc6"/><circle cx="984.7" cy="618.7" r="2.4" fill="#b5008c"/><circle cx="985.4" cy="615.6" r="2.4" fill="#4e51ca"/><circle cx="986.1" cy="621.5" r="2.4" fill="#e70060"/><circle cx="987.5" cy="615.4" r="2.4" fill="#e30065"/><circle cx="988.2" cy="614.3" r="2.4" fill="#cf007b"/><circle cx="988.9" cy="622.6" r="2.4" fill="#ed0056"/><circle cx="989.6" cy="616.2" r="2.4" fill="#d80072"/><circle cx="990.3" cy="617.8" r="2.4" fill="#ef004b"/><circle cx="991.0" cy="616.7" r="2.4" fill="#9e1597"/><circle cx="992.4" cy="624.5" r="2.4" fill="#6a45be"/><circle cx="992.4" cy="624.9" r="2.4" fill="#8a2aa4"/><circle cx="993.1" cy="613.4" r="2.4" fill="#a50e94"/><circle cx="993.8" cy="622.2" r="2.4" fill="#ef0048"/><circle cx="994.5" cy="623.1" r="2.4" fill="#8332ab"/><circle cx="995.2" cy="613.6" r="2.4" fill="#ef0048"/><circle cx="995.9" cy="619.0" r="2.4" fill="#e00069"/><circle cx="996.7" cy="624.1" r="2.4" fill="#ac0291"/><circle cx="997.4" cy="613.9" r="2.4" fill="#951c9a"/><circle cx="998.1" cy="619.5" r="2.4" fill="#e40064"/><circle cx="998.8" cy="626.3" r="2.4" fill="#ef0048"/><circle cx="998.8" cy="627.2" r="2.4" fill="#ef0048"/><circle cx="999.5" cy="624.0" r="2.4" fill="#e70060"/><circle cx="1000.2" cy="620.8" r="2.4" fill="#ef0052"/><circle cx="1000.2" cy="617.4" r="2.4" fill="#ef0048"/><circle cx="1000.9" cy="618.8" r="2.4" fill="#ab0491"/><circle cx="1001.6" cy="625.4" r="2.4" fill="#e50062"/><circle cx="1002.3" cy="613.0" r="2.4" fill="#ec0058"/><circle cx="1003.0" cy="617.9" r="2.4" fill="#ef0048"/><circle cx="1003.7" cy="627.5" r="2.4" fill="#a31095"/><circle cx="1003.7" cy="627.1" r="2.4" fill="#ef0048"/><circle cx="1004.4" cy="627.3" r="2.4" fill="#ef0048"/><circle cx="1004.4" cy="614.8" r="2.4" fill="#ef0048"/><circle cx="1005.1" cy="616.1" r="2.4" fill="#ef0048"/><circle cx="1005.1" cy="626.0" r="2.4" fill="#ef0048"/><circle cx="1005.8" cy="619.1" r="2.4" fill="#ec0057"/><circle cx="1006.5" cy="617.5" r="2.4" fill="#ef0048"/><circle cx="1007.2" cy="615.4" r="2.4" fill="#a21195"/><circle cx="1007.9" cy="618.4" r="2.4" fill="#ef0048"/><circle cx="1008.6" cy="623.1" r="2.4" fill="#ef0048"/><circle cx="1009.3" cy="612.6" r="2.4" fill="#ef0048"/><circle cx="1010.0" cy="624.4" r="2.4" fill="#ef0048"/><circle cx="1010.7" cy="619.2" r="2.4" fill="#ef0048"/><circle cx="1011.4" cy="623.2" r="2.4" fill="#b9008a"/><circle cx="1012.1" cy="618.6" r="2.4" fill="#ef0048"/><circle cx="1013.5" cy="614.5" r="2.4" fill="#ef0048"/><circle cx="1014.2" cy="615.0" r="2.4" fill="#ef0048"/><circle cx="1014.9" cy="614.4" r="2.4" fill="#ef0048"/><circle cx="1021.2" cy="619.1" r="2.4" fill="#ef0048"/>
<text x="763.8 773.6 782.9 787.5 798.5 807.1 811.0 820.2 830.5 840.6" y="623.4" font-size="14.00" fill="#3a3a3a" font-family="Liberation Sans" stroke="#3a3a3a" stroke-width="0.30">CS.D3.SUB2</text>
<linearGradient id="g43" gradientUnits="userSpaceOnUse" x1="985.2" y1="0" x2="1025.2" y2="0"><stop offset="0.0000" stop-color="#c80080"/><stop offset="0.1200" stop-color="#c80080"/><stop offset="0.2250" stop-color="#c80080"/><stop offset="0.3700" stop-color="#911e9b"/><stop offset="0.4950" stop-color="#0069dc"/><stop offset="1.0000" stop-color="#0075e1"/></linearGradient>
<path d="M987.6,647.4 988.3,644.7 989.0,642.3 989.7,640.4 990.4,639.6 991.1,639.0 991.8,638.5 992.5,638.4 993.2,638.7 993.9,639.0 994.6,639.2 995.3,639.2 996.0,639.0 996.7,639.1 997.4,639.4 998.1,640.2 998.8,641.4 999.5,642.7 1000.2,643.9 1000.9,644.7 1001.6,644.7 1002.3,644.6 1003.0,644.6 1003.7,644.8 1004.4,645.1 1005.1,645.3 1005.8,645.6 1006.5,645.9 1007.2,646.0 1007.9,646.0 1008.6,645.9 1009.3,645.8 1010.0,645.8 1010.7,645.9 1011.4,646.1 1012.1,646.3 1012.8,646.5 1013.5,646.7 1014.2,646.8 1014.9,646.9 1015.6,646.9 1016.3,647.0 1017.0,647.1 1017.7,647.2 1018.4,647.2 1019.1,647.3 1019.8,647.3 1020.5,647.3 1021.2,647.3 1021.9,647.4 1022.6,647.4 1022.6,647.4 1023.6,647.6 1024.4,648.2 1025.0,649.1 1025.2,650.2 1025.0,651.2 1024.4,652.1 1023.6,652.7 1022.6,653.0 1022.6,653.0 1021.9,653.0 1021.2,653.0 1020.5,653.0 1019.8,653.0 1019.1,653.1 1018.4,653.1 1017.7,653.2 1017.0,653.2 1016.3,653.3 1015.6,653.4 1014.9,653.5 1014.2,653.6 1013.5,653.7 1012.8,653.7 1012.1,653.7 1011.4,653.8 1010.7,653.9 1010.0,654.2 1009.3,654.4 1008.6,654.7 1007.9,654.8 1007.2,654.7 1006.5,654.6 1005.8,654.5 1005.1,654.4 1004.4,654.5 1003.7,654.8 1003.0,655.1 1002.3,655.4 1001.6,655.6 1000.9,656.0 1000.2,656.7 999.5,657.6 998.8,658.5 998.1,659.2 997.4,659.9 996.7,660.7 996.0,661.5 995.3,662.0 994.6,662.2 993.9,662.1 993.2,661.7 992.5,661.3 991.8,660.9 991.1,660.2 990.4,659.4 989.7,658.4 989.0,656.4 988.3,654.6 987.6,653.0 987.6,653.0 986.7,652.7 985.9,652.1 985.4,651.2 985.2,650.2 985.4,649.1 985.9,648.2 986.7,647.6 987.6,647.4Z" fill="url(#g43)"/>
<circle cx="990.4" cy="648.0" r="2.4" fill="#e40065"/><circle cx="991.8" cy="648.3" r="2.4" fill="#8134ad"/><circle cx="992.5" cy="652.6" r="2.4" fill="#ef0053"/><circle cx="993.2" cy="656.0" r="2.4" fill="#ed0055"/><circle cx="995.3" cy="654.2" r="2.4" fill="#ef0048"/><circle cx="996.0" cy="653.1" r="2.4" fill="#d50075"/><circle cx="996.7" cy="648.3" r="2.4" fill="#e60062"/><circle cx="999.5" cy="646.3" r="2.4" fill="#d90071"/><circle cx="1000.2" cy="652.1" r="2.4" fill="#c10085"/><circle cx="1003.7" cy="650.2" r="2.4" fill="#006adc"/><circle cx="1005.8" cy="650.9" r="2.4" fill="#0075e1"/><circle cx="1006.5" cy="650.3" r="2.4" fill="#8f239f"/><circle cx="1008.6" cy="649.7" r="2.4" fill="#3558d0"/><circle cx="1012.1" cy="651.3" r="2.4" fill="#0075e1"/><circle cx="1012.8" cy="651.3" r="2.4" fill="#0075e1"/>
<text x="737.5 747.2 756.1 764.7 772.5 781.5 786.6 790.4 799.2 807.8 812.0 820.2 828.8 836.8 845.4" y="655.5" font-size="14.00" fill="#3a3a3a" font-family="Liberation Sans" stroke="#3a3a3a" stroke-width="0.30">Education Level</text>
<linearGradient id="g44" gradientUnits="userSpaceOnUse" x1="984.3" y1="0" x2="1006.0" y2="0"><stop offset="0.0000" stop-color="#af008f"/><stop offset="0.1244" stop-color="#af008f"/><stop offset="0.3088" stop-color="#af008f"/><stop offset="0.5576" stop-color="#af008f"/><stop offset="0.8157" stop-color="#af008f"/><stop offset="0.9078" stop-color="#af008f"/><stop offset="1.0000" stop-color="#af008f"/></linearGradient>
<path d="M985.6,678.9 986.4,676.7 987.1,674.3 987.8,673.0 988.5,672.0 989.2,671.2 989.9,670.6 990.7,670.2 991.4,669.7 992.1,669.3 992.8,669.0 993.5,668.8 994.2,668.6 995.0,668.4 995.7,667.9 996.4,667.4 997.1,667.0 997.8,666.8 998.5,667.1 999.3,667.6 1000.0,668.1 1000.7,668.6 1001.4,669.0 1002.1,669.5 1002.9,670.5 1003.6,672.1 1004.3,674.3 1005.0,678.9 1005.0,678.9 1005.4,679.2 1005.7,679.9 1005.9,681.0 1006.0,682.2 1005.9,683.5 1005.7,684.6 1005.4,685.3 1005.0,685.5 1005.0,685.5 1004.3,690.0 1003.6,692.5 1002.9,694.2 1002.1,695.4 1001.4,695.9 1000.7,695.9 1000.0,695.5 999.3,695.2 998.5,695.5 997.8,696.4 997.1,697.6 996.4,698.8 995.7,699.4 995.0,699.2 994.2,698.0 993.5,696.4 992.8,695.2 992.1,694.8 991.4,695.0 990.7,695.1 989.9,694.9 989.2,694.4 988.5,693.7 987.8,692.7 987.1,691.4 986.4,688.8 985.6,685.5 985.6,685.5 985.1,685.3 984.7,684.6 984.4,683.5 984.3,682.2 984.4,681.0 984.7,679.9 985.1,679.2 985.6,678.9Z" fill="url(#g44)"/>
<circle cx="986.4" cy="680.7" r="2.4" fill="#ef0051"/><circle cx="987.1" cy="677.4" r="2.4" fill="#e9005d"/><circle cx="987.1" cy="679.3" r="2.4" fill="#0075e1"/><circle cx="987.8" cy="686.7" r="2.4" fill="#eb0059"/><circle cx="987.8" cy="689.4" r="2.4" fill="#005fd5"/><circle cx="988.5" cy="684.3" r="2.4" fill="#e30065"/><circle cx="988.5" cy="682.0" r="2.4" fill="#e50063"/><circle cx="989.2" cy="689.2" r="2.4" fill="#ec0057"/><circle cx="989.2" cy="675.7" r="2.4" fill="#3957cf"/><circle cx="989.9" cy="674.0" r="2.4" fill="#ec0058"/><circle cx="989.9" cy="681.8" r="2.4" fill="#005ed5"/><circle cx="990.7" cy="676.1" r="2.4" fill="#0066da"/><circle cx="990.7" cy="685.7" r="2.4" fill="#ea005b"/><circle cx="991.4" cy="680.4" r="2.4" fill="#ef004f"/><circle cx="991.4" cy="682.7" r="2.4" fill="#ec0058"/><circle cx="991.4" cy="683.6" r="2.4" fill="#ed0055"/><circle cx="992.1" cy="685.1" r="2.4" fill="#135dd4"/><circle cx="992.1" cy="674.0" r="2.4" fill="#e8005e"/><circle cx="992.8" cy="690.1" r="2.4" fill="#ef004f"/><circle cx="992.8" cy="672.4" r="2.4" fill="#ed0056"/><circle cx="993.5" cy="687.0" r="2.4" fill="#4155cd"/><circle cx="993.5" cy="677.4" r="2.4" fill="#0071e0"/><circle cx="994.2" cy="676.0" r="2.4" fill="#e9005d"/><circle cx="994.2" cy="686.5" r="2.4" fill="#0071e0"/><circle cx="995.0" cy="692.1" r="2.4" fill="#ef004e"/><circle cx="995.0" cy="692.8" r="2.4" fill="#e40064"/><circle cx="995.0" cy="689.1" r="2.4" fill="#006cde"/><circle cx="995.7" cy="686.4" r="2.4" fill="#ef0052"/><circle cx="995.7" cy="688.4" r="2.4" fill="#ed0056"/><circle cx="996.4" cy="673.1" r="2.4" fill="#ef004f"/><circle cx="996.4" cy="692.7" r="2.4" fill="#3159d0"/><circle cx="996.4" cy="681.5" r="2.4" fill="#ef004b"/><circle cx="997.1" cy="684.1" r="2.4" fill="#006edf"/><circle cx="997.1" cy="691.5" r="2.4" fill="#ee0054"/><circle cx="997.1" cy="678.9" r="2.4" fill="#ef004a"/><circle cx="997.8" cy="676.3" r="2.4" fill="#005fd5"/><circle cx="997.8" cy="682.1" r="2.4" fill="#0065d9"/><circle cx="997.8" cy="676.0" r="2.4" fill="#e9005d"/><circle cx="998.5" cy="675.1" r="2.4" fill="#006bdd"/><circle cx="998.5" cy="675.9" r="2.4" fill="#ec0058"/><circle cx="998.5" cy="673.3" r="2.4" fill="#e60062"/><circle cx="999.3" cy="674.8" r="2.4" fill="#ef004a"/><circle cx="999.3" cy="673.1" r="2.4" fill="#ef004e"/><circle cx="1000.0" cy="675.3" r="2.4" fill="#ed0056"/><circle cx="1000.0" cy="686.8" r="2.4" fill="#0065d9"/><circle cx="1000.7" cy="673.5" r="2.4" fill="#ef004c"/><circle cx="1000.7" cy="677.6" r="2.4" fill="#0f5dd4"/><circle cx="1000.7" cy="672.9" r="2.4" fill="#ec0058"/><circle cx="1001.4" cy="675.2" r="2.4" fill="#0071e0"/><circle cx="1001.4" cy="684.3" r="2.4" fill="#0074e1"/><circle cx="1001.4" cy="677.7" r="2.4" fill="#ec0058"/><circle cx="1002.1" cy="686.6" r="2.4" fill="#e9005d"/><circle cx="1002.1" cy="683.0" r="2.4" fill="#e40064"/><circle cx="1002.9" cy="686.9" r="2.4" fill="#0073e0"/><circle cx="1002.9" cy="683.1" r="2.4" fill="#ef004b"/><circle cx="1003.6" cy="676.9" r="2.4" fill="#ec0058"/><circle cx="1003.6" cy="681.5" r="2.4" fill="#0064d9"/><circle cx="1004.3" cy="685.8" r="2.4" fill="#ec0057"/>
<text x="823.1 832.7 841.5" y="687.5" font-size="14.00" fill="#3a3a3a" font-family="Liberation Sans" stroke="#3a3a3a" stroke-width="0.30">Sex</text>
<line x1="874.0" y1="714.5" x2="1235.0" y2="714.5" stroke="#333" stroke-width="1.2"/>
<line x1="898.0" y1="714.5" x2="898.0" y2="719.0" stroke="#333" stroke-width="1.1"/>
<text x="890.8 899.7" y="730.8" font-size="11.85" fill="#333" font-family="Liberation Sans" stroke="#333" stroke-width="0.30">−4</text>
<line x1="947.8" y1="714.5" x2="947.8" y2="719.0" stroke="#333" stroke-width="1.1"/>
<text x="940.6 949.5" y="730.8" font-size="11.85" fill="#333" font-family="Liberation Sans" stroke="#333" stroke-width="0.30">−2</text>
<line x1="997.6" y1="714.5" x2="997.6" y2="719.0" stroke="#333" stroke-width="1.1"/>
<text x="994.3" y="730.8" font-size="11.85" fill="#333" font-family="Liberation Sans" stroke="#333" stroke-width="0.30">0</text>
<line x1="1047.4" y1="714.5" x2="1047.4" y2="719.0" stroke="#333" stroke-width="1.1"/>
<text x="1044.1" y="730.8" font-size="11.85" fill="#333" font-family="Liberation Sans" stroke="#333" stroke-width="0.30">2</text>
<line x1="1097.2" y1="714.5" x2="1097.2" y2="719.0" stroke="#333" stroke-width="1.1"/>
<text x="1093.9" y="730.8" font-size="11.85" fill="#333" font-family="Liberation Sans" stroke="#333" stroke-width="0.30">4</text>
<line x1="1147.0" y1="714.5" x2="1147.0" y2="719.0" stroke="#333" stroke-width="1.1"/>
<text x="1143.7" y="730.8" font-size="11.85" fill="#333" font-family="Liberation Sans" stroke="#333" stroke-width="0.30">6</text>
<line x1="1196.8" y1="714.5" x2="1196.8" y2="719.0" stroke="#333" stroke-width="1.1"/>
<text x="1193.5" y="730.8" font-size="11.85" fill="#333" font-family="Liberation Sans" stroke="#333" stroke-width="0.30">8</text>
<text x="922.5 931.8 942.2 951.2 960.4 965.2 973.2 981.8 985.9 994.6 1003.1 1007.7 1013.1 1017.6 1030.8 1039.5 1048.1 1056.2 1061.2 1065.7 1074.5 1083.1 1088.2 1101.3 1110.0 1118.7 1127.3 1131.1 1135.7 1144.4 1153.5 1158.8 1167.6 1176.8 1181.9" y="748.8" font-size="14.00" fill="#111" font-family="Liberation Sans" stroke="#111" stroke-width="0.30">SHAP value (impact on model output)</text>
<linearGradient id="cb45" x1="0" y1="0" x2="0" y2="1"><stop offset="0.000" stop-color="#ef0048"/><stop offset="0.050" stop-color="#ef0053"/><stop offset="0.100" stop-color="#e9005c"/><stop offset="0.150" stop-color="#e30066"/><stop offset="0.200" stop-color="#db006f"/><stop offset="0.250" stop-color="#d20078"/><stop offset="0.300" stop-color="#c80080"/><stop offset="0.350" stop-color="#bc0088"/><stop offset="0.400" stop-color="#af008f"/><stop offset="0.450" stop-color="#a11296"/><stop offset="0.500" stop-color="#911e9b"/><stop offset="0.550" stop-color="#882da7"/><stop offset="0.600" stop-color="#7c38b2"/><stop offset="0.650" stop-color="#6e43bc"/><stop offset="0.700" stop-color="#5c4cc4"/><stop offset="0.750" stop-color="#4654cc"/><stop offset="0.800" stop-color="#225bd3"/><stop offset="0.850" stop-color="#0063d8"/><stop offset="0.900" stop-color="#0069dc"/><stop offset="0.950" stop-color="#006fdf"/><stop offset="1.000" stop-color="#0075e1"/></linearGradient>
<rect x="1257.3" y="41.0" width="8.7" height="673.5" fill="url(#cb45)"/>
<text x="1270.2 1279.2 1282.7 1290.2" y="45.4" font-size="11.85" fill="#333" font-family="Liberation Sans" stroke="#333" stroke-width="0.30">High</text>
<text x="1270.0 1276.9 1284.2" y="719.0" font-size="11.85" fill="#333" font-family="Liberation Sans" stroke="#333" stroke-width="0.30">Low</text>
<text x="1263.2 1271.3 1278.5 1286.8 1291.6 1299.8 1304.9 1312.5 1316.9 1324.3 1332.2 1335.9 1344.0" y="377.7" font-size="12.90" fill="#333" font-family="Liberation Sans" transform="rotate(-90 1307.5 377.7)" stroke="#333" stroke-width="0.30">Feature value</text>
<rect x="95.5" y="907.2" width="43.1" height="246.1" fill="#c3ddf4"/>
<rect x="138.6" y="1143.0" width="43.1" height="10.3" fill="#c3ddf4"/>
<rect x="267.9" y="1149.3" width="43.1" height="4.0" fill="#c3ddf4"/>
<rect x="397.2" y="1152.6" width="43.1" height="0.7" fill="#c3ddf4"/>
<rect x="483.4" y="1108.7" width="43.1" height="44.6" fill="#c3ddf4"/>
<rect x="95.5" y="1149.3" width="43.1" height="4.0" fill="#e5b5b8"/>
<rect x="138.6" y="1152.2" width="43.1" height="1.1" fill="#e5b5b8"/>
<rect x="267.9" y="1151.6" width="43.1" height="1.7" fill="#e5b5b8"/>
<rect x="440.3" y="1152.6" width="43.1" height="0.7" fill="#e5b5b8"/>
<rect x="483.4" y="1110.1" width="43.1" height="43.2" fill="#e5b5b8"/>
<rect x="73.5" y="843.5" width="475.0" height="310.0" fill="none" stroke="#111" stroke-width="1.1"/>
<line x1="68.7" y1="1153.3" x2="73.5" y2="1153.3" stroke="#111" stroke-width="1.1"/>
<text x="55.2" y="1159.0" font-size="14.00" fill="#2323c8" font-family="Liberation Sans" stroke="#2323c8" stroke-width="0.30">0</text>
<line x1="68.7" y1="1096.1" x2="73.5" y2="1096.1" stroke="#111" stroke-width="1.1"/>
<text x="37.3 46.2 55.2" y="1101.8" font-size="14.00" fill="#2323c8" font-family="Liberation Sans" stroke="#2323c8" stroke-width="0.30">100</text>
<line x1="68.7" y1="1038.8" x2="73.5" y2="1038.8" stroke="#111" stroke-width="1.1"/>
<text x="37.3 46.2 55.2" y="1044.5" font-size="14.00" fill="#2323c8" font-family="Liberation Sans" stroke="#2323c8" stroke-width="0.30">200</text>
<line x1="68.7" y1="981.6" x2="73.5" y2="981.6" stroke="#111" stroke-width="1.1"/>
<text x="37.3 46.2 55.2" y="987.3" font-size="14.00" fill="#2323c8" font-family="Liberation Sans" stroke="#2323c8" stroke-width="0.30">300</text>
<line x1="68.7" y1="924.3" x2="73.5" y2="924.3" stroke="#111" stroke-width="1.1"/>
<text x="37.3 46.2 55.2" y="930.0" font-size="14.00" fill="#2323c8" font-family="Liberation Sans" stroke="#2323c8" stroke-width="0.30">400</text>
<line x1="68.7" y1="867.1" x2="73.5" y2="867.1" stroke="#111" stroke-width="1.1"/>
<text x="37.3 46.2 55.2" y="872.8" font-size="14.00" fill="#2323c8" font-family="Liberation Sans" stroke="#2323c8" stroke-width="0.30">500</text>
<line x1="548.5" y1="1140.0" x2="553.3" y2="1140.0" stroke="#111" stroke-width="1.1"/>
<text x="558.6 567.2 571.9" y="1145.1" font-size="14.00" fill="#dd1a1a" font-family="Liberation Sans" stroke="#dd1a1a" stroke-width="0.30">0.0</text>
<line x1="548.5" y1="1083.5" x2="553.3" y2="1083.5" stroke="#111" stroke-width="1.1"/>
<text x="558.6 567.2 571.9" y="1088.6" font-size="14.00" fill="#dd1a1a" font-family="Liberation Sans" stroke="#dd1a1a" stroke-width="0.30">0.2</text>
<line x1="548.5" y1="1027.0" x2="553.3" y2="1027.0" stroke="#111" stroke-width="1.1"/>
<text x="558.6 567.2 571.9" y="1032.1" font-size="14.00" fill="#dd1a1a" font-family="Liberation Sans" stroke="#dd1a1a" stroke-width="0.30">0.4</text>
<line x1="548.5" y1="970.4" x2="553.3" y2="970.4" stroke="#111" stroke-width="1.1"/>
<text x="558.6 567.2 571.9" y="975.5" font-size="14.00" fill="#dd1a1a" font-family="Liberation Sans" stroke="#dd1a1a" stroke-width="0.30">0.6</text>
<line x1="548.5" y1="913.9" x2="553.3" y2="913.9" stroke="#111" stroke-width="1.1"/>
<text x="558.6 567.2 571.9" y="919.0" font-size="14.00" fill="#dd1a1a" font-family="Liberation Sans" stroke="#dd1a1a" stroke-width="0.30">0.8</text>
<line x1="548.5" y1="857.4" x2="553.3" y2="857.4" stroke="#111" stroke-width="1.1"/>
<text x="558.6 567.2 571.9" y="862.5" font-size="14.00" fill="#dd1a1a" font-family="Liberation Sans" stroke="#dd1a1a" stroke-width="0.30">1.0</text>
<line x1="95.5" y1="1153.5" x2="95.5" y2="1158.3" stroke="#111" stroke-width="1.1"/>
<text x="84.9 93.6 98.3" y="1175.0" font-size="14.00" fill="#111" font-family="Liberation Sans" stroke="#111" stroke-width="0.30">0.0</text>
<line x1="181.7" y1="1153.5" x2="181.7" y2="1158.3" stroke="#111" stroke-width="1.1"/>
<text x="171.1 179.8 184.5" y="1175.0" font-size="14.00" fill="#111" font-family="Liberation Sans" stroke="#111" stroke-width="0.30">0.2</text>
<line x1="267.9" y1="1153.5" x2="267.9" y2="1158.3" stroke="#111" stroke-width="1.1"/>
<text x="257.3 266.0 270.7" y="1175.0" font-size="14.00" fill="#111" font-family="Liberation Sans" stroke="#111" stroke-width="0.30">0.4</text>
<line x1="354.1" y1="1153.5" x2="354.1" y2="1158.3" stroke="#111" stroke-width="1.1"/>
<text x="343.5 352.2 356.9" y="1175.0" font-size="14.00" fill="#111" font-family="Liberation Sans" stroke="#111" stroke-width="0.30">0.6</text>
<line x1="440.3" y1="1153.5" x2="440.3" y2="1158.3" stroke="#111" stroke-width="1.1"/>
<text x="429.7 438.4 443.1" y="1175.0" font-size="14.00" fill="#111" font-family="Liberation Sans" stroke="#111" stroke-width="0.30">0.8</text>
<line x1="526.5" y1="1153.5" x2="526.5" y2="1158.3" stroke="#111" stroke-width="1.1"/>
<text x="515.9 524.6 529.3" y="1175.0" font-size="14.00" fill="#111" font-family="Liberation Sans" stroke="#111" stroke-width="0.30">1.0</text>
<text x="237.8 247.3 252.6 261.1 269.8 273.6 281.8 286.9 295.7 304.3 309.0 317.9 323.5 331.9 340.6 349.4 358.1 362.0 365.9 370.2 375.5" y="1194.0" font-size="14.00" fill="#111" font-family="Liberation Sans" stroke="#111" stroke-width="0.30">Predicted probability</text>
<text x="-14.3 -4.8 4.4 17.6 26.3 30.2 38.7 43.0 50.6 54.3 61.8" y="998.0" font-size="14.00" fill="#2323c8" font-family="Liberation Sans" transform="rotate(-90 28.0 998.0)" stroke="#2323c8" stroke-width="0.30">Sample size</text>
<text x="525.7 537.2 545.7 553.2 562.0 567.8 575.9 584.7 593.3 598.0 606.9 612.5 620.9 629.6 638.3 644.3 649.4 653.3 662.0" y="999.0" font-size="14.00" fill="#dd1a1a" font-family="Liberation Sans" transform="rotate(-90 598.0 999.0)" stroke="#dd1a1a" stroke-width="0.30">Observed proportion</text>
<text x="151.6 164.1 174.5 179.3 184.2 195.0 201.8 212.7 218.9 223.6 234.2 244.6 249.5 262.2 273.0 280.1 289.9 300.2 305.7 312.0 324.2 331.0 335.8 346.4 353.0 358.3 367.4 376.8 387.4 394.2 404.3 409.9 415.6 426.1 431.8 442.6 453.4 464.1" y="835.0" font-size="17.00" fill="#111" font-family="Liberation Sans" stroke="#111" stroke-width="0.30">Calibration Curve (Brier score: 0.029)</text>
<line x1="95.5" y1="1140.0" x2="526.5" y2="857.4" stroke="#111" stroke-width="2.1" stroke-dasharray="7.4 3.2"/>
<polyline points="101.9,1134.7 151.8,1094.9 287.0,998.2 432.0,970.4 526.3,864.7" fill="none" stroke="#e00000" stroke-width="2.1"/>
<rect x="96.9" y="1129.7" width="10" height="10" fill="#e00000"/>
<rect x="146.8" y="1089.9" width="10" height="10" fill="#e00000"/>
<rect x="282.0" y="993.2" width="10" height="10" fill="#e00000"/>
<rect x="427.0" y="965.4" width="10" height="10" fill="#e00000"/>
<rect x="521.3" y="859.7" width="10" height="10" fill="#e00000"/>
<rect x="81.4" y="850.5" width="189.2" height="44.6" rx="3" fill="#fff" fill-opacity="0.8" stroke="#d8d8d8" stroke-width="1"/>
<line x1="86.1" y1="861.4" x2="116.5" y2="861.4" stroke="#e00000" stroke-width="2.1"/>
<rect x="96.5" y="856.4" width="10" height="10" fill="#e00000"/>
<text x="126.9 137.3 145.8 149.7 153.8 162.7 168.3 177.3 182.3 186.2 194.9 203.6 208.1 216.0 224.8 230.7 238.7" y="866.5" font-size="14.00" fill="#111" font-family="Liberation Sans" stroke="#111" stroke-width="0.30">Calibration curve</text>
<line x1="86.9" y1="882.5" x2="116.5" y2="882.5" stroke="#111" stroke-width="2.1" stroke-dasharray="7.4 3.2"/>
<text x="126.7 136.0 144.2 149.9 154.8 163.3 171.5 176.5 180.7 188.6 193.1 200.9 209.4 213.3 217.4 226.3 231.9 240.8 245.9 254.7" y="887.5" font-size="14.00" fill="#111" font-family="Liberation Sans" stroke="#111" stroke-width="0.30">Perfectly calibrated</text>
<line x1="804.6" y1="808.5" x2="804.6" y2="1076" stroke="#eeeeee" stroke-width="1"/>
<line x1="893.2" y1="808.5" x2="893.2" y2="1076" stroke="#eeeeee" stroke-width="1"/>
<line x1="981.8" y1="808.5" x2="981.8" y2="1076" stroke="#eeeeee" stroke-width="1"/>
<line x1="1070.4" y1="808.5" x2="1070.4" y2="1076" stroke="#eeeeee" stroke-width="1"/>
<line x1="1159.0" y1="808.5" x2="1159.0" y2="1076" stroke="#eeeeee" stroke-width="1"/>
<line x1="1247.6" y1="808.5" x2="1247.6" y2="1076" stroke="#eeeeee" stroke-width="1"/>
<line x1="787" y1="1070.6" x2="1266" y2="1070.6" stroke="#eeeeee" stroke-width="1"/>
<line x1="787" y1="1022.6" x2="1266" y2="1022.6" stroke="#eeeeee" stroke-width="1"/>
<line x1="787" y1="974.7" x2="1266" y2="974.7" stroke="#eeeeee" stroke-width="1"/>
<line x1="787" y1="926.7" x2="1266" y2="926.7" stroke="#eeeeee" stroke-width="1"/>
<line x1="787" y1="878.8" x2="1266" y2="878.8" stroke="#eeeeee" stroke-width="1"/>
<line x1="787" y1="830.8" x2="1266" y2="830.8" stroke="#eeeeee" stroke-width="1"/>
<line x1="786.5" y1="830.8" x2="786.5" y2="1070.6" stroke="#555" stroke-width="1.1"/>
<line x1="779.6" y1="1070.6" x2="786.5" y2="1070.6" stroke="#555" stroke-width="1.1"/>
<text x="770.3" y="1070.6" font-size="11.60" text-anchor="middle" fill="#111" font-family="Liberation Sans" transform="rotate(-90 770.3 1070.6)" stroke="#111" stroke-width="0.30">0</text>
<line x1="779.6" y1="1022.6" x2="786.5" y2="1022.6" stroke="#555" stroke-width="1.1"/>
<text x="770.3" y="1022.6" font-size="11.60" text-anchor="middle" fill="#111" font-family="Liberation Sans" transform="rotate(-90 770.3 1022.6)" stroke="#111" stroke-width="0.30">200</text>
<line x1="779.6" y1="974.7" x2="786.5" y2="974.7" stroke="#555" stroke-width="1.1"/>
<text x="770.3" y="974.7" font-size="11.60" text-anchor="middle" fill="#111" font-family="Liberation Sans" transform="rotate(-90 770.3 974.7)" stroke="#111" stroke-width="0.30">400</text>
<line x1="779.6" y1="926.7" x2="786.5" y2="926.7" stroke="#555" stroke-width="1.1"/>
<text x="770.3" y="926.7" font-size="11.60" text-anchor="middle" fill="#111" font-family="Liberation Sans" transform="rotate(-90 770.3 926.7)" stroke="#111" stroke-width="0.30">600</text>
<line x1="779.6" y1="878.8" x2="786.5" y2="878.8" stroke="#555" stroke-width="1.1"/>
<text x="770.3" y="878.8" font-size="11.60" text-anchor="middle" fill="#111" font-family="Liberation Sans" transform="rotate(-90 770.3 878.8)" stroke="#111" stroke-width="0.30">800</text>
<line x1="779.6" y1="830.8" x2="786.5" y2="830.8" stroke="#555" stroke-width="1.1"/>
<text x="770.3" y="830.8" font-size="11.60" text-anchor="middle" fill="#111" font-family="Liberation Sans" transform="rotate(-90 770.3 830.8)" stroke="#111" stroke-width="0.30">1000</text>
<text x="741.7" y="945.0" font-size="11.60" text-anchor="middle" fill="#111" font-family="Liberation Sans" transform="rotate(-90 741.7 945.0)" stroke="#111" stroke-width="0.30">Number high risk (out of 1000)</text>
<line x1="804.6" y1="1080.8" x2="1247.6" y2="1080.8" stroke="#555" stroke-width="1.1"/>
<line x1="804.6" y1="1080.8" x2="804.6" y2="1087.3" stroke="#555" stroke-width="1.1"/>
<text x="804.6" y="1106.2" font-size="11.60" text-anchor="middle" fill="#111" font-family="Liberation Sans" stroke="#111" stroke-width="0.30">0.0</text>
<line x1="893.2" y1="1080.8" x2="893.2" y2="1087.3" stroke="#555" stroke-width="1.1"/>
<text x="893.2" y="1106.2" font-size="11.60" text-anchor="middle" fill="#111" font-family="Liberation Sans" stroke="#111" stroke-width="0.30">0.2</text>
<line x1="981.8" y1="1080.8" x2="981.8" y2="1087.3" stroke="#555" stroke-width="1.1"/>
<text x="981.8" y="1106.2" font-size="11.60" text-anchor="middle" fill="#111" font-family="Liberation Sans" stroke="#111" stroke-width="0.30">0.4</text>
<line x1="1070.4" y1="1080.8" x2="1070.4" y2="1087.3" stroke="#555" stroke-width="1.1"/>
<text x="1070.4" y="1106.2" font-size="11.60" text-anchor="middle" fill="#111" font-family="Liberation Sans" stroke="#111" stroke-width="0.30">0.6</text>
<line x1="1159.0" y1="1080.8" x2="1159.0" y2="1087.3" stroke="#555" stroke-width="1.1"/>
<text x="1159.0" y="1106.2" font-size="11.60" text-anchor="middle" fill="#111" font-family="Liberation Sans" stroke="#111" stroke-width="0.30">0.8</text>
<line x1="1247.6" y1="1080.8" x2="1247.6" y2="1087.3" stroke="#555" stroke-width="1.1"/>
<text x="1247.6" y="1106.2" font-size="11.60" text-anchor="middle" fill="#111" font-family="Liberation Sans" stroke="#111" stroke-width="0.30">1.0</text>
<text x="1026.1" y="1123.0" font-size="11.60" text-anchor="middle" fill="#111" font-family="Liberation Sans" stroke="#111" stroke-width="0.30">High Risk Threshold</text>
<line x1="808.8" y1="1136.2" x2="1243.2" y2="1136.2" stroke="#555" stroke-width="1.1"/>
<line x1="809.0" y1="1136.2" x2="809.0" y2="1143.2" stroke="#555" stroke-width="1.1"/>
<text x="809.0" y="1161.6" font-size="11.60" text-anchor="middle" fill="#111" font-family="Liberation Sans" stroke="#111" stroke-width="0.30">1:100</text>
<line x1="878.4" y1="1136.2" x2="878.4" y2="1143.2" stroke="#555" stroke-width="1.1"/>
<text x="878.4" y="1161.6" font-size="11.60" text-anchor="middle" fill="#111" font-family="Liberation Sans" stroke="#111" stroke-width="0.30">1:5</text>
<line x1="931.2" y1="1136.2" x2="931.2" y2="1143.2" stroke="#555" stroke-width="1.1"/>
<text x="931.2" y="1161.6" font-size="11.60" text-anchor="middle" fill="#111" font-family="Liberation Sans" stroke="#111" stroke-width="0.30">2:5</text>
<line x1="994.5" y1="1136.2" x2="994.5" y2="1143.2" stroke="#555" stroke-width="1.1"/>
<text x="994.5" y="1161.6" font-size="11.60" text-anchor="middle" fill="#111" font-family="Liberation Sans" stroke="#111" stroke-width="0.30">3:4</text>
<line x1="1057.7" y1="1136.2" x2="1057.7" y2="1143.2" stroke="#555" stroke-width="1.1"/>
<text x="1057.7" y="1161.6" font-size="11.60" text-anchor="middle" fill="#111" font-family="Liberation Sans" stroke="#111" stroke-width="0.30">4:3</text>
<line x1="1121.0" y1="1136.2" x2="1121.0" y2="1143.2" stroke="#555" stroke-width="1.1"/>
<text x="1121.0" y="1161.6" font-size="11.60" text-anchor="middle" fill="#111" font-family="Liberation Sans" stroke="#111" stroke-width="0.30">5:2</text>
<line x1="1173.8" y1="1136.2" x2="1173.8" y2="1143.2" stroke="#555" stroke-width="1.1"/>
<text x="1173.8" y="1161.6" font-size="11.60" text-anchor="middle" fill="#111" font-family="Liberation Sans" stroke="#111" stroke-width="0.30">5:1</text>
<line x1="1243.2" y1="1136.2" x2="1243.2" y2="1143.2" stroke="#555" stroke-width="1.1"/>
<text x="1243.2" y="1161.6" font-size="11.60" text-anchor="middle" fill="#111" font-family="Liberation Sans" stroke="#111" stroke-width="0.30">100:1</text>
<text x="1026.1" y="1176.6" font-size="11.60" text-anchor="middle" fill="#111" font-family="Liberation Sans" stroke="#111" stroke-width="0.30">Cost:Benefit Ratio</text>
<polyline points="804.6,830.8 809.1,962.9 810.8,977.1 812.8,988.1 815.7,996.3 818.2,1001.1 822.3,1007.8 825.9,1012.1 835.6,1015.4 848.9,1017.8 862.2,1019.8 866.6,1021.9 884.3,1023.4 915.4,1023.8 937.5,1025.0 959.6,1026.7 981.8,1027.4 1004.0,1029.1 1048.2,1029.8 1070.4,1030.8 1097.0,1030.8 1114.7,1031.8 1136.8,1033.0 1159.0,1034.2 1172.3,1034.4 1185.6,1035.6 1198.4,1037.5 1203.3,1040.6 1207.7,1047.8 1209.9,1061.0 1212.2,1070.6 1247.6,1070.6" fill="none" stroke="#e31a1c" stroke-width="2"/>
<polyline points="804.6,1029.4 810.6,1031.8 817.9,1032.5 848.9,1032.7 893.2,1033.2 937.5,1033.9 981.8,1034.2 1070.4,1034.2 1097.0,1034.2 1123.6,1035.6 1159.0,1035.8 1172.3,1036.1 1185.6,1037.0 1198.4,1038.0 1203.3,1041.1 1207.7,1048.3 1209.9,1061.0 1212.2,1070.6 1247.6,1070.6" fill="none" stroke="#2222cc" stroke-width="2" stroke-dasharray="7 5"/>
<rect x="1072.4" y="809" width="192.8" height="41.5" fill="#fff" stroke="#333" stroke-width="1.1"/>
<line x1="1081.9" y1="822.7" x2="1103.9" y2="822.7" stroke="#e31a1c" stroke-width="1.6"/>
<line x1="1081.9" y1="836.5" x2="1103.9" y2="836.5" stroke="#6666dd" stroke-width="1.2" stroke-dasharray="3.5 2.5"/>
<text x="1114.6" y="827.0" font-size="11.80" text-anchor="start" fill="#111" font-family="Liberation Sans" stroke="#111" stroke-width="0.30">Number high risk</text>
<text x="1114.6" y="840.8" font-size="11.80" text-anchor="start" fill="#111" font-family="Liberation Sans" stroke="#111" stroke-width="0.30">Number high risk with event</text>
</svg></body></html>
